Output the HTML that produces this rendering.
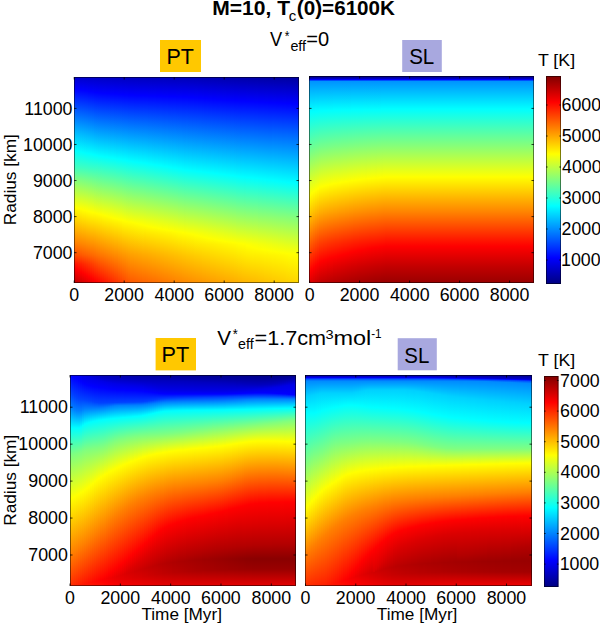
<!DOCTYPE html><html><head><meta charset="utf-8"><style>html,body{margin:0;padding:0;background:#fff;width:600px;height:625px;overflow:hidden}svg{display:block}</style></head><body><svg width="600" height="625" viewBox="0 0 600 625"><defs><linearGradient id="TL0" x2="0" y2="1"><stop offset="0" stop-color="#0000cc"/><stop offset="0.05825" stop-color="#0000fe"/><stop offset="0.06068" stop-color="#0002ff"/><stop offset="0.2718" stop-color="#00bcff"/><stop offset="0.3568" stop-color="#01fffe"/><stop offset="0.4417" stop-color="#42ffbd"/><stop offset="0.5049" stop-color="#89ff76"/><stop offset="0.6335" stop-color="#fffe00"/><stop offset="0.8058" stop-color="#ff8100"/><stop offset="0.8641" stop-color="#ff4e00"/><stop offset="0.9078" stop-color="#ff1200"/><stop offset="0.9272" stop-color="#ff0100"/><stop offset="1" stop-color="#bf0000"/></linearGradient><linearGradient id="TL1" x2="0" y2="1"><stop offset="0" stop-color="#0000cb"/><stop offset="0.06068" stop-color="#0000ff"/><stop offset="0.2718" stop-color="#00baff"/><stop offset="0.3592" stop-color="#01fffe"/><stop offset="0.4417" stop-color="#41ffbe"/><stop offset="0.5049" stop-color="#86ff79"/><stop offset="0.6359" stop-color="#ffff00"/><stop offset="0.8058" stop-color="#ff8300"/><stop offset="0.8641" stop-color="#ff5100"/><stop offset="0.9078" stop-color="#ff1700"/><stop offset="0.9345" stop-color="#ff0000"/><stop offset="1" stop-color="#c50000"/></linearGradient><linearGradient id="TL2" x2="0" y2="1"><stop offset="0" stop-color="#0000cb"/><stop offset="0.06311" stop-color="#0001ff"/><stop offset="0.2718" stop-color="#00b8ff"/><stop offset="0.3617" stop-color="#01fffe"/><stop offset="0.4417" stop-color="#40ffbf"/><stop offset="0.5049" stop-color="#84ff7b"/><stop offset="0.6383" stop-color="#ffff00"/><stop offset="0.8058" stop-color="#ff8500"/><stop offset="0.8641" stop-color="#ff5400"/><stop offset="0.9078" stop-color="#ff1c00"/><stop offset="0.9393" stop-color="#ff0100"/><stop offset="1" stop-color="#ca0000"/></linearGradient><linearGradient id="TL3" x2="0" y2="1"><stop offset="0" stop-color="#0000ca"/><stop offset="0.06311" stop-color="#0000ff"/><stop offset="0.2718" stop-color="#00b5ff"/><stop offset="0.3641" stop-color="#01fffe"/><stop offset="0.4417" stop-color="#3fffc0"/><stop offset="0.5049" stop-color="#82ff7d"/><stop offset="0.6408" stop-color="#feff01"/><stop offset="0.8058" stop-color="#ff8800"/><stop offset="0.8641" stop-color="#ff5700"/><stop offset="0.9078" stop-color="#ff2100"/><stop offset="0.9442" stop-color="#ff0200"/><stop offset="0.9466" stop-color="#ff0000"/><stop offset="1" stop-color="#d00000"/></linearGradient><linearGradient id="TL4" x2="0" y2="1"><stop offset="0" stop-color="#0000ca"/><stop offset="0.06553" stop-color="#0001ff"/><stop offset="0.2718" stop-color="#00b3ff"/><stop offset="0.3665" stop-color="#01fffe"/><stop offset="0.4417" stop-color="#3effc1"/><stop offset="0.5049" stop-color="#80ff7f"/><stop offset="0.6311" stop-color="#f4ff0b"/><stop offset="0.6456" stop-color="#fffe00"/><stop offset="0.8058" stop-color="#ff8a00"/><stop offset="0.8641" stop-color="#ff5b00"/><stop offset="0.9078" stop-color="#ff2600"/><stop offset="0.9515" stop-color="#ff0100"/><stop offset="1" stop-color="#d50000"/></linearGradient><linearGradient id="TL5" x2="0" y2="1"><stop offset="0" stop-color="#0000c9"/><stop offset="0.06553" stop-color="#0000ff"/><stop offset="0.2718" stop-color="#00b1ff"/><stop offset="0.3689" stop-color="#01fffe"/><stop offset="0.4417" stop-color="#3dffc2"/><stop offset="0.5049" stop-color="#7eff81"/><stop offset="0.6311" stop-color="#f2ff0d"/><stop offset="0.6481" stop-color="#fffe00"/><stop offset="0.8058" stop-color="#ff8c00"/><stop offset="0.8641" stop-color="#ff5e00"/><stop offset="0.9078" stop-color="#ff2b00"/><stop offset="0.9563" stop-color="#ff0200"/><stop offset="0.9587" stop-color="#ff0000"/><stop offset="1" stop-color="#db0000"/></linearGradient><linearGradient id="TL6" x2="0" y2="1"><stop offset="0" stop-color="#0000c8"/><stop offset="0.06796" stop-color="#0001ff"/><stop offset="0.2718" stop-color="#00afff"/><stop offset="0.3714" stop-color="#01fffe"/><stop offset="0.4417" stop-color="#3cffc3"/><stop offset="0.5049" stop-color="#7cff83"/><stop offset="0.6311" stop-color="#f0ff0f"/><stop offset="0.6505" stop-color="#ffff00"/><stop offset="0.8058" stop-color="#ff8f00"/><stop offset="0.8641" stop-color="#ff6100"/><stop offset="0.9078" stop-color="#ff3000"/><stop offset="0.9636" stop-color="#ff0100"/><stop offset="1" stop-color="#e00000"/></linearGradient><linearGradient id="TL7" x2="0" y2="1"><stop offset="0" stop-color="#0000c8"/><stop offset="0.07039" stop-color="#0001ff"/><stop offset="0.2718" stop-color="#00adff"/><stop offset="0.3714" stop-color="#00ffff"/><stop offset="0.3738" stop-color="#02fffd"/><stop offset="0.4417" stop-color="#3affc5"/><stop offset="0.5049" stop-color="#7aff85"/><stop offset="0.6311" stop-color="#edff12"/><stop offset="0.6529" stop-color="#ffff00"/><stop offset="0.8058" stop-color="#ff9100"/><stop offset="0.8641" stop-color="#ff6400"/><stop offset="0.9078" stop-color="#ff3500"/><stop offset="0.9709" stop-color="#ff0000"/><stop offset="1" stop-color="#e60000"/></linearGradient><linearGradient id="TL8" x2="0" y2="1"><stop offset="0" stop-color="#0000c7"/><stop offset="0.07039" stop-color="#0000ff"/><stop offset="0.2718" stop-color="#00abff"/><stop offset="0.3738" stop-color="#00ffff"/><stop offset="0.3762" stop-color="#02fffd"/><stop offset="0.4417" stop-color="#39ffc6"/><stop offset="0.5049" stop-color="#78ff87"/><stop offset="0.6311" stop-color="#ebff14"/><stop offset="0.6553" stop-color="#ffff00"/><stop offset="0.8058" stop-color="#ff9300"/><stop offset="0.8641" stop-color="#ff6700"/><stop offset="0.9078" stop-color="#ff3a00"/><stop offset="0.9757" stop-color="#ff0100"/><stop offset="1" stop-color="#eb0000"/></linearGradient><linearGradient id="TL9" x2="0" y2="1"><stop offset="0" stop-color="#0000c7"/><stop offset="0.07282" stop-color="#0001ff"/><stop offset="0.2718" stop-color="#00a9ff"/><stop offset="0.3762" stop-color="#00ffff"/><stop offset="0.4417" stop-color="#38ffc7"/><stop offset="0.5049" stop-color="#75ff8a"/><stop offset="0.6311" stop-color="#e9ff16"/><stop offset="0.6578" stop-color="#ffff00"/><stop offset="0.8641" stop-color="#ff6a00"/><stop offset="0.9078" stop-color="#ff3f00"/><stop offset="0.983" stop-color="#ff0000"/><stop offset="1" stop-color="#f10000"/></linearGradient><linearGradient id="TL10" x2="0" y2="1"><stop offset="0" stop-color="#0000c6"/><stop offset="0.07524" stop-color="#0001ff"/><stop offset="0.3786" stop-color="#00ffff"/><stop offset="0.4417" stop-color="#37ffc8"/><stop offset="0.5049" stop-color="#73ff8c"/><stop offset="0.6602" stop-color="#fffe00"/><stop offset="0.8641" stop-color="#ff6d00"/><stop offset="0.9078" stop-color="#ff4500"/><stop offset="0.9879" stop-color="#ff0200"/><stop offset="1" stop-color="#f60000"/></linearGradient><linearGradient id="TL11" x2="0" y2="1"><stop offset="0" stop-color="#0000c6"/><stop offset="0.07524" stop-color="#0000ff"/><stop offset="0.3811" stop-color="#01fffe"/><stop offset="0.6626" stop-color="#fffe00"/><stop offset="0.8641" stop-color="#ff7100"/><stop offset="0.9078" stop-color="#ff4a00"/><stop offset="0.9951" stop-color="#ff0100"/><stop offset="1" stop-color="#fc0000"/></linearGradient><linearGradient id="TL12" x2="0" y2="1"><stop offset="0" stop-color="#0000c5"/><stop offset="0.07767" stop-color="#0001ff"/><stop offset="0.3835" stop-color="#01fffe"/><stop offset="0.665" stop-color="#fffe00"/><stop offset="0.8641" stop-color="#ff7400"/><stop offset="1" stop-color="#ff0200"/></linearGradient><linearGradient id="TL13" x2="0" y2="1"><stop offset="0" stop-color="#0000c5"/><stop offset="0.07767" stop-color="#0000ff"/><stop offset="0.3835" stop-color="#00feff"/><stop offset="0.3859" stop-color="#02fffd"/><stop offset="0.6675" stop-color="#fffe00"/><stop offset="0.8641" stop-color="#ff7700"/><stop offset="1" stop-color="#ff0800"/></linearGradient><linearGradient id="TL14" x2="0" y2="1"><stop offset="0" stop-color="#0000c4"/><stop offset="0.0801" stop-color="#0001ff"/><stop offset="0.3859" stop-color="#00ffff"/><stop offset="0.6699" stop-color="#ffff00"/><stop offset="0.8641" stop-color="#ff7900"/><stop offset="1" stop-color="#ff0d00"/></linearGradient><linearGradient id="TL15" x2="0" y2="1"><stop offset="0" stop-color="#0000c4"/><stop offset="0.0801" stop-color="#0001ff"/><stop offset="0.3883" stop-color="#01fffe"/><stop offset="0.6723" stop-color="#ffff00"/><stop offset="0.8641" stop-color="#ff7c00"/><stop offset="1" stop-color="#ff1300"/></linearGradient><linearGradient id="TL16" x2="0" y2="1"><stop offset="0" stop-color="#0000c3"/><stop offset="0.0801" stop-color="#0000ff"/><stop offset="0.3883" stop-color="#00ffff"/><stop offset="0.3908" stop-color="#02fffd"/><stop offset="0.665" stop-color="#f7ff08"/><stop offset="0.6748" stop-color="#feff01"/><stop offset="0.8641" stop-color="#ff7f00"/><stop offset="1" stop-color="#ff1800"/></linearGradient><linearGradient id="TL17" x2="0" y2="1"><stop offset="0" stop-color="#0000c3"/><stop offset="0.0801" stop-color="#0000ff"/><stop offset="0.3908" stop-color="#01fffe"/><stop offset="0.665" stop-color="#f5ff0a"/><stop offset="0.6796" stop-color="#fffe00"/><stop offset="0.7039" stop-color="#ffec00"/><stop offset="0.8641" stop-color="#ff8200"/><stop offset="1" stop-color="#ff1e00"/></linearGradient><linearGradient id="TL18" x2="0" y2="1"><stop offset="0" stop-color="#0000c3"/><stop offset="0.08252" stop-color="#0001ff"/><stop offset="0.3932" stop-color="#01fffe"/><stop offset="0.665" stop-color="#f3ff0c"/><stop offset="0.682" stop-color="#fffe00"/><stop offset="0.7039" stop-color="#ffee00"/><stop offset="0.8641" stop-color="#ff8400"/><stop offset="1" stop-color="#ff2300"/></linearGradient><linearGradient id="TL19" x2="0" y2="1"><stop offset="0" stop-color="#0000c2"/><stop offset="0.08252" stop-color="#0001ff"/><stop offset="0.3932" stop-color="#00ffff"/><stop offset="0.665" stop-color="#f1ff0e"/><stop offset="0.6845" stop-color="#ffff00"/><stop offset="0.7039" stop-color="#fff000"/><stop offset="0.8641" stop-color="#ff8700"/><stop offset="1" stop-color="#ff2800"/></linearGradient><linearGradient id="TL20" x2="0" y2="1"><stop offset="0" stop-color="#0000c2"/><stop offset="0.08252" stop-color="#0000ff"/><stop offset="0.3956" stop-color="#01fffe"/><stop offset="0.665" stop-color="#eeff11"/><stop offset="0.6869" stop-color="#ffff00"/><stop offset="0.7039" stop-color="#fff200"/><stop offset="0.8641" stop-color="#ff8a00"/><stop offset="1" stop-color="#ff2e00"/></linearGradient><linearGradient id="TL21" x2="0" y2="1"><stop offset="0" stop-color="#0000c1"/><stop offset="0.08252" stop-color="#0000ff"/><stop offset="0.3981" stop-color="#01fffe"/><stop offset="0.665" stop-color="#ecff13"/><stop offset="0.6893" stop-color="#ffff00"/><stop offset="0.7039" stop-color="#fff300"/><stop offset="1" stop-color="#ff3300"/></linearGradient><linearGradient id="TL22" x2="0" y2="1"><stop offset="0" stop-color="#0000c1"/><stop offset="0.08495" stop-color="#0001ff"/><stop offset="0.3981" stop-color="#00ffff"/><stop offset="0.665" stop-color="#eaff15"/><stop offset="0.6917" stop-color="#ffff00"/><stop offset="0.7039" stop-color="#fff500"/><stop offset="1" stop-color="#ff3900"/></linearGradient><linearGradient id="TL23" x2="0" y2="1"><stop offset="0" stop-color="#0000c1"/><stop offset="0.08495" stop-color="#0001ff"/><stop offset="0.4005" stop-color="#01fffe"/><stop offset="0.665" stop-color="#e8ff17"/><stop offset="0.6942" stop-color="#ffff00"/><stop offset="0.7039" stop-color="#fff700"/><stop offset="0.8641" stop-color="#ff9200"/><stop offset="1" stop-color="#ff3e00"/></linearGradient><linearGradient id="TL24" x2="0" y2="1"><stop offset="0" stop-color="#0000c0"/><stop offset="0.08495" stop-color="#0000ff"/><stop offset="0.4029" stop-color="#01fffe"/><stop offset="0.665" stop-color="#e5ff1a"/><stop offset="0.6966" stop-color="#ffff00"/><stop offset="0.8641" stop-color="#ff9500"/><stop offset="1" stop-color="#ff4400"/></linearGradient><linearGradient id="TL25" x2="0" y2="1"><stop offset="0" stop-color="#0000c0"/><stop offset="0.08738" stop-color="#0001ff"/><stop offset="0.4029" stop-color="#00ffff"/><stop offset="0.4053" stop-color="#02fffd"/><stop offset="0.699" stop-color="#ffff00"/><stop offset="0.8641" stop-color="#ff9700"/><stop offset="1" stop-color="#ff4900"/></linearGradient><linearGradient id="TL26" x2="0" y2="1"><stop offset="0" stop-color="#0000bf"/><stop offset="0.08738" stop-color="#0001ff"/><stop offset="0.4053" stop-color="#00ffff"/><stop offset="0.7015" stop-color="#fffe00"/><stop offset="0.8641" stop-color="#ff9a00"/><stop offset="1" stop-color="#ff4f00"/></linearGradient><linearGradient id="TL27" x2="0" y2="1"><stop offset="0" stop-color="#0000bf"/><stop offset="0.08738" stop-color="#0000ff"/><stop offset="0.4078" stop-color="#01fffe"/><stop offset="0.7039" stop-color="#fffe00"/><stop offset="0.8641" stop-color="#ff9d00"/><stop offset="1" stop-color="#ff5400"/></linearGradient><linearGradient id="TL28" x2="0" y2="1"><stop offset="0" stop-color="#0000bf"/><stop offset="0.08738" stop-color="#0000ff"/><stop offset="0.4078" stop-color="#00feff"/><stop offset="0.4102" stop-color="#02fffd"/><stop offset="0.7039" stop-color="#feff01"/><stop offset="0.8641" stop-color="#ff9f00"/><stop offset="1" stop-color="#ff5800"/></linearGradient><linearGradient id="TL29" x2="0" y2="1"><stop offset="0" stop-color="#0000be"/><stop offset="0.08738" stop-color="#0000ff"/><stop offset="0.4102" stop-color="#00ffff"/><stop offset="0.7063" stop-color="#feff01"/><stop offset="0.8641" stop-color="#ffa000"/><stop offset="1" stop-color="#ff5900"/></linearGradient><linearGradient id="TL30" x2="0" y2="1"><stop offset="0" stop-color="#0000be"/><stop offset="0.08981" stop-color="#0001ff"/><stop offset="0.4126" stop-color="#01fffe"/><stop offset="0.7087" stop-color="#feff01"/><stop offset="0.8641" stop-color="#ffa200"/><stop offset="1" stop-color="#ff5b00"/></linearGradient><linearGradient id="TL31" x2="0" y2="1"><stop offset="0" stop-color="#0000be"/><stop offset="0.08981" stop-color="#0001ff"/><stop offset="0.4126" stop-color="#00ffff"/><stop offset="0.7039" stop-color="#f9ff06"/><stop offset="0.7112" stop-color="#feff01"/><stop offset="0.8641" stop-color="#ffa300"/><stop offset="1" stop-color="#ff5d00"/></linearGradient><linearGradient id="TL32" x2="0" y2="1"><stop offset="0" stop-color="#0000bd"/><stop offset="0.08981" stop-color="#0001ff"/><stop offset="0.415" stop-color="#01fffe"/><stop offset="0.7039" stop-color="#f8ff07"/><stop offset="0.7136" stop-color="#feff01"/><stop offset="0.8641" stop-color="#ffa500"/><stop offset="1" stop-color="#ff5f00"/></linearGradient><linearGradient id="TL33" x2="0" y2="1"><stop offset="0" stop-color="#0000bd"/><stop offset="0.08981" stop-color="#0000ff"/><stop offset="0.415" stop-color="#00ffff"/><stop offset="0.7039" stop-color="#f6ff09"/><stop offset="0.716" stop-color="#feff01"/><stop offset="0.8641" stop-color="#ffa600"/><stop offset="1" stop-color="#ff6100"/></linearGradient><linearGradient id="TL34" x2="0" y2="1"><stop offset="0" stop-color="#0000bd"/><stop offset="0.08981" stop-color="#0000ff"/><stop offset="0.4175" stop-color="#01fffe"/><stop offset="0.7039" stop-color="#f5ff0a"/><stop offset="0.7184" stop-color="#feff01"/><stop offset="0.8641" stop-color="#ffa800"/><stop offset="1" stop-color="#ff6300"/></linearGradient><linearGradient id="TL35" x2="0" y2="1"><stop offset="0" stop-color="#0000bd"/><stop offset="0.08981" stop-color="#0000ff"/><stop offset="0.4175" stop-color="#00ffff"/><stop offset="0.4199" stop-color="#02fffd"/><stop offset="0.7039" stop-color="#f3ff0c"/><stop offset="0.7209" stop-color="#feff01"/><stop offset="0.7573" stop-color="#ffe700"/><stop offset="0.8641" stop-color="#ffa900"/><stop offset="1" stop-color="#ff6400"/></linearGradient><linearGradient id="TL36" x2="0" y2="1"><stop offset="0" stop-color="#0000bc"/><stop offset="0.08981" stop-color="#0000ff"/><stop offset="0.4199" stop-color="#00ffff"/><stop offset="0.7039" stop-color="#f1ff0e"/><stop offset="0.7233" stop-color="#ffff00"/><stop offset="0.7573" stop-color="#ffe900"/><stop offset="0.8641" stop-color="#ffaa00"/><stop offset="1" stop-color="#ff6600"/></linearGradient><linearGradient id="TL37" x2="0" y2="1"><stop offset="0" stop-color="#0000bc"/><stop offset="0.09223" stop-color="#0001ff"/><stop offset="0.4223" stop-color="#01fffe"/><stop offset="0.7039" stop-color="#f0ff0f"/><stop offset="0.7257" stop-color="#ffff00"/><stop offset="0.7573" stop-color="#ffea00"/><stop offset="0.8641" stop-color="#ffac00"/><stop offset="1" stop-color="#ff6800"/></linearGradient><linearGradient id="TL38" x2="0" y2="1"><stop offset="0" stop-color="#0000bc"/><stop offset="0.09223" stop-color="#0001ff"/><stop offset="0.4223" stop-color="#00ffff"/><stop offset="0.7039" stop-color="#eeff11"/><stop offset="0.7282" stop-color="#ffff00"/><stop offset="0.7573" stop-color="#ffeb00"/><stop offset="0.8641" stop-color="#ffad00"/><stop offset="1" stop-color="#ff6a00"/></linearGradient><linearGradient id="TL39" x2="0" y2="1"><stop offset="0" stop-color="#0000bb"/><stop offset="0.09223" stop-color="#0001ff"/><stop offset="0.4248" stop-color="#01fffe"/><stop offset="0.7039" stop-color="#edff12"/><stop offset="0.7306" stop-color="#ffff00"/><stop offset="0.7573" stop-color="#ffec00"/><stop offset="0.8641" stop-color="#ffaf00"/><stop offset="1" stop-color="#ff6c00"/></linearGradient><linearGradient id="TL40" x2="0" y2="1"><stop offset="0" stop-color="#0000bb"/><stop offset="0.09223" stop-color="#0001ff"/><stop offset="0.4272" stop-color="#01fffe"/><stop offset="0.7039" stop-color="#ebff14"/><stop offset="0.7306" stop-color="#feff01"/><stop offset="0.7573" stop-color="#ffed00"/><stop offset="0.8641" stop-color="#ffb000"/><stop offset="1" stop-color="#ff6d00"/></linearGradient><linearGradient id="TL41" x2="0" y2="1"><stop offset="0" stop-color="#0000bb"/><stop offset="0.09223" stop-color="#0000ff"/><stop offset="0.4272" stop-color="#00ffff"/><stop offset="0.7039" stop-color="#eaff15"/><stop offset="0.733" stop-color="#feff01"/><stop offset="0.7573" stop-color="#ffee00"/><stop offset="0.8641" stop-color="#ffb200"/><stop offset="1" stop-color="#ff6f00"/></linearGradient><linearGradient id="TL42" x2="0" y2="1"><stop offset="0" stop-color="#0000bb"/><stop offset="0.09223" stop-color="#0000ff"/><stop offset="0.4296" stop-color="#01fffe"/><stop offset="0.7039" stop-color="#e8ff17"/><stop offset="0.7354" stop-color="#ffff00"/><stop offset="0.7573" stop-color="#ffef00"/><stop offset="0.8641" stop-color="#ffb300"/><stop offset="1" stop-color="#ff7100"/></linearGradient><linearGradient id="TL43" x2="0" y2="1"><stop offset="0" stop-color="#0000ba"/><stop offset="0.09223" stop-color="#0000ff"/><stop offset="0.4296" stop-color="#00ffff"/><stop offset="0.432" stop-color="#02fffd"/><stop offset="0.7039" stop-color="#e6ff19"/><stop offset="0.7379" stop-color="#ffff00"/><stop offset="0.7573" stop-color="#fff100"/><stop offset="0.8641" stop-color="#ffb500"/><stop offset="1" stop-color="#ff7300"/></linearGradient><linearGradient id="TL44" x2="0" y2="1"><stop offset="0" stop-color="#0000ba"/><stop offset="0.09466" stop-color="#0001ff"/><stop offset="0.432" stop-color="#00ffff"/><stop offset="0.7039" stop-color="#e5ff1a"/><stop offset="0.7403" stop-color="#fffe00"/><stop offset="0.7573" stop-color="#fff200"/><stop offset="0.8641" stop-color="#ffb600"/><stop offset="1" stop-color="#ff7500"/></linearGradient><linearGradient id="TL45" x2="0" y2="1"><stop offset="0" stop-color="#0000ba"/><stop offset="0.09466" stop-color="#0001ff"/><stop offset="0.4345" stop-color="#01fffe"/><stop offset="0.7039" stop-color="#e3ff1c"/><stop offset="0.7403" stop-color="#feff01"/><stop offset="0.7573" stop-color="#fff300"/><stop offset="0.8641" stop-color="#ffb800"/><stop offset="1" stop-color="#ff7700"/></linearGradient><linearGradient id="TL46" x2="0" y2="1"><stop offset="0" stop-color="#0000b9"/><stop offset="0.09466" stop-color="#0001ff"/><stop offset="0.4345" stop-color="#00ffff"/><stop offset="0.7039" stop-color="#e2ff1d"/><stop offset="0.7427" stop-color="#ffff00"/><stop offset="0.7573" stop-color="#fff400"/><stop offset="0.8641" stop-color="#ffb900"/><stop offset="1" stop-color="#ff7800"/></linearGradient><linearGradient id="TL47" x2="0" y2="1"><stop offset="0" stop-color="#0000b9"/><stop offset="0.09466" stop-color="#0000ff"/><stop offset="0.4369" stop-color="#00ffff"/><stop offset="0.7039" stop-color="#e0ff1f"/><stop offset="0.7451" stop-color="#fffe00"/><stop offset="0.7573" stop-color="#fff500"/><stop offset="0.8641" stop-color="#ffbb00"/><stop offset="1" stop-color="#ff7a00"/></linearGradient><linearGradient id="TL48" x2="0" y2="1"><stop offset="0" stop-color="#0000b9"/><stop offset="0.09466" stop-color="#0000ff"/><stop offset="0.4393" stop-color="#01fffe"/><stop offset="0.7039" stop-color="#deff21"/><stop offset="0.7451" stop-color="#feff01"/><stop offset="0.7573" stop-color="#fff600"/><stop offset="0.8641" stop-color="#ffbc00"/><stop offset="1" stop-color="#ff7c00"/></linearGradient><linearGradient id="TL49" x2="0" y2="1"><stop offset="0" stop-color="#0000b8"/><stop offset="0.09466" stop-color="#0000ff"/><stop offset="0.4417" stop-color="#01fffe"/><stop offset="0.7039" stop-color="#ddff22"/><stop offset="0.7476" stop-color="#ffff00"/><stop offset="0.7573" stop-color="#fff800"/><stop offset="0.8641" stop-color="#ffbd00"/><stop offset="1" stop-color="#ff7e00"/></linearGradient><linearGradient id="TL50" x2="0" y2="1"><stop offset="0" stop-color="#0000b8"/><stop offset="0.09466" stop-color="#0000ff"/><stop offset="0.4417" stop-color="#00ffff"/><stop offset="0.7039" stop-color="#dbff24"/><stop offset="0.75" stop-color="#fffe00"/><stop offset="0.7573" stop-color="#fff900"/><stop offset="0.8641" stop-color="#ffbf00"/><stop offset="1" stop-color="#ff8000"/></linearGradient><linearGradient id="TL51" x2="0" y2="1"><stop offset="0" stop-color="#0000b8"/><stop offset="0.09709" stop-color="#0001ff"/><stop offset="0.4442" stop-color="#01fffe"/><stop offset="0.7039" stop-color="#daff25"/><stop offset="0.75" stop-color="#feff01"/><stop offset="0.8641" stop-color="#ffc000"/><stop offset="1" stop-color="#ff8200"/></linearGradient><linearGradient id="TL52" x2="0" y2="1"><stop offset="0" stop-color="#0000b8"/><stop offset="0.09709" stop-color="#0001ff"/><stop offset="0.4466" stop-color="#01fffe"/><stop offset="0.7524" stop-color="#ffff00"/><stop offset="0.8641" stop-color="#ffc200"/><stop offset="1" stop-color="#ff8300"/></linearGradient><linearGradient id="TL53" x2="0" y2="1"><stop offset="0" stop-color="#0000b7"/><stop offset="0.09709" stop-color="#0001ff"/><stop offset="0.4466" stop-color="#00ffff"/><stop offset="0.7524" stop-color="#feff01"/><stop offset="0.8641" stop-color="#ffc300"/><stop offset="1" stop-color="#ff8500"/></linearGradient><linearGradient id="TL54" x2="0" y2="1"><stop offset="0" stop-color="#0000b7"/><stop offset="0.09709" stop-color="#0000ff"/><stop offset="0.449" stop-color="#00ffff"/><stop offset="0.7549" stop-color="#ffff00"/><stop offset="0.8641" stop-color="#ffc500"/><stop offset="1" stop-color="#ff8700"/></linearGradient><linearGradient id="TL55" x2="0" y2="1"><stop offset="0" stop-color="#0000b7"/><stop offset="0.09709" stop-color="#0000ff"/><stop offset="0.4515" stop-color="#01fffe"/><stop offset="0.7573" stop-color="#fffe00"/><stop offset="0.8641" stop-color="#ffc600"/><stop offset="1" stop-color="#ff8900"/></linearGradient><linearGradient id="TL56" x2="0" y2="1"><stop offset="0" stop-color="#0000b6"/><stop offset="0.09709" stop-color="#0000ff"/><stop offset="0.4515" stop-color="#00ffff"/><stop offset="0.4539" stop-color="#02fffd"/><stop offset="0.7573" stop-color="#feff01"/><stop offset="0.8641" stop-color="#ffc800"/><stop offset="1" stop-color="#ff8a00"/></linearGradient><linearGradient id="TL57" x2="0" y2="1"><stop offset="0" stop-color="#0000b6"/><stop offset="0.09951" stop-color="#0001ff"/><stop offset="0.4539" stop-color="#01fffe"/><stop offset="0.7597" stop-color="#feff01"/><stop offset="0.8641" stop-color="#ffc900"/><stop offset="1" stop-color="#ff8c00"/></linearGradient><linearGradient id="TL58" x2="0" y2="1"><stop offset="0" stop-color="#0000b5"/><stop offset="0.09951" stop-color="#0000ff"/><stop offset="0.4539" stop-color="#00ffff"/><stop offset="0.7621" stop-color="#feff01"/><stop offset="0.8641" stop-color="#ffca00"/><stop offset="1" stop-color="#ff8d00"/></linearGradient><linearGradient id="TL59" x2="0" y2="1"><stop offset="0" stop-color="#0000b5"/><stop offset="0.09951" stop-color="#0000ff"/><stop offset="0.4563" stop-color="#01fffe"/><stop offset="0.7573" stop-color="#faff05"/><stop offset="0.7646" stop-color="#feff01"/><stop offset="0.8641" stop-color="#ffcb00"/><stop offset="1" stop-color="#ff8f00"/></linearGradient><linearGradient id="TL60" x2="0" y2="1"><stop offset="0" stop-color="#0000b4"/><stop offset="0.1019" stop-color="#0001ff"/><stop offset="0.4563" stop-color="#00ffff"/><stop offset="0.7573" stop-color="#f8ff07"/><stop offset="0.767" stop-color="#feff01"/><stop offset="0.8641" stop-color="#ffcd00"/><stop offset="1" stop-color="#ff9000"/></linearGradient><linearGradient id="TL61" x2="0" y2="1"><stop offset="0" stop-color="#0000b4"/><stop offset="0.1019" stop-color="#0001ff"/><stop offset="0.4587" stop-color="#01fffe"/><stop offset="0.7573" stop-color="#f7ff08"/><stop offset="0.7694" stop-color="#feff01"/><stop offset="0.8641" stop-color="#ffce00"/><stop offset="1" stop-color="#ff9200"/></linearGradient><linearGradient id="TL62" x2="0" y2="1"><stop offset="0" stop-color="#0000b3"/><stop offset="0.1019" stop-color="#0000ff"/><stop offset="0.4587" stop-color="#00ffff"/><stop offset="0.7573" stop-color="#f5ff0a"/><stop offset="0.7718" stop-color="#feff01"/><stop offset="0.8641" stop-color="#ffcf00"/><stop offset="1" stop-color="#ff9300"/></linearGradient><linearGradient id="TL63" x2="0" y2="1"><stop offset="0" stop-color="#0000b3"/><stop offset="0.1019" stop-color="#0000ff"/><stop offset="0.4587" stop-color="#00ffff"/><stop offset="0.4612" stop-color="#02fffd"/><stop offset="0.7573" stop-color="#f4ff0b"/><stop offset="0.7743" stop-color="#feff01"/><stop offset="0.8107" stop-color="#ffea00"/><stop offset="0.8641" stop-color="#ffd000"/><stop offset="1" stop-color="#ff9400"/></linearGradient><linearGradient id="TL64" x2="0" y2="1"><stop offset="0" stop-color="#0000b2"/><stop offset="0.1044" stop-color="#0001ff"/><stop offset="0.4612" stop-color="#01fffe"/><stop offset="0.7573" stop-color="#f3ff0c"/><stop offset="0.7767" stop-color="#feff01"/><stop offset="0.8107" stop-color="#ffeb00"/><stop offset="0.8641" stop-color="#ffd200"/><stop offset="1" stop-color="#ff9600"/></linearGradient><linearGradient id="TL65" x2="0" y2="1"><stop offset="0" stop-color="#0000b2"/><stop offset="0.1044" stop-color="#0000ff"/><stop offset="0.4612" stop-color="#00ffff"/><stop offset="0.7573" stop-color="#f1ff0e"/><stop offset="0.7791" stop-color="#feff01"/><stop offset="0.8107" stop-color="#ffec00"/><stop offset="0.8641" stop-color="#ffd300"/><stop offset="1" stop-color="#ff9700"/></linearGradient><linearGradient id="TL66" x2="0" y2="1"><stop offset="0" stop-color="#0000b1"/><stop offset="0.1044" stop-color="#0000ff"/><stop offset="0.4636" stop-color="#01fffe"/><stop offset="0.7573" stop-color="#f0ff0f"/><stop offset="0.7816" stop-color="#ffff00"/><stop offset="0.8107" stop-color="#ffed00"/><stop offset="0.8641" stop-color="#ffd400"/><stop offset="1" stop-color="#ff9900"/></linearGradient><linearGradient id="TL67" x2="0" y2="1"><stop offset="0" stop-color="#0000b1"/><stop offset="0.1068" stop-color="#0001ff"/><stop offset="0.4636" stop-color="#00ffff"/><stop offset="0.7573" stop-color="#eeff11"/><stop offset="0.784" stop-color="#ffff00"/><stop offset="0.8107" stop-color="#ffee00"/><stop offset="0.8641" stop-color="#ffd500"/><stop offset="1" stop-color="#ff9a00"/></linearGradient><linearGradient id="TL68" x2="0" y2="1"><stop offset="0" stop-color="#0000b0"/><stop offset="0.1068" stop-color="#0001ff"/><stop offset="0.466" stop-color="#01fffe"/><stop offset="0.7573" stop-color="#edff12"/><stop offset="0.7864" stop-color="#ffff00"/><stop offset="0.8107" stop-color="#ffef00"/><stop offset="1" stop-color="#ff9c00"/></linearGradient><linearGradient id="TL69" x2="0" y2="1"><stop offset="0" stop-color="#0000b0"/><stop offset="0.1068" stop-color="#0000ff"/><stop offset="0.466" stop-color="#00ffff"/><stop offset="0.7573" stop-color="#ebff14"/><stop offset="0.7864" stop-color="#feff01"/><stop offset="0.8107" stop-color="#fff000"/><stop offset="1" stop-color="#ff9d00"/></linearGradient><linearGradient id="TL70" x2="0" y2="1"><stop offset="0" stop-color="#0000af"/><stop offset="0.1068" stop-color="#0000ff"/><stop offset="0.4684" stop-color="#01fffe"/><stop offset="0.7573" stop-color="#eaff15"/><stop offset="0.7888" stop-color="#feff01"/><stop offset="0.8107" stop-color="#fff100"/><stop offset="1" stop-color="#ff9e00"/></linearGradient><linearGradient id="TL71" x2="0" y2="1"><stop offset="0" stop-color="#0000af"/><stop offset="0.1092" stop-color="#0001ff"/><stop offset="0.4684" stop-color="#00ffff"/><stop offset="0.7573" stop-color="#e8ff17"/><stop offset="0.7913" stop-color="#ffff00"/><stop offset="0.8107" stop-color="#fff200"/><stop offset="1" stop-color="#ffa000"/></linearGradient><linearGradient id="TL72" x2="0" y2="1"><stop offset="0" stop-color="#0000ae"/><stop offset="0.1092" stop-color="#0001ff"/><stop offset="0.4709" stop-color="#01fffe"/><stop offset="0.7573" stop-color="#e7ff18"/><stop offset="0.7937" stop-color="#ffff00"/><stop offset="0.8107" stop-color="#fff300"/><stop offset="1" stop-color="#ffa100"/></linearGradient><linearGradient id="TL73" x2="0" y2="1"><stop offset="0" stop-color="#0000ae"/><stop offset="0.1092" stop-color="#0000ff"/><stop offset="0.4709" stop-color="#00ffff"/><stop offset="0.7573" stop-color="#e5ff1a"/><stop offset="0.7937" stop-color="#feff01"/><stop offset="0.8107" stop-color="#fff400"/><stop offset="1" stop-color="#ffa300"/></linearGradient><linearGradient id="TL74" x2="0" y2="1"><stop offset="0" stop-color="#0000ad"/><stop offset="0.1117" stop-color="#0001ff"/><stop offset="0.4733" stop-color="#01fffe"/><stop offset="0.7573" stop-color="#e4ff1b"/><stop offset="0.7961" stop-color="#ffff00"/><stop offset="0.8107" stop-color="#fff500"/><stop offset="1" stop-color="#ffa400"/></linearGradient><linearGradient id="TL75" x2="0" y2="1"><stop offset="0" stop-color="#0000ad"/><stop offset="0.1117" stop-color="#0001ff"/><stop offset="0.4733" stop-color="#00ffff"/><stop offset="0.7573" stop-color="#e2ff1d"/><stop offset="0.7985" stop-color="#ffff00"/><stop offset="0.8107" stop-color="#fff600"/><stop offset="1" stop-color="#ffa600"/></linearGradient><linearGradient id="TL76" x2="0" y2="1"><stop offset="0" stop-color="#0000ac"/><stop offset="0.1117" stop-color="#0000ff"/><stop offset="0.4757" stop-color="#01fffe"/><stop offset="0.7573" stop-color="#e1ff1e"/><stop offset="0.7985" stop-color="#feff01"/><stop offset="0.8107" stop-color="#fff700"/><stop offset="1" stop-color="#ffa700"/></linearGradient><linearGradient id="TL77" x2="0" y2="1"><stop offset="0" stop-color="#0000ac"/><stop offset="0.1117" stop-color="#0000ff"/><stop offset="0.4757" stop-color="#00ffff"/><stop offset="0.7573" stop-color="#dfff20"/><stop offset="0.801" stop-color="#ffff00"/><stop offset="0.8107" stop-color="#fff800"/><stop offset="1" stop-color="#ffa800"/></linearGradient><linearGradient id="TL78" x2="0" y2="1"><stop offset="0" stop-color="#0000ab"/><stop offset="0.1141" stop-color="#0001ff"/><stop offset="0.4782" stop-color="#01fffe"/><stop offset="0.7573" stop-color="#deff21"/><stop offset="0.801" stop-color="#feff01"/><stop offset="0.8107" stop-color="#fff900"/><stop offset="1" stop-color="#ffaa00"/></linearGradient><linearGradient id="TL79" x2="0" y2="1"><stop offset="0" stop-color="#0000ab"/><stop offset="0.1141" stop-color="#0001ff"/><stop offset="0.4782" stop-color="#00ffff"/><stop offset="0.7573" stop-color="#dcff23"/><stop offset="0.8034" stop-color="#ffff00"/><stop offset="0.8107" stop-color="#fffa00"/><stop offset="1" stop-color="#ffab00"/></linearGradient><linearGradient id="TL80" x2="0" y2="1"><stop offset="0" stop-color="#0000aa"/><stop offset="0.1141" stop-color="#0000ff"/><stop offset="0.4806" stop-color="#01fffe"/><stop offset="0.7573" stop-color="#dbff24"/><stop offset="0.8058" stop-color="#ffff00"/><stop offset="0.8107" stop-color="#fffb00"/><stop offset="1" stop-color="#ffad00"/></linearGradient><linearGradient id="TL81" x2="0" y2="1"><stop offset="0" stop-color="#0000aa"/><stop offset="0.1141" stop-color="#0000ff"/><stop offset="0.483" stop-color="#01fffe"/><stop offset="0.8058" stop-color="#feff01"/><stop offset="1" stop-color="#ffae00"/></linearGradient><linearGradient id="TL82" x2="0" y2="1"><stop offset="0" stop-color="#0000a9"/><stop offset="0.1165" stop-color="#0001ff"/><stop offset="0.483" stop-color="#00ffff"/><stop offset="0.8083" stop-color="#ffff00"/><stop offset="1" stop-color="#ffb000"/></linearGradient><linearGradient id="TL83" x2="0" y2="1"><stop offset="0" stop-color="#0000a9"/><stop offset="0.1165" stop-color="#0000ff"/><stop offset="0.4854" stop-color="#01fffe"/><stop offset="0.8083" stop-color="#feff01"/><stop offset="1" stop-color="#ffb100"/></linearGradient><linearGradient id="TL84" x2="0" y2="1"><stop offset="0" stop-color="#0000a8"/><stop offset="0.1165" stop-color="#0000ff"/><stop offset="0.4854" stop-color="#00ffff"/><stop offset="0.8107" stop-color="#ffff00"/><stop offset="1" stop-color="#ffb300"/></linearGradient><linearGradient id="TL85" x2="0" y2="1"><stop offset="0" stop-color="#0000a8"/><stop offset="0.1165" stop-color="#0000ff"/><stop offset="0.4854" stop-color="#00feff"/><stop offset="0.8107" stop-color="#feff01"/><stop offset="0.8641" stop-color="#ffeb00"/><stop offset="1" stop-color="#ffb400"/></linearGradient><linearGradient id="TL86" x2="0" y2="1"><stop offset="0" stop-color="#0000a8"/><stop offset="0.1189" stop-color="#0001ff"/><stop offset="0.4879" stop-color="#00ffff"/><stop offset="0.8107" stop-color="#fcff03"/><stop offset="0.818" stop-color="#ffff00"/><stop offset="1" stop-color="#ffb500"/></linearGradient><linearGradient id="TL87" x2="0" y2="1"><stop offset="0" stop-color="#0000a7"/><stop offset="0.1189" stop-color="#0001ff"/><stop offset="0.4879" stop-color="#00ffff"/><stop offset="0.8107" stop-color="#fbff04"/><stop offset="0.8204" stop-color="#ffff00"/><stop offset="1" stop-color="#ffb600"/></linearGradient><linearGradient id="TL88" x2="0" y2="1"><stop offset="0" stop-color="#0000a7"/><stop offset="0.1189" stop-color="#0000ff"/><stop offset="0.4879" stop-color="#00feff"/><stop offset="0.5194" stop-color="#17ffe8"/><stop offset="0.8107" stop-color="#faff05"/><stop offset="0.8252" stop-color="#fffe00"/><stop offset="1" stop-color="#ffb800"/></linearGradient><linearGradient id="TL89" x2="0" y2="1"><stop offset="0" stop-color="#0000a6"/><stop offset="0.1189" stop-color="#0000ff"/><stop offset="0.4903" stop-color="#00ffff"/><stop offset="0.8107" stop-color="#f8ff07"/><stop offset="0.8277" stop-color="#fffe00"/><stop offset="1" stop-color="#ffb900"/></linearGradient><linearGradient id="TL90" x2="0" y2="1"><stop offset="0" stop-color="#0000a6"/><stop offset="0.1214" stop-color="#0001ff"/><stop offset="0.4903" stop-color="#00feff"/><stop offset="0.5194" stop-color="#15ffea"/><stop offset="0.6796" stop-color="#93ff6c"/><stop offset="0.8107" stop-color="#f7ff08"/><stop offset="0.8301" stop-color="#fffe00"/><stop offset="0.8641" stop-color="#ffef00"/><stop offset="1" stop-color="#ffba00"/></linearGradient><linearGradient id="TL91" x2="0" y2="1"><stop offset="0" stop-color="#0000a6"/><stop offset="0.1214" stop-color="#0001ff"/><stop offset="0.4927" stop-color="#00ffff"/><stop offset="0.6796" stop-color="#92ff6d"/><stop offset="0.8107" stop-color="#f6ff09"/><stop offset="0.8325" stop-color="#fffe00"/><stop offset="0.8641" stop-color="#fff000"/><stop offset="1" stop-color="#ffbb00"/></linearGradient><linearGradient id="TL92" x2="0" y2="1"><stop offset="0" stop-color="#0000a5"/><stop offset="0.1214" stop-color="#0000ff"/><stop offset="0.4927" stop-color="#00feff"/><stop offset="0.8107" stop-color="#f4ff0b"/><stop offset="0.835" stop-color="#fffe00"/><stop offset="0.8641" stop-color="#fff000"/><stop offset="1" stop-color="#ffbd00"/></linearGradient><linearGradient id="TL93" x2="0" y2="1"><stop offset="0" stop-color="#0000a5"/><stop offset="0.1214" stop-color="#0000ff"/><stop offset="0.4951" stop-color="#00ffff"/><stop offset="0.6796" stop-color="#90ff6f"/><stop offset="0.8107" stop-color="#f3ff0c"/><stop offset="0.8374" stop-color="#fffe00"/><stop offset="0.8641" stop-color="#fff100"/><stop offset="1" stop-color="#ffbe00"/></linearGradient><linearGradient id="TL94" x2="0" y2="1"><stop offset="0" stop-color="#0000a5"/><stop offset="0.1214" stop-color="#0000ff"/><stop offset="0.4951" stop-color="#00feff"/><stop offset="0.5194" stop-color="#11ffee"/><stop offset="0.6796" stop-color="#8fff70"/><stop offset="0.8107" stop-color="#f2ff0d"/><stop offset="0.8374" stop-color="#ffff00"/><stop offset="0.8641" stop-color="#fff200"/><stop offset="1" stop-color="#ffbf00"/></linearGradient><linearGradient id="TL95" x2="0" y2="1"><stop offset="0" stop-color="#0000a4"/><stop offset="0.1238" stop-color="#0001ff"/><stop offset="0.4976" stop-color="#00ffff"/><stop offset="0.6796" stop-color="#8fff70"/><stop offset="0.8107" stop-color="#f1ff0e"/><stop offset="0.8398" stop-color="#ffff00"/><stop offset="0.8641" stop-color="#fff300"/><stop offset="1" stop-color="#ffc100"/></linearGradient><linearGradient id="TL96" x2="0" y2="1"><stop offset="0" stop-color="#0000a4"/><stop offset="0.1238" stop-color="#0001ff"/><stop offset="0.4976" stop-color="#00feff"/><stop offset="0.5194" stop-color="#0ffff0"/><stop offset="0.6796" stop-color="#8eff71"/><stop offset="0.8107" stop-color="#efff10"/><stop offset="0.8398" stop-color="#feff01"/><stop offset="0.8641" stop-color="#fff300"/><stop offset="1" stop-color="#ffc200"/></linearGradient><linearGradient id="TL97" x2="0" y2="1"><stop offset="0" stop-color="#0000a4"/><stop offset="0.1238" stop-color="#0000ff"/><stop offset="0.5" stop-color="#00ffff"/><stop offset="0.6796" stop-color="#8dff72"/><stop offset="0.8107" stop-color="#eeff11"/><stop offset="0.8422" stop-color="#feff01"/><stop offset="0.8641" stop-color="#fff400"/><stop offset="1" stop-color="#ffc300"/></linearGradient><linearGradient id="TL98" x2="0" y2="1"><stop offset="0" stop-color="#0000a3"/><stop offset="0.1238" stop-color="#0000ff"/><stop offset="0.5" stop-color="#00feff"/><stop offset="0.5194" stop-color="#0dfff2"/><stop offset="0.6796" stop-color="#8cff73"/><stop offset="0.8107" stop-color="#edff12"/><stop offset="0.8447" stop-color="#ffff00"/><stop offset="0.8641" stop-color="#fff500"/><stop offset="1" stop-color="#ffc400"/></linearGradient><linearGradient id="TL99" x2="0" y2="1"><stop offset="0" stop-color="#0000a3"/><stop offset="0.1262" stop-color="#0001ff"/><stop offset="0.2816" stop-color="#006cff"/><stop offset="0.5024" stop-color="#00ffff"/><stop offset="0.6796" stop-color="#8bff74"/><stop offset="0.8107" stop-color="#ebff14"/><stop offset="0.8447" stop-color="#feff01"/><stop offset="0.8641" stop-color="#fff600"/><stop offset="1" stop-color="#ffc600"/></linearGradient><linearGradient id="TL100" x2="0" y2="1"><stop offset="0" stop-color="#0000a2"/><stop offset="0.1262" stop-color="#0001ff"/><stop offset="0.2816" stop-color="#006bff"/><stop offset="0.5024" stop-color="#00feff"/><stop offset="0.5194" stop-color="#0bfff4"/><stop offset="0.6796" stop-color="#8aff75"/><stop offset="0.8107" stop-color="#eaff15"/><stop offset="0.8471" stop-color="#feff01"/><stop offset="0.8641" stop-color="#fff600"/><stop offset="1" stop-color="#ffc700"/></linearGradient><linearGradient id="TL101" x2="0" y2="1"><stop offset="0" stop-color="#0000a2"/><stop offset="0.1262" stop-color="#0000ff"/><stop offset="0.2816" stop-color="#006bff"/><stop offset="0.5049" stop-color="#00ffff"/><stop offset="0.6796" stop-color="#89ff76"/><stop offset="0.8107" stop-color="#e9ff16"/><stop offset="0.8495" stop-color="#ffff00"/><stop offset="0.8641" stop-color="#fff700"/><stop offset="1" stop-color="#ffc800"/></linearGradient><linearGradient id="TL102" x2="0" y2="1"><stop offset="0" stop-color="#0000a2"/><stop offset="0.1262" stop-color="#0000ff"/><stop offset="0.2816" stop-color="#006aff"/><stop offset="0.5049" stop-color="#00feff"/><stop offset="0.5194" stop-color="#0afff5"/><stop offset="0.6796" stop-color="#88ff77"/><stop offset="0.8107" stop-color="#e7ff18"/><stop offset="0.8495" stop-color="#feff01"/><stop offset="0.8641" stop-color="#fff800"/><stop offset="1" stop-color="#ffc900"/></linearGradient><linearGradient id="TL103" x2="0" y2="1"><stop offset="0" stop-color="#0000a1"/><stop offset="0.1262" stop-color="#0000ff"/><stop offset="0.2816" stop-color="#006aff"/><stop offset="0.5073" stop-color="#00ffff"/><stop offset="0.6796" stop-color="#87ff78"/><stop offset="0.8107" stop-color="#e6ff19"/><stop offset="0.8519" stop-color="#feff01"/><stop offset="0.8641" stop-color="#fff800"/><stop offset="1" stop-color="#ffcb00"/></linearGradient><linearGradient id="TL104" x2="0" y2="1"><stop offset="0" stop-color="#0000a1"/><stop offset="0.1286" stop-color="#0001ff"/><stop offset="0.2816" stop-color="#0069ff"/><stop offset="0.5073" stop-color="#00feff"/><stop offset="0.5194" stop-color="#08fff7"/><stop offset="0.6796" stop-color="#87ff78"/><stop offset="0.8107" stop-color="#e5ff1a"/><stop offset="0.8544" stop-color="#ffff00"/><stop offset="0.8641" stop-color="#fff900"/><stop offset="1" stop-color="#ffcc00"/></linearGradient><linearGradient id="TL105" x2="0" y2="1"><stop offset="0" stop-color="#0000a1"/><stop offset="0.1286" stop-color="#0001ff"/><stop offset="0.2816" stop-color="#0069ff"/><stop offset="0.5097" stop-color="#00ffff"/><stop offset="0.6796" stop-color="#86ff79"/><stop offset="0.8107" stop-color="#e3ff1c"/><stop offset="0.8544" stop-color="#feff01"/><stop offset="0.8641" stop-color="#fffa00"/><stop offset="1" stop-color="#ffcd00"/></linearGradient><linearGradient id="TL106" x2="0" y2="1"><stop offset="0" stop-color="#0000a0"/><stop offset="0.1286" stop-color="#0000ff"/><stop offset="0.2816" stop-color="#0069ff"/><stop offset="0.5097" stop-color="#00feff"/><stop offset="0.5194" stop-color="#06fff9"/><stop offset="0.6796" stop-color="#85ff7a"/><stop offset="0.8107" stop-color="#e2ff1d"/><stop offset="0.8568" stop-color="#ffff00"/><stop offset="0.8641" stop-color="#fffb00"/><stop offset="1" stop-color="#ffcf00"/></linearGradient><linearGradient id="TL107" x2="0" y2="1"><stop offset="0" stop-color="#0000a0"/><stop offset="0.1286" stop-color="#0000ff"/><stop offset="0.2816" stop-color="#0068ff"/><stop offset="0.5121" stop-color="#00ffff"/><stop offset="0.6796" stop-color="#84ff7b"/><stop offset="0.8107" stop-color="#e1ff1e"/><stop offset="0.8568" stop-color="#feff01"/><stop offset="1" stop-color="#ffd000"/></linearGradient><linearGradient id="TL108" x2="0" y2="1"><stop offset="0" stop-color="#0000a0"/><stop offset="0.1286" stop-color="#0000ff"/><stop offset="0.2816" stop-color="#0068ff"/><stop offset="0.5121" stop-color="#00feff"/><stop offset="0.5194" stop-color="#04fffb"/><stop offset="0.6796" stop-color="#83ff7c"/><stop offset="0.8107" stop-color="#dfff20"/><stop offset="0.8592" stop-color="#ffff00"/><stop offset="1" stop-color="#ffd100"/></linearGradient><linearGradient id="TL109" x2="0" y2="1"><stop offset="0" stop-color="#00009f"/><stop offset="0.1311" stop-color="#0001ff"/><stop offset="0.2816" stop-color="#0067ff"/><stop offset="0.5146" stop-color="#00ffff"/><stop offset="0.6796" stop-color="#82ff7d"/><stop offset="0.8107" stop-color="#deff21"/><stop offset="0.8592" stop-color="#feff01"/><stop offset="1" stop-color="#ffd200"/></linearGradient><linearGradient id="TL110" x2="0" y2="1"><stop offset="0" stop-color="#00009f"/><stop offset="0.1311" stop-color="#0001ff"/><stop offset="0.2816" stop-color="#0067ff"/><stop offset="0.517" stop-color="#00ffff"/><stop offset="0.6796" stop-color="#81ff7e"/><stop offset="0.8617" stop-color="#ffff00"/><stop offset="1" stop-color="#ffd400"/></linearGradient><linearGradient id="TL111" x2="0" y2="1"><stop offset="0" stop-color="#00009e"/><stop offset="0.1311" stop-color="#0000ff"/><stop offset="0.2816" stop-color="#0066ff"/><stop offset="0.517" stop-color="#00feff"/><stop offset="0.6796" stop-color="#80ff7f"/><stop offset="0.8617" stop-color="#feff01"/><stop offset="1" stop-color="#ffd500"/></linearGradient><linearGradient id="TL112" x2="0" y2="1"><stop offset="0" stop-color="#00009e"/><stop offset="0.1311" stop-color="#0000ff"/><stop offset="0.2816" stop-color="#0066ff"/><stop offset="0.5194" stop-color="#00ffff"/><stop offset="0.6796" stop-color="#80ff7f"/><stop offset="0.8641" stop-color="#ffff00"/><stop offset="1" stop-color="#ffd600"/></linearGradient><linearGradient id="TR0" x2="0" y2="1"><stop offset="0" stop-color="#000080"/><stop offset="0.007246" stop-color="#00009e"/><stop offset="0.01449" stop-color="#0000d1"/><stop offset="0.01691" stop-color="#0000fa"/><stop offset="0.01932" stop-color="#0024ff"/><stop offset="0.02174" stop-color="#004dff"/><stop offset="0.02657" stop-color="#0094ff"/><stop offset="0.1643" stop-color="#00f9ff"/><stop offset="0.1763" stop-color="#01fffe"/><stop offset="0.3382" stop-color="#63ff9c"/><stop offset="0.4831" stop-color="#c5ff3a"/><stop offset="0.5773" stop-color="#ffff00"/><stop offset="0.657" stop-color="#ffcc00"/><stop offset="0.8019" stop-color="#ff6400"/><stop offset="0.9469" stop-color="#ff0000"/><stop offset="1" stop-color="#dd0000"/></linearGradient><linearGradient id="TR1" x2="0" y2="1"><stop offset="0" stop-color="#000080"/><stop offset="0.007246" stop-color="#00009e"/><stop offset="0.01449" stop-color="#0000d1"/><stop offset="0.01691" stop-color="#0000fa"/><stop offset="0.01932" stop-color="#0024ff"/><stop offset="0.02174" stop-color="#004dff"/><stop offset="0.02657" stop-color="#0094ff"/><stop offset="0.1643" stop-color="#00faff"/><stop offset="0.1739" stop-color="#01fffe"/><stop offset="0.3382" stop-color="#67ff98"/><stop offset="0.4831" stop-color="#cbff34"/><stop offset="0.5652" stop-color="#ffff00"/><stop offset="0.657" stop-color="#ffc400"/><stop offset="0.8019" stop-color="#ff5b00"/><stop offset="0.9348" stop-color="#ff0000"/><stop offset="1" stop-color="#d60000"/></linearGradient><linearGradient id="TR2" x2="0" y2="1"><stop offset="0" stop-color="#000080"/><stop offset="0.007246" stop-color="#00009e"/><stop offset="0.01449" stop-color="#0000d1"/><stop offset="0.01691" stop-color="#0000fa"/><stop offset="0.01932" stop-color="#0024ff"/><stop offset="0.02174" stop-color="#004dff"/><stop offset="0.02657" stop-color="#0094ff"/><stop offset="0.1715" stop-color="#00ffff"/><stop offset="0.3382" stop-color="#6aff95"/><stop offset="0.4831" stop-color="#cfff30"/><stop offset="0.558" stop-color="#ffff00"/><stop offset="0.657" stop-color="#ffbe00"/><stop offset="0.8019" stop-color="#ff5400"/><stop offset="0.9251" stop-color="#ff0000"/><stop offset="1" stop-color="#d00000"/></linearGradient><linearGradient id="TR3" x2="0" y2="1"><stop offset="0" stop-color="#000080"/><stop offset="0.007246" stop-color="#00009e"/><stop offset="0.01449" stop-color="#0000d1"/><stop offset="0.01691" stop-color="#0000fa"/><stop offset="0.01932" stop-color="#0024ff"/><stop offset="0.02174" stop-color="#004dff"/><stop offset="0.02657" stop-color="#0094ff"/><stop offset="0.1643" stop-color="#00fcff"/><stop offset="0.1715" stop-color="#01fffe"/><stop offset="0.3382" stop-color="#6dff92"/><stop offset="0.4831" stop-color="#d3ff2c"/><stop offset="0.5507" stop-color="#ffff00"/><stop offset="0.657" stop-color="#ffb800"/><stop offset="0.8019" stop-color="#ff4d00"/><stop offset="0.9155" stop-color="#ff0000"/><stop offset="1" stop-color="#cb0000"/></linearGradient><linearGradient id="TR4" x2="0" y2="1"><stop offset="0" stop-color="#000080"/><stop offset="0.007246" stop-color="#00009e"/><stop offset="0.01449" stop-color="#0000d1"/><stop offset="0.01691" stop-color="#0000fa"/><stop offset="0.01932" stop-color="#0024ff"/><stop offset="0.02174" stop-color="#004dff"/><stop offset="0.02657" stop-color="#0094ff"/><stop offset="0.1691" stop-color="#00ffff"/><stop offset="0.3382" stop-color="#6fff90"/><stop offset="0.4831" stop-color="#d7ff28"/><stop offset="0.5435" stop-color="#ffff00"/><stop offset="0.657" stop-color="#ffb300"/><stop offset="0.8019" stop-color="#ff4700"/><stop offset="0.9058" stop-color="#ff0100"/><stop offset="1" stop-color="#c60000"/></linearGradient><linearGradient id="TR5" x2="0" y2="1"><stop offset="0" stop-color="#000080"/><stop offset="0.007246" stop-color="#00009e"/><stop offset="0.01449" stop-color="#0000d1"/><stop offset="0.01691" stop-color="#0000fa"/><stop offset="0.01932" stop-color="#0024ff"/><stop offset="0.02174" stop-color="#004dff"/><stop offset="0.02657" stop-color="#0094ff"/><stop offset="0.1643" stop-color="#00fdff"/><stop offset="0.1691" stop-color="#01fffe"/><stop offset="0.3382" stop-color="#72ff8d"/><stop offset="0.4831" stop-color="#dbff24"/><stop offset="0.5362" stop-color="#ffff00"/><stop offset="0.657" stop-color="#ffae00"/><stop offset="0.8019" stop-color="#ff4100"/><stop offset="0.8986" stop-color="#ff0000"/><stop offset="1" stop-color="#c10000"/></linearGradient><linearGradient id="TR6" x2="0" y2="1"><stop offset="0" stop-color="#000080"/><stop offset="0.007246" stop-color="#00009e"/><stop offset="0.01449" stop-color="#0000d1"/><stop offset="0.01691" stop-color="#0000fa"/><stop offset="0.01932" stop-color="#0024ff"/><stop offset="0.02174" stop-color="#004dff"/><stop offset="0.02657" stop-color="#0094ff"/><stop offset="0.1643" stop-color="#00fdff"/><stop offset="0.1691" stop-color="#01fffe"/><stop offset="0.3382" stop-color="#73ff8c"/><stop offset="0.4831" stop-color="#ddff22"/><stop offset="0.5338" stop-color="#ffff00"/><stop offset="0.657" stop-color="#ffac00"/><stop offset="0.8019" stop-color="#ff3f00"/><stop offset="0.8937" stop-color="#ff0100"/><stop offset="1" stop-color="#bf0000"/></linearGradient><linearGradient id="TR7" x2="0" y2="1"><stop offset="0" stop-color="#000080"/><stop offset="0.007246" stop-color="#00009e"/><stop offset="0.01449" stop-color="#0000d1"/><stop offset="0.01691" stop-color="#0000fa"/><stop offset="0.01932" stop-color="#0024ff"/><stop offset="0.02174" stop-color="#004dff"/><stop offset="0.02657" stop-color="#0094ff"/><stop offset="0.1667" stop-color="#00ffff"/><stop offset="0.3382" stop-color="#74ff8b"/><stop offset="0.4831" stop-color="#dfff20"/><stop offset="0.5314" stop-color="#ffff00"/><stop offset="0.657" stop-color="#ffa900"/><stop offset="0.8019" stop-color="#ff3c00"/><stop offset="0.8913" stop-color="#ff0000"/><stop offset="1" stop-color="#bd0000"/></linearGradient><linearGradient id="TR8" x2="0" y2="1"><stop offset="0" stop-color="#000080"/><stop offset="0.007246" stop-color="#00009e"/><stop offset="0.01449" stop-color="#0000d1"/><stop offset="0.01691" stop-color="#0000fa"/><stop offset="0.01932" stop-color="#0024ff"/><stop offset="0.02174" stop-color="#004dff"/><stop offset="0.02657" stop-color="#0094ff"/><stop offset="0.1667" stop-color="#00ffff"/><stop offset="0.3382" stop-color="#75ff8a"/><stop offset="0.4831" stop-color="#e0ff1f"/><stop offset="0.529" stop-color="#ffff00"/><stop offset="0.657" stop-color="#ffa700"/><stop offset="0.8019" stop-color="#ff3a00"/><stop offset="0.8865" stop-color="#ff0100"/><stop offset="1" stop-color="#bb0000"/></linearGradient><linearGradient id="TR9" x2="0" y2="1"><stop offset="0" stop-color="#000080"/><stop offset="0.007246" stop-color="#00009e"/><stop offset="0.01449" stop-color="#0000d1"/><stop offset="0.01691" stop-color="#0000fa"/><stop offset="0.01932" stop-color="#0024ff"/><stop offset="0.02174" stop-color="#004dff"/><stop offset="0.02657" stop-color="#0094ff"/><stop offset="0.1667" stop-color="#01fffe"/><stop offset="0.3382" stop-color="#76ff89"/><stop offset="0.4831" stop-color="#e2ff1d"/><stop offset="0.5266" stop-color="#ffff00"/><stop offset="0.657" stop-color="#ffa500"/><stop offset="0.8019" stop-color="#ff3700"/><stop offset="0.8841" stop-color="#ff0000"/><stop offset="0.9179" stop-color="#e90000"/><stop offset="1" stop-color="#b90000"/></linearGradient><linearGradient id="TR10" x2="0" y2="1"><stop offset="0" stop-color="#000080"/><stop offset="0.007246" stop-color="#00009e"/><stop offset="0.01449" stop-color="#0000d1"/><stop offset="0.01691" stop-color="#0000fa"/><stop offset="0.01932" stop-color="#0024ff"/><stop offset="0.02174" stop-color="#004dff"/><stop offset="0.02657" stop-color="#0094ff"/><stop offset="0.1667" stop-color="#01fffe"/><stop offset="0.3382" stop-color="#77ff88"/><stop offset="0.4831" stop-color="#e3ff1c"/><stop offset="0.5242" stop-color="#fffe00"/><stop offset="0.657" stop-color="#ffa300"/><stop offset="0.8019" stop-color="#ff3500"/><stop offset="0.8792" stop-color="#ff0100"/><stop offset="1" stop-color="#b70000"/></linearGradient><linearGradient id="TR11" x2="0" y2="1"><stop offset="0" stop-color="#000080"/><stop offset="0.007246" stop-color="#00009e"/><stop offset="0.01449" stop-color="#0000d1"/><stop offset="0.01691" stop-color="#0000fa"/><stop offset="0.01932" stop-color="#0024ff"/><stop offset="0.02174" stop-color="#004dff"/><stop offset="0.02657" stop-color="#0094ff"/><stop offset="0.1667" stop-color="#01fffe"/><stop offset="0.3382" stop-color="#78ff87"/><stop offset="0.4831" stop-color="#e4ff1b"/><stop offset="0.5217" stop-color="#ffff00"/><stop offset="0.657" stop-color="#ffa200"/><stop offset="0.8019" stop-color="#ff3300"/><stop offset="0.8768" stop-color="#ff0100"/><stop offset="1" stop-color="#b60000"/></linearGradient><linearGradient id="TR12" x2="0" y2="1"><stop offset="0" stop-color="#000080"/><stop offset="0.007246" stop-color="#00009e"/><stop offset="0.01449" stop-color="#0000d1"/><stop offset="0.01691" stop-color="#0000fa"/><stop offset="0.01932" stop-color="#0024ff"/><stop offset="0.02174" stop-color="#004dff"/><stop offset="0.02657" stop-color="#0094ff"/><stop offset="0.1643" stop-color="#00ffff"/><stop offset="0.1667" stop-color="#01fffe"/><stop offset="0.3382" stop-color="#79ff86"/><stop offset="0.4831" stop-color="#e6ff19"/><stop offset="0.5193" stop-color="#ffff00"/><stop offset="0.657" stop-color="#ffa000"/><stop offset="0.8019" stop-color="#ff3100"/><stop offset="0.8744" stop-color="#ff0100"/><stop offset="0.9179" stop-color="#e30000"/><stop offset="1" stop-color="#b40000"/></linearGradient><linearGradient id="TR13" x2="0" y2="1"><stop offset="0" stop-color="#000080"/><stop offset="0.007246" stop-color="#00009e"/><stop offset="0.01449" stop-color="#0000d1"/><stop offset="0.01691" stop-color="#0000fa"/><stop offset="0.01932" stop-color="#0024ff"/><stop offset="0.02174" stop-color="#004dff"/><stop offset="0.02657" stop-color="#0094ff"/><stop offset="0.1643" stop-color="#00ffff"/><stop offset="0.1667" stop-color="#02fffd"/><stop offset="0.3382" stop-color="#7aff85"/><stop offset="0.4831" stop-color="#e7ff18"/><stop offset="0.5193" stop-color="#fffe00"/><stop offset="0.657" stop-color="#ff9f00"/><stop offset="0.8019" stop-color="#ff2f00"/><stop offset="0.872" stop-color="#ff0100"/><stop offset="0.9179" stop-color="#e20000"/><stop offset="1" stop-color="#b30000"/></linearGradient><linearGradient id="TR14" x2="0" y2="1"><stop offset="0" stop-color="#000080"/><stop offset="0.007246" stop-color="#00009e"/><stop offset="0.01449" stop-color="#0000d1"/><stop offset="0.01691" stop-color="#0000fa"/><stop offset="0.01932" stop-color="#0024ff"/><stop offset="0.02174" stop-color="#004dff"/><stop offset="0.02657" stop-color="#0094ff"/><stop offset="0.1643" stop-color="#00ffff"/><stop offset="0.3382" stop-color="#7aff85"/><stop offset="0.4831" stop-color="#e8ff17"/><stop offset="0.5169" stop-color="#fffe00"/><stop offset="0.657" stop-color="#ff9d00"/><stop offset="0.8019" stop-color="#ff2e00"/><stop offset="0.8696" stop-color="#ff0000"/><stop offset="0.9179" stop-color="#e00000"/><stop offset="1" stop-color="#b10000"/></linearGradient><linearGradient id="TR15" x2="0" y2="1"><stop offset="0" stop-color="#000080"/><stop offset="0.007246" stop-color="#00009e"/><stop offset="0.01449" stop-color="#0000d1"/><stop offset="0.01691" stop-color="#0000fa"/><stop offset="0.01932" stop-color="#0024ff"/><stop offset="0.02174" stop-color="#004dff"/><stop offset="0.02657" stop-color="#0094ff"/><stop offset="0.1643" stop-color="#00ffff"/><stop offset="0.3382" stop-color="#7bff84"/><stop offset="0.5145" stop-color="#ffff00"/><stop offset="0.657" stop-color="#ff9b00"/><stop offset="0.8019" stop-color="#ff2c00"/><stop offset="0.8671" stop-color="#ff0000"/><stop offset="0.9179" stop-color="#df0000"/><stop offset="1" stop-color="#b00000"/></linearGradient><linearGradient id="TR16" x2="0" y2="1"><stop offset="0" stop-color="#000080"/><stop offset="0.007246" stop-color="#00009e"/><stop offset="0.01449" stop-color="#0000d1"/><stop offset="0.01691" stop-color="#0000fa"/><stop offset="0.01932" stop-color="#0024ff"/><stop offset="0.02174" stop-color="#004dff"/><stop offset="0.02657" stop-color="#0094ff"/><stop offset="0.1643" stop-color="#01fffe"/><stop offset="0.3382" stop-color="#7cff83"/><stop offset="0.5121" stop-color="#ffff00"/><stop offset="0.657" stop-color="#ff9a00"/><stop offset="0.8019" stop-color="#ff2a00"/><stop offset="0.8647" stop-color="#ff0000"/><stop offset="0.9179" stop-color="#dd0000"/><stop offset="1" stop-color="#af0000"/></linearGradient><linearGradient id="TR17" x2="0" y2="1"><stop offset="0" stop-color="#000080"/><stop offset="0.007246" stop-color="#00009e"/><stop offset="0.01449" stop-color="#0000d1"/><stop offset="0.01691" stop-color="#0000fa"/><stop offset="0.01932" stop-color="#0024ff"/><stop offset="0.02174" stop-color="#004dff"/><stop offset="0.02657" stop-color="#0094ff"/><stop offset="0.1643" stop-color="#01fffe"/><stop offset="0.3382" stop-color="#7dff82"/><stop offset="0.4831" stop-color="#ebff14"/><stop offset="0.5121" stop-color="#fffe00"/><stop offset="0.657" stop-color="#ff9900"/><stop offset="0.8019" stop-color="#ff2800"/><stop offset="0.8623" stop-color="#ff0000"/><stop offset="0.9179" stop-color="#dc0000"/><stop offset="1" stop-color="#ad0000"/></linearGradient><linearGradient id="TR18" x2="0" y2="1"><stop offset="0" stop-color="#000080"/><stop offset="0.007246" stop-color="#00009e"/><stop offset="0.01449" stop-color="#0000d1"/><stop offset="0.01691" stop-color="#0000fa"/><stop offset="0.01932" stop-color="#0024ff"/><stop offset="0.02174" stop-color="#004dff"/><stop offset="0.02657" stop-color="#0094ff"/><stop offset="0.1643" stop-color="#01fffe"/><stop offset="0.3382" stop-color="#7dff82"/><stop offset="0.5097" stop-color="#ffff00"/><stop offset="0.657" stop-color="#ff9700"/><stop offset="0.8019" stop-color="#ff2700"/><stop offset="0.8599" stop-color="#ff0000"/><stop offset="0.9179" stop-color="#da0000"/><stop offset="1" stop-color="#ac0000"/></linearGradient><linearGradient id="TR19" x2="0" y2="1"><stop offset="0" stop-color="#000080"/><stop offset="0.007246" stop-color="#00009e"/><stop offset="0.01449" stop-color="#0000d1"/><stop offset="0.01691" stop-color="#0000fa"/><stop offset="0.01932" stop-color="#0024ff"/><stop offset="0.02174" stop-color="#004dff"/><stop offset="0.02657" stop-color="#0094ff"/><stop offset="0.1643" stop-color="#01fffe"/><stop offset="0.3382" stop-color="#7eff81"/><stop offset="0.4831" stop-color="#edff12"/><stop offset="0.5097" stop-color="#fffe00"/><stop offset="0.657" stop-color="#ff9600"/><stop offset="0.8019" stop-color="#ff2500"/><stop offset="0.8575" stop-color="#ff0000"/><stop offset="0.9179" stop-color="#d80000"/><stop offset="1" stop-color="#ab0000"/></linearGradient><linearGradient id="TR20" x2="0" y2="1"><stop offset="0" stop-color="#000080"/><stop offset="0.007246" stop-color="#00009e"/><stop offset="0.01449" stop-color="#0000d1"/><stop offset="0.01691" stop-color="#0000fa"/><stop offset="0.01932" stop-color="#0024ff"/><stop offset="0.02174" stop-color="#004dff"/><stop offset="0.02657" stop-color="#0094ff"/><stop offset="0.1643" stop-color="#01fffe"/><stop offset="0.3382" stop-color="#7fff80"/><stop offset="0.4831" stop-color="#eeff11"/><stop offset="0.5072" stop-color="#fffe00"/><stop offset="0.657" stop-color="#ff9400"/><stop offset="0.8019" stop-color="#ff2400"/><stop offset="0.8527" stop-color="#ff0100"/><stop offset="0.9179" stop-color="#d70000"/><stop offset="1" stop-color="#a90000"/></linearGradient><linearGradient id="TR21" x2="0" y2="1"><stop offset="0" stop-color="#000080"/><stop offset="0.007246" stop-color="#00009e"/><stop offset="0.01449" stop-color="#0000d1"/><stop offset="0.01691" stop-color="#0000fa"/><stop offset="0.01932" stop-color="#0024ff"/><stop offset="0.02174" stop-color="#004dff"/><stop offset="0.02657" stop-color="#0094ff"/><stop offset="0.1618" stop-color="#00ffff"/><stop offset="0.1643" stop-color="#02fffd"/><stop offset="0.3382" stop-color="#7fff80"/><stop offset="0.5048" stop-color="#ffff00"/><stop offset="0.657" stop-color="#ff9300"/><stop offset="0.8019" stop-color="#ff2200"/><stop offset="0.8502" stop-color="#ff0100"/><stop offset="0.9179" stop-color="#d50000"/><stop offset="1" stop-color="#a80000"/></linearGradient><linearGradient id="TR22" x2="0" y2="1"><stop offset="0" stop-color="#000080"/><stop offset="0.007246" stop-color="#00009e"/><stop offset="0.01449" stop-color="#0000d1"/><stop offset="0.01691" stop-color="#0000fa"/><stop offset="0.01932" stop-color="#0024ff"/><stop offset="0.02174" stop-color="#004dff"/><stop offset="0.02657" stop-color="#0094ff"/><stop offset="0.1618" stop-color="#00ffff"/><stop offset="0.1643" stop-color="#02fffd"/><stop offset="0.3382" stop-color="#80ff7f"/><stop offset="0.4831" stop-color="#f0ff0f"/><stop offset="0.5048" stop-color="#fffe00"/><stop offset="0.657" stop-color="#ff9100"/><stop offset="0.8019" stop-color="#ff2000"/><stop offset="0.8478" stop-color="#ff0100"/><stop offset="0.9179" stop-color="#d40000"/><stop offset="1" stop-color="#a70000"/></linearGradient><linearGradient id="TR23" x2="0" y2="1"><stop offset="0" stop-color="#000080"/><stop offset="0.007246" stop-color="#00009e"/><stop offset="0.01449" stop-color="#0000d1"/><stop offset="0.01691" stop-color="#0000fa"/><stop offset="0.01932" stop-color="#0024ff"/><stop offset="0.02174" stop-color="#004dff"/><stop offset="0.02657" stop-color="#0094ff"/><stop offset="0.1618" stop-color="#00ffff"/><stop offset="0.1643" stop-color="#02fffd"/><stop offset="0.3382" stop-color="#81ff7e"/><stop offset="0.5024" stop-color="#ffff00"/><stop offset="0.657" stop-color="#ff9000"/><stop offset="0.8019" stop-color="#ff1f00"/><stop offset="0.8454" stop-color="#ff0100"/><stop offset="0.9179" stop-color="#d30000"/><stop offset="1" stop-color="#a50000"/></linearGradient><linearGradient id="TR24" x2="0" y2="1"><stop offset="0" stop-color="#000080"/><stop offset="0.007246" stop-color="#00009e"/><stop offset="0.01449" stop-color="#0000d1"/><stop offset="0.01691" stop-color="#0000fa"/><stop offset="0.01932" stop-color="#0024ff"/><stop offset="0.02174" stop-color="#004dff"/><stop offset="0.02657" stop-color="#0094ff"/><stop offset="0.1618" stop-color="#00ffff"/><stop offset="0.3382" stop-color="#81ff7e"/><stop offset="0.4831" stop-color="#f2ff0d"/><stop offset="0.5024" stop-color="#fffe00"/><stop offset="0.657" stop-color="#ff8f00"/><stop offset="0.8019" stop-color="#ff1e00"/><stop offset="0.843" stop-color="#ff0100"/><stop offset="0.9179" stop-color="#d10000"/><stop offset="1" stop-color="#a40000"/></linearGradient><linearGradient id="TR25" x2="0" y2="1"><stop offset="0" stop-color="#000080"/><stop offset="0.007246" stop-color="#00009e"/><stop offset="0.01449" stop-color="#0000d1"/><stop offset="0.01691" stop-color="#0000fa"/><stop offset="0.01932" stop-color="#0024ff"/><stop offset="0.02174" stop-color="#004dff"/><stop offset="0.02657" stop-color="#0094ff"/><stop offset="0.1618" stop-color="#00ffff"/><stop offset="0.3382" stop-color="#82ff7d"/><stop offset="0.5" stop-color="#ffff00"/><stop offset="0.657" stop-color="#ff8e00"/><stop offset="0.8019" stop-color="#ff1c00"/><stop offset="0.843" stop-color="#ff0000"/><stop offset="0.9179" stop-color="#d00000"/><stop offset="1" stop-color="#a30000"/></linearGradient><linearGradient id="TR26" x2="0" y2="1"><stop offset="0" stop-color="#000080"/><stop offset="0.007246" stop-color="#00009e"/><stop offset="0.01449" stop-color="#0000d1"/><stop offset="0.01691" stop-color="#0000fa"/><stop offset="0.01932" stop-color="#0024ff"/><stop offset="0.02174" stop-color="#004dff"/><stop offset="0.02657" stop-color="#0094ff"/><stop offset="0.1618" stop-color="#00ffff"/><stop offset="0.3382" stop-color="#82ff7d"/><stop offset="0.4831" stop-color="#f4ff0b"/><stop offset="0.5" stop-color="#fffe00"/><stop offset="0.657" stop-color="#ff8d00"/><stop offset="0.8019" stop-color="#ff1b00"/><stop offset="0.8406" stop-color="#ff0000"/><stop offset="0.9179" stop-color="#cf0000"/><stop offset="1" stop-color="#a30000"/></linearGradient><linearGradient id="TR27" x2="0" y2="1"><stop offset="0" stop-color="#000080"/><stop offset="0.007246" stop-color="#00009e"/><stop offset="0.01449" stop-color="#0000d1"/><stop offset="0.01691" stop-color="#0000fa"/><stop offset="0.01932" stop-color="#0024ff"/><stop offset="0.02174" stop-color="#004dff"/><stop offset="0.02657" stop-color="#0094ff"/><stop offset="0.1618" stop-color="#01fffe"/><stop offset="0.3382" stop-color="#83ff7c"/><stop offset="0.4976" stop-color="#ffff00"/><stop offset="0.657" stop-color="#ff8c00"/><stop offset="0.8019" stop-color="#ff1a00"/><stop offset="0.8382" stop-color="#ff0100"/><stop offset="0.9179" stop-color="#ce0000"/><stop offset="1" stop-color="#a20000"/></linearGradient><linearGradient id="TR28" x2="0" y2="1"><stop offset="0" stop-color="#000080"/><stop offset="0.007246" stop-color="#00009e"/><stop offset="0.01449" stop-color="#0000d1"/><stop offset="0.01691" stop-color="#0000fa"/><stop offset="0.01932" stop-color="#0024ff"/><stop offset="0.02174" stop-color="#004dff"/><stop offset="0.02657" stop-color="#0094ff"/><stop offset="0.1618" stop-color="#01fffe"/><stop offset="0.3382" stop-color="#83ff7c"/><stop offset="0.4976" stop-color="#fffe00"/><stop offset="0.657" stop-color="#ff8b00"/><stop offset="0.8019" stop-color="#ff1900"/><stop offset="0.8357" stop-color="#ff0100"/><stop offset="0.9179" stop-color="#cd0000"/><stop offset="1" stop-color="#a10000"/></linearGradient><linearGradient id="TR29" x2="0" y2="1"><stop offset="0" stop-color="#000080"/><stop offset="0.007246" stop-color="#00009e"/><stop offset="0.01449" stop-color="#0000d1"/><stop offset="0.01691" stop-color="#0000fa"/><stop offset="0.01932" stop-color="#0024ff"/><stop offset="0.02174" stop-color="#004dff"/><stop offset="0.02657" stop-color="#0094ff"/><stop offset="0.1618" stop-color="#01fffe"/><stop offset="0.3382" stop-color="#84ff7b"/><stop offset="0.4952" stop-color="#ffff00"/><stop offset="0.657" stop-color="#ff8a00"/><stop offset="0.8019" stop-color="#ff1800"/><stop offset="0.8333" stop-color="#ff0100"/><stop offset="0.9179" stop-color="#cc0000"/><stop offset="1" stop-color="#a00000"/></linearGradient><linearGradient id="TR30" x2="0" y2="1"><stop offset="0" stop-color="#000080"/><stop offset="0.007246" stop-color="#00009e"/><stop offset="0.01449" stop-color="#0000d1"/><stop offset="0.01691" stop-color="#0000fa"/><stop offset="0.01932" stop-color="#0024ff"/><stop offset="0.02174" stop-color="#004dff"/><stop offset="0.02657" stop-color="#0094ff"/><stop offset="0.1618" stop-color="#01fffe"/><stop offset="0.3382" stop-color="#84ff7b"/><stop offset="0.4952" stop-color="#ffff00"/><stop offset="0.657" stop-color="#ff8900"/><stop offset="0.8019" stop-color="#ff1700"/><stop offset="0.8333" stop-color="#ff0000"/><stop offset="0.9179" stop-color="#cb0000"/><stop offset="1" stop-color="#9f0000"/></linearGradient><linearGradient id="TR31" x2="0" y2="1"><stop offset="0" stop-color="#000080"/><stop offset="0.007246" stop-color="#00009e"/><stop offset="0.01449" stop-color="#0000d1"/><stop offset="0.01691" stop-color="#0000fa"/><stop offset="0.01932" stop-color="#0024ff"/><stop offset="0.02174" stop-color="#004dff"/><stop offset="0.02657" stop-color="#0094ff"/><stop offset="0.1618" stop-color="#01fffe"/><stop offset="0.3382" stop-color="#85ff7a"/><stop offset="0.4831" stop-color="#f7ff08"/><stop offset="0.4952" stop-color="#fffe00"/><stop offset="0.657" stop-color="#ff8800"/><stop offset="0.8309" stop-color="#ff0000"/><stop offset="0.9179" stop-color="#ca0000"/><stop offset="1" stop-color="#9e0000"/></linearGradient><linearGradient id="TR32" x2="0" y2="1"><stop offset="0" stop-color="#000080"/><stop offset="0.007246" stop-color="#00009e"/><stop offset="0.01449" stop-color="#0000d1"/><stop offset="0.01691" stop-color="#0000fa"/><stop offset="0.01932" stop-color="#0024ff"/><stop offset="0.02174" stop-color="#004dff"/><stop offset="0.02657" stop-color="#0094ff"/><stop offset="0.1618" stop-color="#01fffe"/><stop offset="0.3382" stop-color="#85ff7a"/><stop offset="0.4928" stop-color="#ffff00"/><stop offset="0.657" stop-color="#ff8800"/><stop offset="0.8285" stop-color="#ff0100"/><stop offset="0.9179" stop-color="#c90000"/><stop offset="1" stop-color="#9d0000"/></linearGradient><linearGradient id="TR33" x2="0" y2="1"><stop offset="0" stop-color="#000080"/><stop offset="0.007246" stop-color="#00009e"/><stop offset="0.01449" stop-color="#0000d1"/><stop offset="0.01691" stop-color="#0000fa"/><stop offset="0.01932" stop-color="#0024ff"/><stop offset="0.02174" stop-color="#004dff"/><stop offset="0.02657" stop-color="#0094ff"/><stop offset="0.1618" stop-color="#01fffe"/><stop offset="0.3382" stop-color="#85ff7a"/><stop offset="0.4928" stop-color="#fffe00"/><stop offset="0.657" stop-color="#ff8700"/><stop offset="0.8285" stop-color="#ff0000"/><stop offset="0.9179" stop-color="#c80000"/><stop offset="1" stop-color="#9c0000"/></linearGradient><linearGradient id="TR34" x2="0" y2="1"><stop offset="0" stop-color="#000080"/><stop offset="0.007246" stop-color="#00009e"/><stop offset="0.01449" stop-color="#0000d1"/><stop offset="0.01691" stop-color="#0000fa"/><stop offset="0.01932" stop-color="#0024ff"/><stop offset="0.02174" stop-color="#004dff"/><stop offset="0.02657" stop-color="#0094ff"/><stop offset="0.1618" stop-color="#01fffe"/><stop offset="0.3382" stop-color="#86ff79"/><stop offset="0.4831" stop-color="#f9ff06"/><stop offset="0.4928" stop-color="#fffe00"/><stop offset="0.657" stop-color="#ff8600"/><stop offset="0.8261" stop-color="#ff0100"/><stop offset="0.9179" stop-color="#c70000"/><stop offset="1" stop-color="#9c0000"/></linearGradient><linearGradient id="TR35" x2="0" y2="1"><stop offset="0" stop-color="#000080"/><stop offset="0.007246" stop-color="#00009e"/><stop offset="0.01449" stop-color="#0000d1"/><stop offset="0.01691" stop-color="#0000fa"/><stop offset="0.01932" stop-color="#0024ff"/><stop offset="0.02174" stop-color="#004dff"/><stop offset="0.02657" stop-color="#0094ff"/><stop offset="0.1618" stop-color="#01fffe"/><stop offset="0.3382" stop-color="#86ff79"/><stop offset="0.4903" stop-color="#ffff00"/><stop offset="0.657" stop-color="#ff8500"/><stop offset="0.8261" stop-color="#ff0000"/><stop offset="0.9179" stop-color="#c70000"/><stop offset="1" stop-color="#9b0000"/></linearGradient><linearGradient id="TR36" x2="0" y2="1"><stop offset="0" stop-color="#000080"/><stop offset="0.007246" stop-color="#00009e"/><stop offset="0.01449" stop-color="#0000d1"/><stop offset="0.01691" stop-color="#0000fa"/><stop offset="0.01932" stop-color="#0024ff"/><stop offset="0.02174" stop-color="#004dff"/><stop offset="0.02657" stop-color="#0094ff"/><stop offset="0.1594" stop-color="#00ffff"/><stop offset="0.1618" stop-color="#02fffd"/><stop offset="0.3382" stop-color="#87ff78"/><stop offset="0.4903" stop-color="#fffe00"/><stop offset="0.657" stop-color="#ff8400"/><stop offset="0.8237" stop-color="#ff0100"/><stop offset="0.9179" stop-color="#c60000"/><stop offset="1" stop-color="#9a0000"/></linearGradient><linearGradient id="TR37" x2="0" y2="1"><stop offset="0" stop-color="#000080"/><stop offset="0.007246" stop-color="#00009e"/><stop offset="0.01449" stop-color="#0000d1"/><stop offset="0.01691" stop-color="#0000fa"/><stop offset="0.01932" stop-color="#0024ff"/><stop offset="0.02174" stop-color="#004dff"/><stop offset="0.02657" stop-color="#0094ff"/><stop offset="0.1594" stop-color="#00ffff"/><stop offset="0.1618" stop-color="#02fffd"/><stop offset="0.3382" stop-color="#87ff78"/><stop offset="0.4831" stop-color="#fbff04"/><stop offset="0.4903" stop-color="#fffe00"/><stop offset="0.657" stop-color="#ff8300"/><stop offset="0.8237" stop-color="#ff0000"/><stop offset="0.9179" stop-color="#c50000"/><stop offset="1" stop-color="#990000"/></linearGradient><linearGradient id="TR38" x2="0" y2="1"><stop offset="0" stop-color="#000080"/><stop offset="0.007246" stop-color="#00009e"/><stop offset="0.01449" stop-color="#0000d1"/><stop offset="0.01691" stop-color="#0000fa"/><stop offset="0.01932" stop-color="#0024ff"/><stop offset="0.02174" stop-color="#004dff"/><stop offset="0.02657" stop-color="#0094ff"/><stop offset="0.1594" stop-color="#00ffff"/><stop offset="0.1618" stop-color="#02fffd"/><stop offset="0.3382" stop-color="#87ff78"/><stop offset="0.4879" stop-color="#ffff00"/><stop offset="0.657" stop-color="#ff8300"/><stop offset="0.8019" stop-color="#ff0f00"/><stop offset="0.8237" stop-color="#fe0000"/><stop offset="0.9179" stop-color="#c40000"/><stop offset="1" stop-color="#990000"/></linearGradient><linearGradient id="TR39" x2="0" y2="1"><stop offset="0" stop-color="#000080"/><stop offset="0.007246" stop-color="#00009e"/><stop offset="0.01449" stop-color="#0000d1"/><stop offset="0.01691" stop-color="#0000fa"/><stop offset="0.01932" stop-color="#0024ff"/><stop offset="0.02174" stop-color="#004dff"/><stop offset="0.02657" stop-color="#0094ff"/><stop offset="0.1594" stop-color="#00ffff"/><stop offset="0.1618" stop-color="#02fffd"/><stop offset="0.3382" stop-color="#87ff78"/><stop offset="0.4879" stop-color="#ffff00"/><stop offset="0.657" stop-color="#ff8300"/><stop offset="0.8019" stop-color="#ff0f00"/><stop offset="0.8237" stop-color="#fe0000"/><stop offset="0.9179" stop-color="#c40000"/><stop offset="1" stop-color="#990000"/></linearGradient><linearGradient id="TR40" x2="0" y2="1"><stop offset="0" stop-color="#000080"/><stop offset="0.007246" stop-color="#00009e"/><stop offset="0.01449" stop-color="#0000d1"/><stop offset="0.01691" stop-color="#0000fa"/><stop offset="0.01932" stop-color="#0024ff"/><stop offset="0.02174" stop-color="#004dff"/><stop offset="0.02657" stop-color="#0094ff"/><stop offset="0.1594" stop-color="#00ffff"/><stop offset="0.1618" stop-color="#02fffd"/><stop offset="0.3382" stop-color="#87ff78"/><stop offset="0.4879" stop-color="#ffff00"/><stop offset="0.657" stop-color="#ff8300"/><stop offset="0.8019" stop-color="#ff0f00"/><stop offset="0.8237" stop-color="#fe0000"/><stop offset="0.9179" stop-color="#c40000"/><stop offset="1" stop-color="#990000"/></linearGradient><linearGradient id="TR41" x2="0" y2="1"><stop offset="0" stop-color="#000080"/><stop offset="0.007246" stop-color="#00009e"/><stop offset="0.01449" stop-color="#0000d1"/><stop offset="0.01691" stop-color="#0000fa"/><stop offset="0.01932" stop-color="#0024ff"/><stop offset="0.02174" stop-color="#004dff"/><stop offset="0.02657" stop-color="#0094ff"/><stop offset="0.1594" stop-color="#00ffff"/><stop offset="0.1618" stop-color="#02fffd"/><stop offset="0.3382" stop-color="#87ff78"/><stop offset="0.4879" stop-color="#ffff00"/><stop offset="0.657" stop-color="#ff8300"/><stop offset="0.8019" stop-color="#ff0f00"/><stop offset="0.8237" stop-color="#fe0000"/><stop offset="0.9179" stop-color="#c40000"/><stop offset="1" stop-color="#990000"/></linearGradient><linearGradient id="TR42" x2="0" y2="1"><stop offset="0" stop-color="#000080"/><stop offset="0.007246" stop-color="#00009e"/><stop offset="0.01449" stop-color="#0000d1"/><stop offset="0.01691" stop-color="#0000fa"/><stop offset="0.01932" stop-color="#0024ff"/><stop offset="0.02174" stop-color="#004dff"/><stop offset="0.02657" stop-color="#0094ff"/><stop offset="0.1594" stop-color="#00ffff"/><stop offset="0.1618" stop-color="#02fffd"/><stop offset="0.3382" stop-color="#87ff78"/><stop offset="0.4879" stop-color="#ffff00"/><stop offset="0.657" stop-color="#ff8300"/><stop offset="0.8019" stop-color="#ff0f00"/><stop offset="0.8237" stop-color="#fe0000"/><stop offset="0.9179" stop-color="#c40000"/><stop offset="1" stop-color="#990000"/></linearGradient><linearGradient id="TR43" x2="0" y2="1"><stop offset="0" stop-color="#000080"/><stop offset="0.007246" stop-color="#00009e"/><stop offset="0.01449" stop-color="#0000d1"/><stop offset="0.01691" stop-color="#0000fa"/><stop offset="0.01932" stop-color="#0024ff"/><stop offset="0.02174" stop-color="#004dff"/><stop offset="0.02657" stop-color="#0094ff"/><stop offset="0.1594" stop-color="#00ffff"/><stop offset="0.1618" stop-color="#02fffd"/><stop offset="0.3382" stop-color="#87ff78"/><stop offset="0.4879" stop-color="#ffff00"/><stop offset="0.657" stop-color="#ff8300"/><stop offset="0.8019" stop-color="#ff0f00"/><stop offset="0.8237" stop-color="#fe0000"/><stop offset="0.9179" stop-color="#c40000"/><stop offset="1" stop-color="#990000"/></linearGradient><linearGradient id="TR44" x2="0" y2="1"><stop offset="0" stop-color="#000080"/><stop offset="0.007246" stop-color="#00009e"/><stop offset="0.01449" stop-color="#0000d1"/><stop offset="0.01691" stop-color="#0000fa"/><stop offset="0.01932" stop-color="#0024ff"/><stop offset="0.02174" stop-color="#004dff"/><stop offset="0.02657" stop-color="#0094ff"/><stop offset="0.1594" stop-color="#00ffff"/><stop offset="0.1618" stop-color="#02fffd"/><stop offset="0.3382" stop-color="#87ff78"/><stop offset="0.4879" stop-color="#ffff00"/><stop offset="0.657" stop-color="#ff8300"/><stop offset="0.8019" stop-color="#ff0f00"/><stop offset="0.8237" stop-color="#fe0000"/><stop offset="0.9179" stop-color="#c40000"/><stop offset="1" stop-color="#990000"/></linearGradient><linearGradient id="TR45" x2="0" y2="1"><stop offset="0" stop-color="#000080"/><stop offset="0.007246" stop-color="#00009e"/><stop offset="0.01449" stop-color="#0000d1"/><stop offset="0.01691" stop-color="#0000fa"/><stop offset="0.01932" stop-color="#0024ff"/><stop offset="0.02174" stop-color="#004dff"/><stop offset="0.02657" stop-color="#0094ff"/><stop offset="0.1594" stop-color="#00ffff"/><stop offset="0.1618" stop-color="#02fffd"/><stop offset="0.3382" stop-color="#87ff78"/><stop offset="0.4879" stop-color="#ffff00"/><stop offset="0.657" stop-color="#ff8300"/><stop offset="0.8019" stop-color="#ff0f00"/><stop offset="0.8237" stop-color="#fe0000"/><stop offset="0.9179" stop-color="#c40000"/><stop offset="1" stop-color="#990000"/></linearGradient><linearGradient id="TR46" x2="0" y2="1"><stop offset="0" stop-color="#000080"/><stop offset="0.007246" stop-color="#00009e"/><stop offset="0.01449" stop-color="#0000d1"/><stop offset="0.01691" stop-color="#0000fa"/><stop offset="0.01932" stop-color="#0024ff"/><stop offset="0.02174" stop-color="#004dff"/><stop offset="0.02657" stop-color="#0094ff"/><stop offset="0.1594" stop-color="#00ffff"/><stop offset="0.1618" stop-color="#02fffd"/><stop offset="0.3382" stop-color="#87ff78"/><stop offset="0.4879" stop-color="#ffff00"/><stop offset="0.657" stop-color="#ff8300"/><stop offset="0.8019" stop-color="#ff0f00"/><stop offset="0.8237" stop-color="#fe0000"/><stop offset="0.9179" stop-color="#c40000"/><stop offset="1" stop-color="#990000"/></linearGradient><linearGradient id="TR47" x2="0" y2="1"><stop offset="0" stop-color="#000080"/><stop offset="0.007246" stop-color="#00009e"/><stop offset="0.01449" stop-color="#0000d1"/><stop offset="0.01691" stop-color="#0000fa"/><stop offset="0.01932" stop-color="#0024ff"/><stop offset="0.02174" stop-color="#004dff"/><stop offset="0.02657" stop-color="#0094ff"/><stop offset="0.1594" stop-color="#00ffff"/><stop offset="0.1618" stop-color="#02fffd"/><stop offset="0.3382" stop-color="#87ff78"/><stop offset="0.4879" stop-color="#ffff00"/><stop offset="0.657" stop-color="#ff8300"/><stop offset="0.8019" stop-color="#ff0f00"/><stop offset="0.8237" stop-color="#fe0000"/><stop offset="0.9179" stop-color="#c40000"/><stop offset="1" stop-color="#990000"/></linearGradient><linearGradient id="TR48" x2="0" y2="1"><stop offset="0" stop-color="#000080"/><stop offset="0.007246" stop-color="#00009e"/><stop offset="0.01449" stop-color="#0000d1"/><stop offset="0.01691" stop-color="#0000fa"/><stop offset="0.01932" stop-color="#0024ff"/><stop offset="0.02174" stop-color="#004dff"/><stop offset="0.02657" stop-color="#0094ff"/><stop offset="0.1594" stop-color="#00ffff"/><stop offset="0.1618" stop-color="#02fffd"/><stop offset="0.3382" stop-color="#87ff78"/><stop offset="0.4879" stop-color="#ffff00"/><stop offset="0.657" stop-color="#ff8300"/><stop offset="0.8019" stop-color="#ff0f00"/><stop offset="0.8237" stop-color="#fe0000"/><stop offset="0.9179" stop-color="#c40000"/><stop offset="1" stop-color="#990000"/></linearGradient><linearGradient id="TR49" x2="0" y2="1"><stop offset="0" stop-color="#000080"/><stop offset="0.007246" stop-color="#00009e"/><stop offset="0.01449" stop-color="#0000d1"/><stop offset="0.01691" stop-color="#0000fa"/><stop offset="0.01932" stop-color="#0024ff"/><stop offset="0.02174" stop-color="#004dff"/><stop offset="0.02657" stop-color="#0094ff"/><stop offset="0.1594" stop-color="#00ffff"/><stop offset="0.1618" stop-color="#02fffd"/><stop offset="0.3382" stop-color="#87ff78"/><stop offset="0.4879" stop-color="#ffff00"/><stop offset="0.657" stop-color="#ff8300"/><stop offset="0.8019" stop-color="#ff0f00"/><stop offset="0.8237" stop-color="#fe0000"/><stop offset="0.9179" stop-color="#c40000"/><stop offset="1" stop-color="#990000"/></linearGradient><linearGradient id="TR50" x2="0" y2="1"><stop offset="0" stop-color="#000080"/><stop offset="0.007246" stop-color="#00009e"/><stop offset="0.01449" stop-color="#0000d1"/><stop offset="0.01691" stop-color="#0000fa"/><stop offset="0.01932" stop-color="#0024ff"/><stop offset="0.02174" stop-color="#004dff"/><stop offset="0.02657" stop-color="#0094ff"/><stop offset="0.1594" stop-color="#00ffff"/><stop offset="0.1618" stop-color="#02fffd"/><stop offset="0.3382" stop-color="#87ff78"/><stop offset="0.4879" stop-color="#ffff00"/><stop offset="0.657" stop-color="#ff8300"/><stop offset="0.8019" stop-color="#ff0f00"/><stop offset="0.8237" stop-color="#fe0000"/><stop offset="0.9179" stop-color="#c40000"/><stop offset="1" stop-color="#990000"/></linearGradient><linearGradient id="TR51" x2="0" y2="1"><stop offset="0" stop-color="#000080"/><stop offset="0.007246" stop-color="#00009e"/><stop offset="0.01449" stop-color="#0000d1"/><stop offset="0.01691" stop-color="#0000fa"/><stop offset="0.01932" stop-color="#0024ff"/><stop offset="0.02174" stop-color="#004dff"/><stop offset="0.02657" stop-color="#0094ff"/><stop offset="0.1594" stop-color="#00ffff"/><stop offset="0.1618" stop-color="#02fffd"/><stop offset="0.3382" stop-color="#87ff78"/><stop offset="0.4879" stop-color="#ffff00"/><stop offset="0.657" stop-color="#ff8300"/><stop offset="0.8019" stop-color="#ff0f00"/><stop offset="0.8237" stop-color="#fe0000"/><stop offset="0.9179" stop-color="#c40000"/><stop offset="1" stop-color="#990000"/></linearGradient><linearGradient id="TR52" x2="0" y2="1"><stop offset="0" stop-color="#000080"/><stop offset="0.007246" stop-color="#00009e"/><stop offset="0.01449" stop-color="#0000d1"/><stop offset="0.01691" stop-color="#0000fa"/><stop offset="0.01932" stop-color="#0024ff"/><stop offset="0.02174" stop-color="#004dff"/><stop offset="0.02657" stop-color="#0094ff"/><stop offset="0.1594" stop-color="#00ffff"/><stop offset="0.1618" stop-color="#02fffd"/><stop offset="0.3382" stop-color="#87ff78"/><stop offset="0.4879" stop-color="#ffff00"/><stop offset="0.657" stop-color="#ff8300"/><stop offset="0.8019" stop-color="#ff0f00"/><stop offset="0.8237" stop-color="#fe0000"/><stop offset="0.9179" stop-color="#c40000"/><stop offset="1" stop-color="#990000"/></linearGradient><linearGradient id="TR53" x2="0" y2="1"><stop offset="0" stop-color="#000080"/><stop offset="0.007246" stop-color="#00009e"/><stop offset="0.01449" stop-color="#0000d1"/><stop offset="0.01691" stop-color="#0000fa"/><stop offset="0.01932" stop-color="#0024ff"/><stop offset="0.02174" stop-color="#004dff"/><stop offset="0.02657" stop-color="#0094ff"/><stop offset="0.1594" stop-color="#00ffff"/><stop offset="0.1618" stop-color="#02fffd"/><stop offset="0.3382" stop-color="#87ff78"/><stop offset="0.4879" stop-color="#ffff00"/><stop offset="0.657" stop-color="#ff8300"/><stop offset="0.8019" stop-color="#ff0f00"/><stop offset="0.8237" stop-color="#fe0000"/><stop offset="0.9179" stop-color="#c40000"/><stop offset="1" stop-color="#990000"/></linearGradient><linearGradient id="TR54" x2="0" y2="1"><stop offset="0" stop-color="#000080"/><stop offset="0.007246" stop-color="#00009e"/><stop offset="0.01449" stop-color="#0000d1"/><stop offset="0.01691" stop-color="#0000fa"/><stop offset="0.01932" stop-color="#0024ff"/><stop offset="0.02174" stop-color="#004dff"/><stop offset="0.02657" stop-color="#0094ff"/><stop offset="0.1594" stop-color="#00ffff"/><stop offset="0.1618" stop-color="#02fffd"/><stop offset="0.3382" stop-color="#87ff78"/><stop offset="0.4879" stop-color="#ffff00"/><stop offset="0.657" stop-color="#ff8300"/><stop offset="0.8019" stop-color="#ff0f00"/><stop offset="0.8237" stop-color="#fe0000"/><stop offset="0.9179" stop-color="#c40000"/><stop offset="1" stop-color="#990000"/></linearGradient><linearGradient id="TR55" x2="0" y2="1"><stop offset="0" stop-color="#000080"/><stop offset="0.007246" stop-color="#00009e"/><stop offset="0.01449" stop-color="#0000d1"/><stop offset="0.01691" stop-color="#0000fa"/><stop offset="0.01932" stop-color="#0024ff"/><stop offset="0.02174" stop-color="#004dff"/><stop offset="0.02657" stop-color="#0094ff"/><stop offset="0.1594" stop-color="#00ffff"/><stop offset="0.1618" stop-color="#02fffd"/><stop offset="0.3382" stop-color="#87ff78"/><stop offset="0.4879" stop-color="#ffff00"/><stop offset="0.657" stop-color="#ff8300"/><stop offset="0.8019" stop-color="#ff0f00"/><stop offset="0.8237" stop-color="#fe0000"/><stop offset="0.9179" stop-color="#c40000"/><stop offset="1" stop-color="#990000"/></linearGradient><linearGradient id="TR56" x2="0" y2="1"><stop offset="0" stop-color="#000080"/><stop offset="0.007246" stop-color="#00009e"/><stop offset="0.01449" stop-color="#0000d1"/><stop offset="0.01691" stop-color="#0000fa"/><stop offset="0.01932" stop-color="#0024ff"/><stop offset="0.02174" stop-color="#004dff"/><stop offset="0.02657" stop-color="#0094ff"/><stop offset="0.1594" stop-color="#00ffff"/><stop offset="0.1618" stop-color="#02fffd"/><stop offset="0.3382" stop-color="#87ff78"/><stop offset="0.4879" stop-color="#ffff00"/><stop offset="0.657" stop-color="#ff8300"/><stop offset="0.8019" stop-color="#ff0f00"/><stop offset="0.8237" stop-color="#fe0000"/><stop offset="0.9179" stop-color="#c40000"/><stop offset="1" stop-color="#990000"/></linearGradient><linearGradient id="TR57" x2="0" y2="1"><stop offset="0" stop-color="#000080"/><stop offset="0.007246" stop-color="#00009e"/><stop offset="0.01449" stop-color="#0000d1"/><stop offset="0.01691" stop-color="#0000fa"/><stop offset="0.01932" stop-color="#0024ff"/><stop offset="0.02174" stop-color="#004dff"/><stop offset="0.02657" stop-color="#0094ff"/><stop offset="0.1594" stop-color="#00ffff"/><stop offset="0.1618" stop-color="#02fffd"/><stop offset="0.3382" stop-color="#87ff78"/><stop offset="0.4879" stop-color="#ffff00"/><stop offset="0.657" stop-color="#ff8300"/><stop offset="0.8019" stop-color="#ff0f00"/><stop offset="0.8237" stop-color="#fe0000"/><stop offset="0.9179" stop-color="#c40000"/><stop offset="1" stop-color="#990000"/></linearGradient><linearGradient id="TR58" x2="0" y2="1"><stop offset="0" stop-color="#000080"/><stop offset="0.007246" stop-color="#00009e"/><stop offset="0.01449" stop-color="#0000d1"/><stop offset="0.01691" stop-color="#0000fa"/><stop offset="0.01932" stop-color="#0024ff"/><stop offset="0.02174" stop-color="#004dff"/><stop offset="0.02657" stop-color="#0094ff"/><stop offset="0.1594" stop-color="#00ffff"/><stop offset="0.1618" stop-color="#02fffd"/><stop offset="0.3382" stop-color="#87ff78"/><stop offset="0.4879" stop-color="#ffff00"/><stop offset="0.657" stop-color="#ff8300"/><stop offset="0.8019" stop-color="#ff0f00"/><stop offset="0.8237" stop-color="#fe0000"/><stop offset="0.9179" stop-color="#c40000"/><stop offset="1" stop-color="#990000"/></linearGradient><linearGradient id="TR59" x2="0" y2="1"><stop offset="0" stop-color="#000080"/><stop offset="0.007246" stop-color="#00009e"/><stop offset="0.01449" stop-color="#0000d1"/><stop offset="0.01691" stop-color="#0000fa"/><stop offset="0.01932" stop-color="#0024ff"/><stop offset="0.02174" stop-color="#004dff"/><stop offset="0.02657" stop-color="#0094ff"/><stop offset="0.1594" stop-color="#00ffff"/><stop offset="0.1618" stop-color="#02fffd"/><stop offset="0.3382" stop-color="#87ff78"/><stop offset="0.4879" stop-color="#ffff00"/><stop offset="0.657" stop-color="#ff8300"/><stop offset="0.8019" stop-color="#ff0f00"/><stop offset="0.8237" stop-color="#fe0000"/><stop offset="0.9179" stop-color="#c40000"/><stop offset="1" stop-color="#990000"/></linearGradient><linearGradient id="TR60" x2="0" y2="1"><stop offset="0" stop-color="#000080"/><stop offset="0.007246" stop-color="#00009e"/><stop offset="0.01449" stop-color="#0000d1"/><stop offset="0.01691" stop-color="#0000fa"/><stop offset="0.01932" stop-color="#0024ff"/><stop offset="0.02174" stop-color="#004dff"/><stop offset="0.02657" stop-color="#0094ff"/><stop offset="0.1594" stop-color="#00ffff"/><stop offset="0.1618" stop-color="#02fffd"/><stop offset="0.3382" stop-color="#87ff78"/><stop offset="0.4879" stop-color="#ffff00"/><stop offset="0.657" stop-color="#ff8300"/><stop offset="0.8019" stop-color="#ff0f00"/><stop offset="0.8237" stop-color="#fe0000"/><stop offset="0.9179" stop-color="#c40000"/><stop offset="1" stop-color="#990000"/></linearGradient><linearGradient id="TR61" x2="0" y2="1"><stop offset="0" stop-color="#000080"/><stop offset="0.007246" stop-color="#00009e"/><stop offset="0.01449" stop-color="#0000d1"/><stop offset="0.01691" stop-color="#0000fa"/><stop offset="0.01932" stop-color="#0024ff"/><stop offset="0.02174" stop-color="#004dff"/><stop offset="0.02657" stop-color="#0094ff"/><stop offset="0.1594" stop-color="#00ffff"/><stop offset="0.1618" stop-color="#02fffd"/><stop offset="0.3382" stop-color="#87ff78"/><stop offset="0.4879" stop-color="#ffff00"/><stop offset="0.657" stop-color="#ff8300"/><stop offset="0.8019" stop-color="#ff0f00"/><stop offset="0.8237" stop-color="#fe0000"/><stop offset="0.9179" stop-color="#c40000"/><stop offset="1" stop-color="#990000"/></linearGradient><linearGradient id="TR62" x2="0" y2="1"><stop offset="0" stop-color="#000080"/><stop offset="0.007246" stop-color="#00009e"/><stop offset="0.01449" stop-color="#0000d1"/><stop offset="0.01691" stop-color="#0000fa"/><stop offset="0.01932" stop-color="#0024ff"/><stop offset="0.02174" stop-color="#004dff"/><stop offset="0.02657" stop-color="#0094ff"/><stop offset="0.1594" stop-color="#00ffff"/><stop offset="0.1618" stop-color="#02fffd"/><stop offset="0.3382" stop-color="#87ff78"/><stop offset="0.4879" stop-color="#ffff00"/><stop offset="0.657" stop-color="#ff8300"/><stop offset="0.8019" stop-color="#ff0f00"/><stop offset="0.8237" stop-color="#fe0000"/><stop offset="0.9179" stop-color="#c40000"/><stop offset="1" stop-color="#990000"/></linearGradient><linearGradient id="TR63" x2="0" y2="1"><stop offset="0" stop-color="#000080"/><stop offset="0.007246" stop-color="#00009e"/><stop offset="0.01449" stop-color="#0000d1"/><stop offset="0.01691" stop-color="#0000fa"/><stop offset="0.01932" stop-color="#0024ff"/><stop offset="0.02174" stop-color="#004dff"/><stop offset="0.02657" stop-color="#0094ff"/><stop offset="0.1594" stop-color="#00ffff"/><stop offset="0.1618" stop-color="#02fffd"/><stop offset="0.3382" stop-color="#87ff78"/><stop offset="0.4879" stop-color="#ffff00"/><stop offset="0.657" stop-color="#ff8300"/><stop offset="0.8019" stop-color="#ff0f00"/><stop offset="0.8237" stop-color="#fe0000"/><stop offset="0.9179" stop-color="#c40000"/><stop offset="1" stop-color="#990000"/></linearGradient><linearGradient id="TR64" x2="0" y2="1"><stop offset="0" stop-color="#000080"/><stop offset="0.007246" stop-color="#00009e"/><stop offset="0.01449" stop-color="#0000d1"/><stop offset="0.01691" stop-color="#0000fa"/><stop offset="0.01932" stop-color="#0024ff"/><stop offset="0.02174" stop-color="#004dff"/><stop offset="0.02657" stop-color="#0094ff"/><stop offset="0.1594" stop-color="#00ffff"/><stop offset="0.1618" stop-color="#02fffd"/><stop offset="0.3382" stop-color="#87ff78"/><stop offset="0.4879" stop-color="#ffff00"/><stop offset="0.657" stop-color="#ff8300"/><stop offset="0.8019" stop-color="#ff0f00"/><stop offset="0.8237" stop-color="#fe0000"/><stop offset="0.9179" stop-color="#c40000"/><stop offset="1" stop-color="#990000"/></linearGradient><linearGradient id="TR65" x2="0" y2="1"><stop offset="0" stop-color="#000080"/><stop offset="0.007246" stop-color="#00009e"/><stop offset="0.01449" stop-color="#0000d1"/><stop offset="0.01691" stop-color="#0000fa"/><stop offset="0.01932" stop-color="#0024ff"/><stop offset="0.02174" stop-color="#004dff"/><stop offset="0.02657" stop-color="#0094ff"/><stop offset="0.1594" stop-color="#00ffff"/><stop offset="0.1618" stop-color="#02fffd"/><stop offset="0.3382" stop-color="#87ff78"/><stop offset="0.4879" stop-color="#ffff00"/><stop offset="0.657" stop-color="#ff8300"/><stop offset="0.8019" stop-color="#ff0f00"/><stop offset="0.8237" stop-color="#fe0000"/><stop offset="0.9179" stop-color="#c40000"/><stop offset="1" stop-color="#990000"/></linearGradient><linearGradient id="TR66" x2="0" y2="1"><stop offset="0" stop-color="#000080"/><stop offset="0.007246" stop-color="#00009e"/><stop offset="0.01449" stop-color="#0000d1"/><stop offset="0.01691" stop-color="#0000fa"/><stop offset="0.01932" stop-color="#0024ff"/><stop offset="0.02174" stop-color="#004dff"/><stop offset="0.02657" stop-color="#0094ff"/><stop offset="0.1594" stop-color="#00ffff"/><stop offset="0.1618" stop-color="#02fffd"/><stop offset="0.3382" stop-color="#87ff78"/><stop offset="0.4879" stop-color="#ffff00"/><stop offset="0.657" stop-color="#ff8300"/><stop offset="0.8019" stop-color="#ff0f00"/><stop offset="0.8237" stop-color="#fe0000"/><stop offset="0.9179" stop-color="#c40000"/><stop offset="1" stop-color="#990000"/></linearGradient><linearGradient id="TR67" x2="0" y2="1"><stop offset="0" stop-color="#000080"/><stop offset="0.007246" stop-color="#00009e"/><stop offset="0.01449" stop-color="#0000d1"/><stop offset="0.01691" stop-color="#0000fa"/><stop offset="0.01932" stop-color="#0024ff"/><stop offset="0.02174" stop-color="#004dff"/><stop offset="0.02657" stop-color="#0094ff"/><stop offset="0.1594" stop-color="#00ffff"/><stop offset="0.1618" stop-color="#02fffd"/><stop offset="0.3382" stop-color="#87ff78"/><stop offset="0.4879" stop-color="#ffff00"/><stop offset="0.657" stop-color="#ff8300"/><stop offset="0.8019" stop-color="#ff0f00"/><stop offset="0.8237" stop-color="#fe0000"/><stop offset="0.9179" stop-color="#c40000"/><stop offset="1" stop-color="#990000"/></linearGradient><linearGradient id="TR68" x2="0" y2="1"><stop offset="0" stop-color="#000080"/><stop offset="0.007246" stop-color="#00009e"/><stop offset="0.01449" stop-color="#0000d1"/><stop offset="0.01691" stop-color="#0000fa"/><stop offset="0.01932" stop-color="#0024ff"/><stop offset="0.02174" stop-color="#004dff"/><stop offset="0.02657" stop-color="#0094ff"/><stop offset="0.1594" stop-color="#00ffff"/><stop offset="0.1618" stop-color="#02fffd"/><stop offset="0.3382" stop-color="#87ff78"/><stop offset="0.4879" stop-color="#ffff00"/><stop offset="0.657" stop-color="#ff8300"/><stop offset="0.8019" stop-color="#ff0f00"/><stop offset="0.8237" stop-color="#fe0000"/><stop offset="0.9179" stop-color="#c40000"/><stop offset="1" stop-color="#990000"/></linearGradient><linearGradient id="TR69" x2="0" y2="1"><stop offset="0" stop-color="#000080"/><stop offset="0.007246" stop-color="#00009e"/><stop offset="0.01449" stop-color="#0000d1"/><stop offset="0.01691" stop-color="#0000fa"/><stop offset="0.01932" stop-color="#0024ff"/><stop offset="0.02174" stop-color="#004dff"/><stop offset="0.02657" stop-color="#0094ff"/><stop offset="0.1594" stop-color="#00ffff"/><stop offset="0.1618" stop-color="#02fffd"/><stop offset="0.3382" stop-color="#87ff78"/><stop offset="0.4879" stop-color="#ffff00"/><stop offset="0.657" stop-color="#ff8300"/><stop offset="0.8019" stop-color="#ff0f00"/><stop offset="0.8237" stop-color="#fe0000"/><stop offset="0.9179" stop-color="#c40000"/><stop offset="1" stop-color="#990000"/></linearGradient><linearGradient id="TR70" x2="0" y2="1"><stop offset="0" stop-color="#000080"/><stop offset="0.007246" stop-color="#00009e"/><stop offset="0.01449" stop-color="#0000d1"/><stop offset="0.01691" stop-color="#0000fa"/><stop offset="0.01932" stop-color="#0024ff"/><stop offset="0.02174" stop-color="#004dff"/><stop offset="0.02657" stop-color="#0094ff"/><stop offset="0.1594" stop-color="#00ffff"/><stop offset="0.1618" stop-color="#02fffd"/><stop offset="0.3382" stop-color="#87ff78"/><stop offset="0.4879" stop-color="#ffff00"/><stop offset="0.657" stop-color="#ff8300"/><stop offset="0.8019" stop-color="#ff0f00"/><stop offset="0.8237" stop-color="#fe0000"/><stop offset="0.9179" stop-color="#c40000"/><stop offset="1" stop-color="#990000"/></linearGradient><linearGradient id="TR71" x2="0" y2="1"><stop offset="0" stop-color="#000080"/><stop offset="0.007246" stop-color="#00009e"/><stop offset="0.01449" stop-color="#0000d1"/><stop offset="0.01691" stop-color="#0000fa"/><stop offset="0.01932" stop-color="#0024ff"/><stop offset="0.02174" stop-color="#004dff"/><stop offset="0.02657" stop-color="#0094ff"/><stop offset="0.1594" stop-color="#00ffff"/><stop offset="0.1618" stop-color="#02fffd"/><stop offset="0.3382" stop-color="#87ff78"/><stop offset="0.4879" stop-color="#ffff00"/><stop offset="0.657" stop-color="#ff8300"/><stop offset="0.8019" stop-color="#ff0f00"/><stop offset="0.8237" stop-color="#fe0000"/><stop offset="0.9179" stop-color="#c40000"/><stop offset="1" stop-color="#990000"/></linearGradient><linearGradient id="TR72" x2="0" y2="1"><stop offset="0" stop-color="#000080"/><stop offset="0.007246" stop-color="#00009e"/><stop offset="0.01449" stop-color="#0000d1"/><stop offset="0.01691" stop-color="#0000fa"/><stop offset="0.01932" stop-color="#0024ff"/><stop offset="0.02174" stop-color="#004dff"/><stop offset="0.02657" stop-color="#0094ff"/><stop offset="0.1594" stop-color="#00ffff"/><stop offset="0.1618" stop-color="#02fffd"/><stop offset="0.3382" stop-color="#87ff78"/><stop offset="0.4879" stop-color="#ffff00"/><stop offset="0.657" stop-color="#ff8300"/><stop offset="0.8019" stop-color="#ff0f00"/><stop offset="0.8237" stop-color="#fe0000"/><stop offset="0.9179" stop-color="#c40000"/><stop offset="1" stop-color="#990000"/></linearGradient><linearGradient id="TR73" x2="0" y2="1"><stop offset="0" stop-color="#000080"/><stop offset="0.007246" stop-color="#00009e"/><stop offset="0.01449" stop-color="#0000d1"/><stop offset="0.01691" stop-color="#0000fa"/><stop offset="0.01932" stop-color="#0024ff"/><stop offset="0.02174" stop-color="#004dff"/><stop offset="0.02657" stop-color="#0094ff"/><stop offset="0.1594" stop-color="#00ffff"/><stop offset="0.1618" stop-color="#02fffd"/><stop offset="0.3382" stop-color="#87ff78"/><stop offset="0.4879" stop-color="#ffff00"/><stop offset="0.657" stop-color="#ff8300"/><stop offset="0.8019" stop-color="#ff0f00"/><stop offset="0.8237" stop-color="#fe0000"/><stop offset="0.9179" stop-color="#c40000"/><stop offset="1" stop-color="#990000"/></linearGradient><linearGradient id="TR74" x2="0" y2="1"><stop offset="0" stop-color="#000080"/><stop offset="0.007246" stop-color="#00009e"/><stop offset="0.01449" stop-color="#0000d1"/><stop offset="0.01691" stop-color="#0000fa"/><stop offset="0.01932" stop-color="#0024ff"/><stop offset="0.02174" stop-color="#004dff"/><stop offset="0.02657" stop-color="#0094ff"/><stop offset="0.1594" stop-color="#00ffff"/><stop offset="0.1618" stop-color="#02fffd"/><stop offset="0.3382" stop-color="#87ff78"/><stop offset="0.4879" stop-color="#ffff00"/><stop offset="0.657" stop-color="#ff8300"/><stop offset="0.8019" stop-color="#ff0f00"/><stop offset="0.8237" stop-color="#fe0000"/><stop offset="0.9179" stop-color="#c40000"/><stop offset="1" stop-color="#990000"/></linearGradient><linearGradient id="TR75" x2="0" y2="1"><stop offset="0" stop-color="#000080"/><stop offset="0.007246" stop-color="#00009e"/><stop offset="0.01449" stop-color="#0000d1"/><stop offset="0.01691" stop-color="#0000fa"/><stop offset="0.01932" stop-color="#0024ff"/><stop offset="0.02174" stop-color="#004dff"/><stop offset="0.02657" stop-color="#0094ff"/><stop offset="0.1594" stop-color="#00ffff"/><stop offset="0.1618" stop-color="#02fffd"/><stop offset="0.3382" stop-color="#87ff78"/><stop offset="0.4879" stop-color="#ffff00"/><stop offset="0.657" stop-color="#ff8300"/><stop offset="0.8019" stop-color="#ff0f00"/><stop offset="0.8237" stop-color="#fe0000"/><stop offset="0.9179" stop-color="#c40000"/><stop offset="1" stop-color="#990000"/></linearGradient><linearGradient id="TR76" x2="0" y2="1"><stop offset="0" stop-color="#000080"/><stop offset="0.007246" stop-color="#00009e"/><stop offset="0.01449" stop-color="#0000d1"/><stop offset="0.01691" stop-color="#0000fa"/><stop offset="0.01932" stop-color="#0024ff"/><stop offset="0.02174" stop-color="#004dff"/><stop offset="0.02657" stop-color="#0094ff"/><stop offset="0.1594" stop-color="#00ffff"/><stop offset="0.1618" stop-color="#02fffd"/><stop offset="0.3382" stop-color="#87ff78"/><stop offset="0.4879" stop-color="#ffff00"/><stop offset="0.657" stop-color="#ff8300"/><stop offset="0.8019" stop-color="#ff0f00"/><stop offset="0.8237" stop-color="#fe0000"/><stop offset="0.9179" stop-color="#c40000"/><stop offset="1" stop-color="#990000"/></linearGradient><linearGradient id="TR77" x2="0" y2="1"><stop offset="0" stop-color="#000080"/><stop offset="0.007246" stop-color="#00009e"/><stop offset="0.01449" stop-color="#0000d1"/><stop offset="0.01691" stop-color="#0000fa"/><stop offset="0.01932" stop-color="#0024ff"/><stop offset="0.02174" stop-color="#004dff"/><stop offset="0.02657" stop-color="#0094ff"/><stop offset="0.1594" stop-color="#00ffff"/><stop offset="0.1618" stop-color="#02fffd"/><stop offset="0.3382" stop-color="#87ff78"/><stop offset="0.4879" stop-color="#ffff00"/><stop offset="0.657" stop-color="#ff8300"/><stop offset="0.8019" stop-color="#ff0f00"/><stop offset="0.8237" stop-color="#fe0000"/><stop offset="0.9179" stop-color="#c40000"/><stop offset="1" stop-color="#990000"/></linearGradient><linearGradient id="TR78" x2="0" y2="1"><stop offset="0" stop-color="#000080"/><stop offset="0.007246" stop-color="#00009e"/><stop offset="0.01449" stop-color="#0000d1"/><stop offset="0.01691" stop-color="#0000fa"/><stop offset="0.01932" stop-color="#0024ff"/><stop offset="0.02174" stop-color="#004dff"/><stop offset="0.02657" stop-color="#0094ff"/><stop offset="0.1594" stop-color="#00ffff"/><stop offset="0.1618" stop-color="#02fffd"/><stop offset="0.3382" stop-color="#87ff78"/><stop offset="0.4879" stop-color="#ffff00"/><stop offset="0.657" stop-color="#ff8300"/><stop offset="0.8019" stop-color="#ff0f00"/><stop offset="0.8237" stop-color="#fe0000"/><stop offset="0.9179" stop-color="#c40000"/><stop offset="1" stop-color="#990000"/></linearGradient><linearGradient id="TR79" x2="0" y2="1"><stop offset="0" stop-color="#000080"/><stop offset="0.007246" stop-color="#00009e"/><stop offset="0.01449" stop-color="#0000d1"/><stop offset="0.01691" stop-color="#0000fa"/><stop offset="0.01932" stop-color="#0024ff"/><stop offset="0.02174" stop-color="#004dff"/><stop offset="0.02657" stop-color="#0094ff"/><stop offset="0.1594" stop-color="#00ffff"/><stop offset="0.1618" stop-color="#02fffd"/><stop offset="0.3382" stop-color="#87ff78"/><stop offset="0.4879" stop-color="#ffff00"/><stop offset="0.657" stop-color="#ff8300"/><stop offset="0.8019" stop-color="#ff0f00"/><stop offset="0.8237" stop-color="#fe0000"/><stop offset="0.9179" stop-color="#c40000"/><stop offset="1" stop-color="#990000"/></linearGradient><linearGradient id="TR80" x2="0" y2="1"><stop offset="0" stop-color="#000080"/><stop offset="0.007246" stop-color="#00009e"/><stop offset="0.01449" stop-color="#0000d1"/><stop offset="0.01691" stop-color="#0000fa"/><stop offset="0.01932" stop-color="#0024ff"/><stop offset="0.02174" stop-color="#004dff"/><stop offset="0.02657" stop-color="#0094ff"/><stop offset="0.1594" stop-color="#00ffff"/><stop offset="0.1618" stop-color="#02fffd"/><stop offset="0.3382" stop-color="#87ff78"/><stop offset="0.4879" stop-color="#ffff00"/><stop offset="0.657" stop-color="#ff8300"/><stop offset="0.8019" stop-color="#ff0f00"/><stop offset="0.8237" stop-color="#fe0000"/><stop offset="0.9179" stop-color="#c40000"/><stop offset="1" stop-color="#990000"/></linearGradient><linearGradient id="TR81" x2="0" y2="1"><stop offset="0" stop-color="#000080"/><stop offset="0.007246" stop-color="#00009e"/><stop offset="0.01449" stop-color="#0000d1"/><stop offset="0.01691" stop-color="#0000fa"/><stop offset="0.01932" stop-color="#0024ff"/><stop offset="0.02174" stop-color="#004dff"/><stop offset="0.02657" stop-color="#0094ff"/><stop offset="0.1594" stop-color="#00ffff"/><stop offset="0.1618" stop-color="#02fffd"/><stop offset="0.3382" stop-color="#87ff78"/><stop offset="0.4879" stop-color="#ffff00"/><stop offset="0.657" stop-color="#ff8300"/><stop offset="0.8019" stop-color="#ff0f00"/><stop offset="0.8237" stop-color="#fe0000"/><stop offset="0.9179" stop-color="#c40000"/><stop offset="1" stop-color="#990000"/></linearGradient><linearGradient id="TR82" x2="0" y2="1"><stop offset="0" stop-color="#000080"/><stop offset="0.007246" stop-color="#00009e"/><stop offset="0.01449" stop-color="#0000d1"/><stop offset="0.01691" stop-color="#0000fa"/><stop offset="0.01932" stop-color="#0024ff"/><stop offset="0.02174" stop-color="#004dff"/><stop offset="0.02657" stop-color="#0094ff"/><stop offset="0.1594" stop-color="#00ffff"/><stop offset="0.1618" stop-color="#02fffd"/><stop offset="0.3382" stop-color="#87ff78"/><stop offset="0.4879" stop-color="#ffff00"/><stop offset="0.657" stop-color="#ff8300"/><stop offset="0.8019" stop-color="#ff0f00"/><stop offset="0.8237" stop-color="#fe0000"/><stop offset="0.9179" stop-color="#c40000"/><stop offset="1" stop-color="#990000"/></linearGradient><linearGradient id="TR83" x2="0" y2="1"><stop offset="0" stop-color="#000080"/><stop offset="0.007246" stop-color="#00009e"/><stop offset="0.01449" stop-color="#0000d1"/><stop offset="0.01691" stop-color="#0000fa"/><stop offset="0.01932" stop-color="#0024ff"/><stop offset="0.02174" stop-color="#004dff"/><stop offset="0.02657" stop-color="#0094ff"/><stop offset="0.1594" stop-color="#00ffff"/><stop offset="0.1618" stop-color="#02fffd"/><stop offset="0.3382" stop-color="#87ff78"/><stop offset="0.4879" stop-color="#ffff00"/><stop offset="0.657" stop-color="#ff8300"/><stop offset="0.8019" stop-color="#ff0f00"/><stop offset="0.8237" stop-color="#fe0000"/><stop offset="0.9179" stop-color="#c40000"/><stop offset="1" stop-color="#990000"/></linearGradient><linearGradient id="TR84" x2="0" y2="1"><stop offset="0" stop-color="#000080"/><stop offset="0.007246" stop-color="#00009e"/><stop offset="0.01449" stop-color="#0000d1"/><stop offset="0.01691" stop-color="#0000fa"/><stop offset="0.01932" stop-color="#0024ff"/><stop offset="0.02174" stop-color="#004dff"/><stop offset="0.02657" stop-color="#0094ff"/><stop offset="0.1594" stop-color="#00ffff"/><stop offset="0.1618" stop-color="#02fffd"/><stop offset="0.3382" stop-color="#87ff78"/><stop offset="0.4879" stop-color="#ffff00"/><stop offset="0.657" stop-color="#ff8300"/><stop offset="0.8019" stop-color="#ff0f00"/><stop offset="0.8237" stop-color="#fe0000"/><stop offset="0.9179" stop-color="#c40000"/><stop offset="1" stop-color="#990000"/></linearGradient><linearGradient id="TR85" x2="0" y2="1"><stop offset="0" stop-color="#000080"/><stop offset="0.007246" stop-color="#00009e"/><stop offset="0.01449" stop-color="#0000d1"/><stop offset="0.01691" stop-color="#0000fa"/><stop offset="0.01932" stop-color="#0024ff"/><stop offset="0.02174" stop-color="#004dff"/><stop offset="0.02657" stop-color="#0094ff"/><stop offset="0.1594" stop-color="#00ffff"/><stop offset="0.1618" stop-color="#02fffd"/><stop offset="0.3382" stop-color="#87ff78"/><stop offset="0.4879" stop-color="#ffff00"/><stop offset="0.657" stop-color="#ff8300"/><stop offset="0.8019" stop-color="#ff0f00"/><stop offset="0.8237" stop-color="#fe0000"/><stop offset="0.9179" stop-color="#c40000"/><stop offset="1" stop-color="#990000"/></linearGradient><linearGradient id="TR86" x2="0" y2="1"><stop offset="0" stop-color="#000080"/><stop offset="0.007246" stop-color="#00009e"/><stop offset="0.01449" stop-color="#0000d1"/><stop offset="0.01691" stop-color="#0000fa"/><stop offset="0.01932" stop-color="#0024ff"/><stop offset="0.02174" stop-color="#004dff"/><stop offset="0.02657" stop-color="#0094ff"/><stop offset="0.1594" stop-color="#00ffff"/><stop offset="0.1618" stop-color="#02fffd"/><stop offset="0.3382" stop-color="#87ff78"/><stop offset="0.4879" stop-color="#ffff00"/><stop offset="0.657" stop-color="#ff8300"/><stop offset="0.8019" stop-color="#ff0f00"/><stop offset="0.8237" stop-color="#fe0000"/><stop offset="0.9179" stop-color="#c40000"/><stop offset="1" stop-color="#990000"/></linearGradient><linearGradient id="TR87" x2="0" y2="1"><stop offset="0" stop-color="#000080"/><stop offset="0.007246" stop-color="#00009e"/><stop offset="0.01449" stop-color="#0000d1"/><stop offset="0.01691" stop-color="#0000fa"/><stop offset="0.01932" stop-color="#0024ff"/><stop offset="0.02174" stop-color="#004dff"/><stop offset="0.02657" stop-color="#0094ff"/><stop offset="0.1594" stop-color="#00ffff"/><stop offset="0.1618" stop-color="#02fffd"/><stop offset="0.3382" stop-color="#87ff78"/><stop offset="0.4879" stop-color="#ffff00"/><stop offset="0.657" stop-color="#ff8300"/><stop offset="0.8019" stop-color="#ff0f00"/><stop offset="0.8237" stop-color="#fe0000"/><stop offset="0.9179" stop-color="#c40000"/><stop offset="1" stop-color="#990000"/></linearGradient><linearGradient id="TR88" x2="0" y2="1"><stop offset="0" stop-color="#000080"/><stop offset="0.007246" stop-color="#00009e"/><stop offset="0.01449" stop-color="#0000d1"/><stop offset="0.01691" stop-color="#0000fa"/><stop offset="0.01932" stop-color="#0024ff"/><stop offset="0.02174" stop-color="#004dff"/><stop offset="0.02657" stop-color="#0094ff"/><stop offset="0.1594" stop-color="#00ffff"/><stop offset="0.1618" stop-color="#02fffd"/><stop offset="0.3382" stop-color="#87ff78"/><stop offset="0.4879" stop-color="#ffff00"/><stop offset="0.657" stop-color="#ff8300"/><stop offset="0.8019" stop-color="#ff0f00"/><stop offset="0.8237" stop-color="#fe0000"/><stop offset="0.9179" stop-color="#c40000"/><stop offset="1" stop-color="#990000"/></linearGradient><linearGradient id="TR89" x2="0" y2="1"><stop offset="0" stop-color="#000080"/><stop offset="0.007246" stop-color="#00009e"/><stop offset="0.01449" stop-color="#0000d1"/><stop offset="0.01691" stop-color="#0000fa"/><stop offset="0.01932" stop-color="#0024ff"/><stop offset="0.02174" stop-color="#004dff"/><stop offset="0.02657" stop-color="#0094ff"/><stop offset="0.1594" stop-color="#00ffff"/><stop offset="0.1618" stop-color="#02fffd"/><stop offset="0.3382" stop-color="#87ff78"/><stop offset="0.4879" stop-color="#ffff00"/><stop offset="0.657" stop-color="#ff8300"/><stop offset="0.8019" stop-color="#ff0f00"/><stop offset="0.8237" stop-color="#fe0000"/><stop offset="0.9179" stop-color="#c40000"/><stop offset="1" stop-color="#990000"/></linearGradient><linearGradient id="TR90" x2="0" y2="1"><stop offset="0" stop-color="#000080"/><stop offset="0.007246" stop-color="#00009e"/><stop offset="0.01449" stop-color="#0000d1"/><stop offset="0.01691" stop-color="#0000fa"/><stop offset="0.01932" stop-color="#0024ff"/><stop offset="0.02174" stop-color="#004dff"/><stop offset="0.02657" stop-color="#0094ff"/><stop offset="0.1594" stop-color="#00ffff"/><stop offset="0.1618" stop-color="#02fffd"/><stop offset="0.3382" stop-color="#87ff78"/><stop offset="0.4879" stop-color="#ffff00"/><stop offset="0.657" stop-color="#ff8300"/><stop offset="0.8019" stop-color="#ff0f00"/><stop offset="0.8237" stop-color="#fe0000"/><stop offset="0.9179" stop-color="#c40000"/><stop offset="1" stop-color="#990000"/></linearGradient><linearGradient id="TR91" x2="0" y2="1"><stop offset="0" stop-color="#000080"/><stop offset="0.007246" stop-color="#00009e"/><stop offset="0.01449" stop-color="#0000d1"/><stop offset="0.01691" stop-color="#0000fa"/><stop offset="0.01932" stop-color="#0024ff"/><stop offset="0.02174" stop-color="#004dff"/><stop offset="0.02657" stop-color="#0094ff"/><stop offset="0.1594" stop-color="#00ffff"/><stop offset="0.1618" stop-color="#02fffd"/><stop offset="0.3382" stop-color="#87ff78"/><stop offset="0.4879" stop-color="#ffff00"/><stop offset="0.657" stop-color="#ff8300"/><stop offset="0.8019" stop-color="#ff0f00"/><stop offset="0.8237" stop-color="#fe0000"/><stop offset="0.9179" stop-color="#c40000"/><stop offset="1" stop-color="#990000"/></linearGradient><linearGradient id="TR92" x2="0" y2="1"><stop offset="0" stop-color="#000080"/><stop offset="0.007246" stop-color="#00009e"/><stop offset="0.01449" stop-color="#0000d1"/><stop offset="0.01691" stop-color="#0000fa"/><stop offset="0.01932" stop-color="#0024ff"/><stop offset="0.02174" stop-color="#004dff"/><stop offset="0.02657" stop-color="#0094ff"/><stop offset="0.1594" stop-color="#00ffff"/><stop offset="0.1618" stop-color="#02fffd"/><stop offset="0.3382" stop-color="#87ff78"/><stop offset="0.4879" stop-color="#ffff00"/><stop offset="0.657" stop-color="#ff8300"/><stop offset="0.8019" stop-color="#ff0f00"/><stop offset="0.8237" stop-color="#fe0000"/><stop offset="0.9179" stop-color="#c40000"/><stop offset="1" stop-color="#990000"/></linearGradient><linearGradient id="TR93" x2="0" y2="1"><stop offset="0" stop-color="#000080"/><stop offset="0.007246" stop-color="#00009e"/><stop offset="0.01449" stop-color="#0000d1"/><stop offset="0.01691" stop-color="#0000fa"/><stop offset="0.01932" stop-color="#0024ff"/><stop offset="0.02174" stop-color="#004dff"/><stop offset="0.02657" stop-color="#0094ff"/><stop offset="0.1594" stop-color="#00ffff"/><stop offset="0.1618" stop-color="#02fffd"/><stop offset="0.3382" stop-color="#87ff78"/><stop offset="0.4879" stop-color="#ffff00"/><stop offset="0.657" stop-color="#ff8300"/><stop offset="0.8019" stop-color="#ff0f00"/><stop offset="0.8237" stop-color="#fe0000"/><stop offset="0.9179" stop-color="#c40000"/><stop offset="1" stop-color="#990000"/></linearGradient><linearGradient id="TR94" x2="0" y2="1"><stop offset="0" stop-color="#000080"/><stop offset="0.007246" stop-color="#00009e"/><stop offset="0.01449" stop-color="#0000d1"/><stop offset="0.01691" stop-color="#0000fa"/><stop offset="0.01932" stop-color="#0024ff"/><stop offset="0.02174" stop-color="#004dff"/><stop offset="0.02657" stop-color="#0094ff"/><stop offset="0.1594" stop-color="#00ffff"/><stop offset="0.1618" stop-color="#02fffd"/><stop offset="0.3382" stop-color="#87ff78"/><stop offset="0.4879" stop-color="#ffff00"/><stop offset="0.657" stop-color="#ff8300"/><stop offset="0.8019" stop-color="#ff0f00"/><stop offset="0.8237" stop-color="#fe0000"/><stop offset="0.9179" stop-color="#c40000"/><stop offset="1" stop-color="#990000"/></linearGradient><linearGradient id="TR95" x2="0" y2="1"><stop offset="0" stop-color="#000080"/><stop offset="0.007246" stop-color="#00009e"/><stop offset="0.01449" stop-color="#0000d1"/><stop offset="0.01691" stop-color="#0000fa"/><stop offset="0.01932" stop-color="#0024ff"/><stop offset="0.02174" stop-color="#004dff"/><stop offset="0.02657" stop-color="#0094ff"/><stop offset="0.1594" stop-color="#00ffff"/><stop offset="0.1618" stop-color="#02fffd"/><stop offset="0.3382" stop-color="#87ff78"/><stop offset="0.4879" stop-color="#ffff00"/><stop offset="0.657" stop-color="#ff8300"/><stop offset="0.8019" stop-color="#ff0f00"/><stop offset="0.8237" stop-color="#fe0000"/><stop offset="0.9179" stop-color="#c40000"/><stop offset="1" stop-color="#990000"/></linearGradient><linearGradient id="TR96" x2="0" y2="1"><stop offset="0" stop-color="#000080"/><stop offset="0.007246" stop-color="#00009e"/><stop offset="0.01449" stop-color="#0000d1"/><stop offset="0.01691" stop-color="#0000fa"/><stop offset="0.01932" stop-color="#0024ff"/><stop offset="0.02174" stop-color="#004dff"/><stop offset="0.02657" stop-color="#0094ff"/><stop offset="0.1594" stop-color="#00ffff"/><stop offset="0.1618" stop-color="#02fffd"/><stop offset="0.3382" stop-color="#87ff78"/><stop offset="0.4879" stop-color="#ffff00"/><stop offset="0.657" stop-color="#ff8300"/><stop offset="0.8019" stop-color="#ff0f00"/><stop offset="0.8237" stop-color="#fe0000"/><stop offset="0.9179" stop-color="#c40000"/><stop offset="1" stop-color="#990000"/></linearGradient><linearGradient id="TR97" x2="0" y2="1"><stop offset="0" stop-color="#000080"/><stop offset="0.007246" stop-color="#00009e"/><stop offset="0.01449" stop-color="#0000d1"/><stop offset="0.01691" stop-color="#0000fa"/><stop offset="0.01932" stop-color="#0024ff"/><stop offset="0.02174" stop-color="#004dff"/><stop offset="0.02657" stop-color="#0094ff"/><stop offset="0.1594" stop-color="#00ffff"/><stop offset="0.1618" stop-color="#02fffd"/><stop offset="0.3382" stop-color="#87ff78"/><stop offset="0.4879" stop-color="#ffff00"/><stop offset="0.657" stop-color="#ff8300"/><stop offset="0.8019" stop-color="#ff0f00"/><stop offset="0.8237" stop-color="#fe0000"/><stop offset="0.9179" stop-color="#c40000"/><stop offset="1" stop-color="#990000"/></linearGradient><linearGradient id="TR98" x2="0" y2="1"><stop offset="0" stop-color="#000080"/><stop offset="0.007246" stop-color="#00009e"/><stop offset="0.01449" stop-color="#0000d1"/><stop offset="0.01691" stop-color="#0000fa"/><stop offset="0.01932" stop-color="#0024ff"/><stop offset="0.02174" stop-color="#004dff"/><stop offset="0.02657" stop-color="#0094ff"/><stop offset="0.1594" stop-color="#00ffff"/><stop offset="0.1618" stop-color="#02fffd"/><stop offset="0.3382" stop-color="#87ff78"/><stop offset="0.4879" stop-color="#ffff00"/><stop offset="0.657" stop-color="#ff8300"/><stop offset="0.8019" stop-color="#ff0f00"/><stop offset="0.8237" stop-color="#fe0000"/><stop offset="0.9179" stop-color="#c40000"/><stop offset="1" stop-color="#990000"/></linearGradient><linearGradient id="TR99" x2="0" y2="1"><stop offset="0" stop-color="#000080"/><stop offset="0.007246" stop-color="#00009e"/><stop offset="0.01449" stop-color="#0000d1"/><stop offset="0.01691" stop-color="#0000fa"/><stop offset="0.01932" stop-color="#0024ff"/><stop offset="0.02174" stop-color="#004dff"/><stop offset="0.02657" stop-color="#0094ff"/><stop offset="0.1594" stop-color="#00ffff"/><stop offset="0.1618" stop-color="#02fffd"/><stop offset="0.3382" stop-color="#87ff78"/><stop offset="0.4879" stop-color="#ffff00"/><stop offset="0.657" stop-color="#ff8300"/><stop offset="0.8019" stop-color="#ff0f00"/><stop offset="0.8237" stop-color="#fe0000"/><stop offset="0.9179" stop-color="#c40000"/><stop offset="1" stop-color="#990000"/></linearGradient><linearGradient id="TR100" x2="0" y2="1"><stop offset="0" stop-color="#000080"/><stop offset="0.007246" stop-color="#00009e"/><stop offset="0.01449" stop-color="#0000d1"/><stop offset="0.01691" stop-color="#0000fa"/><stop offset="0.01932" stop-color="#0024ff"/><stop offset="0.02174" stop-color="#004dff"/><stop offset="0.02657" stop-color="#0094ff"/><stop offset="0.1594" stop-color="#00ffff"/><stop offset="0.1618" stop-color="#02fffd"/><stop offset="0.3382" stop-color="#87ff78"/><stop offset="0.4879" stop-color="#ffff00"/><stop offset="0.657" stop-color="#ff8300"/><stop offset="0.8019" stop-color="#ff0f00"/><stop offset="0.8237" stop-color="#fe0000"/><stop offset="0.9179" stop-color="#c40000"/><stop offset="1" stop-color="#990000"/></linearGradient><linearGradient id="TR101" x2="0" y2="1"><stop offset="0" stop-color="#000080"/><stop offset="0.007246" stop-color="#00009e"/><stop offset="0.01449" stop-color="#0000d1"/><stop offset="0.01691" stop-color="#0000fa"/><stop offset="0.01932" stop-color="#0024ff"/><stop offset="0.02174" stop-color="#004dff"/><stop offset="0.02657" stop-color="#0094ff"/><stop offset="0.1594" stop-color="#00ffff"/><stop offset="0.1618" stop-color="#02fffd"/><stop offset="0.3382" stop-color="#87ff78"/><stop offset="0.4879" stop-color="#ffff00"/><stop offset="0.657" stop-color="#ff8300"/><stop offset="0.8019" stop-color="#ff0f00"/><stop offset="0.8237" stop-color="#fe0000"/><stop offset="0.9179" stop-color="#c40000"/><stop offset="1" stop-color="#990000"/></linearGradient><linearGradient id="TR102" x2="0" y2="1"><stop offset="0" stop-color="#000080"/><stop offset="0.007246" stop-color="#00009e"/><stop offset="0.01449" stop-color="#0000d1"/><stop offset="0.01691" stop-color="#0000fa"/><stop offset="0.01932" stop-color="#0024ff"/><stop offset="0.02174" stop-color="#004dff"/><stop offset="0.02657" stop-color="#0094ff"/><stop offset="0.1594" stop-color="#00ffff"/><stop offset="0.1618" stop-color="#02fffd"/><stop offset="0.3382" stop-color="#87ff78"/><stop offset="0.4879" stop-color="#ffff00"/><stop offset="0.657" stop-color="#ff8300"/><stop offset="0.8019" stop-color="#ff0f00"/><stop offset="0.8237" stop-color="#fe0000"/><stop offset="0.9179" stop-color="#c40000"/><stop offset="1" stop-color="#990000"/></linearGradient><linearGradient id="TR103" x2="0" y2="1"><stop offset="0" stop-color="#000080"/><stop offset="0.007246" stop-color="#00009e"/><stop offset="0.01449" stop-color="#0000d1"/><stop offset="0.01691" stop-color="#0000fa"/><stop offset="0.01932" stop-color="#0024ff"/><stop offset="0.02174" stop-color="#004dff"/><stop offset="0.02657" stop-color="#0094ff"/><stop offset="0.1594" stop-color="#00ffff"/><stop offset="0.1618" stop-color="#02fffd"/><stop offset="0.3382" stop-color="#87ff78"/><stop offset="0.4879" stop-color="#ffff00"/><stop offset="0.657" stop-color="#ff8300"/><stop offset="0.8019" stop-color="#ff0f00"/><stop offset="0.8237" stop-color="#fe0000"/><stop offset="0.9179" stop-color="#c40000"/><stop offset="1" stop-color="#990000"/></linearGradient><linearGradient id="TR104" x2="0" y2="1"><stop offset="0" stop-color="#000080"/><stop offset="0.007246" stop-color="#00009e"/><stop offset="0.01449" stop-color="#0000d1"/><stop offset="0.01691" stop-color="#0000fa"/><stop offset="0.01932" stop-color="#0024ff"/><stop offset="0.02174" stop-color="#004dff"/><stop offset="0.02657" stop-color="#0094ff"/><stop offset="0.1594" stop-color="#00ffff"/><stop offset="0.1618" stop-color="#02fffd"/><stop offset="0.3382" stop-color="#87ff78"/><stop offset="0.4879" stop-color="#ffff00"/><stop offset="0.657" stop-color="#ff8300"/><stop offset="0.8019" stop-color="#ff0f00"/><stop offset="0.8237" stop-color="#fe0000"/><stop offset="0.9179" stop-color="#c40000"/><stop offset="1" stop-color="#990000"/></linearGradient><linearGradient id="TR105" x2="0" y2="1"><stop offset="0" stop-color="#000080"/><stop offset="0.007246" stop-color="#00009e"/><stop offset="0.01449" stop-color="#0000d1"/><stop offset="0.01691" stop-color="#0000fa"/><stop offset="0.01932" stop-color="#0024ff"/><stop offset="0.02174" stop-color="#004dff"/><stop offset="0.02657" stop-color="#0094ff"/><stop offset="0.1594" stop-color="#00ffff"/><stop offset="0.1618" stop-color="#02fffd"/><stop offset="0.3382" stop-color="#87ff78"/><stop offset="0.4879" stop-color="#ffff00"/><stop offset="0.657" stop-color="#ff8300"/><stop offset="0.8019" stop-color="#ff0f00"/><stop offset="0.8237" stop-color="#fe0000"/><stop offset="0.9179" stop-color="#c40000"/><stop offset="1" stop-color="#990000"/></linearGradient><linearGradient id="TR106" x2="0" y2="1"><stop offset="0" stop-color="#000080"/><stop offset="0.007246" stop-color="#00009e"/><stop offset="0.01449" stop-color="#0000d1"/><stop offset="0.01691" stop-color="#0000fa"/><stop offset="0.01932" stop-color="#0024ff"/><stop offset="0.02174" stop-color="#004dff"/><stop offset="0.02657" stop-color="#0094ff"/><stop offset="0.1594" stop-color="#00ffff"/><stop offset="0.1618" stop-color="#02fffd"/><stop offset="0.3382" stop-color="#87ff78"/><stop offset="0.4879" stop-color="#ffff00"/><stop offset="0.657" stop-color="#ff8300"/><stop offset="0.8019" stop-color="#ff0f00"/><stop offset="0.8237" stop-color="#fe0000"/><stop offset="0.9179" stop-color="#c40000"/><stop offset="1" stop-color="#990000"/></linearGradient><linearGradient id="TR107" x2="0" y2="1"><stop offset="0" stop-color="#000080"/><stop offset="0.007246" stop-color="#00009e"/><stop offset="0.01449" stop-color="#0000d1"/><stop offset="0.01691" stop-color="#0000fa"/><stop offset="0.01932" stop-color="#0024ff"/><stop offset="0.02174" stop-color="#004dff"/><stop offset="0.02657" stop-color="#0094ff"/><stop offset="0.1594" stop-color="#00ffff"/><stop offset="0.1618" stop-color="#02fffd"/><stop offset="0.3382" stop-color="#87ff78"/><stop offset="0.4879" stop-color="#ffff00"/><stop offset="0.657" stop-color="#ff8300"/><stop offset="0.8019" stop-color="#ff0f00"/><stop offset="0.8237" stop-color="#fe0000"/><stop offset="0.9179" stop-color="#c40000"/><stop offset="1" stop-color="#990000"/></linearGradient><linearGradient id="TR108" x2="0" y2="1"><stop offset="0" stop-color="#000080"/><stop offset="0.007246" stop-color="#00009e"/><stop offset="0.01449" stop-color="#0000d1"/><stop offset="0.01691" stop-color="#0000fa"/><stop offset="0.01932" stop-color="#0024ff"/><stop offset="0.02174" stop-color="#004dff"/><stop offset="0.02657" stop-color="#0094ff"/><stop offset="0.1594" stop-color="#00ffff"/><stop offset="0.1618" stop-color="#02fffd"/><stop offset="0.3382" stop-color="#87ff78"/><stop offset="0.4879" stop-color="#ffff00"/><stop offset="0.657" stop-color="#ff8300"/><stop offset="0.8019" stop-color="#ff0f00"/><stop offset="0.8237" stop-color="#fe0000"/><stop offset="0.9179" stop-color="#c40000"/><stop offset="1" stop-color="#990000"/></linearGradient><linearGradient id="TR109" x2="0" y2="1"><stop offset="0" stop-color="#000080"/><stop offset="0.007246" stop-color="#00009e"/><stop offset="0.01449" stop-color="#0000d1"/><stop offset="0.01691" stop-color="#0000fa"/><stop offset="0.01932" stop-color="#0024ff"/><stop offset="0.02174" stop-color="#004dff"/><stop offset="0.02657" stop-color="#0094ff"/><stop offset="0.1594" stop-color="#00ffff"/><stop offset="0.1618" stop-color="#02fffd"/><stop offset="0.3382" stop-color="#87ff78"/><stop offset="0.4879" stop-color="#ffff00"/><stop offset="0.657" stop-color="#ff8300"/><stop offset="0.8019" stop-color="#ff0f00"/><stop offset="0.8237" stop-color="#fe0000"/><stop offset="0.9179" stop-color="#c40000"/><stop offset="1" stop-color="#990000"/></linearGradient><linearGradient id="TR110" x2="0" y2="1"><stop offset="0" stop-color="#000080"/><stop offset="0.007246" stop-color="#00009e"/><stop offset="0.01449" stop-color="#0000d1"/><stop offset="0.01691" stop-color="#0000fa"/><stop offset="0.01932" stop-color="#0024ff"/><stop offset="0.02174" stop-color="#004dff"/><stop offset="0.02657" stop-color="#0094ff"/><stop offset="0.1594" stop-color="#00ffff"/><stop offset="0.1618" stop-color="#02fffd"/><stop offset="0.3382" stop-color="#87ff78"/><stop offset="0.4879" stop-color="#ffff00"/><stop offset="0.657" stop-color="#ff8300"/><stop offset="0.8019" stop-color="#ff0f00"/><stop offset="0.8237" stop-color="#fe0000"/><stop offset="0.9179" stop-color="#c40000"/><stop offset="1" stop-color="#990000"/></linearGradient><linearGradient id="TR111" x2="0" y2="1"><stop offset="0" stop-color="#000080"/><stop offset="0.007246" stop-color="#00009e"/><stop offset="0.01449" stop-color="#0000d1"/><stop offset="0.01691" stop-color="#0000fa"/><stop offset="0.01932" stop-color="#0024ff"/><stop offset="0.02174" stop-color="#004dff"/><stop offset="0.02657" stop-color="#0094ff"/><stop offset="0.1594" stop-color="#00ffff"/><stop offset="0.1618" stop-color="#02fffd"/><stop offset="0.3382" stop-color="#87ff78"/><stop offset="0.4879" stop-color="#ffff00"/><stop offset="0.657" stop-color="#ff8300"/><stop offset="0.8019" stop-color="#ff0f00"/><stop offset="0.8237" stop-color="#fe0000"/><stop offset="0.9179" stop-color="#c40000"/><stop offset="1" stop-color="#990000"/></linearGradient><linearGradient id="TR112" x2="0" y2="1"><stop offset="0" stop-color="#000080"/><stop offset="0.007246" stop-color="#00009e"/><stop offset="0.01449" stop-color="#0000d1"/><stop offset="0.01691" stop-color="#0000fa"/><stop offset="0.01932" stop-color="#0024ff"/><stop offset="0.02174" stop-color="#004dff"/><stop offset="0.02657" stop-color="#0094ff"/><stop offset="0.1594" stop-color="#00ffff"/><stop offset="0.1618" stop-color="#02fffd"/><stop offset="0.3382" stop-color="#87ff78"/><stop offset="0.4879" stop-color="#ffff00"/><stop offset="0.657" stop-color="#ff8300"/><stop offset="0.8019" stop-color="#ff0f00"/><stop offset="0.8237" stop-color="#fe0000"/><stop offset="0.9179" stop-color="#c40000"/><stop offset="1" stop-color="#990000"/></linearGradient><linearGradient id="BL0" x2="0" y2="1"><stop offset="0" stop-color="#0003ff"/><stop offset="0.08531" stop-color="#0042ff"/><stop offset="0.1517" stop-color="#007fff"/><stop offset="0.2512" stop-color="#00ffff"/><stop offset="0.3791" stop-color="#80ff7f"/><stop offset="0.5853" stop-color="#ffff00"/><stop offset="0.8483" stop-color="#ff8000"/><stop offset="1" stop-color="#ff2d00"/></linearGradient><linearGradient id="BL1" x2="0" y2="1"><stop offset="0" stop-color="#0000ff"/><stop offset="0.009479" stop-color="#0001ff"/><stop offset="0.09479" stop-color="#0042ff"/><stop offset="0.1588" stop-color="#007eff"/><stop offset="0.2512" stop-color="#00ffff"/><stop offset="0.3768" stop-color="#7fff80"/><stop offset="0.5806" stop-color="#ffff00"/><stop offset="0.8412" stop-color="#ff8000"/><stop offset="0.9976" stop-color="#ff2900"/><stop offset="1" stop-color="#ff2b00"/></linearGradient><linearGradient id="BL2" x2="0" y2="1"><stop offset="0" stop-color="#0000fa"/><stop offset="0.01422" stop-color="#0001ff"/><stop offset="0.1019" stop-color="#0041ff"/><stop offset="0.1659" stop-color="#0080ff"/><stop offset="0.2512" stop-color="#00ffff"/><stop offset="0.3744" stop-color="#7fff80"/><stop offset="0.5758" stop-color="#ffff00"/><stop offset="0.8341" stop-color="#ff8000"/><stop offset="0.9976" stop-color="#ff2500"/><stop offset="1" stop-color="#ff2900"/></linearGradient><linearGradient id="BL3" x2="0" y2="1"><stop offset="0" stop-color="#0000f5"/><stop offset="0.01896" stop-color="#0001ff"/><stop offset="0.1114" stop-color="#0044ff"/><stop offset="0.1706" stop-color="#0081ff"/><stop offset="0.2512" stop-color="#00ffff"/><stop offset="0.372" stop-color="#7fff80"/><stop offset="0.5687" stop-color="#feff01"/><stop offset="0.827" stop-color="#ff8000"/><stop offset="0.9953" stop-color="#ff2200"/><stop offset="1" stop-color="#ff2700"/></linearGradient><linearGradient id="BL4" x2="0" y2="1"><stop offset="0" stop-color="#0000f0"/><stop offset="0.0237" stop-color="#0000ff"/><stop offset="0.1137" stop-color="#0042ff"/><stop offset="0.1706" stop-color="#0080ff"/><stop offset="0.2512" stop-color="#00ffff"/><stop offset="0.3697" stop-color="#80ff80"/><stop offset="0.564" stop-color="#ffff00"/><stop offset="0.8199" stop-color="#ff7f00"/><stop offset="0.9929" stop-color="#ff1f00"/><stop offset="0.9953" stop-color="#ff1e00"/><stop offset="1" stop-color="#ff2500"/></linearGradient><linearGradient id="BL5" x2="0" y2="1"><stop offset="0" stop-color="#0000e9"/><stop offset="0.03081" stop-color="#0000ff"/><stop offset="0.1161" stop-color="#0043ff"/><stop offset="0.1682" stop-color="#007fff"/><stop offset="0.2464" stop-color="#00feff"/><stop offset="0.2488" stop-color="#02fffd"/><stop offset="0.3649" stop-color="#7fff80"/><stop offset="0.5569" stop-color="#feff01"/><stop offset="0.8104" stop-color="#ff8000"/><stop offset="0.9929" stop-color="#ff1b00"/><stop offset="1" stop-color="#ff2300"/></linearGradient><linearGradient id="BL6" x2="0" y2="1"><stop offset="0" stop-color="#0000e2"/><stop offset="0.03791" stop-color="#0000ff"/><stop offset="0.1161" stop-color="#0042ff"/><stop offset="0.1635" stop-color="#007fff"/><stop offset="0.2393" stop-color="#01fffe"/><stop offset="0.3602" stop-color="#80ff7f"/><stop offset="0.5521" stop-color="#ffff00"/><stop offset="0.8033" stop-color="#ff8000"/><stop offset="0.9905" stop-color="#ff1800"/><stop offset="0.9929" stop-color="#ff1800"/><stop offset="1" stop-color="#ff2100"/></linearGradient><linearGradient id="BL7" x2="0" y2="1"><stop offset="0" stop-color="#0000db"/><stop offset="0.004739" stop-color="#0000e6"/><stop offset="0.04265" stop-color="#0000ff"/><stop offset="0.1185" stop-color="#0042ff"/><stop offset="0.1611" stop-color="#0080ff"/><stop offset="0.2322" stop-color="#00ffff"/><stop offset="0.3555" stop-color="#80ff80"/><stop offset="0.545" stop-color="#ffff00"/><stop offset="0.7962" stop-color="#ff8000"/><stop offset="0.9905" stop-color="#ff1400"/><stop offset="1" stop-color="#ff1f00"/></linearGradient><linearGradient id="BL8" x2="0" y2="1"><stop offset="0" stop-color="#0000d6"/><stop offset="0.009479" stop-color="#0000e6"/><stop offset="0.04739" stop-color="#0001ff"/><stop offset="0.1209" stop-color="#0043ff"/><stop offset="0.1611" stop-color="#0081ff"/><stop offset="0.2275" stop-color="#00fdff"/><stop offset="0.2299" stop-color="#01fffe"/><stop offset="0.3531" stop-color="#80ff7f"/><stop offset="0.5379" stop-color="#ffff00"/><stop offset="0.7891" stop-color="#ff7f00"/><stop offset="0.9882" stop-color="#ff1200"/><stop offset="1" stop-color="#ff1d00"/></linearGradient><linearGradient id="BL9" x2="0" y2="1"><stop offset="0" stop-color="#0000d2"/><stop offset="0.01185" stop-color="#0000e6"/><stop offset="0.04976" stop-color="#0001ff"/><stop offset="0.1232" stop-color="#0043ff"/><stop offset="0.1588" stop-color="#007eff"/><stop offset="0.2251" stop-color="#00feff"/><stop offset="0.2275" stop-color="#02fffd"/><stop offset="0.3507" stop-color="#7fff80"/><stop offset="0.5308" stop-color="#ffff00"/><stop offset="0.7796" stop-color="#ff8000"/><stop offset="0.9858" stop-color="#ff0f00"/><stop offset="1" stop-color="#ff1b00"/></linearGradient><linearGradient id="BL10" x2="0" y2="1"><stop offset="0" stop-color="#0000cd"/><stop offset="0.01659" stop-color="#0000e7"/><stop offset="0.05213" stop-color="#0000ff"/><stop offset="0.1232" stop-color="#0041ff"/><stop offset="0.1588" stop-color="#007fff"/><stop offset="0.2227" stop-color="#00ffff"/><stop offset="0.2251" stop-color="#02fffd"/><stop offset="0.3507" stop-color="#80ff7f"/><stop offset="0.5213" stop-color="#ffff00"/><stop offset="0.7725" stop-color="#ff7f00"/><stop offset="0.9834" stop-color="#ff0d00"/><stop offset="1" stop-color="#ff1900"/></linearGradient><linearGradient id="BL11" x2="0" y2="1"><stop offset="0" stop-color="#0000c9"/><stop offset="0.01896" stop-color="#0000e6"/><stop offset="0.0545" stop-color="#0000ff"/><stop offset="0.1256" stop-color="#0041ff"/><stop offset="0.128" stop-color="#0044ff"/><stop offset="0.1588" stop-color="#0080ff"/><stop offset="0.2204" stop-color="#00ffff"/><stop offset="0.2227" stop-color="#02fffd"/><stop offset="0.3483" stop-color="#80ff7f"/><stop offset="0.5142" stop-color="#ffff00"/><stop offset="0.763" stop-color="#ff8000"/><stop offset="0.981" stop-color="#ff0a00"/><stop offset="0.9905" stop-color="#ff0f00"/><stop offset="1" stop-color="#ff1700"/></linearGradient><linearGradient id="BL12" x2="0" y2="1"><stop offset="0" stop-color="#0000c6"/><stop offset="0.02133" stop-color="#0000e6"/><stop offset="0.05687" stop-color="#0000ff"/><stop offset="0.128" stop-color="#0041ff"/><stop offset="0.1303" stop-color="#0044ff"/><stop offset="0.218" stop-color="#00feff"/><stop offset="0.2204" stop-color="#02fffd"/><stop offset="0.346" stop-color="#7fff80"/><stop offset="0.5047" stop-color="#feff01"/><stop offset="0.7559" stop-color="#ff7f00"/><stop offset="0.9787" stop-color="#ff0800"/><stop offset="0.9905" stop-color="#ff0d00"/><stop offset="1" stop-color="#ff1500"/></linearGradient><linearGradient id="BL13" x2="0" y2="1"><stop offset="0" stop-color="#0000c2"/><stop offset="0.0237" stop-color="#0000e6"/><stop offset="0.05687" stop-color="#0000fe"/><stop offset="0.1303" stop-color="#0042ff"/><stop offset="0.1588" stop-color="#0082ff"/><stop offset="0.2156" stop-color="#00fdff"/><stop offset="0.218" stop-color="#01fffe"/><stop offset="0.346" stop-color="#80ff7f"/><stop offset="0.4976" stop-color="#ffff00"/><stop offset="0.7464" stop-color="#ff8000"/><stop offset="0.9763" stop-color="#ff0500"/><stop offset="0.9882" stop-color="#ff0a00"/><stop offset="1" stop-color="#ff1300"/></linearGradient><linearGradient id="BL14" x2="0" y2="1"><stop offset="0" stop-color="#0000bf"/><stop offset="0.02607" stop-color="#0000e5"/><stop offset="0.05924" stop-color="#0000fe"/><stop offset="0.1303" stop-color="#0041ff"/><stop offset="0.1327" stop-color="#0043ff"/><stop offset="0.1588" stop-color="#0083ff"/><stop offset="0.2133" stop-color="#00fcff"/><stop offset="0.2156" stop-color="#01fffe"/><stop offset="0.3436" stop-color="#80ff7f"/><stop offset="0.4905" stop-color="#ffff00"/><stop offset="0.7393" stop-color="#ff7f00"/><stop offset="0.9739" stop-color="#ff0300"/><stop offset="0.9882" stop-color="#ff0900"/><stop offset="1" stop-color="#ff1100"/></linearGradient><linearGradient id="BL15" x2="0" y2="1"><stop offset="0" stop-color="#0000bd"/><stop offset="0.009479" stop-color="#0000bf"/><stop offset="0.02844" stop-color="#0000e6"/><stop offset="0.06161" stop-color="#0000ff"/><stop offset="0.1327" stop-color="#0042ff"/><stop offset="0.1564" stop-color="#0080ff"/><stop offset="0.2133" stop-color="#00ffff"/><stop offset="0.3412" stop-color="#80ff80"/><stop offset="0.4834" stop-color="#ffff00"/><stop offset="0.9716" stop-color="#ff0000"/><stop offset="0.9858" stop-color="#ff0500"/><stop offset="1" stop-color="#ff0f00"/></linearGradient><linearGradient id="BL16" x2="0" y2="1"><stop offset="0" stop-color="#0000ba"/><stop offset="0.009479" stop-color="#0000bf"/><stop offset="0.01185" stop-color="#0000c2"/><stop offset="0.03081" stop-color="#0000e6"/><stop offset="0.06161" stop-color="#0000fe"/><stop offset="0.1327" stop-color="#0042ff"/><stop offset="0.1564" stop-color="#0082ff"/><stop offset="0.2109" stop-color="#00fdff"/><stop offset="0.2133" stop-color="#01fffe"/><stop offset="0.3389" stop-color="#80ff7f"/><stop offset="0.4787" stop-color="#fffe00"/><stop offset="0.9645" stop-color="#ff0100"/><stop offset="0.9692" stop-color="#fc0000"/><stop offset="0.9834" stop-color="#ff0200"/><stop offset="1" stop-color="#ff0d00"/></linearGradient><linearGradient id="BL17" x2="0" y2="1"><stop offset="0" stop-color="#0000b8"/><stop offset="0.01185" stop-color="#0000c0"/><stop offset="0.03318" stop-color="#0000e6"/><stop offset="0.06398" stop-color="#0000ff"/><stop offset="0.1327" stop-color="#0043ff"/><stop offset="0.154" stop-color="#0080ff"/><stop offset="0.2109" stop-color="#00ffff"/><stop offset="0.3341" stop-color="#7fff80"/><stop offset="0.4716" stop-color="#ffff00"/><stop offset="0.9573" stop-color="#ff0100"/><stop offset="0.9668" stop-color="#f90000"/><stop offset="0.9834" stop-color="#ff0000"/><stop offset="1" stop-color="#ff0a00"/></linearGradient><linearGradient id="BL18" x2="0" y2="1"><stop offset="0" stop-color="#0000b6"/><stop offset="0.01185" stop-color="#0000bf"/><stop offset="0.03555" stop-color="#0000e6"/><stop offset="0.06635" stop-color="#0001ff"/><stop offset="0.1303" stop-color="#0040ff"/><stop offset="0.1327" stop-color="#0044ff"/><stop offset="0.154" stop-color="#0084ff"/><stop offset="0.2085" stop-color="#00fdff"/><stop offset="0.2109" stop-color="#02fffd"/><stop offset="0.3294" stop-color="#7eff81"/><stop offset="0.4668" stop-color="#fffe00"/><stop offset="0.7038" stop-color="#ff8000"/><stop offset="0.9502" stop-color="#ff0100"/><stop offset="0.9645" stop-color="#f60000"/><stop offset="0.9882" stop-color="#ff0000"/><stop offset="1" stop-color="#ff0800"/></linearGradient><linearGradient id="BL19" x2="0" y2="1"><stop offset="0" stop-color="#0000b5"/><stop offset="0.01422" stop-color="#0000c1"/><stop offset="0.03555" stop-color="#0000e4"/><stop offset="0.06635" stop-color="#0000fe"/><stop offset="0.1303" stop-color="#0041ff"/><stop offset="0.1327" stop-color="#0045ff"/><stop offset="0.1517" stop-color="#0082ff"/><stop offset="0.2085" stop-color="#00ffff"/><stop offset="0.327" stop-color="#81ff7e"/><stop offset="0.4597" stop-color="#feff01"/><stop offset="0.6967" stop-color="#ff7f00"/><stop offset="0.9431" stop-color="#ff0000"/><stop offset="0.9621" stop-color="#f30000"/><stop offset="0.9787" stop-color="#f80000"/><stop offset="0.9905" stop-color="#fe0000"/><stop offset="1" stop-color="#ff0500"/></linearGradient><linearGradient id="BL20" x2="0" y2="1"><stop offset="0" stop-color="#0000b3"/><stop offset="0.01422" stop-color="#0000c0"/><stop offset="0.03791" stop-color="#0000e6"/><stop offset="0.06872" stop-color="#0001ff"/><stop offset="0.1303" stop-color="#0041ff"/><stop offset="0.1327" stop-color="#0047ff"/><stop offset="0.1493" stop-color="#0081ff"/><stop offset="0.2062" stop-color="#00fdff"/><stop offset="0.2085" stop-color="#02fffd"/><stop offset="0.3223" stop-color="#81ff7e"/><stop offset="0.455" stop-color="#ffff00"/><stop offset="0.6872" stop-color="#ff7f00"/><stop offset="0.936" stop-color="#ff0000"/><stop offset="0.9621" stop-color="#f00000"/><stop offset="0.9787" stop-color="#f50000"/><stop offset="0.9953" stop-color="#ff0000"/><stop offset="1" stop-color="#ff0200"/></linearGradient><linearGradient id="BL21" x2="0" y2="1"><stop offset="0" stop-color="#0000b1"/><stop offset="0.01422" stop-color="#0000bf"/><stop offset="0.04028" stop-color="#0000e6"/><stop offset="0.06872" stop-color="#0000ff"/><stop offset="0.1303" stop-color="#0041ff"/><stop offset="0.1327" stop-color="#0048ff"/><stop offset="0.1469" stop-color="#007fff"/><stop offset="0.2062" stop-color="#00ffff"/><stop offset="0.2085" stop-color="#03fffc"/><stop offset="0.3175" stop-color="#80ff7f"/><stop offset="0.4502" stop-color="#ffff00"/><stop offset="0.6777" stop-color="#ff8000"/><stop offset="0.9289" stop-color="#ff0000"/><stop offset="0.9597" stop-color="#ed0000"/><stop offset="0.9763" stop-color="#f20000"/><stop offset="1" stop-color="#ff0000"/></linearGradient><linearGradient id="BL22" x2="0" y2="1"><stop offset="0" stop-color="#0000b0"/><stop offset="0.01659" stop-color="#0000c1"/><stop offset="0.04028" stop-color="#0000e5"/><stop offset="0.06872" stop-color="#0000fe"/><stop offset="0.1303" stop-color="#0042ff"/><stop offset="0.1445" stop-color="#007bff"/><stop offset="0.1469" stop-color="#0082ff"/><stop offset="0.2038" stop-color="#00fcff"/><stop offset="0.2062" stop-color="#01fffe"/><stop offset="0.3128" stop-color="#80ff7f"/><stop offset="0.4455" stop-color="#ffff00"/><stop offset="0.6706" stop-color="#ff7f00"/><stop offset="0.9194" stop-color="#ff0100"/><stop offset="0.9573" stop-color="#ea0000"/><stop offset="0.9739" stop-color="#ee0000"/><stop offset="1" stop-color="#fd0000"/></linearGradient><linearGradient id="BL23" x2="0" y2="1"><stop offset="0" stop-color="#0000ae"/><stop offset="0.01659" stop-color="#0000c0"/><stop offset="0.04265" stop-color="#0000e6"/><stop offset="0.07109" stop-color="#0000ff"/><stop offset="0.1303" stop-color="#0042ff"/><stop offset="0.1445" stop-color="#007eff"/><stop offset="0.2038" stop-color="#00feff"/><stop offset="0.2062" stop-color="#02fffd"/><stop offset="0.3104" stop-color="#80ff7f"/><stop offset="0.4408" stop-color="#ffff00"/><stop offset="0.6635" stop-color="#ff7f00"/><stop offset="0.9123" stop-color="#ff0100"/><stop offset="0.955" stop-color="#e70000"/><stop offset="0.9716" stop-color="#ec0000"/><stop offset="1" stop-color="#fb0000"/></linearGradient><linearGradient id="BL24" x2="0" y2="1"><stop offset="0" stop-color="#0000ad"/><stop offset="0.01659" stop-color="#0000bf"/><stop offset="0.04265" stop-color="#0000e5"/><stop offset="0.07109" stop-color="#0000ff"/><stop offset="0.128" stop-color="#0040ff"/><stop offset="0.1303" stop-color="#0043ff"/><stop offset="0.1445" stop-color="#0080ff"/><stop offset="0.2038" stop-color="#01fffe"/><stop offset="0.3081" stop-color="#81ff7e"/><stop offset="0.436" stop-color="#ffff00"/><stop offset="0.654" stop-color="#ff8000"/><stop offset="0.9052" stop-color="#ff0000"/><stop offset="0.9526" stop-color="#e50000"/><stop offset="0.9716" stop-color="#ea0000"/><stop offset="1" stop-color="#f90000"/></linearGradient><linearGradient id="BL25" x2="0" y2="1"><stop offset="0" stop-color="#0000ab"/><stop offset="0.01896" stop-color="#0000c1"/><stop offset="0.04502" stop-color="#0000e6"/><stop offset="0.07109" stop-color="#0000fe"/><stop offset="0.128" stop-color="#0040ff"/><stop offset="0.1303" stop-color="#0044ff"/><stop offset="0.1445" stop-color="#0081ff"/><stop offset="0.2014" stop-color="#00fdff"/><stop offset="0.2038" stop-color="#02fffd"/><stop offset="0.3057" stop-color="#81ff7e"/><stop offset="0.4313" stop-color="#ffff00"/><stop offset="0.6469" stop-color="#ff8000"/><stop offset="0.8981" stop-color="#ff0000"/><stop offset="0.9502" stop-color="#e20000"/><stop offset="0.9692" stop-color="#e70000"/><stop offset="1" stop-color="#f80000"/></linearGradient><linearGradient id="BL26" x2="0" y2="1"><stop offset="0" stop-color="#0000a9"/><stop offset="0.01896" stop-color="#0000c0"/><stop offset="0.04502" stop-color="#0000e5"/><stop offset="0.07109" stop-color="#0000fe"/><stop offset="0.128" stop-color="#0040ff"/><stop offset="0.1303" stop-color="#0045ff"/><stop offset="0.1445" stop-color="#0081ff"/><stop offset="0.2014" stop-color="#00ffff"/><stop offset="0.2038" stop-color="#03fffc"/><stop offset="0.3033" stop-color="#80ff7f"/><stop offset="0.4265" stop-color="#ffff00"/><stop offset="0.6398" stop-color="#ff8000"/><stop offset="0.8886" stop-color="#ff0100"/><stop offset="0.9455" stop-color="#e00000"/><stop offset="0.9692" stop-color="#e60000"/><stop offset="1" stop-color="#f70000"/></linearGradient><linearGradient id="BL27" x2="0" y2="1"><stop offset="0" stop-color="#0000a8"/><stop offset="0.01896" stop-color="#0000bf"/><stop offset="0.04502" stop-color="#0000e4"/><stop offset="0.07346" stop-color="#0001ff"/><stop offset="0.128" stop-color="#0040ff"/><stop offset="0.1303" stop-color="#0045ff"/><stop offset="0.1422" stop-color="#0079ff"/><stop offset="0.1445" stop-color="#0082ff"/><stop offset="0.2014" stop-color="#01fffe"/><stop offset="0.3009" stop-color="#80ff7f"/><stop offset="0.4218" stop-color="#feff01"/><stop offset="0.4242" stop-color="#fffe00"/><stop offset="0.6327" stop-color="#ff8000"/><stop offset="0.8815" stop-color="#ff0000"/><stop offset="0.9431" stop-color="#dd0000"/><stop offset="0.9668" stop-color="#e30000"/><stop offset="1" stop-color="#f60000"/></linearGradient><linearGradient id="BL28" x2="0" y2="1"><stop offset="0" stop-color="#0000a6"/><stop offset="0.01896" stop-color="#0000be"/><stop offset="0.04739" stop-color="#0000e6"/><stop offset="0.07346" stop-color="#0000ff"/><stop offset="0.128" stop-color="#0041ff"/><stop offset="0.1303" stop-color="#0046ff"/><stop offset="0.1422" stop-color="#007aff"/><stop offset="0.1445" stop-color="#0082ff"/><stop offset="0.1991" stop-color="#00fdff"/><stop offset="0.2014" stop-color="#02fffd"/><stop offset="0.2986" stop-color="#80ff7f"/><stop offset="0.4194" stop-color="#fffe00"/><stop offset="0.6256" stop-color="#ff8000"/><stop offset="0.872" stop-color="#ff0100"/><stop offset="0.9336" stop-color="#dc0000"/><stop offset="0.9408" stop-color="#da0000"/><stop offset="0.9668" stop-color="#e20000"/><stop offset="1" stop-color="#f50000"/></linearGradient><linearGradient id="BL29" x2="0" y2="1"><stop offset="0" stop-color="#0000a5"/><stop offset="0.02133" stop-color="#0000c0"/><stop offset="0.04739" stop-color="#0000e5"/><stop offset="0.07346" stop-color="#0000ff"/><stop offset="0.128" stop-color="#0041ff"/><stop offset="0.1303" stop-color="#0047ff"/><stop offset="0.1422" stop-color="#007bff"/><stop offset="0.1445" stop-color="#0082ff"/><stop offset="0.1991" stop-color="#00ffff"/><stop offset="0.2014" stop-color="#03fffc"/><stop offset="0.2962" stop-color="#7fff80"/><stop offset="0.4147" stop-color="#ffff00"/><stop offset="0.6185" stop-color="#ff8000"/><stop offset="0.8649" stop-color="#ff0000"/><stop offset="0.9265" stop-color="#dc0000"/><stop offset="0.9384" stop-color="#d80000"/><stop offset="0.9645" stop-color="#e00000"/><stop offset="1" stop-color="#f40000"/></linearGradient><linearGradient id="BL30" x2="0" y2="1"><stop offset="0" stop-color="#0000a3"/><stop offset="0.04739" stop-color="#0000e4"/><stop offset="0.07346" stop-color="#0000ff"/><stop offset="0.128" stop-color="#0041ff"/><stop offset="0.1303" stop-color="#0048ff"/><stop offset="0.1422" stop-color="#007bff"/><stop offset="0.1445" stop-color="#0083ff"/><stop offset="0.1991" stop-color="#01fffe"/><stop offset="0.2962" stop-color="#81ff7e"/><stop offset="0.41" stop-color="#ffff00"/><stop offset="0.6137" stop-color="#ff7f00"/><stop offset="0.8555" stop-color="#ff0100"/><stop offset="0.9194" stop-color="#db0000"/><stop offset="0.936" stop-color="#d60000"/><stop offset="0.9621" stop-color="#de0000"/><stop offset="1" stop-color="#f30000"/></linearGradient><linearGradient id="BL31" x2="0" y2="1"><stop offset="0" stop-color="#0000a2"/><stop offset="0.04976" stop-color="#0000e6"/><stop offset="0.07346" stop-color="#0000fe"/><stop offset="0.128" stop-color="#0041ff"/><stop offset="0.1303" stop-color="#0048ff"/><stop offset="0.1422" stop-color="#007cff"/><stop offset="0.1445" stop-color="#0083ff"/><stop offset="0.1967" stop-color="#00fdff"/><stop offset="0.1991" stop-color="#02fffd"/><stop offset="0.2938" stop-color="#80ff7f"/><stop offset="0.4076" stop-color="#fffe00"/><stop offset="0.6066" stop-color="#ff8000"/><stop offset="0.8483" stop-color="#ff0000"/><stop offset="0.9123" stop-color="#db0000"/><stop offset="0.9336" stop-color="#d40000"/><stop offset="0.9621" stop-color="#dc0000"/><stop offset="1" stop-color="#f20000"/></linearGradient><linearGradient id="BL32" x2="0" y2="1"><stop offset="0" stop-color="#0000a1"/><stop offset="0.04976" stop-color="#0000e5"/><stop offset="0.07346" stop-color="#0000fe"/><stop offset="0.128" stop-color="#0041ff"/><stop offset="0.1303" stop-color="#0049ff"/><stop offset="0.1422" stop-color="#007dff"/><stop offset="0.1445" stop-color="#0084ff"/><stop offset="0.1967" stop-color="#00ffff"/><stop offset="0.1991" stop-color="#03fffc"/><stop offset="0.2915" stop-color="#7fff80"/><stop offset="0.4028" stop-color="#ffff00"/><stop offset="0.6019" stop-color="#ff8000"/><stop offset="0.8389" stop-color="#ff0100"/><stop offset="0.9052" stop-color="#db0000"/><stop offset="0.9313" stop-color="#d10000"/><stop offset="0.9597" stop-color="#da0000"/><stop offset="1" stop-color="#f20000"/></linearGradient><linearGradient id="BL33" x2="0" y2="1"><stop offset="0" stop-color="#0000a0"/><stop offset="0.04976" stop-color="#0000e4"/><stop offset="0.07346" stop-color="#0000fd"/><stop offset="0.07583" stop-color="#0001ff"/><stop offset="0.128" stop-color="#0042ff"/><stop offset="0.1422" stop-color="#007eff"/><stop offset="0.1943" stop-color="#00fbff"/><stop offset="0.1967" stop-color="#01fffe"/><stop offset="0.2915" stop-color="#80ff7f"/><stop offset="0.4005" stop-color="#fffe00"/><stop offset="0.5972" stop-color="#ff7f00"/><stop offset="0.8318" stop-color="#ff0000"/><stop offset="0.8957" stop-color="#dc0000"/><stop offset="0.9289" stop-color="#cf0000"/><stop offset="0.9597" stop-color="#d90000"/><stop offset="1" stop-color="#f10000"/></linearGradient><linearGradient id="BL34" x2="0" y2="1"><stop offset="0" stop-color="#00009f"/><stop offset="0.05213" stop-color="#0000e6"/><stop offset="0.07583" stop-color="#0000ff"/><stop offset="0.128" stop-color="#0042ff"/><stop offset="0.1422" stop-color="#007fff"/><stop offset="0.1943" stop-color="#00feff"/><stop offset="0.1967" stop-color="#02fffd"/><stop offset="0.2891" stop-color="#7fff80"/><stop offset="0.3957" stop-color="#ffff00"/><stop offset="0.5924" stop-color="#ff7f00"/><stop offset="0.8223" stop-color="#ff0100"/><stop offset="0.8886" stop-color="#dc0000"/><stop offset="0.9242" stop-color="#ce0000"/><stop offset="0.9573" stop-color="#d70000"/><stop offset="1" stop-color="#f00000"/></linearGradient><linearGradient id="BL35" x2="0" y2="1"><stop offset="0" stop-color="#00009e"/><stop offset="0.05213" stop-color="#0000e5"/><stop offset="0.07583" stop-color="#0000ff"/><stop offset="0.1256" stop-color="#0040ff"/><stop offset="0.128" stop-color="#0043ff"/><stop offset="0.1422" stop-color="#0080ff"/><stop offset="0.1943" stop-color="#01fffe"/><stop offset="0.2891" stop-color="#80ff7f"/><stop offset="0.3934" stop-color="#fffe00"/><stop offset="0.5877" stop-color="#ff7f00"/><stop offset="0.8152" stop-color="#ff0000"/><stop offset="0.8815" stop-color="#dc0000"/><stop offset="0.9218" stop-color="#cb0000"/><stop offset="0.9573" stop-color="#d60000"/><stop offset="1" stop-color="#ef0000"/></linearGradient><linearGradient id="BL36" x2="0" y2="1"><stop offset="0" stop-color="#00009d"/><stop offset="0.0237" stop-color="#0000be"/><stop offset="0.05213" stop-color="#0000e3"/><stop offset="0.0782" stop-color="#0002ff"/><stop offset="0.1256" stop-color="#0040ff"/><stop offset="0.128" stop-color="#0046ff"/><stop offset="0.1422" stop-color="#0082ff"/><stop offset="0.1919" stop-color="#00feff"/><stop offset="0.1943" stop-color="#03fffc"/><stop offset="0.2867" stop-color="#7eff81"/><stop offset="0.3886" stop-color="#ffff00"/><stop offset="0.5829" stop-color="#ff8000"/><stop offset="0.8081" stop-color="#ff0000"/><stop offset="0.8744" stop-color="#dc0000"/><stop offset="0.9194" stop-color="#c90000"/><stop offset="0.955" stop-color="#d30000"/><stop offset="1" stop-color="#ee0000"/></linearGradient><linearGradient id="BL37" x2="0" y2="1"><stop offset="0" stop-color="#00009c"/><stop offset="0.02607" stop-color="#0000c1"/><stop offset="0.0545" stop-color="#0000e4"/><stop offset="0.0782" stop-color="#0000ff"/><stop offset="0.1256" stop-color="#0042ff"/><stop offset="0.1398" stop-color="#007cff"/><stop offset="0.1422" stop-color="#0084ff"/><stop offset="0.1896" stop-color="#00fdff"/><stop offset="0.1919" stop-color="#02fffd"/><stop offset="0.2867" stop-color="#7fff80"/><stop offset="0.3863" stop-color="#ffff00"/><stop offset="0.5782" stop-color="#ff8000"/><stop offset="0.7986" stop-color="#ff0000"/><stop offset="0.8673" stop-color="#dc0000"/><stop offset="0.9171" stop-color="#c70000"/><stop offset="0.955" stop-color="#d20000"/><stop offset="1" stop-color="#ed0000"/></linearGradient><linearGradient id="BL38" x2="0" y2="1"><stop offset="0" stop-color="#00009b"/><stop offset="0.02607" stop-color="#0000c0"/><stop offset="0.0782" stop-color="#0000fe"/><stop offset="0.08057" stop-color="#0002ff"/><stop offset="0.1232" stop-color="#0040ff"/><stop offset="0.1256" stop-color="#0045ff"/><stop offset="0.1398" stop-color="#0080ff"/><stop offset="0.1872" stop-color="#00fbff"/><stop offset="0.1896" stop-color="#01fffe"/><stop offset="0.3839" stop-color="#fffe00"/><stop offset="0.5735" stop-color="#ff8000"/><stop offset="0.7915" stop-color="#ff0000"/><stop offset="0.8602" stop-color="#dc0000"/><stop offset="0.9147" stop-color="#c50000"/><stop offset="0.9526" stop-color="#d00000"/><stop offset="1" stop-color="#ec0000"/></linearGradient><linearGradient id="BL39" x2="0" y2="1"><stop offset="0" stop-color="#00009a"/><stop offset="0.02607" stop-color="#0000c0"/><stop offset="0.08057" stop-color="#0000ff"/><stop offset="0.1232" stop-color="#0042ff"/><stop offset="0.1374" stop-color="#007cff"/><stop offset="0.1398" stop-color="#0083ff"/><stop offset="0.1848" stop-color="#00faff"/><stop offset="0.1872" stop-color="#01fffe"/><stop offset="0.2844" stop-color="#7eff81"/><stop offset="0.3791" stop-color="#fdff02"/><stop offset="0.3815" stop-color="#fffe00"/><stop offset="0.5711" stop-color="#ff7f00"/><stop offset="0.782" stop-color="#ff0000"/><stop offset="0.8531" stop-color="#dc0000"/><stop offset="0.9123" stop-color="#c30000"/><stop offset="0.9502" stop-color="#cd0000"/><stop offset="1" stop-color="#ec0000"/></linearGradient><linearGradient id="BL40" x2="0" y2="1"><stop offset="0" stop-color="#000099"/><stop offset="0.02607" stop-color="#0000c0"/><stop offset="0.08057" stop-color="#0000fd"/><stop offset="0.08294" stop-color="#0002ff"/><stop offset="0.1209" stop-color="#0040ff"/><stop offset="0.1232" stop-color="#0047ff"/><stop offset="0.1374" stop-color="#0081ff"/><stop offset="0.1848" stop-color="#01fffe"/><stop offset="0.2844" stop-color="#7fff80"/><stop offset="0.3791" stop-color="#fffe00"/><stop offset="0.5664" stop-color="#ff7f00"/><stop offset="0.7725" stop-color="#ff0100"/><stop offset="0.846" stop-color="#db0000"/><stop offset="0.91" stop-color="#c10000"/><stop offset="0.9502" stop-color="#cc0000"/><stop offset="1" stop-color="#eb0000"/></linearGradient><linearGradient id="BL41" x2="0" y2="1"><stop offset="0" stop-color="#000099"/><stop offset="0.02607" stop-color="#0000bf"/><stop offset="0.06161" stop-color="#0000e5"/><stop offset="0.08294" stop-color="#0000ff"/><stop offset="0.1209" stop-color="#0043ff"/><stop offset="0.1351" stop-color="#007dff"/><stop offset="0.1374" stop-color="#0084ff"/><stop offset="0.1825" stop-color="#00ffff"/><stop offset="0.2844" stop-color="#80ff7f"/><stop offset="0.3768" stop-color="#fffe00"/><stop offset="0.5616" stop-color="#ff8000"/><stop offset="0.7654" stop-color="#ff0000"/><stop offset="0.8389" stop-color="#db0000"/><stop offset="0.9076" stop-color="#bf0000"/><stop offset="0.9479" stop-color="#ca0000"/><stop offset="1" stop-color="#ea0000"/></linearGradient><linearGradient id="BL42" x2="0" y2="1"><stop offset="0" stop-color="#000098"/><stop offset="0.02607" stop-color="#0000bf"/><stop offset="0.06398" stop-color="#0000e6"/><stop offset="0.08531" stop-color="#0001ff"/><stop offset="0.1185" stop-color="#0041ff"/><stop offset="0.1351" stop-color="#0081ff"/><stop offset="0.1801" stop-color="#00ffff"/><stop offset="0.2844" stop-color="#80ff7f"/><stop offset="0.3744" stop-color="#ffff00"/><stop offset="0.5592" stop-color="#ff7f00"/><stop offset="0.7559" stop-color="#ff0100"/><stop offset="0.8318" stop-color="#dc0000"/><stop offset="0.9028" stop-color="#be0000"/><stop offset="0.9455" stop-color="#c70000"/><stop offset="1" stop-color="#e90000"/></linearGradient><linearGradient id="BL43" x2="0" y2="1"><stop offset="0" stop-color="#000097"/><stop offset="0.02607" stop-color="#0000be"/><stop offset="0.06398" stop-color="#0000e4"/><stop offset="0.08531" stop-color="#0000fe"/><stop offset="0.1161" stop-color="#003fff"/><stop offset="0.1185" stop-color="#0046ff"/><stop offset="0.1327" stop-color="#007eff"/><stop offset="0.1351" stop-color="#0085ff"/><stop offset="0.1777" stop-color="#00feff"/><stop offset="0.1801" stop-color="#03fffc"/><stop offset="0.282" stop-color="#7eff81"/><stop offset="0.372" stop-color="#ffff00"/><stop offset="0.5545" stop-color="#ff8000"/><stop offset="0.7488" stop-color="#ff0000"/><stop offset="0.8246" stop-color="#dc0000"/><stop offset="0.9005" stop-color="#bc0000"/><stop offset="0.9455" stop-color="#c60000"/><stop offset="1" stop-color="#e80000"/></linearGradient><linearGradient id="BL44" x2="0" y2="1"><stop offset="0" stop-color="#000097"/><stop offset="0.02607" stop-color="#0000be"/><stop offset="0.06635" stop-color="#0000e5"/><stop offset="0.08768" stop-color="#0001ff"/><stop offset="0.1161" stop-color="#0043ff"/><stop offset="0.1327" stop-color="#0082ff"/><stop offset="0.1754" stop-color="#00fdff"/><stop offset="0.1777" stop-color="#02fffd"/><stop offset="0.282" stop-color="#7fff80"/><stop offset="0.3697" stop-color="#feff01"/><stop offset="0.372" stop-color="#fffe00"/><stop offset="0.5521" stop-color="#ff8000"/><stop offset="0.7417" stop-color="#ff0000"/><stop offset="0.8981" stop-color="#ba0000"/><stop offset="0.9431" stop-color="#c40000"/><stop offset="1" stop-color="#e70000"/></linearGradient><linearGradient id="BL45" x2="0" y2="1"><stop offset="0" stop-color="#000096"/><stop offset="0.02844" stop-color="#0000c0"/><stop offset="0.06872" stop-color="#0000e6"/><stop offset="0.08768" stop-color="#0000fe"/><stop offset="0.1137" stop-color="#0040ff"/><stop offset="0.1303" stop-color="#007eff"/><stop offset="0.173" stop-color="#00fbff"/><stop offset="0.1754" stop-color="#01fffe"/><stop offset="0.282" stop-color="#7fff80"/><stop offset="0.3697" stop-color="#fffe00"/><stop offset="0.5498" stop-color="#ff7f00"/><stop offset="0.7346" stop-color="#ff0000"/><stop offset="0.8957" stop-color="#b80000"/><stop offset="0.9431" stop-color="#c30000"/><stop offset="1" stop-color="#e70000"/></linearGradient><linearGradient id="BL46" x2="0" y2="1"><stop offset="0" stop-color="#000095"/><stop offset="0.02844" stop-color="#0000c0"/><stop offset="0.06872" stop-color="#0000e5"/><stop offset="0.08768" stop-color="#0000fd"/><stop offset="0.09005" stop-color="#0003ff"/><stop offset="0.1137" stop-color="#0043ff"/><stop offset="0.1303" stop-color="#0082ff"/><stop offset="0.173" stop-color="#00ffff"/><stop offset="0.282" stop-color="#80ff7f"/><stop offset="0.3673" stop-color="#ffff00"/><stop offset="0.7275" stop-color="#ff0100"/><stop offset="0.8957" stop-color="#b60000"/><stop offset="0.9408" stop-color="#c00000"/><stop offset="1" stop-color="#e60000"/></linearGradient><linearGradient id="BL47" x2="0" y2="1"><stop offset="0" stop-color="#000095"/><stop offset="0.02844" stop-color="#0000c0"/><stop offset="0.06872" stop-color="#0000e4"/><stop offset="0.09005" stop-color="#0001ff"/><stop offset="0.1114" stop-color="#003fff"/><stop offset="0.1303" stop-color="#0084ff"/><stop offset="0.1706" stop-color="#00fcff"/><stop offset="0.173" stop-color="#02fffd"/><stop offset="0.2796" stop-color="#7eff81"/><stop offset="0.3649" stop-color="#feff01"/><stop offset="0.3673" stop-color="#fffe00"/><stop offset="0.7227" stop-color="#ff0000"/><stop offset="0.8934" stop-color="#b50000"/><stop offset="0.9408" stop-color="#bf0000"/><stop offset="1" stop-color="#e60000"/></linearGradient><linearGradient id="BL48" x2="0" y2="1"><stop offset="0" stop-color="#000094"/><stop offset="0.02844" stop-color="#0000bf"/><stop offset="0.07109" stop-color="#0000e6"/><stop offset="0.09005" stop-color="#0000ff"/><stop offset="0.1114" stop-color="#0041ff"/><stop offset="0.128" stop-color="#007fff"/><stop offset="0.1706" stop-color="#00feff"/><stop offset="0.173" stop-color="#02fffd"/><stop offset="0.2796" stop-color="#7fff80"/><stop offset="0.3649" stop-color="#fffe00"/><stop offset="0.718" stop-color="#ff0000"/><stop offset="0.891" stop-color="#b30000"/><stop offset="0.9384" stop-color="#bd0000"/><stop offset="1" stop-color="#e60000"/></linearGradient><linearGradient id="BL49" x2="0" y2="1"><stop offset="0" stop-color="#000094"/><stop offset="0.02844" stop-color="#0000bf"/><stop offset="0.07109" stop-color="#0000e5"/><stop offset="0.09005" stop-color="#0000ff"/><stop offset="0.1114" stop-color="#0043ff"/><stop offset="0.128" stop-color="#0080ff"/><stop offset="0.1706" stop-color="#00ffff"/><stop offset="0.2796" stop-color="#80ff7f"/><stop offset="0.3626" stop-color="#ffff00"/><stop offset="0.7133" stop-color="#ff0000"/><stop offset="0.891" stop-color="#b20000"/><stop offset="0.9384" stop-color="#bc0000"/><stop offset="1" stop-color="#e50000"/></linearGradient><linearGradient id="BL50" x2="0" y2="1"><stop offset="0" stop-color="#000093"/><stop offset="0.02844" stop-color="#0000be"/><stop offset="0.07109" stop-color="#0000e5"/><stop offset="0.09005" stop-color="#0000ff"/><stop offset="0.1114" stop-color="#0045ff"/><stop offset="0.128" stop-color="#0081ff"/><stop offset="0.1706" stop-color="#01fffe"/><stop offset="0.2773" stop-color="#7eff81"/><stop offset="0.3602" stop-color="#fdff02"/><stop offset="0.3626" stop-color="#fffe00"/><stop offset="0.7109" stop-color="#ff0000"/><stop offset="0.8886" stop-color="#b10000"/><stop offset="0.9384" stop-color="#bc0000"/><stop offset="1" stop-color="#e50000"/></linearGradient><linearGradient id="BL51" x2="0" y2="1"><stop offset="0" stop-color="#000093"/><stop offset="0.02844" stop-color="#0000be"/><stop offset="0.07109" stop-color="#0000e5"/><stop offset="0.09005" stop-color="#0000ff"/><stop offset="0.109" stop-color="#003eff"/><stop offset="0.128" stop-color="#0082ff"/><stop offset="0.1682" stop-color="#00faff"/><stop offset="0.1706" stop-color="#01fffe"/><stop offset="0.2773" stop-color="#7fff80"/><stop offset="0.3602" stop-color="#ffff00"/><stop offset="0.7062" stop-color="#ff0000"/><stop offset="0.8886" stop-color="#af0000"/><stop offset="0.936" stop-color="#b90000"/><stop offset="1" stop-color="#e50000"/></linearGradient><linearGradient id="BL52" x2="0" y2="1"><stop offset="0" stop-color="#000092"/><stop offset="0.03081" stop-color="#0000c0"/><stop offset="0.07109" stop-color="#0000e4"/><stop offset="0.09005" stop-color="#0000ff"/><stop offset="0.109" stop-color="#003fff"/><stop offset="0.128" stop-color="#0082ff"/><stop offset="0.1682" stop-color="#00fbff"/><stop offset="0.1706" stop-color="#01fffe"/><stop offset="0.2773" stop-color="#81ff7e"/><stop offset="0.3578" stop-color="#fdff02"/><stop offset="0.3602" stop-color="#fffe00"/><stop offset="0.7038" stop-color="#ff0000"/><stop offset="0.8863" stop-color="#af0000"/><stop offset="0.936" stop-color="#b80000"/><stop offset="1" stop-color="#e50000"/></linearGradient><linearGradient id="BL53" x2="0" y2="1"><stop offset="0" stop-color="#000092"/><stop offset="0.03081" stop-color="#0000c0"/><stop offset="0.07109" stop-color="#0000e4"/><stop offset="0.09005" stop-color="#0000ff"/><stop offset="0.128" stop-color="#0083ff"/><stop offset="0.1682" stop-color="#00fcff"/><stop offset="0.1706" stop-color="#02fffd"/><stop offset="0.2749" stop-color="#7fff80"/><stop offset="0.3578" stop-color="#ffff00"/><stop offset="0.5308" stop-color="#ff8000"/><stop offset="0.6991" stop-color="#ff0000"/><stop offset="0.8863" stop-color="#ad0000"/><stop offset="0.936" stop-color="#b80000"/><stop offset="1" stop-color="#e50000"/></linearGradient><linearGradient id="BL54" x2="0" y2="1"><stop offset="0" stop-color="#000091"/><stop offset="0.03081" stop-color="#0000c0"/><stop offset="0.07346" stop-color="#0000e6"/><stop offset="0.09005" stop-color="#0000ff"/><stop offset="0.128" stop-color="#0084ff"/><stop offset="0.1682" stop-color="#00fdff"/><stop offset="0.1706" stop-color="#02fffd"/><stop offset="0.2749" stop-color="#80ff7f"/><stop offset="0.3555" stop-color="#fdff02"/><stop offset="0.3578" stop-color="#fffe00"/><stop offset="0.5308" stop-color="#ff7f00"/><stop offset="0.6967" stop-color="#ff0000"/><stop offset="0.8839" stop-color="#ac0000"/><stop offset="0.9336" stop-color="#b60000"/><stop offset="1" stop-color="#e50000"/></linearGradient><linearGradient id="BL55" x2="0" y2="1"><stop offset="0" stop-color="#000091"/><stop offset="0.03081" stop-color="#0000bf"/><stop offset="0.07346" stop-color="#0000e6"/><stop offset="0.09005" stop-color="#0000ff"/><stop offset="0.1256" stop-color="#007dff"/><stop offset="0.1682" stop-color="#00fdff"/><stop offset="0.1706" stop-color="#02fffd"/><stop offset="0.2725" stop-color="#7eff81"/><stop offset="0.3555" stop-color="#ffff00"/><stop offset="0.5284" stop-color="#ff8000"/><stop offset="0.6943" stop-color="#ff0000"/><stop offset="0.8839" stop-color="#ab0000"/><stop offset="0.9336" stop-color="#b50000"/><stop offset="1" stop-color="#e50000"/></linearGradient><linearGradient id="BL56" x2="0" y2="1"><stop offset="0" stop-color="#000090"/><stop offset="0.03081" stop-color="#0000bf"/><stop offset="0.07346" stop-color="#0000e6"/><stop offset="0.09005" stop-color="#0000ff"/><stop offset="0.1256" stop-color="#007eff"/><stop offset="0.1682" stop-color="#00feff"/><stop offset="0.1706" stop-color="#02fffd"/><stop offset="0.2725" stop-color="#80ff7f"/><stop offset="0.3555" stop-color="#fffe00"/><stop offset="0.5261" stop-color="#ff8000"/><stop offset="0.6896" stop-color="#ff0100"/><stop offset="0.8839" stop-color="#aa0000"/><stop offset="0.9336" stop-color="#b40000"/><stop offset="1" stop-color="#e50000"/></linearGradient><linearGradient id="BL57" x2="0" y2="1"><stop offset="0" stop-color="#000090"/><stop offset="0.03081" stop-color="#0000be"/><stop offset="0.07346" stop-color="#0000e5"/><stop offset="0.09005" stop-color="#0000ff"/><stop offset="0.109" stop-color="#0045ff"/><stop offset="0.1256" stop-color="#007eff"/><stop offset="0.1682" stop-color="#00feff"/><stop offset="0.1706" stop-color="#03fffc"/><stop offset="0.2701" stop-color="#7eff81"/><stop offset="0.3531" stop-color="#feff01"/><stop offset="0.3555" stop-color="#fffe00"/><stop offset="0.5261" stop-color="#ff7f00"/><stop offset="0.6872" stop-color="#ff0100"/><stop offset="0.8626" stop-color="#b30000"/><stop offset="0.8815" stop-color="#a90000"/><stop offset="0.9313" stop-color="#b20000"/><stop offset="1" stop-color="#e50000"/></linearGradient><linearGradient id="BL58" x2="0" y2="1"><stop offset="0" stop-color="#000090"/><stop offset="0.03081" stop-color="#0000be"/><stop offset="0.07346" stop-color="#0000e5"/><stop offset="0.09005" stop-color="#0000ff"/><stop offset="0.109" stop-color="#0046ff"/><stop offset="0.1256" stop-color="#007fff"/><stop offset="0.1682" stop-color="#00ffff"/><stop offset="0.1706" stop-color="#03fffc"/><stop offset="0.2701" stop-color="#80ff7f"/><stop offset="0.3531" stop-color="#ffff00"/><stop offset="0.5237" stop-color="#ff8000"/><stop offset="0.6848" stop-color="#ff0000"/><stop offset="0.8815" stop-color="#a80000"/><stop offset="0.9313" stop-color="#b10000"/><stop offset="1" stop-color="#e50000"/></linearGradient><linearGradient id="BL59" x2="0" y2="1"><stop offset="0" stop-color="#00008f"/><stop offset="0.03081" stop-color="#0000bd"/><stop offset="0.07346" stop-color="#0000e5"/><stop offset="0.09005" stop-color="#0000ff"/><stop offset="0.1066" stop-color="#003eff"/><stop offset="0.1256" stop-color="#007fff"/><stop offset="0.1682" stop-color="#00ffff"/><stop offset="0.2678" stop-color="#7eff81"/><stop offset="0.3507" stop-color="#feff01"/><stop offset="0.3531" stop-color="#fffe00"/><stop offset="0.5237" stop-color="#ff7f00"/><stop offset="0.6825" stop-color="#ff0000"/><stop offset="0.8578" stop-color="#b20000"/><stop offset="0.8791" stop-color="#a70000"/><stop offset="0.9313" stop-color="#b00000"/><stop offset="1" stop-color="#e50000"/></linearGradient><linearGradient id="BL60" x2="0" y2="1"><stop offset="0" stop-color="#00008f"/><stop offset="0.03318" stop-color="#0000c0"/><stop offset="0.07346" stop-color="#0000e5"/><stop offset="0.09005" stop-color="#0000ff"/><stop offset="0.1066" stop-color="#003fff"/><stop offset="0.1256" stop-color="#0080ff"/><stop offset="0.1682" stop-color="#00ffff"/><stop offset="0.2678" stop-color="#7fff80"/><stop offset="0.3507" stop-color="#ffff00"/><stop offset="0.5213" stop-color="#ff8000"/><stop offset="0.6801" stop-color="#ff0000"/><stop offset="0.8555" stop-color="#b20000"/><stop offset="0.8791" stop-color="#a60000"/><stop offset="0.9313" stop-color="#b00000"/><stop offset="1" stop-color="#e50000"/></linearGradient><linearGradient id="BL61" x2="0" y2="1"><stop offset="0" stop-color="#00008e"/><stop offset="0.03318" stop-color="#0000c0"/><stop offset="0.07346" stop-color="#0000e5"/><stop offset="0.09005" stop-color="#0000ff"/><stop offset="0.1066" stop-color="#0040ff"/><stop offset="0.1256" stop-color="#0080ff"/><stop offset="0.1682" stop-color="#01fffe"/><stop offset="0.2654" stop-color="#7eff81"/><stop offset="0.3483" stop-color="#fdff02"/><stop offset="0.3507" stop-color="#fffe00"/><stop offset="0.5213" stop-color="#ff7f00"/><stop offset="0.6777" stop-color="#ff0000"/><stop offset="0.8507" stop-color="#b30000"/><stop offset="0.8791" stop-color="#a50000"/><stop offset="0.9313" stop-color="#af0000"/><stop offset="1" stop-color="#e50000"/></linearGradient><linearGradient id="BL62" x2="0" y2="1"><stop offset="0" stop-color="#00008e"/><stop offset="0.03318" stop-color="#0000bf"/><stop offset="0.07346" stop-color="#0000e4"/><stop offset="0.09005" stop-color="#0000ff"/><stop offset="0.1066" stop-color="#0041ff"/><stop offset="0.1256" stop-color="#0080ff"/><stop offset="0.1659" stop-color="#00faff"/><stop offset="0.1682" stop-color="#01fffe"/><stop offset="0.2654" stop-color="#7fff80"/><stop offset="0.3483" stop-color="#feff01"/><stop offset="0.519" stop-color="#ff8000"/><stop offset="0.6754" stop-color="#ff0000"/><stop offset="0.8483" stop-color="#b30000"/><stop offset="0.8768" stop-color="#a40000"/><stop offset="0.9289" stop-color="#ad0000"/><stop offset="1" stop-color="#e50000"/></linearGradient><linearGradient id="BL63" x2="0" y2="1"><stop offset="0" stop-color="#00008e"/><stop offset="0.03318" stop-color="#0000bf"/><stop offset="0.07346" stop-color="#0000e4"/><stop offset="0.09005" stop-color="#0000ff"/><stop offset="0.1066" stop-color="#0042ff"/><stop offset="0.1256" stop-color="#0081ff"/><stop offset="0.1659" stop-color="#00faff"/><stop offset="0.1682" stop-color="#01fffe"/><stop offset="0.263" stop-color="#7eff81"/><stop offset="0.3483" stop-color="#ffff00"/><stop offset="0.519" stop-color="#ff7f00"/><stop offset="0.673" stop-color="#ff0100"/><stop offset="0.846" stop-color="#b30000"/><stop offset="0.8768" stop-color="#a30000"/><stop offset="0.9289" stop-color="#ac0000"/><stop offset="1" stop-color="#e50000"/></linearGradient><linearGradient id="BL64" x2="0" y2="1"><stop offset="0" stop-color="#00008d"/><stop offset="0.03318" stop-color="#0000be"/><stop offset="0.07346" stop-color="#0000e4"/><stop offset="0.09005" stop-color="#0000ff"/><stop offset="0.1066" stop-color="#0043ff"/><stop offset="0.1232" stop-color="#0079ff"/><stop offset="0.1659" stop-color="#00faff"/><stop offset="0.1682" stop-color="#01fffe"/><stop offset="0.263" stop-color="#7fff80"/><stop offset="0.346" stop-color="#feff01"/><stop offset="0.3483" stop-color="#fffe00"/><stop offset="0.5166" stop-color="#ff8000"/><stop offset="0.6706" stop-color="#ff0100"/><stop offset="0.8436" stop-color="#b30000"/><stop offset="0.8768" stop-color="#a20000"/><stop offset="0.9289" stop-color="#ac0000"/><stop offset="1" stop-color="#e50000"/></linearGradient><linearGradient id="BL65" x2="0" y2="1"><stop offset="0" stop-color="#00008d"/><stop offset="0.03318" stop-color="#0000be"/><stop offset="0.07346" stop-color="#0000e4"/><stop offset="0.09005" stop-color="#0000ff"/><stop offset="0.1066" stop-color="#0043ff"/><stop offset="0.1232" stop-color="#007aff"/><stop offset="0.1659" stop-color="#00fbff"/><stop offset="0.1682" stop-color="#01fffe"/><stop offset="0.2607" stop-color="#7eff81"/><stop offset="0.346" stop-color="#ffff00"/><stop offset="0.5166" stop-color="#ff7f00"/><stop offset="0.6706" stop-color="#fe0000"/><stop offset="0.8412" stop-color="#b30000"/><stop offset="0.8744" stop-color="#a20000"/><stop offset="0.9289" stop-color="#ab0000"/><stop offset="1" stop-color="#e50000"/></linearGradient><linearGradient id="BL66" x2="0" y2="1"><stop offset="0" stop-color="#00008d"/><stop offset="0.03555" stop-color="#0000c0"/><stop offset="0.07583" stop-color="#0000e6"/><stop offset="0.09005" stop-color="#0000ff"/><stop offset="0.1066" stop-color="#0044ff"/><stop offset="0.1232" stop-color="#007aff"/><stop offset="0.1659" stop-color="#00fbff"/><stop offset="0.1682" stop-color="#01fffe"/><stop offset="0.2607" stop-color="#7fff80"/><stop offset="0.346" stop-color="#fffe00"/><stop offset="0.5142" stop-color="#ff8000"/><stop offset="0.6682" stop-color="#ff0000"/><stop offset="0.8389" stop-color="#b30000"/><stop offset="0.8744" stop-color="#a00000"/><stop offset="0.9265" stop-color="#aa0000"/><stop offset="1" stop-color="#e50000"/></linearGradient><linearGradient id="BL67" x2="0" y2="1"><stop offset="0" stop-color="#00008c"/><stop offset="0.03555" stop-color="#0000c0"/><stop offset="0.07583" stop-color="#0000e6"/><stop offset="0.09005" stop-color="#0000ff"/><stop offset="0.1066" stop-color="#0045ff"/><stop offset="0.1232" stop-color="#007bff"/><stop offset="0.1659" stop-color="#00fbff"/><stop offset="0.1682" stop-color="#02fffd"/><stop offset="0.2583" stop-color="#7eff81"/><stop offset="0.3436" stop-color="#feff01"/><stop offset="0.346" stop-color="#fffe00"/><stop offset="0.5142" stop-color="#ff7f00"/><stop offset="0.6659" stop-color="#ff0000"/><stop offset="0.8365" stop-color="#b30000"/><stop offset="0.8744" stop-color="#9f0000"/><stop offset="0.9265" stop-color="#a90000"/><stop offset="1" stop-color="#e50000"/></linearGradient><linearGradient id="BL68" x2="0" y2="1"><stop offset="0" stop-color="#00008c"/><stop offset="0.03555" stop-color="#0000bf"/><stop offset="0.07583" stop-color="#0000e6"/><stop offset="0.09005" stop-color="#0000ff"/><stop offset="0.1066" stop-color="#0045ff"/><stop offset="0.1256" stop-color="#0083ff"/><stop offset="0.1659" stop-color="#00fcff"/><stop offset="0.1682" stop-color="#02fffd"/><stop offset="0.2583" stop-color="#7fff80"/><stop offset="0.3436" stop-color="#ffff00"/><stop offset="0.5118" stop-color="#ff8000"/><stop offset="0.6635" stop-color="#ff0000"/><stop offset="0.8341" stop-color="#b30000"/><stop offset="0.8744" stop-color="#9f0000"/><stop offset="0.9265" stop-color="#a80000"/><stop offset="1" stop-color="#e50000"/></linearGradient><linearGradient id="BL69" x2="0" y2="1"><stop offset="0" stop-color="#00008b"/><stop offset="0.03555" stop-color="#0000bf"/><stop offset="0.07583" stop-color="#0000e6"/><stop offset="0.09005" stop-color="#0000ff"/><stop offset="0.1066" stop-color="#0046ff"/><stop offset="0.1256" stop-color="#0083ff"/><stop offset="0.1659" stop-color="#00fcff"/><stop offset="0.1682" stop-color="#02fffd"/><stop offset="0.2559" stop-color="#7eff81"/><stop offset="0.3412" stop-color="#feff01"/><stop offset="0.3436" stop-color="#fffe00"/><stop offset="0.5095" stop-color="#ff8000"/><stop offset="0.6611" stop-color="#ff0000"/><stop offset="0.8341" stop-color="#b20000"/><stop offset="0.8744" stop-color="#9e0000"/><stop offset="0.9265" stop-color="#a80000"/><stop offset="1" stop-color="#e50000"/></linearGradient><linearGradient id="BL70" x2="0" y2="1"><stop offset="0" stop-color="#00008b"/><stop offset="0.03555" stop-color="#0000be"/><stop offset="0.07583" stop-color="#0000e6"/><stop offset="0.09005" stop-color="#0000ff"/><stop offset="0.1066" stop-color="#0047ff"/><stop offset="0.1256" stop-color="#0084ff"/><stop offset="0.1659" stop-color="#00fdff"/><stop offset="0.1682" stop-color="#02fffd"/><stop offset="0.2559" stop-color="#7fff80"/><stop offset="0.3412" stop-color="#ffff00"/><stop offset="0.5095" stop-color="#ff7f00"/><stop offset="0.6588" stop-color="#ff0000"/><stop offset="0.8318" stop-color="#b30000"/><stop offset="0.872" stop-color="#9d0000"/><stop offset="0.9265" stop-color="#a70000"/><stop offset="1" stop-color="#e50000"/></linearGradient><linearGradient id="BL71" x2="0" y2="1"><stop offset="0" stop-color="#00008b"/><stop offset="0.03555" stop-color="#0000be"/><stop offset="0.07583" stop-color="#0000e6"/><stop offset="0.09005" stop-color="#0000ff"/><stop offset="0.1043" stop-color="#003fff"/><stop offset="0.1066" stop-color="#0047ff"/><stop offset="0.1256" stop-color="#0084ff"/><stop offset="0.1659" stop-color="#00fdff"/><stop offset="0.1682" stop-color="#03fffc"/><stop offset="0.3412" stop-color="#fffe00"/><stop offset="0.5071" stop-color="#ff8000"/><stop offset="0.6564" stop-color="#ff0100"/><stop offset="0.8294" stop-color="#b30000"/><stop offset="0.872" stop-color="#9c0000"/><stop offset="0.9265" stop-color="#a70000"/><stop offset="1" stop-color="#e50000"/></linearGradient><linearGradient id="BL72" x2="0" y2="1"><stop offset="0" stop-color="#00008b"/><stop offset="0.03791" stop-color="#0000c0"/><stop offset="0.07583" stop-color="#0000e6"/><stop offset="0.09005" stop-color="#0000ff"/><stop offset="0.1043" stop-color="#0040ff"/><stop offset="0.1066" stop-color="#0048ff"/><stop offset="0.1232" stop-color="#007eff"/><stop offset="0.1659" stop-color="#00feff"/><stop offset="0.1682" stop-color="#03fffc"/><stop offset="0.2536" stop-color="#7fff80"/><stop offset="0.3389" stop-color="#ffff00"/><stop offset="0.5071" stop-color="#ff7f00"/><stop offset="0.654" stop-color="#ff0100"/><stop offset="0.827" stop-color="#b30000"/><stop offset="0.872" stop-color="#9b0000"/><stop offset="0.9242" stop-color="#a50000"/><stop offset="1" stop-color="#e50000"/></linearGradient><linearGradient id="BL73" x2="0" y2="1"><stop offset="0" stop-color="#00008a"/><stop offset="0.03791" stop-color="#0000c0"/><stop offset="0.07583" stop-color="#0000e6"/><stop offset="0.09005" stop-color="#0000ff"/><stop offset="0.1043" stop-color="#0041ff"/><stop offset="0.1066" stop-color="#0049ff"/><stop offset="0.1232" stop-color="#007eff"/><stop offset="0.1659" stop-color="#00feff"/><stop offset="0.1682" stop-color="#03fffc"/><stop offset="0.3389" stop-color="#fffe00"/><stop offset="0.5047" stop-color="#ff8000"/><stop offset="0.6517" stop-color="#ff0100"/><stop offset="0.827" stop-color="#b20000"/><stop offset="0.872" stop-color="#9a0000"/><stop offset="0.9242" stop-color="#a40000"/><stop offset="1" stop-color="#e50000"/></linearGradient><linearGradient id="BL74" x2="0" y2="1"><stop offset="0" stop-color="#00008a"/><stop offset="0.03791" stop-color="#0000bf"/><stop offset="0.07583" stop-color="#0000e6"/><stop offset="0.09005" stop-color="#0000ff"/><stop offset="0.1043" stop-color="#0042ff"/><stop offset="0.1066" stop-color="#004aff"/><stop offset="0.1232" stop-color="#007fff"/><stop offset="0.1659" stop-color="#00ffff"/><stop offset="0.1682" stop-color="#03fffc"/><stop offset="0.3365" stop-color="#feff01"/><stop offset="0.3389" stop-color="#fffe00"/><stop offset="0.5024" stop-color="#ff8000"/><stop offset="0.6517" stop-color="#fe0000"/><stop offset="0.8246" stop-color="#b30000"/><stop offset="0.872" stop-color="#990000"/><stop offset="0.9242" stop-color="#a40000"/><stop offset="1" stop-color="#e50000"/></linearGradient><linearGradient id="BL75" x2="0" y2="1"><stop offset="0" stop-color="#00008a"/><stop offset="0.03791" stop-color="#0000bf"/><stop offset="0.07583" stop-color="#0000e6"/><stop offset="0.09005" stop-color="#0000ff"/><stop offset="0.1043" stop-color="#0043ff"/><stop offset="0.1232" stop-color="#0080ff"/><stop offset="0.1659" stop-color="#00ffff"/><stop offset="0.3365" stop-color="#ffff00"/><stop offset="0.5024" stop-color="#ff7f00"/><stop offset="0.6493" stop-color="#fe0000"/><stop offset="0.8223" stop-color="#b30000"/><stop offset="0.872" stop-color="#990000"/><stop offset="0.9242" stop-color="#a30000"/><stop offset="1" stop-color="#e50000"/></linearGradient><linearGradient id="BL76" x2="0" y2="1"><stop offset="0" stop-color="#000089"/><stop offset="0.03791" stop-color="#0000be"/><stop offset="0.07583" stop-color="#0000e6"/><stop offset="0.09005" stop-color="#0000ff"/><stop offset="0.1043" stop-color="#0044ff"/><stop offset="0.1232" stop-color="#0081ff"/><stop offset="0.1659" stop-color="#00ffff"/><stop offset="0.3341" stop-color="#feff01"/><stop offset="0.3365" stop-color="#fffe00"/><stop offset="0.5" stop-color="#ff7f00"/><stop offset="0.6469" stop-color="#fe0000"/><stop offset="0.8223" stop-color="#b30000"/><stop offset="0.872" stop-color="#980000"/><stop offset="0.9242" stop-color="#a30000"/><stop offset="1" stop-color="#e50000"/></linearGradient><linearGradient id="BL77" x2="0" y2="1"><stop offset="0" stop-color="#000089"/><stop offset="0.03791" stop-color="#0000be"/><stop offset="0.07583" stop-color="#0000e6"/><stop offset="0.09005" stop-color="#0001ff"/><stop offset="0.1043" stop-color="#0045ff"/><stop offset="0.1232" stop-color="#0082ff"/><stop offset="0.1659" stop-color="#01fffe"/><stop offset="0.2488" stop-color="#80ff7f"/><stop offset="0.3341" stop-color="#fffe00"/><stop offset="0.4976" stop-color="#ff7f00"/><stop offset="0.6422" stop-color="#ff0100"/><stop offset="0.8199" stop-color="#b30000"/><stop offset="0.872" stop-color="#970000"/><stop offset="0.9242" stop-color="#a20000"/><stop offset="1" stop-color="#e50000"/></linearGradient><linearGradient id="BL78" x2="0" y2="1"><stop offset="0" stop-color="#000089"/><stop offset="0.04028" stop-color="#0000c0"/><stop offset="0.07583" stop-color="#0000e6"/><stop offset="0.08768" stop-color="#0000fb"/><stop offset="0.09005" stop-color="#0002ff"/><stop offset="0.1043" stop-color="#0046ff"/><stop offset="0.1232" stop-color="#0084ff"/><stop offset="0.1635" stop-color="#00faff"/><stop offset="0.1659" stop-color="#01fffe"/><stop offset="0.3318" stop-color="#ffff00"/><stop offset="0.4953" stop-color="#ff7f00"/><stop offset="0.6398" stop-color="#ff0100"/><stop offset="0.8199" stop-color="#b30000"/><stop offset="0.872" stop-color="#960000"/><stop offset="0.9242" stop-color="#a20000"/><stop offset="1" stop-color="#e50000"/></linearGradient><linearGradient id="BL79" x2="0" y2="1"><stop offset="0" stop-color="#000088"/><stop offset="0.04028" stop-color="#0000bf"/><stop offset="0.07583" stop-color="#0000e7"/><stop offset="0.08768" stop-color="#0000fc"/><stop offset="0.09005" stop-color="#0003ff"/><stop offset="0.1019" stop-color="#003dff"/><stop offset="0.1043" stop-color="#0047ff"/><stop offset="0.1209" stop-color="#007eff"/><stop offset="0.1635" stop-color="#00fbff"/><stop offset="0.1659" stop-color="#02fffd"/><stop offset="0.2488" stop-color="#83ff7c"/><stop offset="0.3294" stop-color="#fdff02"/><stop offset="0.3318" stop-color="#fffe00"/><stop offset="0.4929" stop-color="#ff7f00"/><stop offset="0.6374" stop-color="#ff0000"/><stop offset="0.8175" stop-color="#b30000"/><stop offset="0.872" stop-color="#950000"/><stop offset="0.9218" stop-color="#a00000"/><stop offset="1" stop-color="#e50000"/></linearGradient><linearGradient id="BL80" x2="0" y2="1"><stop offset="0" stop-color="#000088"/><stop offset="0.04028" stop-color="#0000be"/><stop offset="0.07346" stop-color="#0000e4"/><stop offset="0.08768" stop-color="#0000fc"/><stop offset="0.09005" stop-color="#0004ff"/><stop offset="0.1019" stop-color="#003fff"/><stop offset="0.1043" stop-color="#0048ff"/><stop offset="0.1209" stop-color="#0080ff"/><stop offset="0.1635" stop-color="#00fcff"/><stop offset="0.1659" stop-color="#02fffd"/><stop offset="0.2464" stop-color="#80ff7f"/><stop offset="0.3294" stop-color="#ffff00"/><stop offset="0.4905" stop-color="#ff7f00"/><stop offset="0.6351" stop-color="#ff0000"/><stop offset="0.8175" stop-color="#b30000"/><stop offset="0.872" stop-color="#940000"/><stop offset="0.9218" stop-color="#9f0000"/><stop offset="1" stop-color="#e50000"/></linearGradient><linearGradient id="BL81" x2="0" y2="1"><stop offset="0" stop-color="#000088"/><stop offset="0.04028" stop-color="#0000be"/><stop offset="0.07346" stop-color="#0000e4"/><stop offset="0.08768" stop-color="#0000fd"/><stop offset="0.09005" stop-color="#0006ff"/><stop offset="0.1019" stop-color="#0040ff"/><stop offset="0.1209" stop-color="#0082ff"/><stop offset="0.1635" stop-color="#00fcff"/><stop offset="0.1659" stop-color="#02fffd"/><stop offset="0.327" stop-color="#ffff00"/><stop offset="0.4858" stop-color="#ff8000"/><stop offset="0.6327" stop-color="#ff0000"/><stop offset="0.8152" stop-color="#b30000"/><stop offset="0.872" stop-color="#930000"/><stop offset="0.9218" stop-color="#9f0000"/><stop offset="1" stop-color="#e50000"/></linearGradient><linearGradient id="BL82" x2="0" y2="1"><stop offset="0" stop-color="#000087"/><stop offset="0.04265" stop-color="#0000c0"/><stop offset="0.07346" stop-color="#0000e5"/><stop offset="0.08768" stop-color="#0000fd"/><stop offset="0.09005" stop-color="#0007ff"/><stop offset="0.1019" stop-color="#0042ff"/><stop offset="0.1185" stop-color="#007cff"/><stop offset="0.1635" stop-color="#00fdff"/><stop offset="0.1659" stop-color="#03fffc"/><stop offset="0.2441" stop-color="#80ff7f"/><stop offset="0.3246" stop-color="#fdff02"/><stop offset="0.327" stop-color="#fffe00"/><stop offset="0.4834" stop-color="#ff8000"/><stop offset="0.6303" stop-color="#ff0000"/><stop offset="0.8152" stop-color="#b30000"/><stop offset="0.872" stop-color="#920000"/><stop offset="0.9218" stop-color="#9e0000"/><stop offset="1" stop-color="#e50000"/></linearGradient><linearGradient id="BL83" x2="0" y2="1"><stop offset="0" stop-color="#000087"/><stop offset="0.07346" stop-color="#0000e5"/><stop offset="0.08768" stop-color="#0000fe"/><stop offset="0.09005" stop-color="#0009ff"/><stop offset="0.1019" stop-color="#0043ff"/><stop offset="0.1185" stop-color="#007eff"/><stop offset="0.1635" stop-color="#00feff"/><stop offset="0.1659" stop-color="#03fffc"/><stop offset="0.2441" stop-color="#81ff7e"/><stop offset="0.3246" stop-color="#ffff00"/><stop offset="0.481" stop-color="#ff7f00"/><stop offset="0.628" stop-color="#ff0000"/><stop offset="0.8128" stop-color="#b30000"/><stop offset="0.872" stop-color="#910000"/><stop offset="0.9218" stop-color="#9e0000"/><stop offset="1" stop-color="#e50000"/></linearGradient><linearGradient id="BL84" x2="0" y2="1"><stop offset="0" stop-color="#000087"/><stop offset="0.07346" stop-color="#0000e6"/><stop offset="0.08768" stop-color="#0000ff"/><stop offset="0.1019" stop-color="#0044ff"/><stop offset="0.1185" stop-color="#0080ff"/><stop offset="0.1635" stop-color="#00feff"/><stop offset="0.1659" stop-color="#03fffc"/><stop offset="0.2417" stop-color="#7fff80"/><stop offset="0.3223" stop-color="#feff01"/><stop offset="0.4787" stop-color="#ff7f00"/><stop offset="0.6256" stop-color="#ff0000"/><stop offset="0.8128" stop-color="#b30000"/><stop offset="0.872" stop-color="#900000"/><stop offset="0.9218" stop-color="#9d0000"/><stop offset="1" stop-color="#e50000"/></linearGradient><linearGradient id="BL85" x2="0" y2="1"><stop offset="0" stop-color="#000086"/><stop offset="0.07109" stop-color="#0000e4"/><stop offset="0.08768" stop-color="#0001ff"/><stop offset="0.1019" stop-color="#0045ff"/><stop offset="0.1161" stop-color="#007aff"/><stop offset="0.1635" stop-color="#00ffff"/><stop offset="0.2417" stop-color="#80ff7f"/><stop offset="0.3199" stop-color="#fdff02"/><stop offset="0.3223" stop-color="#fffe00"/><stop offset="0.4739" stop-color="#ff8100"/><stop offset="0.6232" stop-color="#ff0000"/><stop offset="0.8104" stop-color="#b30000"/><stop offset="0.872" stop-color="#8f0000"/><stop offset="0.9218" stop-color="#9d0000"/><stop offset="1" stop-color="#e50000"/></linearGradient><linearGradient id="BL86" x2="0" y2="1"><stop offset="0" stop-color="#000086"/><stop offset="0.04502" stop-color="#0000c0"/><stop offset="0.07109" stop-color="#0000e4"/><stop offset="0.08531" stop-color="#0000fc"/><stop offset="0.08768" stop-color="#0003ff"/><stop offset="0.1019" stop-color="#0046ff"/><stop offset="0.1161" stop-color="#007dff"/><stop offset="0.1635" stop-color="#00ffff"/><stop offset="0.2393" stop-color="#7eff81"/><stop offset="0.3199" stop-color="#ffff00"/><stop offset="0.4716" stop-color="#ff8000"/><stop offset="0.6209" stop-color="#ff0000"/><stop offset="0.7133" stop-color="#db0000"/><stop offset="0.8104" stop-color="#b30000"/><stop offset="0.872" stop-color="#8e0000"/><stop offset="0.9218" stop-color="#9d0000"/><stop offset="1" stop-color="#e50000"/></linearGradient><linearGradient id="BL87" x2="0" y2="1"><stop offset="0" stop-color="#000086"/><stop offset="0.04502" stop-color="#0000bf"/><stop offset="0.07109" stop-color="#0000e5"/><stop offset="0.08531" stop-color="#0000fd"/><stop offset="0.08768" stop-color="#0004ff"/><stop offset="0.09953" stop-color="#003dff"/><stop offset="0.1161" stop-color="#007fff"/><stop offset="0.1635" stop-color="#01fffe"/><stop offset="0.2393" stop-color="#7fff80"/><stop offset="0.3175" stop-color="#feff01"/><stop offset="0.3199" stop-color="#fffe00"/><stop offset="0.6185" stop-color="#ff0000"/><stop offset="0.7133" stop-color="#db0000"/><stop offset="0.8104" stop-color="#b30000"/><stop offset="0.872" stop-color="#8d0000"/><stop offset="0.9218" stop-color="#9c0000"/><stop offset="1" stop-color="#e50000"/></linearGradient><linearGradient id="BL88" x2="0" y2="1"><stop offset="0" stop-color="#000086"/><stop offset="0.04502" stop-color="#0000be"/><stop offset="0.08531" stop-color="#0000fd"/><stop offset="0.08768" stop-color="#0006ff"/><stop offset="0.09953" stop-color="#003eff"/><stop offset="0.1161" stop-color="#0081ff"/><stop offset="0.1611" stop-color="#00fbff"/><stop offset="0.1635" stop-color="#01fffe"/><stop offset="0.2393" stop-color="#81ff7e"/><stop offset="0.3175" stop-color="#ffff00"/><stop offset="0.6161" stop-color="#ff0000"/><stop offset="0.7109" stop-color="#db0000"/><stop offset="0.8081" stop-color="#b30000"/><stop offset="0.872" stop-color="#8c0000"/><stop offset="0.9194" stop-color="#9a0000"/><stop offset="1" stop-color="#e50000"/></linearGradient><linearGradient id="BL89" x2="0" y2="1"><stop offset="0" stop-color="#000085"/><stop offset="0.04502" stop-color="#0000be"/><stop offset="0.08531" stop-color="#0000fe"/><stop offset="0.08768" stop-color="#0007ff"/><stop offset="0.1019" stop-color="#0049ff"/><stop offset="0.1161" stop-color="#0082ff"/><stop offset="0.1611" stop-color="#00fbff"/><stop offset="0.1635" stop-color="#02fffd"/><stop offset="0.237" stop-color="#7fff80"/><stop offset="0.3152" stop-color="#feff01"/><stop offset="0.3175" stop-color="#fffe00"/><stop offset="0.6137" stop-color="#ff0000"/><stop offset="0.7109" stop-color="#db0000"/><stop offset="0.8081" stop-color="#b30000"/><stop offset="0.872" stop-color="#8c0000"/><stop offset="0.9194" stop-color="#9a0000"/><stop offset="1" stop-color="#e50000"/></linearGradient><linearGradient id="BL90" x2="0" y2="1"><stop offset="0" stop-color="#000085"/><stop offset="0.04739" stop-color="#0000c1"/><stop offset="0.08531" stop-color="#0000fe"/><stop offset="0.08768" stop-color="#0008ff"/><stop offset="0.09953" stop-color="#0040ff"/><stop offset="0.1137" stop-color="#007bff"/><stop offset="0.1161" stop-color="#0083ff"/><stop offset="0.1611" stop-color="#00fcff"/><stop offset="0.1635" stop-color="#02fffd"/><stop offset="0.237" stop-color="#80ff7f"/><stop offset="0.3152" stop-color="#ffff00"/><stop offset="0.6114" stop-color="#ff0000"/><stop offset="0.7085" stop-color="#dc0000"/><stop offset="0.8081" stop-color="#b30000"/><stop offset="0.872" stop-color="#8b0000"/><stop offset="0.9194" stop-color="#9a0000"/><stop offset="1" stop-color="#e50000"/></linearGradient><linearGradient id="BL91" x2="0" y2="1"><stop offset="0" stop-color="#000085"/><stop offset="0.04739" stop-color="#0000c0"/><stop offset="0.06872" stop-color="#0000e5"/><stop offset="0.08531" stop-color="#0000fe"/><stop offset="0.08768" stop-color="#0009ff"/><stop offset="0.09953" stop-color="#0041ff"/><stop offset="0.1137" stop-color="#007dff"/><stop offset="0.1611" stop-color="#00fdff"/><stop offset="0.1635" stop-color="#03fffc"/><stop offset="0.237" stop-color="#82ff7d"/><stop offset="0.3128" stop-color="#fdff02"/><stop offset="0.3152" stop-color="#fffe00"/><stop offset="0.6114" stop-color="#ff0000"/><stop offset="0.7085" stop-color="#db0000"/><stop offset="0.8057" stop-color="#b30000"/><stop offset="0.872" stop-color="#8b0000"/><stop offset="0.9194" stop-color="#990000"/><stop offset="1" stop-color="#e50000"/></linearGradient><linearGradient id="BL92" x2="0" y2="1"><stop offset="0" stop-color="#000084"/><stop offset="0.04739" stop-color="#0000c0"/><stop offset="0.06872" stop-color="#0000e6"/><stop offset="0.08531" stop-color="#0000ff"/><stop offset="0.09953" stop-color="#0042ff"/><stop offset="0.1137" stop-color="#007eff"/><stop offset="0.1611" stop-color="#00fdff"/><stop offset="0.1635" stop-color="#03fffc"/><stop offset="0.2346" stop-color="#7fff80"/><stop offset="0.3128" stop-color="#feff01"/><stop offset="0.3152" stop-color="#fffe00"/><stop offset="0.609" stop-color="#ff0000"/><stop offset="0.7085" stop-color="#db0000"/><stop offset="0.8057" stop-color="#b30000"/><stop offset="0.872" stop-color="#8a0000"/><stop offset="0.9194" stop-color="#990000"/><stop offset="1" stop-color="#e50000"/></linearGradient><linearGradient id="BL93" x2="0" y2="1"><stop offset="0" stop-color="#000084"/><stop offset="0.04739" stop-color="#0000bf"/><stop offset="0.06635" stop-color="#0000e3"/><stop offset="0.08531" stop-color="#0000ff"/><stop offset="0.09953" stop-color="#0042ff"/><stop offset="0.1137" stop-color="#007fff"/><stop offset="0.1611" stop-color="#00feff"/><stop offset="0.1635" stop-color="#04fffb"/><stop offset="0.2346" stop-color="#81ff7e"/><stop offset="0.3128" stop-color="#ffff00"/><stop offset="0.609" stop-color="#ff0000"/><stop offset="0.7062" stop-color="#dc0000"/><stop offset="0.8057" stop-color="#b30000"/><stop offset="0.872" stop-color="#8a0000"/><stop offset="0.9194" stop-color="#990000"/><stop offset="1" stop-color="#e50000"/></linearGradient><linearGradient id="BL94" x2="0" y2="1"><stop offset="0" stop-color="#000084"/><stop offset="0.04739" stop-color="#0000bf"/><stop offset="0.06635" stop-color="#0000e5"/><stop offset="0.08531" stop-color="#0000ff"/><stop offset="0.09953" stop-color="#0042ff"/><stop offset="0.1137" stop-color="#007fff"/><stop offset="0.1611" stop-color="#00ffff"/><stop offset="0.1635" stop-color="#04fffb"/><stop offset="0.2322" stop-color="#7fff80"/><stop offset="0.3128" stop-color="#ffff00"/><stop offset="0.6066" stop-color="#ff0000"/><stop offset="0.7062" stop-color="#db0000"/><stop offset="0.8057" stop-color="#b30000"/><stop offset="0.872" stop-color="#8a0000"/><stop offset="0.9194" stop-color="#990000"/><stop offset="1" stop-color="#e50000"/></linearGradient><linearGradient id="BL95" x2="0" y2="1"><stop offset="0" stop-color="#000084"/><stop offset="0.04739" stop-color="#0000bf"/><stop offset="0.06635" stop-color="#0000e6"/><stop offset="0.08531" stop-color="#0000ff"/><stop offset="0.09953" stop-color="#0042ff"/><stop offset="0.1137" stop-color="#0080ff"/><stop offset="0.1611" stop-color="#00ffff"/><stop offset="0.2322" stop-color="#80ff7f"/><stop offset="0.3128" stop-color="#ffff00"/><stop offset="0.6066" stop-color="#ff0000"/><stop offset="0.7062" stop-color="#db0000"/><stop offset="0.8057" stop-color="#b20000"/><stop offset="0.872" stop-color="#8a0000"/><stop offset="0.9194" stop-color="#990000"/><stop offset="1" stop-color="#e50000"/></linearGradient><linearGradient id="BL96" x2="0" y2="1"><stop offset="0" stop-color="#000083"/><stop offset="0.04739" stop-color="#0000c0"/><stop offset="0.06635" stop-color="#0000e7"/><stop offset="0.08531" stop-color="#0000ff"/><stop offset="0.09953" stop-color="#0042ff"/><stop offset="0.1137" stop-color="#0080ff"/><stop offset="0.1611" stop-color="#01fffe"/><stop offset="0.2299" stop-color="#7eff81"/><stop offset="0.3128" stop-color="#ffff00"/><stop offset="0.6066" stop-color="#ff0000"/><stop offset="0.7062" stop-color="#db0000"/><stop offset="0.8033" stop-color="#b30000"/><stop offset="0.872" stop-color="#8a0000"/><stop offset="0.9194" stop-color="#990000"/><stop offset="1" stop-color="#e50000"/></linearGradient><linearGradient id="BL97" x2="0" y2="1"><stop offset="0" stop-color="#000083"/><stop offset="0.04502" stop-color="#0000bd"/><stop offset="0.06398" stop-color="#0000e5"/><stop offset="0.08531" stop-color="#0000ff"/><stop offset="0.09953" stop-color="#0042ff"/><stop offset="0.1137" stop-color="#0080ff"/><stop offset="0.1588" stop-color="#00faff"/><stop offset="0.1611" stop-color="#01fffe"/><stop offset="0.2299" stop-color="#80ff7f"/><stop offset="0.3128" stop-color="#ffff00"/><stop offset="0.6066" stop-color="#ff0000"/><stop offset="0.7062" stop-color="#db0000"/><stop offset="0.8033" stop-color="#b30000"/><stop offset="0.872" stop-color="#8a0000"/><stop offset="0.9194" stop-color="#990000"/><stop offset="1" stop-color="#e50000"/></linearGradient><linearGradient id="BL98" x2="0" y2="1"><stop offset="0" stop-color="#000083"/><stop offset="0.04502" stop-color="#0000be"/><stop offset="0.06398" stop-color="#0000e6"/><stop offset="0.08531" stop-color="#0000fe"/><stop offset="0.08768" stop-color="#0009ff"/><stop offset="0.09953" stop-color="#0041ff"/><stop offset="0.1137" stop-color="#0080ff"/><stop offset="0.1588" stop-color="#00fbff"/><stop offset="0.1611" stop-color="#02fffd"/><stop offset="0.2299" stop-color="#81ff7e"/><stop offset="0.3128" stop-color="#ffff00"/><stop offset="0.6043" stop-color="#ff0100"/><stop offset="0.7038" stop-color="#dc0000"/><stop offset="0.8033" stop-color="#b30000"/><stop offset="0.872" stop-color="#8a0000"/><stop offset="0.9194" stop-color="#990000"/><stop offset="1" stop-color="#e50000"/></linearGradient><linearGradient id="BL99" x2="0" y2="1"><stop offset="0" stop-color="#000083"/><stop offset="0.04502" stop-color="#0000bf"/><stop offset="0.06161" stop-color="#0000e4"/><stop offset="0.08531" stop-color="#0000fe"/><stop offset="0.08768" stop-color="#0008ff"/><stop offset="0.09953" stop-color="#0041ff"/><stop offset="0.1137" stop-color="#0080ff"/><stop offset="0.1588" stop-color="#00fcff"/><stop offset="0.1611" stop-color="#02fffd"/><stop offset="0.2275" stop-color="#7fff80"/><stop offset="0.3128" stop-color="#ffff00"/><stop offset="0.6043" stop-color="#ff0000"/><stop offset="0.7038" stop-color="#db0000"/><stop offset="0.8033" stop-color="#b30000"/><stop offset="0.872" stop-color="#8a0000"/><stop offset="0.9194" stop-color="#990000"/><stop offset="1" stop-color="#e50000"/></linearGradient><linearGradient id="BL100" x2="0" y2="1"><stop offset="0" stop-color="#000082"/><stop offset="0.04502" stop-color="#0000c0"/><stop offset="0.06161" stop-color="#0000e6"/><stop offset="0.08531" stop-color="#0000fe"/><stop offset="0.08768" stop-color="#0006ff"/><stop offset="0.09953" stop-color="#0040ff"/><stop offset="0.1137" stop-color="#0080ff"/><stop offset="0.1588" stop-color="#00fcff"/><stop offset="0.1611" stop-color="#03fffc"/><stop offset="0.2275" stop-color="#81ff7e"/><stop offset="0.3128" stop-color="#ffff00"/><stop offset="0.6043" stop-color="#ff0000"/><stop offset="0.7038" stop-color="#db0000"/><stop offset="0.8033" stop-color="#b30000"/><stop offset="0.872" stop-color="#8a0000"/><stop offset="0.9194" stop-color="#990000"/><stop offset="1" stop-color="#e50000"/></linearGradient><linearGradient id="BL101" x2="0" y2="1"><stop offset="0" stop-color="#000082"/><stop offset="0.04265" stop-color="#0000be"/><stop offset="0.05924" stop-color="#0000e4"/><stop offset="0.08531" stop-color="#0000fe"/><stop offset="0.08768" stop-color="#0004ff"/><stop offset="0.09953" stop-color="#003fff"/><stop offset="0.1137" stop-color="#0080ff"/><stop offset="0.1588" stop-color="#00fdff"/><stop offset="0.1611" stop-color="#03fffc"/><stop offset="0.2251" stop-color="#7fff80"/><stop offset="0.3128" stop-color="#ffff00"/><stop offset="0.6043" stop-color="#ff0000"/><stop offset="0.7038" stop-color="#db0000"/><stop offset="0.8033" stop-color="#b20000"/><stop offset="0.872" stop-color="#8a0000"/><stop offset="0.9194" stop-color="#990000"/><stop offset="1" stop-color="#e50000"/></linearGradient><linearGradient id="BL102" x2="0" y2="1"><stop offset="0" stop-color="#000082"/><stop offset="0.04265" stop-color="#0000c0"/><stop offset="0.05924" stop-color="#0000e6"/><stop offset="0.08531" stop-color="#0000fd"/><stop offset="0.08768" stop-color="#0002ff"/><stop offset="0.09953" stop-color="#003eff"/><stop offset="0.1137" stop-color="#0080ff"/><stop offset="0.1588" stop-color="#00feff"/><stop offset="0.1611" stop-color="#04fffb"/><stop offset="0.2251" stop-color="#80ff7f"/><stop offset="0.3128" stop-color="#ffff00"/><stop offset="0.6043" stop-color="#ff0000"/><stop offset="0.7038" stop-color="#db0000"/><stop offset="0.8009" stop-color="#b30000"/><stop offset="0.872" stop-color="#8a0000"/><stop offset="0.9194" stop-color="#990000"/><stop offset="1" stop-color="#e50000"/></linearGradient><linearGradient id="BL103" x2="0" y2="1"><stop offset="0" stop-color="#000082"/><stop offset="0.04028" stop-color="#0000be"/><stop offset="0.05687" stop-color="#0000e4"/><stop offset="0.08768" stop-color="#0000ff"/><stop offset="0.1019" stop-color="#0048ff"/><stop offset="0.1137" stop-color="#0080ff"/><stop offset="0.1588" stop-color="#00feff"/><stop offset="0.1611" stop-color="#04fffb"/><stop offset="0.2227" stop-color="#7eff81"/><stop offset="0.3128" stop-color="#feff01"/><stop offset="0.3152" stop-color="#fffd00"/><stop offset="0.6043" stop-color="#ff0000"/><stop offset="0.7038" stop-color="#db0000"/><stop offset="0.8009" stop-color="#b30000"/><stop offset="0.872" stop-color="#8a0000"/><stop offset="0.9194" stop-color="#990000"/><stop offset="1" stop-color="#e50000"/></linearGradient><linearGradient id="BL104" x2="0" y2="1"><stop offset="0" stop-color="#000081"/><stop offset="0.04028" stop-color="#0000c1"/><stop offset="0.05687" stop-color="#0000e6"/><stop offset="0.08768" stop-color="#0000fe"/><stop offset="0.09005" stop-color="#0009ff"/><stop offset="0.1019" stop-color="#0047ff"/><stop offset="0.1137" stop-color="#0080ff"/><stop offset="0.1588" stop-color="#00ffff"/><stop offset="0.2227" stop-color="#80ff7f"/><stop offset="0.3128" stop-color="#feff01"/><stop offset="0.3152" stop-color="#fffe00"/><stop offset="0.6043" stop-color="#ff0000"/><stop offset="0.7038" stop-color="#db0000"/><stop offset="0.8009" stop-color="#b30000"/><stop offset="0.872" stop-color="#8a0000"/><stop offset="0.9194" stop-color="#990000"/><stop offset="1" stop-color="#e50000"/></linearGradient><linearGradient id="BL105" x2="0" y2="1"><stop offset="0" stop-color="#000081"/><stop offset="0.03791" stop-color="#0000bf"/><stop offset="0.0545" stop-color="#0000e5"/><stop offset="0.08768" stop-color="#0000fe"/><stop offset="0.09005" stop-color="#0006ff"/><stop offset="0.1019" stop-color="#0046ff"/><stop offset="0.1137" stop-color="#0080ff"/><stop offset="0.1588" stop-color="#01fffe"/><stop offset="0.2227" stop-color="#81ff7e"/><stop offset="0.3128" stop-color="#feff01"/><stop offset="0.3152" stop-color="#fffe00"/><stop offset="0.4597" stop-color="#ff8000"/><stop offset="0.6019" stop-color="#ff0100"/><stop offset="0.7014" stop-color="#dc0000"/><stop offset="0.8009" stop-color="#b30000"/><stop offset="0.872" stop-color="#8a0000"/><stop offset="0.9194" stop-color="#990000"/><stop offset="1" stop-color="#e50000"/></linearGradient><linearGradient id="BL106" x2="0" y2="1"><stop offset="0" stop-color="#000081"/><stop offset="0.03555" stop-color="#0000be"/><stop offset="0.05213" stop-color="#0000e3"/><stop offset="0.0545" stop-color="#0000e6"/><stop offset="0.08768" stop-color="#0000fe"/><stop offset="0.09005" stop-color="#0002ff"/><stop offset="0.1019" stop-color="#0044ff"/><stop offset="0.1137" stop-color="#0080ff"/><stop offset="0.1564" stop-color="#00faff"/><stop offset="0.1588" stop-color="#01fffe"/><stop offset="0.2204" stop-color="#80ff7f"/><stop offset="0.3128" stop-color="#fdff02"/><stop offset="0.3152" stop-color="#fffe00"/><stop offset="0.4621" stop-color="#ff7e00"/><stop offset="0.6019" stop-color="#ff0100"/><stop offset="0.7014" stop-color="#dc0000"/><stop offset="0.8009" stop-color="#b30000"/><stop offset="0.872" stop-color="#8a0000"/><stop offset="0.9194" stop-color="#990000"/><stop offset="1" stop-color="#e50000"/></linearGradient><linearGradient id="BL107" x2="0" y2="1"><stop offset="0" stop-color="#000081"/><stop offset="0.03318" stop-color="#0000bc"/><stop offset="0.05213" stop-color="#0000e6"/><stop offset="0.09005" stop-color="#0000ff"/><stop offset="0.1019" stop-color="#0042ff"/><stop offset="0.1137" stop-color="#0080ff"/><stop offset="0.1564" stop-color="#00fbff"/><stop offset="0.1588" stop-color="#02fffd"/><stop offset="0.2204" stop-color="#81ff7e"/><stop offset="0.3152" stop-color="#fffe00"/><stop offset="0.4621" stop-color="#ff7f00"/><stop offset="0.6019" stop-color="#ff0000"/><stop offset="0.7014" stop-color="#dc0000"/><stop offset="0.8009" stop-color="#b30000"/><stop offset="0.872" stop-color="#8a0000"/><stop offset="0.9194" stop-color="#990000"/><stop offset="1" stop-color="#e50000"/></linearGradient><linearGradient id="BL108" x2="0" y2="1"><stop offset="0" stop-color="#000080"/><stop offset="0.03318" stop-color="#0000c0"/><stop offset="0.04976" stop-color="#0000e5"/><stop offset="0.09005" stop-color="#0000fe"/><stop offset="0.09242" stop-color="#0008ff"/><stop offset="0.1019" stop-color="#0040ff"/><stop offset="0.1137" stop-color="#0080ff"/><stop offset="0.1564" stop-color="#00fbff"/><stop offset="0.1588" stop-color="#02fffd"/><stop offset="0.218" stop-color="#7fff80"/><stop offset="0.3152" stop-color="#ffff00"/><stop offset="0.4621" stop-color="#ff7f00"/><stop offset="0.6019" stop-color="#ff0000"/><stop offset="0.7014" stop-color="#db0000"/><stop offset="0.8009" stop-color="#b30000"/><stop offset="0.872" stop-color="#8a0000"/><stop offset="0.9194" stop-color="#990000"/><stop offset="1" stop-color="#e50000"/></linearGradient><linearGradient id="BL109" x2="0" y2="1"><stop offset="0" stop-color="#000080"/><stop offset="0.03081" stop-color="#0000bf"/><stop offset="0.04739" stop-color="#0000e3"/><stop offset="0.04976" stop-color="#0000e6"/><stop offset="0.09005" stop-color="#0000fe"/><stop offset="0.09242" stop-color="#0004ff"/><stop offset="0.1019" stop-color="#003eff"/><stop offset="0.1137" stop-color="#0080ff"/><stop offset="0.1564" stop-color="#00fcff"/><stop offset="0.1588" stop-color="#03fffc"/><stop offset="0.218" stop-color="#81ff7e"/><stop offset="0.3152" stop-color="#ffff00"/><stop offset="0.4621" stop-color="#ff8000"/><stop offset="0.6019" stop-color="#ff0000"/><stop offset="0.7014" stop-color="#db0000"/><stop offset="0.8009" stop-color="#b30000"/><stop offset="0.872" stop-color="#8a0000"/><stop offset="0.9194" stop-color="#990000"/><stop offset="1" stop-color="#e50000"/></linearGradient><linearGradient id="BL110" x2="0" y2="1"><stop offset="0" stop-color="#000080"/><stop offset="0.04739" stop-color="#0000e6"/><stop offset="0.09242" stop-color="#0000ff"/><stop offset="0.1043" stop-color="#0049ff"/><stop offset="0.1137" stop-color="#0080ff"/><stop offset="0.1564" stop-color="#00fdff"/><stop offset="0.1588" stop-color="#04fffb"/><stop offset="0.2156" stop-color="#7fff80"/><stop offset="0.3152" stop-color="#feff01"/><stop offset="0.3175" stop-color="#fffe00"/><stop offset="0.4621" stop-color="#ff8000"/><stop offset="0.6019" stop-color="#ff0000"/><stop offset="0.7014" stop-color="#db0000"/><stop offset="0.8009" stop-color="#b30000"/><stop offset="0.872" stop-color="#8a0000"/><stop offset="0.9194" stop-color="#990000"/><stop offset="1" stop-color="#e50000"/></linearGradient><linearGradient id="BL111" x2="0" y2="1"><stop offset="0" stop-color="#000080"/><stop offset="0.02607" stop-color="#0000bd"/><stop offset="0.04502" stop-color="#0000e5"/><stop offset="0.09242" stop-color="#0000fe"/><stop offset="0.09479" stop-color="#0009ff"/><stop offset="0.1043" stop-color="#0047ff"/><stop offset="0.1137" stop-color="#0080ff"/><stop offset="0.1564" stop-color="#00feff"/><stop offset="0.1588" stop-color="#04fffb"/><stop offset="0.2156" stop-color="#80ff7f"/><stop offset="0.3175" stop-color="#fffe00"/><stop offset="0.4645" stop-color="#ff7e00"/><stop offset="0.6019" stop-color="#ff0000"/><stop offset="0.7014" stop-color="#db0000"/><stop offset="0.8009" stop-color="#b30000"/><stop offset="0.872" stop-color="#8a0000"/><stop offset="0.9194" stop-color="#990000"/><stop offset="1" stop-color="#e50000"/></linearGradient><linearGradient id="BL112" x2="0" y2="1"><stop offset="0" stop-color="#000080"/><stop offset="0.0237" stop-color="#0000bc"/><stop offset="0.04265" stop-color="#0000e4"/><stop offset="0.09242" stop-color="#0000fe"/><stop offset="0.09479" stop-color="#0003ff"/><stop offset="0.1043" stop-color="#0044ff"/><stop offset="0.1137" stop-color="#0080ff"/><stop offset="0.1564" stop-color="#00ffff"/><stop offset="0.1588" stop-color="#05fffa"/><stop offset="0.2133" stop-color="#7eff81"/><stop offset="0.3175" stop-color="#ffff00"/><stop offset="0.4645" stop-color="#ff7f00"/><stop offset="0.6019" stop-color="#ff0000"/><stop offset="0.7014" stop-color="#db0000"/><stop offset="0.8009" stop-color="#b30000"/><stop offset="0.872" stop-color="#8a0000"/><stop offset="0.9194" stop-color="#990000"/><stop offset="1" stop-color="#e50000"/></linearGradient><linearGradient id="BR0" x2="0" y2="1"><stop offset="0" stop-color="#000094"/><stop offset="0.009479" stop-color="#0000d1"/><stop offset="0.01185" stop-color="#0000f0"/><stop offset="0.01422" stop-color="#000fff"/><stop offset="0.01896" stop-color="#004dff"/><stop offset="0.02844" stop-color="#008aff"/><stop offset="0.1019" stop-color="#00d0ff"/><stop offset="0.1801" stop-color="#00ffff"/><stop offset="0.4171" stop-color="#80ff7f"/><stop offset="0.6303" stop-color="#fffe00"/><stop offset="0.8389" stop-color="#ff8000"/><stop offset="1" stop-color="#ff2d00"/></linearGradient><linearGradient id="BR1" x2="0" y2="1"><stop offset="0" stop-color="#000094"/><stop offset="0.009479" stop-color="#0000d1"/><stop offset="0.01185" stop-color="#0000f0"/><stop offset="0.01422" stop-color="#000fff"/><stop offset="0.01896" stop-color="#004dff"/><stop offset="0.02844" stop-color="#008aff"/><stop offset="0.09953" stop-color="#00d0ff"/><stop offset="0.1801" stop-color="#00ffff"/><stop offset="0.4076" stop-color="#7fff80"/><stop offset="0.6185" stop-color="#ffff00"/><stop offset="0.8318" stop-color="#ff7f00"/><stop offset="1" stop-color="#ff2b00"/></linearGradient><linearGradient id="BR2" x2="0" y2="1"><stop offset="0" stop-color="#000093"/><stop offset="0.009479" stop-color="#0000d1"/><stop offset="0.01185" stop-color="#0000f0"/><stop offset="0.01422" stop-color="#000fff"/><stop offset="0.01896" stop-color="#004dff"/><stop offset="0.02844" stop-color="#008aff"/><stop offset="0.09716" stop-color="#00d0ff"/><stop offset="0.1801" stop-color="#00ffff"/><stop offset="0.3981" stop-color="#7fff80"/><stop offset="0.609" stop-color="#fffe00"/><stop offset="0.8223" stop-color="#ff8000"/><stop offset="1" stop-color="#ff2a00"/></linearGradient><linearGradient id="BR3" x2="0" y2="1"><stop offset="0" stop-color="#000093"/><stop offset="0.009479" stop-color="#0000d1"/><stop offset="0.01185" stop-color="#0000f0"/><stop offset="0.01422" stop-color="#000fff"/><stop offset="0.01896" stop-color="#004dff"/><stop offset="0.02844" stop-color="#008aff"/><stop offset="0.09716" stop-color="#00d2ff"/><stop offset="0.1801" stop-color="#00ffff"/><stop offset="0.391" stop-color="#7fff80"/><stop offset="0.5972" stop-color="#ffff00"/><stop offset="0.8152" stop-color="#ff7f00"/><stop offset="1" stop-color="#ff2800"/></linearGradient><linearGradient id="BR4" x2="0" y2="1"><stop offset="0" stop-color="#000093"/><stop offset="0.009479" stop-color="#0000d1"/><stop offset="0.01185" stop-color="#0000f0"/><stop offset="0.01422" stop-color="#000fff"/><stop offset="0.01896" stop-color="#004dff"/><stop offset="0.02844" stop-color="#008aff"/><stop offset="0.09479" stop-color="#00d2ff"/><stop offset="0.1801" stop-color="#00ffff"/><stop offset="0.5877" stop-color="#ffff00"/><stop offset="0.8057" stop-color="#ff8000"/><stop offset="1" stop-color="#ff2600"/></linearGradient><linearGradient id="BR5" x2="0" y2="1"><stop offset="0" stop-color="#000093"/><stop offset="0.009479" stop-color="#0000d1"/><stop offset="0.01185" stop-color="#0000f0"/><stop offset="0.01422" stop-color="#000fff"/><stop offset="0.01896" stop-color="#004dff"/><stop offset="0.02844" stop-color="#008aff"/><stop offset="0.09242" stop-color="#00d2ff"/><stop offset="0.1777" stop-color="#00ffff"/><stop offset="0.3815" stop-color="#80ff7f"/><stop offset="0.5782" stop-color="#fffe00"/><stop offset="0.7986" stop-color="#ff7f00"/><stop offset="1" stop-color="#ff2400"/></linearGradient><linearGradient id="BR6" x2="0" y2="1"><stop offset="0" stop-color="#000093"/><stop offset="0.009479" stop-color="#0000d1"/><stop offset="0.01185" stop-color="#0000f0"/><stop offset="0.01422" stop-color="#000fff"/><stop offset="0.01896" stop-color="#004dff"/><stop offset="0.02844" stop-color="#008aff"/><stop offset="0.09005" stop-color="#00d2ff"/><stop offset="0.1754" stop-color="#01fffe"/><stop offset="0.3768" stop-color="#80ff7f"/><stop offset="0.5664" stop-color="#feff01"/><stop offset="0.7891" stop-color="#ff7f00"/><stop offset="1" stop-color="#ff2300"/></linearGradient><linearGradient id="BR7" x2="0" y2="1"><stop offset="0" stop-color="#000093"/><stop offset="0.009479" stop-color="#0000d1"/><stop offset="0.01185" stop-color="#0000f0"/><stop offset="0.01422" stop-color="#000fff"/><stop offset="0.01896" stop-color="#004dff"/><stop offset="0.02844" stop-color="#008aff"/><stop offset="0.08768" stop-color="#00d2ff"/><stop offset="0.173" stop-color="#01fffe"/><stop offset="0.372" stop-color="#80ff7f"/><stop offset="0.5569" stop-color="#feff01"/><stop offset="0.7796" stop-color="#ff8000"/><stop offset="1" stop-color="#ff2100"/></linearGradient><linearGradient id="BR8" x2="0" y2="1"><stop offset="0" stop-color="#000092"/><stop offset="0.009479" stop-color="#0000d1"/><stop offset="0.01185" stop-color="#0000f0"/><stop offset="0.01422" stop-color="#000fff"/><stop offset="0.01896" stop-color="#004dff"/><stop offset="0.02844" stop-color="#008aff"/><stop offset="0.08531" stop-color="#00d1ff"/><stop offset="0.1682" stop-color="#01fffe"/><stop offset="0.3673" stop-color="#7fff80"/><stop offset="0.5498" stop-color="#ffff00"/><stop offset="0.7725" stop-color="#ff7f00"/><stop offset="1" stop-color="#ff1f00"/></linearGradient><linearGradient id="BR9" x2="0" y2="1"><stop offset="0" stop-color="#000092"/><stop offset="0.009479" stop-color="#0000d1"/><stop offset="0.01185" stop-color="#0000f0"/><stop offset="0.01422" stop-color="#000fff"/><stop offset="0.01896" stop-color="#004dff"/><stop offset="0.02844" stop-color="#008aff"/><stop offset="0.08531" stop-color="#00d1ff"/><stop offset="0.1659" stop-color="#01fffe"/><stop offset="0.3626" stop-color="#80ff7f"/><stop offset="0.5403" stop-color="#feff01"/><stop offset="0.763" stop-color="#ff8000"/><stop offset="1" stop-color="#ff1e00"/></linearGradient><linearGradient id="BR10" x2="0" y2="1"><stop offset="0" stop-color="#000092"/><stop offset="0.009479" stop-color="#0000d1"/><stop offset="0.01185" stop-color="#0000f0"/><stop offset="0.01422" stop-color="#000fff"/><stop offset="0.01896" stop-color="#004dff"/><stop offset="0.02844" stop-color="#008aff"/><stop offset="0.08531" stop-color="#00d1ff"/><stop offset="0.1635" stop-color="#01fffe"/><stop offset="0.3555" stop-color="#7fff80"/><stop offset="0.5332" stop-color="#feff01"/><stop offset="0.7559" stop-color="#ff7f00"/><stop offset="1" stop-color="#ff1c00"/></linearGradient><linearGradient id="BR11" x2="0" y2="1"><stop offset="0" stop-color="#000092"/><stop offset="0.009479" stop-color="#0000d1"/><stop offset="0.01185" stop-color="#0000f0"/><stop offset="0.01422" stop-color="#000fff"/><stop offset="0.01896" stop-color="#004dff"/><stop offset="0.02844" stop-color="#008aff"/><stop offset="0.08531" stop-color="#00d1ff"/><stop offset="0.1611" stop-color="#01fffe"/><stop offset="0.3507" stop-color="#80ff7f"/><stop offset="0.5284" stop-color="#fffe00"/><stop offset="0.7464" stop-color="#ff8000"/><stop offset="0.9953" stop-color="#ff1a00"/><stop offset="1" stop-color="#ff1b00"/></linearGradient><linearGradient id="BR12" x2="0" y2="1"><stop offset="0" stop-color="#000092"/><stop offset="0.009479" stop-color="#0000d1"/><stop offset="0.01185" stop-color="#0000f0"/><stop offset="0.01422" stop-color="#000fff"/><stop offset="0.01896" stop-color="#004dff"/><stop offset="0.02844" stop-color="#008aff"/><stop offset="0.08531" stop-color="#00d1ff"/><stop offset="0.1588" stop-color="#01fffe"/><stop offset="0.3436" stop-color="#7fff80"/><stop offset="0.5213" stop-color="#ffff00"/><stop offset="0.7393" stop-color="#ff7f00"/><stop offset="0.9929" stop-color="#ff1800"/><stop offset="1" stop-color="#ff1900"/></linearGradient><linearGradient id="BR13" x2="0" y2="1"><stop offset="0" stop-color="#000091"/><stop offset="0.009479" stop-color="#0000d1"/><stop offset="0.01185" stop-color="#0000f0"/><stop offset="0.01422" stop-color="#000fff"/><stop offset="0.01896" stop-color="#004dff"/><stop offset="0.02844" stop-color="#008aff"/><stop offset="0.08531" stop-color="#00d1ff"/><stop offset="0.1564" stop-color="#01fffe"/><stop offset="0.3389" stop-color="#7fff80"/><stop offset="0.5142" stop-color="#ffff00"/><stop offset="0.7299" stop-color="#ff8000"/><stop offset="0.9905" stop-color="#ff1500"/><stop offset="1" stop-color="#ff1800"/></linearGradient><linearGradient id="BR14" x2="0" y2="1"><stop offset="0" stop-color="#000091"/><stop offset="0.009479" stop-color="#0000d1"/><stop offset="0.01185" stop-color="#0000f0"/><stop offset="0.01422" stop-color="#000fff"/><stop offset="0.01896" stop-color="#004dff"/><stop offset="0.02844" stop-color="#008aff"/><stop offset="0.08531" stop-color="#00d1ff"/><stop offset="0.154" stop-color="#00ffff"/><stop offset="0.3341" stop-color="#7fff80"/><stop offset="0.5095" stop-color="#fffe00"/><stop offset="0.7227" stop-color="#ff8000"/><stop offset="0.9882" stop-color="#ff1200"/><stop offset="1" stop-color="#ff1600"/></linearGradient><linearGradient id="BR15" x2="0" y2="1"><stop offset="0" stop-color="#000091"/><stop offset="0.009479" stop-color="#0000d1"/><stop offset="0.01185" stop-color="#0000f0"/><stop offset="0.01422" stop-color="#000fff"/><stop offset="0.01896" stop-color="#004dff"/><stop offset="0.02844" stop-color="#008aff"/><stop offset="0.08531" stop-color="#00d1ff"/><stop offset="0.1517" stop-color="#00ffff"/><stop offset="0.3318" stop-color="#80ff80"/><stop offset="0.5024" stop-color="#ffff00"/><stop offset="0.7156" stop-color="#ff8000"/><stop offset="0.9858" stop-color="#ff0f00"/><stop offset="1" stop-color="#ff1400"/></linearGradient><linearGradient id="BR16" x2="0" y2="1"><stop offset="0" stop-color="#000091"/><stop offset="0.009479" stop-color="#0000d1"/><stop offset="0.01185" stop-color="#0000f0"/><stop offset="0.01422" stop-color="#000fff"/><stop offset="0.01896" stop-color="#004dff"/><stop offset="0.02844" stop-color="#008aff"/><stop offset="0.08531" stop-color="#00d1ff"/><stop offset="0.1517" stop-color="#01fffe"/><stop offset="0.3294" stop-color="#7fff80"/><stop offset="0.4953" stop-color="#feff01"/><stop offset="0.7085" stop-color="#ff8000"/><stop offset="0.981" stop-color="#ff0d00"/><stop offset="1" stop-color="#ff1200"/></linearGradient><linearGradient id="BR17" x2="0" y2="1"><stop offset="0" stop-color="#000091"/><stop offset="0.009479" stop-color="#0000d1"/><stop offset="0.01185" stop-color="#0000f0"/><stop offset="0.01422" stop-color="#000fff"/><stop offset="0.01896" stop-color="#004dff"/><stop offset="0.02844" stop-color="#008aff"/><stop offset="0.08531" stop-color="#00d1ff"/><stop offset="0.1493" stop-color="#01fffe"/><stop offset="0.327" stop-color="#7fff80"/><stop offset="0.4905" stop-color="#ffff00"/><stop offset="0.7014" stop-color="#ff8000"/><stop offset="0.9787" stop-color="#ff0900"/><stop offset="1" stop-color="#ff1000"/></linearGradient><linearGradient id="BR18" x2="0" y2="1"><stop offset="0" stop-color="#000091"/><stop offset="0.009479" stop-color="#0000d1"/><stop offset="0.01185" stop-color="#0000f0"/><stop offset="0.01422" stop-color="#000fff"/><stop offset="0.01896" stop-color="#004dff"/><stop offset="0.02844" stop-color="#008aff"/><stop offset="0.08531" stop-color="#00d1ff"/><stop offset="0.1469" stop-color="#00ffff"/><stop offset="0.327" stop-color="#80ff7f"/><stop offset="0.4834" stop-color="#ffff00"/><stop offset="0.6967" stop-color="#ff7f00"/><stop offset="0.9763" stop-color="#ff0500"/><stop offset="1" stop-color="#ff0e00"/></linearGradient><linearGradient id="BR19" x2="0" y2="1"><stop offset="0" stop-color="#000090"/><stop offset="0.009479" stop-color="#0000d1"/><stop offset="0.01185" stop-color="#0000f0"/><stop offset="0.01422" stop-color="#000fff"/><stop offset="0.01896" stop-color="#004dff"/><stop offset="0.02844" stop-color="#008aff"/><stop offset="0.08531" stop-color="#00d1ff"/><stop offset="0.1445" stop-color="#00ffff"/><stop offset="0.1469" stop-color="#02fffd"/><stop offset="0.3246" stop-color="#7fff80"/><stop offset="0.4787" stop-color="#fffe00"/><stop offset="0.6896" stop-color="#ff7f00"/><stop offset="0.9716" stop-color="#ff0200"/><stop offset="1" stop-color="#ff0c00"/></linearGradient><linearGradient id="BR20" x2="0" y2="1"><stop offset="0" stop-color="#000090"/><stop offset="0.009479" stop-color="#0000d1"/><stop offset="0.01185" stop-color="#0000f0"/><stop offset="0.01422" stop-color="#000fff"/><stop offset="0.01896" stop-color="#004dff"/><stop offset="0.02844" stop-color="#008aff"/><stop offset="0.08531" stop-color="#00d1ff"/><stop offset="0.1445" stop-color="#01fffe"/><stop offset="0.3246" stop-color="#80ff7f"/><stop offset="0.4739" stop-color="#fffe00"/><stop offset="0.6825" stop-color="#ff8000"/><stop offset="0.9692" stop-color="#ff0000"/><stop offset="1" stop-color="#ff0900"/></linearGradient><linearGradient id="BR21" x2="0" y2="1"><stop offset="0" stop-color="#000090"/><stop offset="0.009479" stop-color="#0000d1"/><stop offset="0.01185" stop-color="#0000f0"/><stop offset="0.01422" stop-color="#000fff"/><stop offset="0.01896" stop-color="#004dff"/><stop offset="0.02844" stop-color="#008aff"/><stop offset="0.08531" stop-color="#00d1ff"/><stop offset="0.1422" stop-color="#00ffff"/><stop offset="0.1445" stop-color="#01fffe"/><stop offset="0.3223" stop-color="#7fff80"/><stop offset="0.4692" stop-color="#ffff00"/><stop offset="0.6777" stop-color="#ff7f00"/><stop offset="0.9573" stop-color="#ff0100"/><stop offset="0.9668" stop-color="#fa0000"/><stop offset="0.9763" stop-color="#ff0000"/><stop offset="1" stop-color="#ff0700"/></linearGradient><linearGradient id="BR22" x2="0" y2="1"><stop offset="0" stop-color="#000090"/><stop offset="0.009479" stop-color="#0000d1"/><stop offset="0.01185" stop-color="#0000f0"/><stop offset="0.01422" stop-color="#000fff"/><stop offset="0.01896" stop-color="#004dff"/><stop offset="0.02844" stop-color="#008aff"/><stop offset="0.08531" stop-color="#00d1ff"/><stop offset="0.1422" stop-color="#00ffff"/><stop offset="0.3223" stop-color="#80ff80"/><stop offset="0.4668" stop-color="#ffff00"/><stop offset="0.673" stop-color="#ff7f00"/><stop offset="0.9479" stop-color="#ff0000"/><stop offset="0.9645" stop-color="#f60000"/><stop offset="0.9834" stop-color="#ff0000"/><stop offset="1" stop-color="#ff0500"/></linearGradient><linearGradient id="BR23" x2="0" y2="1"><stop offset="0" stop-color="#000090"/><stop offset="0.009479" stop-color="#0000d1"/><stop offset="0.01185" stop-color="#0000f0"/><stop offset="0.01422" stop-color="#000fff"/><stop offset="0.01896" stop-color="#004dff"/><stop offset="0.02844" stop-color="#008aff"/><stop offset="0.08531" stop-color="#00d1ff"/><stop offset="0.1422" stop-color="#00ffff"/><stop offset="0.1445" stop-color="#02fffd"/><stop offset="0.3199" stop-color="#7fff80"/><stop offset="0.4645" stop-color="#fffe00"/><stop offset="0.6659" stop-color="#ff8000"/><stop offset="0.936" stop-color="#ff0000"/><stop offset="0.9621" stop-color="#f30000"/><stop offset="0.9882" stop-color="#fe0000"/><stop offset="1" stop-color="#ff0300"/></linearGradient><linearGradient id="BR24" x2="0" y2="1"><stop offset="0" stop-color="#00008f"/><stop offset="0.009479" stop-color="#0000d1"/><stop offset="0.01185" stop-color="#0000f0"/><stop offset="0.01422" stop-color="#000fff"/><stop offset="0.01896" stop-color="#004dff"/><stop offset="0.02844" stop-color="#008aff"/><stop offset="0.08294" stop-color="#00d0ff"/><stop offset="0.1445" stop-color="#01fffe"/><stop offset="0.3199" stop-color="#80ff7f"/><stop offset="0.4621" stop-color="#fffe00"/><stop offset="0.6611" stop-color="#ff8000"/><stop offset="0.9242" stop-color="#ff0100"/><stop offset="0.9597" stop-color="#f00000"/><stop offset="0.9739" stop-color="#f70000"/><stop offset="1" stop-color="#ff0200"/></linearGradient><linearGradient id="BR25" x2="0" y2="1"><stop offset="0" stop-color="#00008f"/><stop offset="0.009479" stop-color="#0000d1"/><stop offset="0.01185" stop-color="#0000f0"/><stop offset="0.01422" stop-color="#000fff"/><stop offset="0.01896" stop-color="#004dff"/><stop offset="0.02844" stop-color="#008aff"/><stop offset="0.08294" stop-color="#00d2ff"/><stop offset="0.1445" stop-color="#01fffe"/><stop offset="0.3175" stop-color="#7fff80"/><stop offset="0.4597" stop-color="#ffff00"/><stop offset="0.6564" stop-color="#ff8000"/><stop offset="0.9147" stop-color="#ff0000"/><stop offset="0.955" stop-color="#ec0000"/><stop offset="1" stop-color="#ff0000"/></linearGradient><linearGradient id="BR26" x2="0" y2="1"><stop offset="0" stop-color="#00008f"/><stop offset="0.009479" stop-color="#0000d1"/><stop offset="0.01185" stop-color="#0000f0"/><stop offset="0.01422" stop-color="#000fff"/><stop offset="0.01896" stop-color="#004dff"/><stop offset="0.02844" stop-color="#008aff"/><stop offset="0.08057" stop-color="#00d1ff"/><stop offset="0.1445" stop-color="#00ffff"/><stop offset="0.1469" stop-color="#02fffd"/><stop offset="0.3175" stop-color="#80ff7f"/><stop offset="0.4573" stop-color="#ffff00"/><stop offset="0.6517" stop-color="#ff8000"/><stop offset="0.9028" stop-color="#ff0100"/><stop offset="0.9526" stop-color="#e90000"/><stop offset="1" stop-color="#fd0000"/></linearGradient><linearGradient id="BR27" x2="0" y2="1"><stop offset="0" stop-color="#00008f"/><stop offset="0.009479" stop-color="#0000d1"/><stop offset="0.01185" stop-color="#0000f0"/><stop offset="0.01422" stop-color="#000fff"/><stop offset="0.01896" stop-color="#004dff"/><stop offset="0.02844" stop-color="#008aff"/><stop offset="0.0782" stop-color="#00d1ff"/><stop offset="0.1469" stop-color="#01fffe"/><stop offset="0.3152" stop-color="#7fff80"/><stop offset="0.455" stop-color="#ffff00"/><stop offset="0.6493" stop-color="#ff7f00"/><stop offset="0.891" stop-color="#ff0100"/><stop offset="0.9502" stop-color="#e50000"/><stop offset="1" stop-color="#fc0000"/></linearGradient><linearGradient id="BR28" x2="0" y2="1"><stop offset="0" stop-color="#00008f"/><stop offset="0.009479" stop-color="#0000d1"/><stop offset="0.01185" stop-color="#0000f0"/><stop offset="0.01422" stop-color="#000fff"/><stop offset="0.01896" stop-color="#004dff"/><stop offset="0.02844" stop-color="#008aff"/><stop offset="0.07583" stop-color="#00d1ff"/><stop offset="0.1469" stop-color="#00ffff"/><stop offset="0.1493" stop-color="#02fffd"/><stop offset="0.3152" stop-color="#80ff7f"/><stop offset="0.455" stop-color="#fffe00"/><stop offset="0.6445" stop-color="#ff7f00"/><stop offset="0.8815" stop-color="#ff0000"/><stop offset="0.9479" stop-color="#e20000"/><stop offset="1" stop-color="#fa0000"/></linearGradient><linearGradient id="BR29" x2="0" y2="1"><stop offset="0" stop-color="#00008f"/><stop offset="0.009479" stop-color="#0000d1"/><stop offset="0.01185" stop-color="#0000f0"/><stop offset="0.01422" stop-color="#000fff"/><stop offset="0.01896" stop-color="#004dff"/><stop offset="0.02844" stop-color="#008aff"/><stop offset="0.07346" stop-color="#00d0ff"/><stop offset="0.1493" stop-color="#01fffe"/><stop offset="0.3152" stop-color="#80ff7f"/><stop offset="0.4526" stop-color="#ffff00"/><stop offset="0.6398" stop-color="#ff8000"/><stop offset="0.872" stop-color="#ff0000"/><stop offset="0.9455" stop-color="#df0000"/><stop offset="1" stop-color="#f90000"/></linearGradient><linearGradient id="BR30" x2="0" y2="1"><stop offset="0" stop-color="#00008e"/><stop offset="0.009479" stop-color="#0000d1"/><stop offset="0.01185" stop-color="#0000f0"/><stop offset="0.01422" stop-color="#000fff"/><stop offset="0.01896" stop-color="#004dff"/><stop offset="0.02844" stop-color="#008aff"/><stop offset="0.07346" stop-color="#00d2ff"/><stop offset="0.1517" stop-color="#02fffd"/><stop offset="0.3128" stop-color="#7fff80"/><stop offset="0.4502" stop-color="#feff01"/><stop offset="0.6374" stop-color="#ff7f00"/><stop offset="0.8602" stop-color="#ff0100"/><stop offset="0.9431" stop-color="#dc0000"/><stop offset="1" stop-color="#f70000"/></linearGradient><linearGradient id="BR31" x2="0" y2="1"><stop offset="0" stop-color="#00008e"/><stop offset="0.009479" stop-color="#0000d1"/><stop offset="0.01185" stop-color="#0000f0"/><stop offset="0.01422" stop-color="#000fff"/><stop offset="0.01896" stop-color="#004dff"/><stop offset="0.02844" stop-color="#008aff"/><stop offset="0.07109" stop-color="#00d0ff"/><stop offset="0.1517" stop-color="#01fffe"/><stop offset="0.3128" stop-color="#7fff80"/><stop offset="0.4502" stop-color="#ffff00"/><stop offset="0.6327" stop-color="#ff8000"/><stop offset="0.8507" stop-color="#ff0100"/><stop offset="0.9408" stop-color="#d90000"/><stop offset="1" stop-color="#f60000"/></linearGradient><linearGradient id="BR32" x2="0" y2="1"><stop offset="0" stop-color="#00008e"/><stop offset="0.009479" stop-color="#0000d1"/><stop offset="0.01185" stop-color="#0000f0"/><stop offset="0.01422" stop-color="#000fff"/><stop offset="0.01896" stop-color="#004dff"/><stop offset="0.02844" stop-color="#008aff"/><stop offset="0.07109" stop-color="#00d1ff"/><stop offset="0.1517" stop-color="#00ffff"/><stop offset="0.3128" stop-color="#80ff80"/><stop offset="0.4479" stop-color="#feff01"/><stop offset="0.6303" stop-color="#ff8000"/><stop offset="0.8436" stop-color="#ff0000"/><stop offset="0.9384" stop-color="#d60000"/><stop offset="0.9621" stop-color="#e00000"/><stop offset="1" stop-color="#f50000"/></linearGradient><linearGradient id="BR33" x2="0" y2="1"><stop offset="0" stop-color="#00008e"/><stop offset="0.009479" stop-color="#0000d1"/><stop offset="0.01185" stop-color="#0000f0"/><stop offset="0.01422" stop-color="#000fff"/><stop offset="0.01896" stop-color="#004dff"/><stop offset="0.02844" stop-color="#008aff"/><stop offset="0.07109" stop-color="#00d1ff"/><stop offset="0.154" stop-color="#01fffe"/><stop offset="0.3128" stop-color="#7fff80"/><stop offset="0.4479" stop-color="#ffff00"/><stop offset="0.628" stop-color="#ff7f00"/><stop offset="0.8341" stop-color="#ff0100"/><stop offset="0.936" stop-color="#d40000"/><stop offset="0.9621" stop-color="#df0000"/><stop offset="1" stop-color="#f40000"/></linearGradient><linearGradient id="BR34" x2="0" y2="1"><stop offset="0" stop-color="#00008e"/><stop offset="0.009479" stop-color="#0000d1"/><stop offset="0.01185" stop-color="#0000f0"/><stop offset="0.01422" stop-color="#000fff"/><stop offset="0.01896" stop-color="#004dff"/><stop offset="0.02844" stop-color="#008aff"/><stop offset="0.07109" stop-color="#00d1ff"/><stop offset="0.154" stop-color="#01fffe"/><stop offset="0.3128" stop-color="#7fff80"/><stop offset="0.4455" stop-color="#feff01"/><stop offset="0.6232" stop-color="#ff8000"/><stop offset="0.827" stop-color="#ff0000"/><stop offset="0.9313" stop-color="#db0000"/><stop offset="0.9336" stop-color="#d10000"/><stop offset="0.9597" stop-color="#dc0000"/><stop offset="1" stop-color="#f20000"/></linearGradient><linearGradient id="BR35" x2="0" y2="1"><stop offset="0" stop-color="#00008e"/><stop offset="0.009479" stop-color="#0000d1"/><stop offset="0.01185" stop-color="#0000f0"/><stop offset="0.01422" stop-color="#000fff"/><stop offset="0.01896" stop-color="#004dff"/><stop offset="0.02844" stop-color="#008aff"/><stop offset="0.07109" stop-color="#00d1ff"/><stop offset="0.154" stop-color="#00ffff"/><stop offset="0.3128" stop-color="#7fff80"/><stop offset="0.4455" stop-color="#ffff00"/><stop offset="0.6209" stop-color="#ff8000"/><stop offset="0.8175" stop-color="#ff0000"/><stop offset="0.9194" stop-color="#dc0000"/><stop offset="0.9313" stop-color="#cf0000"/><stop offset="0.9573" stop-color="#d90000"/><stop offset="1" stop-color="#f10000"/></linearGradient><linearGradient id="BR36" x2="0" y2="1"><stop offset="0" stop-color="#00008d"/><stop offset="0.009479" stop-color="#0000d1"/><stop offset="0.01185" stop-color="#0000f0"/><stop offset="0.01422" stop-color="#000fff"/><stop offset="0.01896" stop-color="#004dff"/><stop offset="0.02844" stop-color="#008aff"/><stop offset="0.07109" stop-color="#00d1ff"/><stop offset="0.154" stop-color="#00ffff"/><stop offset="0.1564" stop-color="#02fffd"/><stop offset="0.3128" stop-color="#7fff80"/><stop offset="0.4455" stop-color="#fffe00"/><stop offset="0.6185" stop-color="#ff7f00"/><stop offset="0.8081" stop-color="#ff0100"/><stop offset="0.9076" stop-color="#dc0000"/><stop offset="0.9289" stop-color="#cd0000"/><stop offset="0.9573" stop-color="#d70000"/><stop offset="1" stop-color="#ef0000"/></linearGradient><linearGradient id="BR37" x2="0" y2="1"><stop offset="0" stop-color="#00008d"/><stop offset="0.009479" stop-color="#0000d1"/><stop offset="0.01185" stop-color="#0000f0"/><stop offset="0.01422" stop-color="#000fff"/><stop offset="0.01896" stop-color="#004dff"/><stop offset="0.02844" stop-color="#008aff"/><stop offset="0.07109" stop-color="#00d1ff"/><stop offset="0.1564" stop-color="#01fffe"/><stop offset="0.3128" stop-color="#7fff80"/><stop offset="0.4431" stop-color="#ffff00"/><stop offset="0.6137" stop-color="#ff8000"/><stop offset="0.8009" stop-color="#ff0000"/><stop offset="0.8981" stop-color="#db0000"/><stop offset="0.9265" stop-color="#ca0000"/><stop offset="0.955" stop-color="#d50000"/><stop offset="1" stop-color="#ee0000"/></linearGradient><linearGradient id="BR38" x2="0" y2="1"><stop offset="0" stop-color="#00008d"/><stop offset="0.009479" stop-color="#0000d1"/><stop offset="0.01185" stop-color="#0000f0"/><stop offset="0.01422" stop-color="#000fff"/><stop offset="0.01896" stop-color="#004dff"/><stop offset="0.02844" stop-color="#008aff"/><stop offset="0.07109" stop-color="#00d1ff"/><stop offset="0.1564" stop-color="#01fffe"/><stop offset="0.3128" stop-color="#7fff80"/><stop offset="0.4431" stop-color="#fffe00"/><stop offset="0.6114" stop-color="#ff8000"/><stop offset="0.7938" stop-color="#ff0000"/><stop offset="0.8863" stop-color="#dc0000"/><stop offset="0.9242" stop-color="#c80000"/><stop offset="0.9526" stop-color="#d20000"/><stop offset="1" stop-color="#ed0000"/></linearGradient><linearGradient id="BR39" x2="0" y2="1"><stop offset="0" stop-color="#00008d"/><stop offset="0.009479" stop-color="#0000d1"/><stop offset="0.01185" stop-color="#0000f0"/><stop offset="0.01422" stop-color="#000fff"/><stop offset="0.01896" stop-color="#004dff"/><stop offset="0.02844" stop-color="#008aff"/><stop offset="0.07109" stop-color="#00d1ff"/><stop offset="0.1564" stop-color="#00ffff"/><stop offset="0.3152" stop-color="#81ff7e"/><stop offset="0.4408" stop-color="#feff01"/><stop offset="0.609" stop-color="#ff7f00"/><stop offset="0.7844" stop-color="#ff0100"/><stop offset="0.8768" stop-color="#db0000"/><stop offset="0.9194" stop-color="#c60000"/><stop offset="0.9526" stop-color="#d00000"/><stop offset="1" stop-color="#eb0000"/></linearGradient><linearGradient id="BR40" x2="0" y2="1"><stop offset="0" stop-color="#00008d"/><stop offset="0.009479" stop-color="#0000d1"/><stop offset="0.01185" stop-color="#0000f0"/><stop offset="0.01422" stop-color="#000fff"/><stop offset="0.01896" stop-color="#004dff"/><stop offset="0.02844" stop-color="#008aff"/><stop offset="0.07109" stop-color="#00d1ff"/><stop offset="0.1564" stop-color="#00ffff"/><stop offset="0.1588" stop-color="#02fffd"/><stop offset="0.3152" stop-color="#80ff7f"/><stop offset="0.4408" stop-color="#ffff00"/><stop offset="0.6066" stop-color="#ff7f00"/><stop offset="0.7773" stop-color="#ff0000"/><stop offset="0.8649" stop-color="#dc0000"/><stop offset="0.9171" stop-color="#c40000"/><stop offset="0.9502" stop-color="#ce0000"/><stop offset="1" stop-color="#ea0000"/></linearGradient><linearGradient id="BR41" x2="0" y2="1"><stop offset="0" stop-color="#00008c"/><stop offset="0.009479" stop-color="#0000d1"/><stop offset="0.01185" stop-color="#0000f0"/><stop offset="0.01422" stop-color="#000fff"/><stop offset="0.01896" stop-color="#004dff"/><stop offset="0.02844" stop-color="#008aff"/><stop offset="0.07109" stop-color="#00d1ff"/><stop offset="0.1588" stop-color="#01fffe"/><stop offset="0.3152" stop-color="#80ff7f"/><stop offset="0.4408" stop-color="#fffe00"/><stop offset="0.7701" stop-color="#ff0000"/><stop offset="0.9147" stop-color="#c20000"/><stop offset="0.9502" stop-color="#cc0000"/><stop offset="1" stop-color="#e90000"/></linearGradient><linearGradient id="BR42" x2="0" y2="1"><stop offset="0" stop-color="#00008c"/><stop offset="0.009479" stop-color="#0000d1"/><stop offset="0.01185" stop-color="#0000f0"/><stop offset="0.01422" stop-color="#000fff"/><stop offset="0.01896" stop-color="#004dff"/><stop offset="0.02844" stop-color="#008aff"/><stop offset="0.07109" stop-color="#00d1ff"/><stop offset="0.1588" stop-color="#01fffe"/><stop offset="0.3152" stop-color="#7fff80"/><stop offset="0.4384" stop-color="#feff01"/><stop offset="0.4408" stop-color="#fffe00"/><stop offset="0.763" stop-color="#ff0100"/><stop offset="0.9123" stop-color="#c00000"/><stop offset="0.9479" stop-color="#ca0000"/><stop offset="1" stop-color="#e80000"/></linearGradient><linearGradient id="BR43" x2="0" y2="1"><stop offset="0" stop-color="#00008c"/><stop offset="0.009479" stop-color="#0000d1"/><stop offset="0.01185" stop-color="#0000f0"/><stop offset="0.01422" stop-color="#000fff"/><stop offset="0.01896" stop-color="#004dff"/><stop offset="0.02844" stop-color="#008aff"/><stop offset="0.07109" stop-color="#00d1ff"/><stop offset="0.1588" stop-color="#00ffff"/><stop offset="0.3152" stop-color="#7fff80"/><stop offset="0.4384" stop-color="#ffff00"/><stop offset="0.7583" stop-color="#ff0000"/><stop offset="0.9123" stop-color="#be0000"/><stop offset="0.9479" stop-color="#c80000"/><stop offset="1" stop-color="#e70000"/></linearGradient><linearGradient id="BR44" x2="0" y2="1"><stop offset="0" stop-color="#00008c"/><stop offset="0.009479" stop-color="#0000d1"/><stop offset="0.01185" stop-color="#0000f0"/><stop offset="0.01422" stop-color="#000fff"/><stop offset="0.01896" stop-color="#004dff"/><stop offset="0.02844" stop-color="#008aff"/><stop offset="0.07109" stop-color="#00d1ff"/><stop offset="0.1588" stop-color="#00ffff"/><stop offset="0.1611" stop-color="#02fffd"/><stop offset="0.3152" stop-color="#7fff80"/><stop offset="0.4384" stop-color="#fffe00"/><stop offset="0.5972" stop-color="#ff7f00"/><stop offset="0.7512" stop-color="#ff0100"/><stop offset="0.8318" stop-color="#db0000"/><stop offset="0.91" stop-color="#bc0000"/><stop offset="0.9455" stop-color="#c60000"/><stop offset="1" stop-color="#e60000"/></linearGradient><linearGradient id="BR45" x2="0" y2="1"><stop offset="0" stop-color="#00008c"/><stop offset="0.009479" stop-color="#0000d1"/><stop offset="0.01185" stop-color="#0000f0"/><stop offset="0.01422" stop-color="#000fff"/><stop offset="0.01896" stop-color="#004dff"/><stop offset="0.02844" stop-color="#008aff"/><stop offset="0.07109" stop-color="#00d1ff"/><stop offset="0.1611" stop-color="#01fffe"/><stop offset="0.3175" stop-color="#80ff7f"/><stop offset="0.4384" stop-color="#fffe00"/><stop offset="0.5948" stop-color="#ff8000"/><stop offset="0.7464" stop-color="#ff0100"/><stop offset="0.8246" stop-color="#dc0000"/><stop offset="0.9076" stop-color="#ba0000"/><stop offset="0.9455" stop-color="#c50000"/><stop offset="1" stop-color="#e60000"/></linearGradient><linearGradient id="BR46" x2="0" y2="1"><stop offset="0" stop-color="#00008c"/><stop offset="0.009479" stop-color="#0000d1"/><stop offset="0.01185" stop-color="#0000f0"/><stop offset="0.01422" stop-color="#000fff"/><stop offset="0.01896" stop-color="#004dff"/><stop offset="0.02844" stop-color="#008aff"/><stop offset="0.07109" stop-color="#00d1ff"/><stop offset="0.1611" stop-color="#01fffe"/><stop offset="0.3175" stop-color="#80ff7f"/><stop offset="0.436" stop-color="#feff01"/><stop offset="0.5924" stop-color="#ff8100"/><stop offset="0.7417" stop-color="#ff0100"/><stop offset="0.8199" stop-color="#db0000"/><stop offset="0.9052" stop-color="#b90000"/><stop offset="0.9431" stop-color="#c30000"/><stop offset="1" stop-color="#e60000"/></linearGradient><linearGradient id="BR47" x2="0" y2="1"><stop offset="0" stop-color="#00008b"/><stop offset="0.009479" stop-color="#0000d1"/><stop offset="0.01185" stop-color="#0000f0"/><stop offset="0.01422" stop-color="#000fff"/><stop offset="0.01896" stop-color="#004dff"/><stop offset="0.02844" stop-color="#008aff"/><stop offset="0.07109" stop-color="#00d1ff"/><stop offset="0.1611" stop-color="#00ffff"/><stop offset="0.3175" stop-color="#80ff80"/><stop offset="0.436" stop-color="#ffff00"/><stop offset="0.5924" stop-color="#ff8000"/><stop offset="0.7393" stop-color="#ff0000"/><stop offset="0.8152" stop-color="#db0000"/><stop offset="0.9052" stop-color="#b80000"/><stop offset="0.9431" stop-color="#c20000"/><stop offset="1" stop-color="#e50000"/></linearGradient><linearGradient id="BR48" x2="0" y2="1"><stop offset="0" stop-color="#00008b"/><stop offset="0.009479" stop-color="#0000d1"/><stop offset="0.01185" stop-color="#0000f0"/><stop offset="0.01422" stop-color="#000fff"/><stop offset="0.01896" stop-color="#004dff"/><stop offset="0.02844" stop-color="#008aff"/><stop offset="0.07109" stop-color="#00d1ff"/><stop offset="0.1635" stop-color="#01fffe"/><stop offset="0.3175" stop-color="#7fff80"/><stop offset="0.436" stop-color="#ffff00"/><stop offset="0.59" stop-color="#ff8100"/><stop offset="0.737" stop-color="#ff0000"/><stop offset="0.8104" stop-color="#dc0000"/><stop offset="0.9052" stop-color="#b70000"/><stop offset="0.9431" stop-color="#c10000"/><stop offset="1" stop-color="#e60000"/></linearGradient><linearGradient id="BR49" x2="0" y2="1"><stop offset="0" stop-color="#00008b"/><stop offset="0.009479" stop-color="#0000d1"/><stop offset="0.01185" stop-color="#0000f0"/><stop offset="0.01422" stop-color="#000fff"/><stop offset="0.01896" stop-color="#004dff"/><stop offset="0.02844" stop-color="#008aff"/><stop offset="0.07109" stop-color="#00d1ff"/><stop offset="0.1635" stop-color="#00ffff"/><stop offset="0.3175" stop-color="#7eff81"/><stop offset="0.436" stop-color="#fffe00"/><stop offset="0.59" stop-color="#ff8000"/><stop offset="0.7322" stop-color="#ff0100"/><stop offset="0.8081" stop-color="#db0000"/><stop offset="0.9028" stop-color="#b60000"/><stop offset="0.9431" stop-color="#c00000"/><stop offset="1" stop-color="#e60000"/></linearGradient><linearGradient id="BR50" x2="0" y2="1"><stop offset="0" stop-color="#00008b"/><stop offset="0.009479" stop-color="#0000d1"/><stop offset="0.01185" stop-color="#0000f0"/><stop offset="0.01422" stop-color="#000fff"/><stop offset="0.01896" stop-color="#004dff"/><stop offset="0.02844" stop-color="#008aff"/><stop offset="0.07109" stop-color="#00d0ff"/><stop offset="0.1659" stop-color="#01fffe"/><stop offset="0.3199" stop-color="#80ff7f"/><stop offset="0.4336" stop-color="#feff01"/><stop offset="0.436" stop-color="#fffe00"/><stop offset="0.59" stop-color="#ff7f00"/><stop offset="0.7299" stop-color="#ff0100"/><stop offset="0.8033" stop-color="#dc0000"/><stop offset="0.9028" stop-color="#b50000"/><stop offset="0.9408" stop-color="#be0000"/><stop offset="1" stop-color="#e60000"/></linearGradient><linearGradient id="BR51" x2="0" y2="1"><stop offset="0" stop-color="#00008b"/><stop offset="0.009479" stop-color="#0000d1"/><stop offset="0.01185" stop-color="#0000f0"/><stop offset="0.01422" stop-color="#000fff"/><stop offset="0.01896" stop-color="#004dff"/><stop offset="0.02844" stop-color="#008aff"/><stop offset="0.07109" stop-color="#00cfff"/><stop offset="0.1659" stop-color="#00ffff"/><stop offset="0.3199" stop-color="#7fff80"/><stop offset="0.4336" stop-color="#feff01"/><stop offset="0.5877" stop-color="#ff8000"/><stop offset="0.7275" stop-color="#ff0000"/><stop offset="0.8009" stop-color="#db0000"/><stop offset="0.9005" stop-color="#b40000"/><stop offset="0.9408" stop-color="#be0000"/><stop offset="1" stop-color="#e60000"/></linearGradient><linearGradient id="BR52" x2="0" y2="1"><stop offset="0" stop-color="#00008a"/><stop offset="0.009479" stop-color="#0000d1"/><stop offset="0.01185" stop-color="#0000f0"/><stop offset="0.01422" stop-color="#000fff"/><stop offset="0.01896" stop-color="#004dff"/><stop offset="0.02844" stop-color="#008aff"/><stop offset="0.07109" stop-color="#00ceff"/><stop offset="0.07346" stop-color="#00d1ff"/><stop offset="0.1682" stop-color="#01fffe"/><stop offset="0.3223" stop-color="#80ff7f"/><stop offset="0.4336" stop-color="#ffff00"/><stop offset="0.5877" stop-color="#ff7f00"/><stop offset="0.7251" stop-color="#ff0000"/><stop offset="0.7962" stop-color="#dc0000"/><stop offset="0.9005" stop-color="#b30000"/><stop offset="0.9408" stop-color="#bd0000"/><stop offset="1" stop-color="#e60000"/></linearGradient><linearGradient id="BR53" x2="0" y2="1"><stop offset="0" stop-color="#00008a"/><stop offset="0.009479" stop-color="#0000d1"/><stop offset="0.01185" stop-color="#0000f0"/><stop offset="0.01422" stop-color="#000fff"/><stop offset="0.01896" stop-color="#004dff"/><stop offset="0.02844" stop-color="#008aff"/><stop offset="0.07346" stop-color="#00d0ff"/><stop offset="0.1682" stop-color="#00ffff"/><stop offset="0.1706" stop-color="#02fffd"/><stop offset="0.3223" stop-color="#7fff80"/><stop offset="0.4336" stop-color="#ffff00"/><stop offset="0.5877" stop-color="#ff7f00"/><stop offset="0.7227" stop-color="#ff0000"/><stop offset="0.7938" stop-color="#db0000"/><stop offset="0.8981" stop-color="#b20000"/><stop offset="0.9408" stop-color="#bc0000"/><stop offset="1" stop-color="#e70000"/></linearGradient><linearGradient id="BR54" x2="0" y2="1"><stop offset="0" stop-color="#00008a"/><stop offset="0.009479" stop-color="#0000d1"/><stop offset="0.01185" stop-color="#0000f0"/><stop offset="0.01422" stop-color="#000fff"/><stop offset="0.01896" stop-color="#004dff"/><stop offset="0.02844" stop-color="#008aff"/><stop offset="0.07346" stop-color="#00cfff"/><stop offset="0.1706" stop-color="#01fffe"/><stop offset="0.3246" stop-color="#80ff7f"/><stop offset="0.4336" stop-color="#fffe00"/><stop offset="0.5853" stop-color="#ff8000"/><stop offset="0.7204" stop-color="#ff0000"/><stop offset="0.7915" stop-color="#db0000"/><stop offset="0.8981" stop-color="#b10000"/><stop offset="0.9408" stop-color="#bc0000"/><stop offset="1" stop-color="#e70000"/></linearGradient><linearGradient id="BR55" x2="0" y2="1"><stop offset="0" stop-color="#00008a"/><stop offset="0.009479" stop-color="#0000d1"/><stop offset="0.01185" stop-color="#0000f0"/><stop offset="0.01422" stop-color="#000fff"/><stop offset="0.01896" stop-color="#004dff"/><stop offset="0.02844" stop-color="#008aff"/><stop offset="0.07583" stop-color="#00d1ff"/><stop offset="0.173" stop-color="#01fffe"/><stop offset="0.3246" stop-color="#7fff80"/><stop offset="0.4336" stop-color="#fffe00"/><stop offset="0.5853" stop-color="#ff7f00"/><stop offset="0.718" stop-color="#ff0000"/><stop offset="0.7867" stop-color="#db0000"/><stop offset="0.8981" stop-color="#b00000"/><stop offset="0.9384" stop-color="#ba0000"/><stop offset="1" stop-color="#e70000"/></linearGradient><linearGradient id="BR56" x2="0" y2="1"><stop offset="0" stop-color="#00008a"/><stop offset="0.009479" stop-color="#0000d1"/><stop offset="0.01185" stop-color="#0000f0"/><stop offset="0.01422" stop-color="#000fff"/><stop offset="0.01896" stop-color="#004dff"/><stop offset="0.02844" stop-color="#008aff"/><stop offset="0.0782" stop-color="#00d2ff"/><stop offset="0.173" stop-color="#00ffff"/><stop offset="0.1754" stop-color="#02fffd"/><stop offset="0.327" stop-color="#7fff80"/><stop offset="0.4313" stop-color="#feff01"/><stop offset="0.4336" stop-color="#fffe00"/><stop offset="0.5853" stop-color="#ff7f00"/><stop offset="0.7156" stop-color="#ff0000"/><stop offset="0.7844" stop-color="#db0000"/><stop offset="0.8957" stop-color="#af0000"/><stop offset="0.9384" stop-color="#b90000"/><stop offset="1" stop-color="#e80000"/></linearGradient><linearGradient id="BR57" x2="0" y2="1"><stop offset="0" stop-color="#00008a"/><stop offset="0.009479" stop-color="#0000d1"/><stop offset="0.01185" stop-color="#0000f0"/><stop offset="0.01422" stop-color="#000fff"/><stop offset="0.01896" stop-color="#004dff"/><stop offset="0.02844" stop-color="#008aff"/><stop offset="0.0782" stop-color="#00d1ff"/><stop offset="0.1754" stop-color="#01fffe"/><stop offset="0.3294" stop-color="#80ff7f"/><stop offset="0.4313" stop-color="#feff01"/><stop offset="0.4336" stop-color="#fffe00"/><stop offset="0.5829" stop-color="#ff8000"/><stop offset="0.7133" stop-color="#ff0000"/><stop offset="0.782" stop-color="#db0000"/><stop offset="0.8957" stop-color="#ae0000"/><stop offset="0.9384" stop-color="#b80000"/><stop offset="1" stop-color="#e80000"/></linearGradient><linearGradient id="BR58" x2="0" y2="1"><stop offset="0" stop-color="#000089"/><stop offset="0.009479" stop-color="#0000d1"/><stop offset="0.01185" stop-color="#0000f0"/><stop offset="0.01422" stop-color="#000fff"/><stop offset="0.01896" stop-color="#004cff"/><stop offset="0.02844" stop-color="#008aff"/><stop offset="0.08057" stop-color="#00d2ff"/><stop offset="0.1777" stop-color="#01fffe"/><stop offset="0.3294" stop-color="#7fff80"/><stop offset="0.4313" stop-color="#ffff00"/><stop offset="0.5829" stop-color="#ff8000"/><stop offset="0.7109" stop-color="#ff0000"/><stop offset="0.7796" stop-color="#db0000"/><stop offset="0.8957" stop-color="#ad0000"/><stop offset="0.9384" stop-color="#b80000"/><stop offset="1" stop-color="#e90000"/></linearGradient><linearGradient id="BR59" x2="0" y2="1"><stop offset="0" stop-color="#000089"/><stop offset="0.009479" stop-color="#0000d1"/><stop offset="0.01185" stop-color="#0000ef"/><stop offset="0.01422" stop-color="#000fff"/><stop offset="0.01896" stop-color="#004cff"/><stop offset="0.02844" stop-color="#008aff"/><stop offset="0.08057" stop-color="#00d1ff"/><stop offset="0.1777" stop-color="#00ffff"/><stop offset="0.1801" stop-color="#02fffd"/><stop offset="0.3318" stop-color="#7fff80"/><stop offset="0.4313" stop-color="#ffff00"/><stop offset="0.5829" stop-color="#ff7f00"/><stop offset="0.7085" stop-color="#ff0100"/><stop offset="0.7773" stop-color="#db0000"/><stop offset="0.8934" stop-color="#ad0000"/><stop offset="0.9384" stop-color="#b80000"/><stop offset="1" stop-color="#e90000"/></linearGradient><linearGradient id="BR60" x2="0" y2="1"><stop offset="0" stop-color="#000089"/><stop offset="0.009479" stop-color="#0000d0"/><stop offset="0.01185" stop-color="#0000ee"/><stop offset="0.01422" stop-color="#000eff"/><stop offset="0.01896" stop-color="#004bff"/><stop offset="0.02844" stop-color="#008aff"/><stop offset="0.08294" stop-color="#00d1ff"/><stop offset="0.1801" stop-color="#00ffff"/><stop offset="0.3341" stop-color="#80ff7f"/><stop offset="0.4313" stop-color="#ffff00"/><stop offset="0.5806" stop-color="#ff8000"/><stop offset="0.7085" stop-color="#fe0000"/><stop offset="0.7725" stop-color="#dc0000"/><stop offset="0.8934" stop-color="#ac0000"/><stop offset="0.936" stop-color="#b60000"/><stop offset="1" stop-color="#ea0000"/></linearGradient><linearGradient id="BR61" x2="0" y2="1"><stop offset="0" stop-color="#000089"/><stop offset="0.009479" stop-color="#0000d0"/><stop offset="0.01185" stop-color="#0000ed"/><stop offset="0.01422" stop-color="#000dff"/><stop offset="0.01896" stop-color="#004aff"/><stop offset="0.02844" stop-color="#008aff"/><stop offset="0.08294" stop-color="#00d0ff"/><stop offset="0.1825" stop-color="#01fffe"/><stop offset="0.3341" stop-color="#7eff81"/><stop offset="0.4313" stop-color="#fffe00"/><stop offset="0.5806" stop-color="#ff8000"/><stop offset="0.7062" stop-color="#ff0000"/><stop offset="0.7701" stop-color="#dc0000"/><stop offset="0.8934" stop-color="#ab0000"/><stop offset="0.936" stop-color="#b50000"/><stop offset="1" stop-color="#ea0000"/></linearGradient><linearGradient id="BR62" x2="0" y2="1"><stop offset="0" stop-color="#000089"/><stop offset="0.009479" stop-color="#0000cf"/><stop offset="0.01185" stop-color="#0000ec"/><stop offset="0.01422" stop-color="#000cff"/><stop offset="0.01896" stop-color="#0049ff"/><stop offset="0.02844" stop-color="#008aff"/><stop offset="0.08531" stop-color="#00d1ff"/><stop offset="0.1848" stop-color="#01fffe"/><stop offset="0.3365" stop-color="#7fff80"/><stop offset="0.4313" stop-color="#fffe00"/><stop offset="0.5806" stop-color="#ff8000"/><stop offset="0.7038" stop-color="#ff0000"/><stop offset="0.7678" stop-color="#dc0000"/><stop offset="0.8934" stop-color="#ab0000"/><stop offset="0.936" stop-color="#b50000"/><stop offset="1" stop-color="#eb0000"/></linearGradient><linearGradient id="BR63" x2="0" y2="1"><stop offset="0" stop-color="#000088"/><stop offset="0.009479" stop-color="#0000ce"/><stop offset="0.01185" stop-color="#0000eb"/><stop offset="0.01422" stop-color="#000aff"/><stop offset="0.01896" stop-color="#0047ff"/><stop offset="0.02133" stop-color="#005aff"/><stop offset="0.02844" stop-color="#008aff"/><stop offset="0.08768" stop-color="#00d2ff"/><stop offset="0.1872" stop-color="#01fffe"/><stop offset="0.3389" stop-color="#80ff7f"/><stop offset="0.4289" stop-color="#fdff02"/><stop offset="0.4313" stop-color="#fffe00"/><stop offset="0.5806" stop-color="#ff7f00"/><stop offset="0.7014" stop-color="#ff0100"/><stop offset="0.7678" stop-color="#db0000"/><stop offset="0.891" stop-color="#aa0000"/><stop offset="0.936" stop-color="#b40000"/><stop offset="1" stop-color="#ec0000"/></linearGradient><linearGradient id="BR64" x2="0" y2="1"><stop offset="0" stop-color="#000088"/><stop offset="0.009479" stop-color="#0000ce"/><stop offset="0.01185" stop-color="#0000e9"/><stop offset="0.01422" stop-color="#0009ff"/><stop offset="0.01896" stop-color="#0046ff"/><stop offset="0.02133" stop-color="#0059ff"/><stop offset="0.02844" stop-color="#008aff"/><stop offset="0.08768" stop-color="#00d0ff"/><stop offset="0.1872" stop-color="#00ffff"/><stop offset="0.1896" stop-color="#02fffd"/><stop offset="0.3389" stop-color="#7eff81"/><stop offset="0.4289" stop-color="#feff01"/><stop offset="0.4313" stop-color="#fffe00"/><stop offset="0.5782" stop-color="#ff8100"/><stop offset="0.7014" stop-color="#ff0000"/><stop offset="0.7654" stop-color="#db0000"/><stop offset="0.891" stop-color="#a90000"/><stop offset="0.936" stop-color="#b40000"/><stop offset="1" stop-color="#ec0000"/></linearGradient><linearGradient id="BR65" x2="0" y2="1"><stop offset="0" stop-color="#000088"/><stop offset="0.009479" stop-color="#0000cd"/><stop offset="0.01185" stop-color="#0000e8"/><stop offset="0.01422" stop-color="#0007ff"/><stop offset="0.01896" stop-color="#0044ff"/><stop offset="0.02133" stop-color="#0058ff"/><stop offset="0.02844" stop-color="#008aff"/><stop offset="0.09005" stop-color="#00d1ff"/><stop offset="0.1896" stop-color="#00ffff"/><stop offset="0.3412" stop-color="#7fff80"/><stop offset="0.4289" stop-color="#feff01"/><stop offset="0.4313" stop-color="#fffd00"/><stop offset="0.5782" stop-color="#ff8000"/><stop offset="0.6991" stop-color="#ff0000"/><stop offset="0.763" stop-color="#db0000"/><stop offset="0.891" stop-color="#a90000"/><stop offset="0.936" stop-color="#b30000"/><stop offset="1" stop-color="#ed0000"/></linearGradient><linearGradient id="BR66" x2="0" y2="1"><stop offset="0" stop-color="#000088"/><stop offset="0.009479" stop-color="#0000cc"/><stop offset="0.01185" stop-color="#0000e6"/><stop offset="0.01422" stop-color="#0005ff"/><stop offset="0.01896" stop-color="#0042ff"/><stop offset="0.02133" stop-color="#0058ff"/><stop offset="0.02844" stop-color="#008aff"/><stop offset="0.09242" stop-color="#00d2ff"/><stop offset="0.1919" stop-color="#01fffe"/><stop offset="0.3436" stop-color="#80ff7f"/><stop offset="0.4289" stop-color="#ffff00"/><stop offset="0.5782" stop-color="#ff8000"/><stop offset="0.6967" stop-color="#ff0100"/><stop offset="0.7607" stop-color="#db0000"/><stop offset="0.891" stop-color="#a80000"/><stop offset="0.936" stop-color="#b30000"/><stop offset="1" stop-color="#ed0000"/></linearGradient><linearGradient id="BR67" x2="0" y2="1"><stop offset="0" stop-color="#000088"/><stop offset="0.009479" stop-color="#0000cb"/><stop offset="0.01185" stop-color="#0000e4"/><stop offset="0.01422" stop-color="#0003ff"/><stop offset="0.01896" stop-color="#0040ff"/><stop offset="0.02133" stop-color="#0057ff"/><stop offset="0.02844" stop-color="#008aff"/><stop offset="0.09242" stop-color="#00d1ff"/><stop offset="0.1919" stop-color="#00ffff"/><stop offset="0.1943" stop-color="#02fffd"/><stop offset="0.3436" stop-color="#7fff80"/><stop offset="0.4289" stop-color="#ffff00"/><stop offset="0.5782" stop-color="#ff7f00"/><stop offset="0.6967" stop-color="#ff0000"/><stop offset="0.7583" stop-color="#dc0000"/><stop offset="0.8886" stop-color="#a80000"/><stop offset="0.936" stop-color="#b30000"/><stop offset="1" stop-color="#ee0000"/></linearGradient><linearGradient id="BR68" x2="0" y2="1"><stop offset="0" stop-color="#000088"/><stop offset="0.009479" stop-color="#0000ca"/><stop offset="0.01185" stop-color="#0000e2"/><stop offset="0.01422" stop-color="#0001ff"/><stop offset="0.01896" stop-color="#003eff"/><stop offset="0.02133" stop-color="#0056ff"/><stop offset="0.02844" stop-color="#008aff"/><stop offset="0.09479" stop-color="#00d1ff"/><stop offset="0.1943" stop-color="#00ffff"/><stop offset="0.346" stop-color="#80ff7f"/><stop offset="0.4289" stop-color="#ffff00"/><stop offset="0.5782" stop-color="#ff7f00"/><stop offset="0.6943" stop-color="#ff0100"/><stop offset="0.7583" stop-color="#db0000"/><stop offset="0.8886" stop-color="#a70000"/><stop offset="0.9336" stop-color="#b10000"/><stop offset="1" stop-color="#ee0000"/></linearGradient><linearGradient id="BR69" x2="0" y2="1"><stop offset="0" stop-color="#000087"/><stop offset="0.009479" stop-color="#0000c9"/><stop offset="0.01185" stop-color="#0000e0"/><stop offset="0.01422" stop-color="#0000fe"/><stop offset="0.01896" stop-color="#003cff"/><stop offset="0.02133" stop-color="#0055ff"/><stop offset="0.02844" stop-color="#008aff"/><stop offset="0.09716" stop-color="#00d2ff"/><stop offset="0.1967" stop-color="#01fffe"/><stop offset="0.346" stop-color="#7fff80"/><stop offset="0.4289" stop-color="#ffff00"/><stop offset="0.5758" stop-color="#ff8000"/><stop offset="0.6943" stop-color="#ff0000"/><stop offset="0.7559" stop-color="#db0000"/><stop offset="0.8886" stop-color="#a60000"/><stop offset="0.9336" stop-color="#b00000"/><stop offset="1" stop-color="#ee0000"/></linearGradient><linearGradient id="BR70" x2="0" y2="1"><stop offset="0" stop-color="#000087"/><stop offset="0.009479" stop-color="#0000c7"/><stop offset="0.01185" stop-color="#0000dd"/><stop offset="0.01422" stop-color="#0000fc"/><stop offset="0.01659" stop-color="#001bff"/><stop offset="0.01896" stop-color="#003aff"/><stop offset="0.02133" stop-color="#0053ff"/><stop offset="0.02844" stop-color="#008aff"/><stop offset="0.09716" stop-color="#00d1ff"/><stop offset="0.1967" stop-color="#00ffff"/><stop offset="0.1991" stop-color="#02fffd"/><stop offset="0.3483" stop-color="#80ff7f"/><stop offset="0.4289" stop-color="#fffe00"/><stop offset="0.5758" stop-color="#ff8000"/><stop offset="0.6919" stop-color="#ff0100"/><stop offset="0.7559" stop-color="#db0000"/><stop offset="0.8886" stop-color="#a60000"/><stop offset="0.9336" stop-color="#b00000"/><stop offset="1" stop-color="#ef0000"/></linearGradient><linearGradient id="BR71" x2="0" y2="1"><stop offset="0" stop-color="#000087"/><stop offset="0.009479" stop-color="#0000c6"/><stop offset="0.01185" stop-color="#0000db"/><stop offset="0.01422" stop-color="#0000fa"/><stop offset="0.01659" stop-color="#0019ff"/><stop offset="0.01896" stop-color="#0038ff"/><stop offset="0.02133" stop-color="#0052ff"/><stop offset="0.02844" stop-color="#008aff"/><stop offset="0.09953" stop-color="#00d1ff"/><stop offset="0.1991" stop-color="#00ffff"/><stop offset="0.3483" stop-color="#7fff80"/><stop offset="0.4265" stop-color="#fdff02"/><stop offset="0.4289" stop-color="#fffe00"/><stop offset="0.5758" stop-color="#ff8000"/><stop offset="0.6919" stop-color="#ff0000"/><stop offset="0.7536" stop-color="#db0000"/><stop offset="0.8886" stop-color="#a50000"/><stop offset="0.9336" stop-color="#af0000"/><stop offset="1" stop-color="#ef0000"/></linearGradient><linearGradient id="BR72" x2="0" y2="1"><stop offset="0" stop-color="#000087"/><stop offset="0.009479" stop-color="#0000c5"/><stop offset="0.01185" stop-color="#0000d9"/><stop offset="0.01422" stop-color="#0000f7"/><stop offset="0.01659" stop-color="#0017ff"/><stop offset="0.02133" stop-color="#0051ff"/><stop offset="0.02844" stop-color="#008aff"/><stop offset="0.09953" stop-color="#00d0ff"/><stop offset="0.2014" stop-color="#01fffe"/><stop offset="0.3483" stop-color="#7fff80"/><stop offset="0.4265" stop-color="#fdff02"/><stop offset="0.4289" stop-color="#fffe00"/><stop offset="0.5758" stop-color="#ff7f00"/><stop offset="0.6896" stop-color="#ff0100"/><stop offset="0.7512" stop-color="#dc0000"/><stop offset="0.8863" stop-color="#a50000"/><stop offset="0.9336" stop-color="#af0000"/><stop offset="1" stop-color="#ef0000"/></linearGradient><linearGradient id="BR73" x2="0" y2="1"><stop offset="0" stop-color="#000087"/><stop offset="0.009479" stop-color="#0000c4"/><stop offset="0.01185" stop-color="#0000d7"/><stop offset="0.01422" stop-color="#0000f5"/><stop offset="0.01659" stop-color="#0015ff"/><stop offset="0.02133" stop-color="#0050ff"/><stop offset="0.02844" stop-color="#008aff"/><stop offset="0.1019" stop-color="#00d1ff"/><stop offset="0.2014" stop-color="#00ffff"/><stop offset="0.3507" stop-color="#81ff7e"/><stop offset="0.4265" stop-color="#feff01"/><stop offset="0.4289" stop-color="#fffe00"/><stop offset="0.5758" stop-color="#ff7e00"/><stop offset="0.6896" stop-color="#ff0000"/><stop offset="0.7512" stop-color="#db0000"/><stop offset="0.8863" stop-color="#a50000"/><stop offset="0.9336" stop-color="#ae0000"/><stop offset="1" stop-color="#ef0000"/></linearGradient><linearGradient id="BR74" x2="0" y2="1"><stop offset="0" stop-color="#000087"/><stop offset="0.01185" stop-color="#0000d4"/><stop offset="0.01422" stop-color="#0000f3"/><stop offset="0.01659" stop-color="#0012ff"/><stop offset="0.02133" stop-color="#004eff"/><stop offset="0.02844" stop-color="#008aff"/><stop offset="0.1019" stop-color="#00d0ff"/><stop offset="0.2038" stop-color="#01fffe"/><stop offset="0.3507" stop-color="#80ff7f"/><stop offset="0.4265" stop-color="#feff01"/><stop offset="0.4289" stop-color="#fffd00"/><stop offset="0.5735" stop-color="#ff8000"/><stop offset="0.6896" stop-color="#fe0000"/><stop offset="0.7512" stop-color="#db0000"/><stop offset="0.8863" stop-color="#a40000"/><stop offset="0.9336" stop-color="#ae0000"/><stop offset="1" stop-color="#f00000"/></linearGradient><linearGradient id="BR75" x2="0" y2="1"><stop offset="0" stop-color="#000086"/><stop offset="0.01185" stop-color="#0000d2"/><stop offset="0.01422" stop-color="#0000f1"/><stop offset="0.01659" stop-color="#0010ff"/><stop offset="0.02133" stop-color="#004dff"/><stop offset="0.02844" stop-color="#008aff"/><stop offset="0.1043" stop-color="#00d1ff"/><stop offset="0.2038" stop-color="#00ffff"/><stop offset="0.3507" stop-color="#80ff7f"/><stop offset="0.4265" stop-color="#ffff00"/><stop offset="0.5735" stop-color="#ff8000"/><stop offset="0.6872" stop-color="#ff0000"/><stop offset="0.7488" stop-color="#dc0000"/><stop offset="0.8863" stop-color="#a30000"/><stop offset="0.9336" stop-color="#ae0000"/><stop offset="1" stop-color="#f00000"/></linearGradient><linearGradient id="BR76" x2="0" y2="1"><stop offset="0" stop-color="#000086"/><stop offset="0.01185" stop-color="#0000d1"/><stop offset="0.01422" stop-color="#0000ef"/><stop offset="0.01659" stop-color="#000eff"/><stop offset="0.02133" stop-color="#004cff"/><stop offset="0.02844" stop-color="#008aff"/><stop offset="0.1043" stop-color="#00d1ff"/><stop offset="0.2038" stop-color="#00ffff"/><stop offset="0.2062" stop-color="#02fffd"/><stop offset="0.3507" stop-color="#80ff80"/><stop offset="0.4265" stop-color="#ffff00"/><stop offset="0.5735" stop-color="#ff7f00"/><stop offset="0.6872" stop-color="#ff0000"/><stop offset="0.7488" stop-color="#db0000"/><stop offset="0.8555" stop-color="#b30000"/><stop offset="0.8863" stop-color="#a30000"/><stop offset="0.9336" stop-color="#ad0000"/><stop offset="1" stop-color="#f00000"/></linearGradient><linearGradient id="BR77" x2="0" y2="1"><stop offset="0" stop-color="#000086"/><stop offset="0.01185" stop-color="#0000d0"/><stop offset="0.01422" stop-color="#0000ed"/><stop offset="0.01659" stop-color="#000cff"/><stop offset="0.02133" stop-color="#004aff"/><stop offset="0.02844" stop-color="#0089ff"/><stop offset="0.1066" stop-color="#00d1ff"/><stop offset="0.2062" stop-color="#01fffe"/><stop offset="0.3507" stop-color="#80ff80"/><stop offset="0.4265" stop-color="#ffff00"/><stop offset="0.5735" stop-color="#ff7f00"/><stop offset="0.6872" stop-color="#fe0000"/><stop offset="0.7488" stop-color="#db0000"/><stop offset="0.8555" stop-color="#b30000"/><stop offset="0.8863" stop-color="#a30000"/><stop offset="0.9336" stop-color="#ad0000"/><stop offset="1" stop-color="#f00000"/></linearGradient><linearGradient id="BR78" x2="0" y2="1"><stop offset="0" stop-color="#000086"/><stop offset="0.01185" stop-color="#0000ce"/><stop offset="0.01422" stop-color="#0000ea"/><stop offset="0.01659" stop-color="#000aff"/><stop offset="0.02133" stop-color="#0048ff"/><stop offset="0.02844" stop-color="#0089ff"/><stop offset="0.1066" stop-color="#00d1ff"/><stop offset="0.2062" stop-color="#00ffff"/><stop offset="0.3507" stop-color="#80ff80"/><stop offset="0.4265" stop-color="#fffe00"/><stop offset="0.5711" stop-color="#ff8000"/><stop offset="0.6848" stop-color="#ff0000"/><stop offset="0.7464" stop-color="#dc0000"/><stop offset="0.8531" stop-color="#b30000"/><stop offset="0.8863" stop-color="#a20000"/><stop offset="0.9336" stop-color="#ac0000"/><stop offset="1" stop-color="#f00000"/></linearGradient><linearGradient id="BR79" x2="0" y2="1"><stop offset="0" stop-color="#000086"/><stop offset="0.01185" stop-color="#0000cd"/><stop offset="0.01422" stop-color="#0000e8"/><stop offset="0.01659" stop-color="#0008ff"/><stop offset="0.02133" stop-color="#0046ff"/><stop offset="0.0237" stop-color="#005dff"/><stop offset="0.02844" stop-color="#0088ff"/><stop offset="0.03081" stop-color="#008cff"/><stop offset="0.109" stop-color="#00d2ff"/><stop offset="0.2085" stop-color="#01fffe"/><stop offset="0.3507" stop-color="#80ff80"/><stop offset="0.4242" stop-color="#fdff02"/><stop offset="0.4265" stop-color="#fffe00"/><stop offset="0.5711" stop-color="#ff8000"/><stop offset="0.6848" stop-color="#ff0000"/><stop offset="0.7464" stop-color="#db0000"/><stop offset="0.8531" stop-color="#b30000"/><stop offset="0.8863" stop-color="#a20000"/><stop offset="0.9336" stop-color="#ac0000"/><stop offset="1" stop-color="#f00000"/></linearGradient><linearGradient id="BR80" x2="0" y2="1"><stop offset="0" stop-color="#000085"/><stop offset="0.01185" stop-color="#0000cc"/><stop offset="0.01422" stop-color="#0000e6"/><stop offset="0.01659" stop-color="#0006ff"/><stop offset="0.02133" stop-color="#0043ff"/><stop offset="0.0237" stop-color="#005cff"/><stop offset="0.02844" stop-color="#0088ff"/><stop offset="0.03081" stop-color="#008cff"/><stop offset="0.109" stop-color="#00d1ff"/><stop offset="0.2085" stop-color="#01fffe"/><stop offset="0.3507" stop-color="#80ff80"/><stop offset="0.4242" stop-color="#fdff02"/><stop offset="0.4265" stop-color="#fffe00"/><stop offset="0.5711" stop-color="#ff7f00"/><stop offset="0.6848" stop-color="#fe0000"/><stop offset="0.7464" stop-color="#db0000"/><stop offset="0.8507" stop-color="#b30000"/><stop offset="0.8863" stop-color="#a20000"/><stop offset="0.9336" stop-color="#ac0000"/><stop offset="1" stop-color="#f00000"/></linearGradient><linearGradient id="BR81" x2="0" y2="1"><stop offset="0" stop-color="#000085"/><stop offset="0.01185" stop-color="#0000cb"/><stop offset="0.01422" stop-color="#0000e3"/><stop offset="0.01659" stop-color="#0003ff"/><stop offset="0.02133" stop-color="#0041ff"/><stop offset="0.0237" stop-color="#005bff"/><stop offset="0.02844" stop-color="#0086ff"/><stop offset="0.03081" stop-color="#008bff"/><stop offset="0.109" stop-color="#00d0ff"/><stop offset="0.2085" stop-color="#00ffff"/><stop offset="0.2109" stop-color="#02fffd"/><stop offset="0.3507" stop-color="#80ff80"/><stop offset="0.4242" stop-color="#feff01"/><stop offset="0.4265" stop-color="#fffe00"/><stop offset="0.5711" stop-color="#ff7f00"/><stop offset="0.6825" stop-color="#ff0000"/><stop offset="0.7464" stop-color="#db0000"/><stop offset="0.8507" stop-color="#b30000"/><stop offset="0.8863" stop-color="#a10000"/><stop offset="0.9336" stop-color="#ab0000"/><stop offset="1" stop-color="#f00000"/></linearGradient><linearGradient id="BR82" x2="0" y2="1"><stop offset="0" stop-color="#000085"/><stop offset="0.01185" stop-color="#0000ca"/><stop offset="0.01422" stop-color="#0000e1"/><stop offset="0.01659" stop-color="#0001ff"/><stop offset="0.02133" stop-color="#003fff"/><stop offset="0.0237" stop-color="#0059ff"/><stop offset="0.02844" stop-color="#0085ff"/><stop offset="0.03081" stop-color="#008bff"/><stop offset="0.1114" stop-color="#00d1ff"/><stop offset="0.2109" stop-color="#01fffe"/><stop offset="0.3507" stop-color="#80ff80"/><stop offset="0.4242" stop-color="#feff01"/><stop offset="0.4265" stop-color="#fffd00"/><stop offset="0.5687" stop-color="#ff8000"/><stop offset="0.6825" stop-color="#ff0000"/><stop offset="0.7441" stop-color="#dc0000"/><stop offset="0.8483" stop-color="#b30000"/><stop offset="0.8863" stop-color="#a10000"/><stop offset="0.9336" stop-color="#ab0000"/><stop offset="1" stop-color="#f00000"/></linearGradient><linearGradient id="BR83" x2="0" y2="1"><stop offset="0" stop-color="#000085"/><stop offset="0.01185" stop-color="#0000c9"/><stop offset="0.01422" stop-color="#0000de"/><stop offset="0.01659" stop-color="#0000fe"/><stop offset="0.01896" stop-color="#001eff"/><stop offset="0.02133" stop-color="#003dff"/><stop offset="0.0237" stop-color="#0058ff"/><stop offset="0.02844" stop-color="#0084ff"/><stop offset="0.03081" stop-color="#008bff"/><stop offset="0.1114" stop-color="#00d1ff"/><stop offset="0.2109" stop-color="#00ffff"/><stop offset="0.3507" stop-color="#80ff80"/><stop offset="0.4242" stop-color="#ffff00"/><stop offset="0.5687" stop-color="#ff8000"/><stop offset="0.6825" stop-color="#fe0000"/><stop offset="0.7441" stop-color="#db0000"/><stop offset="0.8483" stop-color="#b30000"/><stop offset="0.8839" stop-color="#a10000"/><stop offset="0.9336" stop-color="#aa0000"/><stop offset="1" stop-color="#f00000"/></linearGradient><linearGradient id="BR84" x2="0" y2="1"><stop offset="0" stop-color="#000085"/><stop offset="0.01185" stop-color="#0000c8"/><stop offset="0.01422" stop-color="#0000dc"/><stop offset="0.01659" stop-color="#0000fb"/><stop offset="0.01896" stop-color="#001bff"/><stop offset="0.02133" stop-color="#003bff"/><stop offset="0.0237" stop-color="#0056ff"/><stop offset="0.02844" stop-color="#0082ff"/><stop offset="0.03081" stop-color="#008bff"/><stop offset="0.1137" stop-color="#00d2ff"/><stop offset="0.2109" stop-color="#00ffff"/><stop offset="0.2133" stop-color="#02fffd"/><stop offset="0.3507" stop-color="#80ff80"/><stop offset="0.4242" stop-color="#ffff00"/><stop offset="0.5687" stop-color="#ff7f00"/><stop offset="0.6801" stop-color="#ff0100"/><stop offset="0.7441" stop-color="#db0000"/><stop offset="0.846" stop-color="#b30000"/><stop offset="0.8839" stop-color="#a00000"/><stop offset="0.9336" stop-color="#aa0000"/><stop offset="1" stop-color="#f00000"/></linearGradient><linearGradient id="BR85" x2="0" y2="1"><stop offset="0" stop-color="#000085"/><stop offset="0.01185" stop-color="#0000c7"/><stop offset="0.01422" stop-color="#0000d9"/><stop offset="0.01659" stop-color="#0000f8"/><stop offset="0.01896" stop-color="#0019ff"/><stop offset="0.02133" stop-color="#0038ff"/><stop offset="0.0237" stop-color="#0054ff"/><stop offset="0.02844" stop-color="#0080ff"/><stop offset="0.03081" stop-color="#008bff"/><stop offset="0.1137" stop-color="#00d1ff"/><stop offset="0.2133" stop-color="#01fffe"/><stop offset="0.3507" stop-color="#80ff80"/><stop offset="0.4242" stop-color="#ffff00"/><stop offset="0.5687" stop-color="#ff7f00"/><stop offset="0.6801" stop-color="#ff0000"/><stop offset="0.7441" stop-color="#db0000"/><stop offset="0.846" stop-color="#b20000"/><stop offset="0.8839" stop-color="#a00000"/><stop offset="0.9336" stop-color="#aa0000"/><stop offset="1" stop-color="#f00000"/></linearGradient><linearGradient id="BR86" x2="0" y2="1"><stop offset="0" stop-color="#000084"/><stop offset="0.01185" stop-color="#0000c6"/><stop offset="0.01422" stop-color="#0000d6"/><stop offset="0.01659" stop-color="#0000f6"/><stop offset="0.01896" stop-color="#0016ff"/><stop offset="0.0237" stop-color="#0053ff"/><stop offset="0.02844" stop-color="#007eff"/><stop offset="0.03081" stop-color="#008bff"/><stop offset="0.1137" stop-color="#00d0ff"/><stop offset="0.2133" stop-color="#00ffff"/><stop offset="0.3507" stop-color="#80ff80"/><stop offset="0.4242" stop-color="#fffe00"/><stop offset="0.5664" stop-color="#ff8100"/><stop offset="0.6801" stop-color="#fe0000"/><stop offset="0.7417" stop-color="#dc0000"/><stop offset="0.8436" stop-color="#b30000"/><stop offset="0.8839" stop-color="#9f0000"/><stop offset="0.9336" stop-color="#a90000"/><stop offset="1" stop-color="#f00000"/></linearGradient><linearGradient id="BR87" x2="0" y2="1"><stop offset="0" stop-color="#000084"/><stop offset="0.01422" stop-color="#0000d3"/><stop offset="0.01659" stop-color="#0000f3"/><stop offset="0.01896" stop-color="#0014ff"/><stop offset="0.0237" stop-color="#0051ff"/><stop offset="0.02844" stop-color="#007cff"/><stop offset="0.03081" stop-color="#008aff"/><stop offset="0.1161" stop-color="#00d1ff"/><stop offset="0.2133" stop-color="#00ffff"/><stop offset="0.2156" stop-color="#02fffd"/><stop offset="0.3507" stop-color="#80ff80"/><stop offset="0.4242" stop-color="#fffe00"/><stop offset="0.5664" stop-color="#ff8000"/><stop offset="0.6777" stop-color="#ff0100"/><stop offset="0.7417" stop-color="#db0000"/><stop offset="0.8436" stop-color="#b20000"/><stop offset="0.8839" stop-color="#9f0000"/><stop offset="0.9336" stop-color="#a90000"/><stop offset="1" stop-color="#f00000"/></linearGradient><linearGradient id="BR88" x2="0" y2="1"><stop offset="0" stop-color="#000084"/><stop offset="0.01422" stop-color="#0000d1"/><stop offset="0.01659" stop-color="#0000f0"/><stop offset="0.01896" stop-color="#0011ff"/><stop offset="0.0237" stop-color="#0050ff"/><stop offset="0.02844" stop-color="#007aff"/><stop offset="0.03081" stop-color="#008aff"/><stop offset="0.1161" stop-color="#00d1ff"/><stop offset="0.2156" stop-color="#01fffe"/><stop offset="0.3507" stop-color="#80ff80"/><stop offset="0.4218" stop-color="#fdff02"/><stop offset="0.4242" stop-color="#fffe00"/><stop offset="0.5664" stop-color="#ff8000"/><stop offset="0.6777" stop-color="#ff0000"/><stop offset="0.7417" stop-color="#db0000"/><stop offset="0.8412" stop-color="#b30000"/><stop offset="0.8839" stop-color="#9e0000"/><stop offset="0.9336" stop-color="#a90000"/><stop offset="1" stop-color="#f00000"/></linearGradient><linearGradient id="BR89" x2="0" y2="1"><stop offset="0" stop-color="#000084"/><stop offset="0.01422" stop-color="#0000d0"/><stop offset="0.01659" stop-color="#0000ed"/><stop offset="0.01896" stop-color="#000eff"/><stop offset="0.0237" stop-color="#004eff"/><stop offset="0.02844" stop-color="#0078ff"/><stop offset="0.03081" stop-color="#008aff"/><stop offset="0.1185" stop-color="#00d2ff"/><stop offset="0.2156" stop-color="#00ffff"/><stop offset="0.3507" stop-color="#80ff80"/><stop offset="0.4218" stop-color="#fdff02"/><stop offset="0.4242" stop-color="#fffe00"/><stop offset="0.5664" stop-color="#ff7f00"/><stop offset="0.6777" stop-color="#ff0000"/><stop offset="0.7417" stop-color="#db0000"/><stop offset="0.8412" stop-color="#b20000"/><stop offset="0.8839" stop-color="#9e0000"/><stop offset="0.9336" stop-color="#a80000"/><stop offset="1" stop-color="#f00000"/></linearGradient><linearGradient id="BR90" x2="0" y2="1"><stop offset="0" stop-color="#000084"/><stop offset="0.01422" stop-color="#0000ce"/><stop offset="0.01659" stop-color="#0000ea"/><stop offset="0.01896" stop-color="#000cff"/><stop offset="0.0237" stop-color="#004cff"/><stop offset="0.03081" stop-color="#008aff"/><stop offset="0.1185" stop-color="#00d1ff"/><stop offset="0.2156" stop-color="#00ffff"/><stop offset="0.218" stop-color="#02fffd"/><stop offset="0.3507" stop-color="#80ff80"/><stop offset="0.4218" stop-color="#feff01"/><stop offset="0.4242" stop-color="#fffe00"/><stop offset="0.5664" stop-color="#ff7e00"/><stop offset="0.6777" stop-color="#fe0000"/><stop offset="0.7417" stop-color="#db0000"/><stop offset="0.8389" stop-color="#b30000"/><stop offset="0.8839" stop-color="#9e0000"/><stop offset="0.9336" stop-color="#a80000"/><stop offset="1" stop-color="#f00000"/></linearGradient><linearGradient id="BR91" x2="0" y2="1"><stop offset="0" stop-color="#000083"/><stop offset="0.01422" stop-color="#0000cd"/><stop offset="0.01659" stop-color="#0000e7"/><stop offset="0.01896" stop-color="#0009ff"/><stop offset="0.0237" stop-color="#004aff"/><stop offset="0.03081" stop-color="#0088ff"/><stop offset="0.03318" stop-color="#008bff"/><stop offset="0.1185" stop-color="#00d0ff"/><stop offset="0.218" stop-color="#01fffe"/><stop offset="0.3507" stop-color="#80ff80"/><stop offset="0.4218" stop-color="#feff01"/><stop offset="0.4242" stop-color="#fffd00"/><stop offset="0.564" stop-color="#ff8000"/><stop offset="0.6754" stop-color="#ff0100"/><stop offset="0.7393" stop-color="#dc0000"/><stop offset="0.8839" stop-color="#9d0000"/><stop offset="0.9336" stop-color="#a80000"/><stop offset="1" stop-color="#f00000"/></linearGradient><linearGradient id="BR92" x2="0" y2="1"><stop offset="0" stop-color="#000083"/><stop offset="0.01422" stop-color="#0000cc"/><stop offset="0.01659" stop-color="#0000e4"/><stop offset="0.01896" stop-color="#0006ff"/><stop offset="0.0237" stop-color="#0047ff"/><stop offset="0.03081" stop-color="#0086ff"/><stop offset="0.03318" stop-color="#008bff"/><stop offset="0.1209" stop-color="#00d1ff"/><stop offset="0.218" stop-color="#00ffff"/><stop offset="0.3507" stop-color="#80ff80"/><stop offset="0.4218" stop-color="#ffff00"/><stop offset="0.564" stop-color="#ff8000"/><stop offset="0.6754" stop-color="#ff0000"/><stop offset="0.7393" stop-color="#db0000"/><stop offset="0.8839" stop-color="#9d0000"/><stop offset="0.9336" stop-color="#a70000"/><stop offset="1" stop-color="#f00000"/></linearGradient><linearGradient id="BR93" x2="0" y2="1"><stop offset="0" stop-color="#000083"/><stop offset="0.01422" stop-color="#0000cb"/><stop offset="0.01659" stop-color="#0000e1"/><stop offset="0.01896" stop-color="#0003ff"/><stop offset="0.0237" stop-color="#0045ff"/><stop offset="0.02607" stop-color="#005bff"/><stop offset="0.03081" stop-color="#0083ff"/><stop offset="0.03318" stop-color="#008bff"/><stop offset="0.1209" stop-color="#00d1ff"/><stop offset="0.218" stop-color="#00ffff"/><stop offset="0.2204" stop-color="#02fffd"/><stop offset="0.3507" stop-color="#80ff80"/><stop offset="0.4218" stop-color="#ffff00"/><stop offset="0.564" stop-color="#ff7f00"/><stop offset="0.6754" stop-color="#ff0000"/><stop offset="0.7393" stop-color="#db0000"/><stop offset="0.8839" stop-color="#9d0000"/><stop offset="0.9336" stop-color="#a70000"/><stop offset="1" stop-color="#f00000"/></linearGradient><linearGradient id="BR94" x2="0" y2="1"><stop offset="0" stop-color="#000083"/><stop offset="0.01422" stop-color="#0000ca"/><stop offset="0.01659" stop-color="#0000dd"/><stop offset="0.01896" stop-color="#0000fe"/><stop offset="0.0237" stop-color="#0042ff"/><stop offset="0.02607" stop-color="#005aff"/><stop offset="0.03081" stop-color="#0080ff"/><stop offset="0.03318" stop-color="#008bff"/><stop offset="0.1232" stop-color="#00d2ff"/><stop offset="0.2204" stop-color="#01fffe"/><stop offset="0.3507" stop-color="#80ff80"/><stop offset="0.4218" stop-color="#ffff00"/><stop offset="0.564" stop-color="#ff7f00"/><stop offset="0.6754" stop-color="#fe0000"/><stop offset="0.7393" stop-color="#db0000"/><stop offset="0.8839" stop-color="#9d0000"/><stop offset="0.9336" stop-color="#a70000"/><stop offset="1" stop-color="#f00000"/></linearGradient><linearGradient id="BR95" x2="0" y2="1"><stop offset="0" stop-color="#000083"/><stop offset="0.01422" stop-color="#0000c8"/><stop offset="0.01659" stop-color="#0000da"/><stop offset="0.01896" stop-color="#0000fb"/><stop offset="0.02133" stop-color="#001eff"/><stop offset="0.0237" stop-color="#003fff"/><stop offset="0.02607" stop-color="#0058ff"/><stop offset="0.03081" stop-color="#007eff"/><stop offset="0.03318" stop-color="#008aff"/><stop offset="0.1232" stop-color="#00d1ff"/><stop offset="0.2204" stop-color="#01fffe"/><stop offset="0.3507" stop-color="#80ff80"/><stop offset="0.4218" stop-color="#fffe00"/><stop offset="0.5616" stop-color="#ff8100"/><stop offset="0.673" stop-color="#ff0100"/><stop offset="0.7393" stop-color="#db0000"/><stop offset="0.8839" stop-color="#9c0000"/><stop offset="0.9336" stop-color="#a60000"/><stop offset="1" stop-color="#f00000"/></linearGradient><linearGradient id="BR96" x2="0" y2="1"><stop offset="0" stop-color="#000083"/><stop offset="0.01422" stop-color="#0000c7"/><stop offset="0.01659" stop-color="#0000d6"/><stop offset="0.01896" stop-color="#0000f8"/><stop offset="0.02133" stop-color="#001bff"/><stop offset="0.0237" stop-color="#003cff"/><stop offset="0.02607" stop-color="#0056ff"/><stop offset="0.03081" stop-color="#007bff"/><stop offset="0.03318" stop-color="#008aff"/><stop offset="0.1232" stop-color="#00d1ff"/><stop offset="0.2204" stop-color="#00ffff"/><stop offset="0.2227" stop-color="#02fffd"/><stop offset="0.3507" stop-color="#80ff80"/><stop offset="0.4218" stop-color="#fffe00"/><stop offset="0.5616" stop-color="#ff8000"/><stop offset="0.673" stop-color="#ff0000"/><stop offset="0.7393" stop-color="#db0000"/><stop offset="0.8839" stop-color="#9c0000"/><stop offset="0.9336" stop-color="#a60000"/><stop offset="1" stop-color="#f00000"/></linearGradient><linearGradient id="BR97" x2="0" y2="1"><stop offset="0" stop-color="#000082"/><stop offset="0.01659" stop-color="#0000d2"/><stop offset="0.01896" stop-color="#0000f4"/><stop offset="0.02133" stop-color="#0017ff"/><stop offset="0.0237" stop-color="#0039ff"/><stop offset="0.02607" stop-color="#0054ff"/><stop offset="0.03318" stop-color="#008aff"/><stop offset="0.1256" stop-color="#00d2ff"/><stop offset="0.2204" stop-color="#00ffff"/><stop offset="0.2227" stop-color="#02fffd"/><stop offset="0.3507" stop-color="#80ff80"/><stop offset="0.4194" stop-color="#fdff02"/><stop offset="0.4218" stop-color="#fffe00"/><stop offset="0.5616" stop-color="#ff8000"/><stop offset="0.673" stop-color="#ff0000"/><stop offset="0.737" stop-color="#dc0000"/><stop offset="0.8839" stop-color="#9c0000"/><stop offset="0.9336" stop-color="#a60000"/><stop offset="1" stop-color="#f00000"/></linearGradient><linearGradient id="BR98" x2="0" y2="1"><stop offset="0" stop-color="#000082"/><stop offset="0.01659" stop-color="#0000d0"/><stop offset="0.01896" stop-color="#0000f1"/><stop offset="0.02133" stop-color="#0014ff"/><stop offset="0.0237" stop-color="#0036ff"/><stop offset="0.02607" stop-color="#0053ff"/><stop offset="0.03318" stop-color="#0088ff"/><stop offset="0.03555" stop-color="#008bff"/><stop offset="0.1256" stop-color="#00d1ff"/><stop offset="0.2227" stop-color="#01fffe"/><stop offset="0.3507" stop-color="#80ff80"/><stop offset="0.4194" stop-color="#fdff02"/><stop offset="0.4218" stop-color="#fffe00"/><stop offset="0.5616" stop-color="#ff7f00"/><stop offset="0.673" stop-color="#fe0000"/><stop offset="0.737" stop-color="#db0000"/><stop offset="0.8815" stop-color="#9c0000"/><stop offset="0.9336" stop-color="#a50000"/><stop offset="1" stop-color="#f00000"/></linearGradient><linearGradient id="BR99" x2="0" y2="1"><stop offset="0" stop-color="#000082"/><stop offset="0.01659" stop-color="#0000cf"/><stop offset="0.01896" stop-color="#0000ed"/><stop offset="0.02133" stop-color="#0011ff"/><stop offset="0.0237" stop-color="#0033ff"/><stop offset="0.02607" stop-color="#0051ff"/><stop offset="0.03318" stop-color="#0085ff"/><stop offset="0.03555" stop-color="#008bff"/><stop offset="0.1256" stop-color="#00d1ff"/><stop offset="0.2227" stop-color="#01fffe"/><stop offset="0.3507" stop-color="#80ff80"/><stop offset="0.4194" stop-color="#feff01"/><stop offset="0.4218" stop-color="#fffe00"/><stop offset="0.5616" stop-color="#ff7f00"/><stop offset="0.6706" stop-color="#ff0100"/><stop offset="0.673" stop-color="#fe0000"/><stop offset="0.737" stop-color="#db0000"/><stop offset="0.8815" stop-color="#9b0000"/><stop offset="0.9336" stop-color="#a50000"/><stop offset="1" stop-color="#f00000"/></linearGradient><linearGradient id="BR100" x2="0" y2="1"><stop offset="0" stop-color="#000082"/><stop offset="0.01659" stop-color="#0000ce"/><stop offset="0.01896" stop-color="#0000e9"/><stop offset="0.02133" stop-color="#000dff"/><stop offset="0.0237" stop-color="#0030ff"/><stop offset="0.02607" stop-color="#0050ff"/><stop offset="0.03318" stop-color="#0082ff"/><stop offset="0.03555" stop-color="#008bff"/><stop offset="0.128" stop-color="#00d1ff"/><stop offset="0.2227" stop-color="#00ffff"/><stop offset="0.2251" stop-color="#02fffd"/><stop offset="0.3507" stop-color="#80ff80"/><stop offset="0.4194" stop-color="#feff01"/><stop offset="0.4218" stop-color="#fffd00"/><stop offset="0.5592" stop-color="#ff8100"/><stop offset="0.6706" stop-color="#ff0100"/><stop offset="0.737" stop-color="#db0000"/><stop offset="0.8815" stop-color="#9b0000"/><stop offset="0.9336" stop-color="#a50000"/><stop offset="1" stop-color="#f00000"/></linearGradient><linearGradient id="BR101" x2="0" y2="1"><stop offset="0" stop-color="#000082"/><stop offset="0.01659" stop-color="#0000cd"/><stop offset="0.01896" stop-color="#0000e5"/><stop offset="0.02133" stop-color="#000aff"/><stop offset="0.02607" stop-color="#004eff"/><stop offset="0.03318" stop-color="#007fff"/><stop offset="0.03555" stop-color="#008aff"/><stop offset="0.128" stop-color="#00d1ff"/><stop offset="0.2227" stop-color="#00ffff"/><stop offset="0.2251" stop-color="#02fffd"/><stop offset="0.3507" stop-color="#80ff80"/><stop offset="0.4194" stop-color="#feff01"/><stop offset="0.5592" stop-color="#ff8000"/><stop offset="0.6706" stop-color="#ff0000"/><stop offset="0.737" stop-color="#db0000"/><stop offset="0.8815" stop-color="#9b0000"/><stop offset="0.9336" stop-color="#a50000"/><stop offset="1" stop-color="#f00000"/></linearGradient><linearGradient id="BR102" x2="0" y2="1"><stop offset="0" stop-color="#000081"/><stop offset="0.01659" stop-color="#0000cb"/><stop offset="0.01896" stop-color="#0000e1"/><stop offset="0.02133" stop-color="#0006ff"/><stop offset="0.02607" stop-color="#004dff"/><stop offset="0.03318" stop-color="#007dff"/><stop offset="0.03555" stop-color="#008aff"/><stop offset="0.128" stop-color="#00d0ff"/><stop offset="0.2251" stop-color="#01fffe"/><stop offset="0.3507" stop-color="#80ff80"/><stop offset="0.4194" stop-color="#ffff00"/><stop offset="0.5592" stop-color="#ff8000"/><stop offset="0.6706" stop-color="#ff0000"/><stop offset="0.737" stop-color="#db0000"/><stop offset="0.8815" stop-color="#9b0000"/><stop offset="0.9336" stop-color="#a50000"/><stop offset="1" stop-color="#f00000"/></linearGradient><linearGradient id="BR103" x2="0" y2="1"><stop offset="0" stop-color="#000081"/><stop offset="0.01659" stop-color="#0000ca"/><stop offset="0.01896" stop-color="#0000dd"/><stop offset="0.02133" stop-color="#0002ff"/><stop offset="0.02607" stop-color="#004aff"/><stop offset="0.03555" stop-color="#008aff"/><stop offset="0.1303" stop-color="#00d1ff"/><stop offset="0.2251" stop-color="#01fffe"/><stop offset="0.3507" stop-color="#80ff80"/><stop offset="0.4194" stop-color="#ffff00"/><stop offset="0.5592" stop-color="#ff7f00"/><stop offset="0.6706" stop-color="#ff0000"/><stop offset="0.737" stop-color="#db0000"/><stop offset="0.8223" stop-color="#b30000"/><stop offset="0.8815" stop-color="#9a0000"/><stop offset="0.9336" stop-color="#a40000"/><stop offset="1" stop-color="#f00000"/></linearGradient><linearGradient id="BR104" x2="0" y2="1"><stop offset="0" stop-color="#000081"/><stop offset="0.01659" stop-color="#0000c9"/><stop offset="0.01896" stop-color="#0000d9"/><stop offset="0.02133" stop-color="#0000fd"/><stop offset="0.0237" stop-color="#0022ff"/><stop offset="0.02607" stop-color="#0047ff"/><stop offset="0.02844" stop-color="#0059ff"/><stop offset="0.03555" stop-color="#0087ff"/><stop offset="0.03791" stop-color="#008bff"/><stop offset="0.1303" stop-color="#00d1ff"/><stop offset="0.2251" stop-color="#00ffff"/><stop offset="0.3507" stop-color="#80ff80"/><stop offset="0.4194" stop-color="#ffff00"/><stop offset="0.5592" stop-color="#ff7f00"/><stop offset="0.6706" stop-color="#fe0000"/><stop offset="0.737" stop-color="#db0000"/><stop offset="0.8223" stop-color="#b20000"/><stop offset="0.8815" stop-color="#9a0000"/><stop offset="0.9336" stop-color="#a40000"/><stop offset="1" stop-color="#f00000"/></linearGradient><linearGradient id="BR105" x2="0" y2="1"><stop offset="0" stop-color="#000081"/><stop offset="0.01659" stop-color="#0000c8"/><stop offset="0.01896" stop-color="#0000d4"/><stop offset="0.02133" stop-color="#0000f9"/><stop offset="0.0237" stop-color="#001eff"/><stop offset="0.02607" stop-color="#0043ff"/><stop offset="0.02844" stop-color="#0058ff"/><stop offset="0.03555" stop-color="#0084ff"/><stop offset="0.03791" stop-color="#008bff"/><stop offset="0.1303" stop-color="#00d0ff"/><stop offset="0.2251" stop-color="#00ffff"/><stop offset="0.2275" stop-color="#02fffd"/><stop offset="0.3507" stop-color="#80ff80"/><stop offset="0.4194" stop-color="#fffe00"/><stop offset="0.5569" stop-color="#ff8100"/><stop offset="0.6706" stop-color="#fe0000"/><stop offset="0.7346" stop-color="#dc0000"/><stop offset="0.8199" stop-color="#b30000"/><stop offset="0.8815" stop-color="#9a0000"/><stop offset="0.9336" stop-color="#a40000"/><stop offset="1" stop-color="#f00000"/></linearGradient><linearGradient id="BR106" x2="0" y2="1"><stop offset="0" stop-color="#000081"/><stop offset="0.01896" stop-color="#0000d1"/><stop offset="0.02133" stop-color="#0000f4"/><stop offset="0.0237" stop-color="#001bff"/><stop offset="0.02607" stop-color="#0040ff"/><stop offset="0.02844" stop-color="#0056ff"/><stop offset="0.03555" stop-color="#0081ff"/><stop offset="0.03791" stop-color="#008aff"/><stop offset="0.1327" stop-color="#00d1ff"/><stop offset="0.2251" stop-color="#00ffff"/><stop offset="0.2275" stop-color="#02fffd"/><stop offset="0.3507" stop-color="#80ff80"/><stop offset="0.4171" stop-color="#fcff03"/><stop offset="0.4194" stop-color="#fffe00"/><stop offset="0.5569" stop-color="#ff8000"/><stop offset="0.6682" stop-color="#ff0100"/><stop offset="0.7346" stop-color="#dc0000"/><stop offset="0.8175" stop-color="#b30000"/><stop offset="0.8815" stop-color="#9a0000"/><stop offset="0.9336" stop-color="#a40000"/><stop offset="1" stop-color="#f00000"/></linearGradient><linearGradient id="BR107" x2="0" y2="1"><stop offset="0" stop-color="#000081"/><stop offset="0.01896" stop-color="#0000cf"/><stop offset="0.02133" stop-color="#0000f0"/><stop offset="0.0237" stop-color="#0017ff"/><stop offset="0.02607" stop-color="#003cff"/><stop offset="0.02844" stop-color="#0054ff"/><stop offset="0.03555" stop-color="#007fff"/><stop offset="0.03791" stop-color="#008aff"/><stop offset="0.1327" stop-color="#00d1ff"/><stop offset="0.2275" stop-color="#02fffd"/><stop offset="0.3507" stop-color="#80ff80"/><stop offset="0.4171" stop-color="#fdff02"/><stop offset="0.4194" stop-color="#fffe00"/><stop offset="0.5569" stop-color="#ff8000"/><stop offset="0.6682" stop-color="#ff0100"/><stop offset="0.7346" stop-color="#dc0000"/><stop offset="0.8175" stop-color="#b30000"/><stop offset="0.8815" stop-color="#9a0000"/><stop offset="0.9336" stop-color="#a40000"/><stop offset="1" stop-color="#f00000"/></linearGradient><linearGradient id="BR108" x2="0" y2="1"><stop offset="0" stop-color="#000080"/><stop offset="0.01896" stop-color="#0000ce"/><stop offset="0.02133" stop-color="#0000eb"/><stop offset="0.0237" stop-color="#0012ff"/><stop offset="0.02607" stop-color="#0038ff"/><stop offset="0.02844" stop-color="#0053ff"/><stop offset="0.03791" stop-color="#008aff"/><stop offset="0.1327" stop-color="#00d0ff"/><stop offset="0.2275" stop-color="#01fffe"/><stop offset="0.3507" stop-color="#80ff80"/><stop offset="0.4171" stop-color="#fdff02"/><stop offset="0.4194" stop-color="#fffe00"/><stop offset="0.5569" stop-color="#ff7f00"/><stop offset="0.6682" stop-color="#ff0100"/><stop offset="0.8152" stop-color="#b30000"/><stop offset="0.8815" stop-color="#990000"/><stop offset="0.9336" stop-color="#a40000"/><stop offset="1" stop-color="#f00000"/></linearGradient><linearGradient id="BR109" x2="0" y2="1"><stop offset="0" stop-color="#000080"/><stop offset="0.01896" stop-color="#0000cd"/><stop offset="0.02133" stop-color="#0000e6"/><stop offset="0.0237" stop-color="#000eff"/><stop offset="0.02607" stop-color="#0035ff"/><stop offset="0.02844" stop-color="#0052ff"/><stop offset="0.03791" stop-color="#0087ff"/><stop offset="0.04028" stop-color="#008bff"/><stop offset="0.1351" stop-color="#00d1ff"/><stop offset="0.2275" stop-color="#01fffe"/><stop offset="0.3507" stop-color="#80ff80"/><stop offset="0.4171" stop-color="#fdff02"/><stop offset="0.4194" stop-color="#fffe00"/><stop offset="0.5569" stop-color="#ff7f00"/><stop offset="0.6682" stop-color="#ff0000"/><stop offset="0.8152" stop-color="#b30000"/><stop offset="0.8815" stop-color="#990000"/><stop offset="0.9336" stop-color="#a30000"/><stop offset="1" stop-color="#f00000"/></linearGradient><linearGradient id="BR110" x2="0" y2="1"><stop offset="0" stop-color="#000080"/><stop offset="0.01896" stop-color="#0000cc"/><stop offset="0.02133" stop-color="#0000e1"/><stop offset="0.0237" stop-color="#000aff"/><stop offset="0.02607" stop-color="#0031ff"/><stop offset="0.02844" stop-color="#0050ff"/><stop offset="0.03791" stop-color="#0085ff"/><stop offset="0.04028" stop-color="#008bff"/><stop offset="0.1351" stop-color="#00d1ff"/><stop offset="0.2275" stop-color="#01fffe"/><stop offset="0.3507" stop-color="#80ff80"/><stop offset="0.4171" stop-color="#feff01"/><stop offset="0.4194" stop-color="#fffd00"/><stop offset="0.5545" stop-color="#ff8100"/><stop offset="0.6682" stop-color="#ff0000"/><stop offset="0.8128" stop-color="#b30000"/><stop offset="0.8815" stop-color="#990000"/><stop offset="0.9336" stop-color="#a30000"/><stop offset="1" stop-color="#f00000"/></linearGradient><linearGradient id="BR111" x2="0" y2="1"><stop offset="0" stop-color="#000080"/><stop offset="0.01896" stop-color="#0000ca"/><stop offset="0.02133" stop-color="#0000dc"/><stop offset="0.0237" stop-color="#0005ff"/><stop offset="0.02607" stop-color="#002dff"/><stop offset="0.02844" stop-color="#004fff"/><stop offset="0.03791" stop-color="#0082ff"/><stop offset="0.04028" stop-color="#008aff"/><stop offset="0.1351" stop-color="#00d0ff"/><stop offset="0.2275" stop-color="#00ffff"/><stop offset="0.3507" stop-color="#80ff80"/><stop offset="0.4171" stop-color="#feff01"/><stop offset="0.4194" stop-color="#fffd00"/><stop offset="0.5545" stop-color="#ff8000"/><stop offset="0.6682" stop-color="#ff0000"/><stop offset="0.8128" stop-color="#b30000"/><stop offset="0.8815" stop-color="#990000"/><stop offset="0.9336" stop-color="#a30000"/><stop offset="1" stop-color="#f00000"/></linearGradient><linearGradient id="BR112" x2="0" y2="1"><stop offset="0" stop-color="#000080"/><stop offset="0.01896" stop-color="#0000c9"/><stop offset="0.02133" stop-color="#0000d7"/><stop offset="0.0237" stop-color="#0000ff"/><stop offset="0.02844" stop-color="#004eff"/><stop offset="0.03791" stop-color="#0080ff"/><stop offset="0.04028" stop-color="#008aff"/><stop offset="0.1374" stop-color="#00d1ff"/><stop offset="0.2275" stop-color="#00ffff"/><stop offset="0.3507" stop-color="#80ff80"/><stop offset="0.4171" stop-color="#ffff00"/><stop offset="0.5545" stop-color="#ff8000"/><stop offset="0.6682" stop-color="#ff0000"/><stop offset="0.8104" stop-color="#b30000"/><stop offset="0.8815" stop-color="#990000"/><stop offset="0.9336" stop-color="#a30000"/><stop offset="1" stop-color="#f00000"/></linearGradient><linearGradient id="BR113" x2="0" y2="1"><stop offset="0" stop-color="#000080"/><stop offset="0.02133" stop-color="#0000d3"/><stop offset="0.0237" stop-color="#0000fb"/><stop offset="0.02607" stop-color="#0025ff"/><stop offset="0.02844" stop-color="#004dff"/><stop offset="0.04028" stop-color="#008aff"/><stop offset="0.1374" stop-color="#00d1ff"/><stop offset="0.2275" stop-color="#00ffff"/><stop offset="0.3507" stop-color="#80ff80"/><stop offset="0.4171" stop-color="#ffff00"/><stop offset="0.5545" stop-color="#ff8000"/><stop offset="0.6682" stop-color="#ff0000"/><stop offset="0.8104" stop-color="#b30000"/><stop offset="0.8815" stop-color="#990000"/><stop offset="0.9336" stop-color="#a30000"/><stop offset="1" stop-color="#f00000"/></linearGradient><linearGradient id="cb" x1="0" y1="0" x2="0" y2="1"><stop offset="0.000" stop-color="#800000"/><stop offset="0.125" stop-color="#ff0000"/><stop offset="0.375" stop-color="#ffff00"/><stop offset="0.625" stop-color="#00ffff"/><stop offset="0.875" stop-color="#0000ff"/><stop offset="1.000" stop-color="#000080"/></linearGradient></defs><rect x="74" y="77" width="2" height="206" fill="url(#TL0)"/><rect x="76" y="77" width="2" height="206" fill="url(#TL1)"/><rect x="78" y="77" width="2" height="206" fill="url(#TL2)"/><rect x="80" y="77" width="2" height="206" fill="url(#TL3)"/><rect x="82" y="77" width="2" height="206" fill="url(#TL4)"/><rect x="84" y="77" width="2" height="206" fill="url(#TL5)"/><rect x="86" y="77" width="2" height="206" fill="url(#TL6)"/><rect x="88" y="77" width="2" height="206" fill="url(#TL7)"/><rect x="90" y="77" width="2" height="206" fill="url(#TL8)"/><rect x="92" y="77" width="2" height="206" fill="url(#TL9)"/><rect x="94" y="77" width="2" height="206" fill="url(#TL10)"/><rect x="96" y="77" width="2" height="206" fill="url(#TL11)"/><rect x="98" y="77" width="2" height="206" fill="url(#TL12)"/><rect x="100" y="77" width="2" height="206" fill="url(#TL13)"/><rect x="102" y="77" width="2" height="206" fill="url(#TL14)"/><rect x="104" y="77" width="2" height="206" fill="url(#TL15)"/><rect x="106" y="77" width="2" height="206" fill="url(#TL16)"/><rect x="108" y="77" width="2" height="206" fill="url(#TL17)"/><rect x="110" y="77" width="2" height="206" fill="url(#TL18)"/><rect x="112" y="77" width="2" height="206" fill="url(#TL19)"/><rect x="114" y="77" width="2" height="206" fill="url(#TL20)"/><rect x="116" y="77" width="2" height="206" fill="url(#TL21)"/><rect x="118" y="77" width="2" height="206" fill="url(#TL22)"/><rect x="120" y="77" width="2" height="206" fill="url(#TL23)"/><rect x="122" y="77" width="2" height="206" fill="url(#TL24)"/><rect x="124" y="77" width="2" height="206" fill="url(#TL25)"/><rect x="126" y="77" width="2" height="206" fill="url(#TL26)"/><rect x="128" y="77" width="2" height="206" fill="url(#TL27)"/><rect x="130" y="77" width="2" height="206" fill="url(#TL28)"/><rect x="132" y="77" width="2" height="206" fill="url(#TL29)"/><rect x="134" y="77" width="2" height="206" fill="url(#TL30)"/><rect x="136" y="77" width="2" height="206" fill="url(#TL31)"/><rect x="138" y="77" width="2" height="206" fill="url(#TL32)"/><rect x="140" y="77" width="2" height="206" fill="url(#TL33)"/><rect x="142" y="77" width="2" height="206" fill="url(#TL34)"/><rect x="144" y="77" width="2" height="206" fill="url(#TL35)"/><rect x="146" y="77" width="2" height="206" fill="url(#TL36)"/><rect x="148" y="77" width="2" height="206" fill="url(#TL37)"/><rect x="150" y="77" width="2" height="206" fill="url(#TL38)"/><rect x="152" y="77" width="2" height="206" fill="url(#TL39)"/><rect x="154" y="77" width="2" height="206" fill="url(#TL40)"/><rect x="156" y="77" width="2" height="206" fill="url(#TL41)"/><rect x="158" y="77" width="2" height="206" fill="url(#TL42)"/><rect x="160" y="77" width="2" height="206" fill="url(#TL43)"/><rect x="162" y="77" width="2" height="206" fill="url(#TL44)"/><rect x="164" y="77" width="2" height="206" fill="url(#TL45)"/><rect x="166" y="77" width="2" height="206" fill="url(#TL46)"/><rect x="168" y="77" width="2" height="206" fill="url(#TL47)"/><rect x="170" y="77" width="2" height="206" fill="url(#TL48)"/><rect x="172" y="77" width="2" height="206" fill="url(#TL49)"/><rect x="174" y="77" width="2" height="206" fill="url(#TL50)"/><rect x="176" y="77" width="2" height="206" fill="url(#TL51)"/><rect x="178" y="77" width="2" height="206" fill="url(#TL52)"/><rect x="180" y="77" width="2" height="206" fill="url(#TL53)"/><rect x="182" y="77" width="2" height="206" fill="url(#TL54)"/><rect x="184" y="77" width="2" height="206" fill="url(#TL55)"/><rect x="186" y="77" width="2" height="206" fill="url(#TL56)"/><rect x="188" y="77" width="2" height="206" fill="url(#TL57)"/><rect x="190" y="77" width="2" height="206" fill="url(#TL58)"/><rect x="192" y="77" width="2" height="206" fill="url(#TL59)"/><rect x="194" y="77" width="2" height="206" fill="url(#TL60)"/><rect x="196" y="77" width="2" height="206" fill="url(#TL61)"/><rect x="198" y="77" width="2" height="206" fill="url(#TL62)"/><rect x="200" y="77" width="2" height="206" fill="url(#TL63)"/><rect x="202" y="77" width="2" height="206" fill="url(#TL64)"/><rect x="204" y="77" width="2" height="206" fill="url(#TL65)"/><rect x="206" y="77" width="2" height="206" fill="url(#TL66)"/><rect x="208" y="77" width="2" height="206" fill="url(#TL67)"/><rect x="210" y="77" width="2" height="206" fill="url(#TL68)"/><rect x="212" y="77" width="2" height="206" fill="url(#TL69)"/><rect x="214" y="77" width="2" height="206" fill="url(#TL70)"/><rect x="216" y="77" width="2" height="206" fill="url(#TL71)"/><rect x="218" y="77" width="2" height="206" fill="url(#TL72)"/><rect x="220" y="77" width="2" height="206" fill="url(#TL73)"/><rect x="222" y="77" width="2" height="206" fill="url(#TL74)"/><rect x="224" y="77" width="2" height="206" fill="url(#TL75)"/><rect x="226" y="77" width="2" height="206" fill="url(#TL76)"/><rect x="228" y="77" width="2" height="206" fill="url(#TL77)"/><rect x="230" y="77" width="2" height="206" fill="url(#TL78)"/><rect x="232" y="77" width="2" height="206" fill="url(#TL79)"/><rect x="234" y="77" width="2" height="206" fill="url(#TL80)"/><rect x="236" y="77" width="2" height="206" fill="url(#TL81)"/><rect x="238" y="77" width="2" height="206" fill="url(#TL82)"/><rect x="240" y="77" width="2" height="206" fill="url(#TL83)"/><rect x="242" y="77" width="2" height="206" fill="url(#TL84)"/><rect x="244" y="77" width="2" height="206" fill="url(#TL85)"/><rect x="246" y="77" width="2" height="206" fill="url(#TL86)"/><rect x="248" y="77" width="2" height="206" fill="url(#TL87)"/><rect x="250" y="77" width="2" height="206" fill="url(#TL88)"/><rect x="252" y="77" width="2" height="206" fill="url(#TL89)"/><rect x="254" y="77" width="2" height="206" fill="url(#TL90)"/><rect x="256" y="77" width="2" height="206" fill="url(#TL91)"/><rect x="258" y="77" width="2" height="206" fill="url(#TL92)"/><rect x="260" y="77" width="2" height="206" fill="url(#TL93)"/><rect x="262" y="77" width="2" height="206" fill="url(#TL94)"/><rect x="264" y="77" width="2" height="206" fill="url(#TL95)"/><rect x="266" y="77" width="2" height="206" fill="url(#TL96)"/><rect x="268" y="77" width="2" height="206" fill="url(#TL97)"/><rect x="270" y="77" width="2" height="206" fill="url(#TL98)"/><rect x="272" y="77" width="2" height="206" fill="url(#TL99)"/><rect x="274" y="77" width="2" height="206" fill="url(#TL100)"/><rect x="276" y="77" width="2" height="206" fill="url(#TL101)"/><rect x="278" y="77" width="2" height="206" fill="url(#TL102)"/><rect x="280" y="77" width="2" height="206" fill="url(#TL103)"/><rect x="282" y="77" width="2" height="206" fill="url(#TL104)"/><rect x="284" y="77" width="2" height="206" fill="url(#TL105)"/><rect x="286" y="77" width="2" height="206" fill="url(#TL106)"/><rect x="288" y="77" width="2" height="206" fill="url(#TL107)"/><rect x="290" y="77" width="2" height="206" fill="url(#TL108)"/><rect x="292" y="77" width="2" height="206" fill="url(#TL109)"/><rect x="294" y="77" width="2" height="206" fill="url(#TL110)"/><rect x="296" y="77" width="2" height="206" fill="url(#TL111)"/><rect x="298" y="77" width="1" height="206" fill="url(#TL112)"/><rect x="309" y="76" width="2" height="207" fill="url(#TR0)"/><rect x="311" y="76" width="2" height="207" fill="url(#TR1)"/><rect x="313" y="76" width="2" height="207" fill="url(#TR2)"/><rect x="315" y="76" width="2" height="207" fill="url(#TR3)"/><rect x="317" y="76" width="2" height="207" fill="url(#TR4)"/><rect x="319" y="76" width="2" height="207" fill="url(#TR5)"/><rect x="321" y="76" width="2" height="207" fill="url(#TR6)"/><rect x="323" y="76" width="2" height="207" fill="url(#TR7)"/><rect x="325" y="76" width="2" height="207" fill="url(#TR8)"/><rect x="327" y="76" width="2" height="207" fill="url(#TR9)"/><rect x="329" y="76" width="2" height="207" fill="url(#TR10)"/><rect x="331" y="76" width="2" height="207" fill="url(#TR11)"/><rect x="333" y="76" width="2" height="207" fill="url(#TR12)"/><rect x="335" y="76" width="2" height="207" fill="url(#TR13)"/><rect x="337" y="76" width="2" height="207" fill="url(#TR14)"/><rect x="339" y="76" width="2" height="207" fill="url(#TR15)"/><rect x="341" y="76" width="2" height="207" fill="url(#TR16)"/><rect x="343" y="76" width="2" height="207" fill="url(#TR17)"/><rect x="345" y="76" width="2" height="207" fill="url(#TR18)"/><rect x="347" y="76" width="2" height="207" fill="url(#TR19)"/><rect x="349" y="76" width="2" height="207" fill="url(#TR20)"/><rect x="351" y="76" width="2" height="207" fill="url(#TR21)"/><rect x="353" y="76" width="2" height="207" fill="url(#TR22)"/><rect x="355" y="76" width="2" height="207" fill="url(#TR23)"/><rect x="357" y="76" width="2" height="207" fill="url(#TR24)"/><rect x="359" y="76" width="2" height="207" fill="url(#TR25)"/><rect x="361" y="76" width="2" height="207" fill="url(#TR26)"/><rect x="363" y="76" width="2" height="207" fill="url(#TR27)"/><rect x="365" y="76" width="2" height="207" fill="url(#TR28)"/><rect x="367" y="76" width="2" height="207" fill="url(#TR29)"/><rect x="369" y="76" width="2" height="207" fill="url(#TR30)"/><rect x="371" y="76" width="2" height="207" fill="url(#TR31)"/><rect x="373" y="76" width="2" height="207" fill="url(#TR32)"/><rect x="375" y="76" width="2" height="207" fill="url(#TR33)"/><rect x="377" y="76" width="2" height="207" fill="url(#TR34)"/><rect x="379" y="76" width="2" height="207" fill="url(#TR35)"/><rect x="381" y="76" width="2" height="207" fill="url(#TR36)"/><rect x="383" y="76" width="2" height="207" fill="url(#TR37)"/><rect x="385" y="76" width="2" height="207" fill="url(#TR38)"/><rect x="387" y="76" width="2" height="207" fill="url(#TR39)"/><rect x="389" y="76" width="2" height="207" fill="url(#TR40)"/><rect x="391" y="76" width="2" height="207" fill="url(#TR41)"/><rect x="393" y="76" width="2" height="207" fill="url(#TR42)"/><rect x="395" y="76" width="2" height="207" fill="url(#TR43)"/><rect x="397" y="76" width="2" height="207" fill="url(#TR44)"/><rect x="399" y="76" width="2" height="207" fill="url(#TR45)"/><rect x="401" y="76" width="2" height="207" fill="url(#TR46)"/><rect x="403" y="76" width="2" height="207" fill="url(#TR47)"/><rect x="405" y="76" width="2" height="207" fill="url(#TR48)"/><rect x="407" y="76" width="2" height="207" fill="url(#TR49)"/><rect x="409" y="76" width="2" height="207" fill="url(#TR50)"/><rect x="411" y="76" width="2" height="207" fill="url(#TR51)"/><rect x="413" y="76" width="2" height="207" fill="url(#TR52)"/><rect x="415" y="76" width="2" height="207" fill="url(#TR53)"/><rect x="417" y="76" width="2" height="207" fill="url(#TR54)"/><rect x="419" y="76" width="2" height="207" fill="url(#TR55)"/><rect x="421" y="76" width="2" height="207" fill="url(#TR56)"/><rect x="423" y="76" width="2" height="207" fill="url(#TR57)"/><rect x="425" y="76" width="2" height="207" fill="url(#TR58)"/><rect x="427" y="76" width="2" height="207" fill="url(#TR59)"/><rect x="429" y="76" width="2" height="207" fill="url(#TR60)"/><rect x="431" y="76" width="2" height="207" fill="url(#TR61)"/><rect x="433" y="76" width="2" height="207" fill="url(#TR62)"/><rect x="435" y="76" width="2" height="207" fill="url(#TR63)"/><rect x="437" y="76" width="2" height="207" fill="url(#TR64)"/><rect x="439" y="76" width="2" height="207" fill="url(#TR65)"/><rect x="441" y="76" width="2" height="207" fill="url(#TR66)"/><rect x="443" y="76" width="2" height="207" fill="url(#TR67)"/><rect x="445" y="76" width="2" height="207" fill="url(#TR68)"/><rect x="447" y="76" width="2" height="207" fill="url(#TR69)"/><rect x="449" y="76" width="2" height="207" fill="url(#TR70)"/><rect x="451" y="76" width="2" height="207" fill="url(#TR71)"/><rect x="453" y="76" width="2" height="207" fill="url(#TR72)"/><rect x="455" y="76" width="2" height="207" fill="url(#TR73)"/><rect x="457" y="76" width="2" height="207" fill="url(#TR74)"/><rect x="459" y="76" width="2" height="207" fill="url(#TR75)"/><rect x="461" y="76" width="2" height="207" fill="url(#TR76)"/><rect x="463" y="76" width="2" height="207" fill="url(#TR77)"/><rect x="465" y="76" width="2" height="207" fill="url(#TR78)"/><rect x="467" y="76" width="2" height="207" fill="url(#TR79)"/><rect x="469" y="76" width="2" height="207" fill="url(#TR80)"/><rect x="471" y="76" width="2" height="207" fill="url(#TR81)"/><rect x="473" y="76" width="2" height="207" fill="url(#TR82)"/><rect x="475" y="76" width="2" height="207" fill="url(#TR83)"/><rect x="477" y="76" width="2" height="207" fill="url(#TR84)"/><rect x="479" y="76" width="2" height="207" fill="url(#TR85)"/><rect x="481" y="76" width="2" height="207" fill="url(#TR86)"/><rect x="483" y="76" width="2" height="207" fill="url(#TR87)"/><rect x="485" y="76" width="2" height="207" fill="url(#TR88)"/><rect x="487" y="76" width="2" height="207" fill="url(#TR89)"/><rect x="489" y="76" width="2" height="207" fill="url(#TR90)"/><rect x="491" y="76" width="2" height="207" fill="url(#TR91)"/><rect x="493" y="76" width="2" height="207" fill="url(#TR92)"/><rect x="495" y="76" width="2" height="207" fill="url(#TR93)"/><rect x="497" y="76" width="2" height="207" fill="url(#TR94)"/><rect x="499" y="76" width="2" height="207" fill="url(#TR95)"/><rect x="501" y="76" width="2" height="207" fill="url(#TR96)"/><rect x="503" y="76" width="2" height="207" fill="url(#TR97)"/><rect x="505" y="76" width="2" height="207" fill="url(#TR98)"/><rect x="507" y="76" width="2" height="207" fill="url(#TR99)"/><rect x="509" y="76" width="2" height="207" fill="url(#TR100)"/><rect x="511" y="76" width="2" height="207" fill="url(#TR101)"/><rect x="513" y="76" width="2" height="207" fill="url(#TR102)"/><rect x="515" y="76" width="2" height="207" fill="url(#TR103)"/><rect x="517" y="76" width="2" height="207" fill="url(#TR104)"/><rect x="519" y="76" width="2" height="207" fill="url(#TR105)"/><rect x="521" y="76" width="2" height="207" fill="url(#TR106)"/><rect x="523" y="76" width="2" height="207" fill="url(#TR107)"/><rect x="525" y="76" width="2" height="207" fill="url(#TR108)"/><rect x="527" y="76" width="2" height="207" fill="url(#TR109)"/><rect x="529" y="76" width="2" height="207" fill="url(#TR110)"/><rect x="531" y="76" width="2" height="207" fill="url(#TR111)"/><rect x="533" y="76" width="1" height="207" fill="url(#TR112)"/><rect x="70" y="375" width="2" height="211" fill="url(#BL0)"/><rect x="72" y="375" width="2" height="211" fill="url(#BL1)"/><rect x="74" y="375" width="2" height="211" fill="url(#BL2)"/><rect x="76" y="375" width="2" height="211" fill="url(#BL3)"/><rect x="78" y="375" width="2" height="211" fill="url(#BL4)"/><rect x="80" y="375" width="2" height="211" fill="url(#BL5)"/><rect x="82" y="375" width="2" height="211" fill="url(#BL6)"/><rect x="84" y="375" width="2" height="211" fill="url(#BL7)"/><rect x="86" y="375" width="2" height="211" fill="url(#BL8)"/><rect x="88" y="375" width="2" height="211" fill="url(#BL9)"/><rect x="90" y="375" width="2" height="211" fill="url(#BL10)"/><rect x="92" y="375" width="2" height="211" fill="url(#BL11)"/><rect x="94" y="375" width="2" height="211" fill="url(#BL12)"/><rect x="96" y="375" width="2" height="211" fill="url(#BL13)"/><rect x="98" y="375" width="2" height="211" fill="url(#BL14)"/><rect x="100" y="375" width="2" height="211" fill="url(#BL15)"/><rect x="102" y="375" width="2" height="211" fill="url(#BL16)"/><rect x="104" y="375" width="2" height="211" fill="url(#BL17)"/><rect x="106" y="375" width="2" height="211" fill="url(#BL18)"/><rect x="108" y="375" width="2" height="211" fill="url(#BL19)"/><rect x="110" y="375" width="2" height="211" fill="url(#BL20)"/><rect x="112" y="375" width="2" height="211" fill="url(#BL21)"/><rect x="114" y="375" width="2" height="211" fill="url(#BL22)"/><rect x="116" y="375" width="2" height="211" fill="url(#BL23)"/><rect x="118" y="375" width="2" height="211" fill="url(#BL24)"/><rect x="120" y="375" width="2" height="211" fill="url(#BL25)"/><rect x="122" y="375" width="2" height="211" fill="url(#BL26)"/><rect x="124" y="375" width="2" height="211" fill="url(#BL27)"/><rect x="126" y="375" width="2" height="211" fill="url(#BL28)"/><rect x="128" y="375" width="2" height="211" fill="url(#BL29)"/><rect x="130" y="375" width="2" height="211" fill="url(#BL30)"/><rect x="132" y="375" width="2" height="211" fill="url(#BL31)"/><rect x="134" y="375" width="2" height="211" fill="url(#BL32)"/><rect x="136" y="375" width="2" height="211" fill="url(#BL33)"/><rect x="138" y="375" width="2" height="211" fill="url(#BL34)"/><rect x="140" y="375" width="2" height="211" fill="url(#BL35)"/><rect x="142" y="375" width="2" height="211" fill="url(#BL36)"/><rect x="144" y="375" width="2" height="211" fill="url(#BL37)"/><rect x="146" y="375" width="2" height="211" fill="url(#BL38)"/><rect x="148" y="375" width="2" height="211" fill="url(#BL39)"/><rect x="150" y="375" width="2" height="211" fill="url(#BL40)"/><rect x="152" y="375" width="2" height="211" fill="url(#BL41)"/><rect x="154" y="375" width="2" height="211" fill="url(#BL42)"/><rect x="156" y="375" width="2" height="211" fill="url(#BL43)"/><rect x="158" y="375" width="2" height="211" fill="url(#BL44)"/><rect x="160" y="375" width="2" height="211" fill="url(#BL45)"/><rect x="162" y="375" width="2" height="211" fill="url(#BL46)"/><rect x="164" y="375" width="2" height="211" fill="url(#BL47)"/><rect x="166" y="375" width="2" height="211" fill="url(#BL48)"/><rect x="168" y="375" width="2" height="211" fill="url(#BL49)"/><rect x="170" y="375" width="2" height="211" fill="url(#BL50)"/><rect x="172" y="375" width="2" height="211" fill="url(#BL51)"/><rect x="174" y="375" width="2" height="211" fill="url(#BL52)"/><rect x="176" y="375" width="2" height="211" fill="url(#BL53)"/><rect x="178" y="375" width="2" height="211" fill="url(#BL54)"/><rect x="180" y="375" width="2" height="211" fill="url(#BL55)"/><rect x="182" y="375" width="2" height="211" fill="url(#BL56)"/><rect x="184" y="375" width="2" height="211" fill="url(#BL57)"/><rect x="186" y="375" width="2" height="211" fill="url(#BL58)"/><rect x="188" y="375" width="2" height="211" fill="url(#BL59)"/><rect x="190" y="375" width="2" height="211" fill="url(#BL60)"/><rect x="192" y="375" width="2" height="211" fill="url(#BL61)"/><rect x="194" y="375" width="2" height="211" fill="url(#BL62)"/><rect x="196" y="375" width="2" height="211" fill="url(#BL63)"/><rect x="198" y="375" width="2" height="211" fill="url(#BL64)"/><rect x="200" y="375" width="2" height="211" fill="url(#BL65)"/><rect x="202" y="375" width="2" height="211" fill="url(#BL66)"/><rect x="204" y="375" width="2" height="211" fill="url(#BL67)"/><rect x="206" y="375" width="2" height="211" fill="url(#BL68)"/><rect x="208" y="375" width="2" height="211" fill="url(#BL69)"/><rect x="210" y="375" width="2" height="211" fill="url(#BL70)"/><rect x="212" y="375" width="2" height="211" fill="url(#BL71)"/><rect x="214" y="375" width="2" height="211" fill="url(#BL72)"/><rect x="216" y="375" width="2" height="211" fill="url(#BL73)"/><rect x="218" y="375" width="2" height="211" fill="url(#BL74)"/><rect x="220" y="375" width="2" height="211" fill="url(#BL75)"/><rect x="222" y="375" width="2" height="211" fill="url(#BL76)"/><rect x="224" y="375" width="2" height="211" fill="url(#BL77)"/><rect x="226" y="375" width="2" height="211" fill="url(#BL78)"/><rect x="228" y="375" width="2" height="211" fill="url(#BL79)"/><rect x="230" y="375" width="2" height="211" fill="url(#BL80)"/><rect x="232" y="375" width="2" height="211" fill="url(#BL81)"/><rect x="234" y="375" width="2" height="211" fill="url(#BL82)"/><rect x="236" y="375" width="2" height="211" fill="url(#BL83)"/><rect x="238" y="375" width="2" height="211" fill="url(#BL84)"/><rect x="240" y="375" width="2" height="211" fill="url(#BL85)"/><rect x="242" y="375" width="2" height="211" fill="url(#BL86)"/><rect x="244" y="375" width="2" height="211" fill="url(#BL87)"/><rect x="246" y="375" width="2" height="211" fill="url(#BL88)"/><rect x="248" y="375" width="2" height="211" fill="url(#BL89)"/><rect x="250" y="375" width="2" height="211" fill="url(#BL90)"/><rect x="252" y="375" width="2" height="211" fill="url(#BL91)"/><rect x="254" y="375" width="2" height="211" fill="url(#BL92)"/><rect x="256" y="375" width="2" height="211" fill="url(#BL93)"/><rect x="258" y="375" width="2" height="211" fill="url(#BL94)"/><rect x="260" y="375" width="2" height="211" fill="url(#BL95)"/><rect x="262" y="375" width="2" height="211" fill="url(#BL96)"/><rect x="264" y="375" width="2" height="211" fill="url(#BL97)"/><rect x="266" y="375" width="2" height="211" fill="url(#BL98)"/><rect x="268" y="375" width="2" height="211" fill="url(#BL99)"/><rect x="270" y="375" width="2" height="211" fill="url(#BL100)"/><rect x="272" y="375" width="2" height="211" fill="url(#BL101)"/><rect x="274" y="375" width="2" height="211" fill="url(#BL102)"/><rect x="276" y="375" width="2" height="211" fill="url(#BL103)"/><rect x="278" y="375" width="2" height="211" fill="url(#BL104)"/><rect x="280" y="375" width="2" height="211" fill="url(#BL105)"/><rect x="282" y="375" width="2" height="211" fill="url(#BL106)"/><rect x="284" y="375" width="2" height="211" fill="url(#BL107)"/><rect x="286" y="375" width="2" height="211" fill="url(#BL108)"/><rect x="288" y="375" width="2" height="211" fill="url(#BL109)"/><rect x="290" y="375" width="2" height="211" fill="url(#BL110)"/><rect x="292" y="375" width="2" height="211" fill="url(#BL111)"/><rect x="294" y="375" width="2" height="211" fill="url(#BL112)"/><rect x="305" y="375" width="2" height="211" fill="url(#BR0)"/><rect x="307" y="375" width="2" height="211" fill="url(#BR1)"/><rect x="309" y="375" width="2" height="211" fill="url(#BR2)"/><rect x="311" y="375" width="2" height="211" fill="url(#BR3)"/><rect x="313" y="375" width="2" height="211" fill="url(#BR4)"/><rect x="315" y="375" width="2" height="211" fill="url(#BR5)"/><rect x="317" y="375" width="2" height="211" fill="url(#BR6)"/><rect x="319" y="375" width="2" height="211" fill="url(#BR7)"/><rect x="321" y="375" width="2" height="211" fill="url(#BR8)"/><rect x="323" y="375" width="2" height="211" fill="url(#BR9)"/><rect x="325" y="375" width="2" height="211" fill="url(#BR10)"/><rect x="327" y="375" width="2" height="211" fill="url(#BR11)"/><rect x="329" y="375" width="2" height="211" fill="url(#BR12)"/><rect x="331" y="375" width="2" height="211" fill="url(#BR13)"/><rect x="333" y="375" width="2" height="211" fill="url(#BR14)"/><rect x="335" y="375" width="2" height="211" fill="url(#BR15)"/><rect x="337" y="375" width="2" height="211" fill="url(#BR16)"/><rect x="339" y="375" width="2" height="211" fill="url(#BR17)"/><rect x="341" y="375" width="2" height="211" fill="url(#BR18)"/><rect x="343" y="375" width="2" height="211" fill="url(#BR19)"/><rect x="345" y="375" width="2" height="211" fill="url(#BR20)"/><rect x="347" y="375" width="2" height="211" fill="url(#BR21)"/><rect x="349" y="375" width="2" height="211" fill="url(#BR22)"/><rect x="351" y="375" width="2" height="211" fill="url(#BR23)"/><rect x="353" y="375" width="2" height="211" fill="url(#BR24)"/><rect x="355" y="375" width="2" height="211" fill="url(#BR25)"/><rect x="357" y="375" width="2" height="211" fill="url(#BR26)"/><rect x="359" y="375" width="2" height="211" fill="url(#BR27)"/><rect x="361" y="375" width="2" height="211" fill="url(#BR28)"/><rect x="363" y="375" width="2" height="211" fill="url(#BR29)"/><rect x="365" y="375" width="2" height="211" fill="url(#BR30)"/><rect x="367" y="375" width="2" height="211" fill="url(#BR31)"/><rect x="369" y="375" width="2" height="211" fill="url(#BR32)"/><rect x="371" y="375" width="2" height="211" fill="url(#BR33)"/><rect x="373" y="375" width="2" height="211" fill="url(#BR34)"/><rect x="375" y="375" width="2" height="211" fill="url(#BR35)"/><rect x="377" y="375" width="2" height="211" fill="url(#BR36)"/><rect x="379" y="375" width="2" height="211" fill="url(#BR37)"/><rect x="381" y="375" width="2" height="211" fill="url(#BR38)"/><rect x="383" y="375" width="2" height="211" fill="url(#BR39)"/><rect x="385" y="375" width="2" height="211" fill="url(#BR40)"/><rect x="387" y="375" width="2" height="211" fill="url(#BR41)"/><rect x="389" y="375" width="2" height="211" fill="url(#BR42)"/><rect x="391" y="375" width="2" height="211" fill="url(#BR43)"/><rect x="393" y="375" width="2" height="211" fill="url(#BR44)"/><rect x="395" y="375" width="2" height="211" fill="url(#BR45)"/><rect x="397" y="375" width="2" height="211" fill="url(#BR46)"/><rect x="399" y="375" width="2" height="211" fill="url(#BR47)"/><rect x="401" y="375" width="2" height="211" fill="url(#BR48)"/><rect x="403" y="375" width="2" height="211" fill="url(#BR49)"/><rect x="405" y="375" width="2" height="211" fill="url(#BR50)"/><rect x="407" y="375" width="2" height="211" fill="url(#BR51)"/><rect x="409" y="375" width="2" height="211" fill="url(#BR52)"/><rect x="411" y="375" width="2" height="211" fill="url(#BR53)"/><rect x="413" y="375" width="2" height="211" fill="url(#BR54)"/><rect x="415" y="375" width="2" height="211" fill="url(#BR55)"/><rect x="417" y="375" width="2" height="211" fill="url(#BR56)"/><rect x="419" y="375" width="2" height="211" fill="url(#BR57)"/><rect x="421" y="375" width="2" height="211" fill="url(#BR58)"/><rect x="423" y="375" width="2" height="211" fill="url(#BR59)"/><rect x="425" y="375" width="2" height="211" fill="url(#BR60)"/><rect x="427" y="375" width="2" height="211" fill="url(#BR61)"/><rect x="429" y="375" width="2" height="211" fill="url(#BR62)"/><rect x="431" y="375" width="2" height="211" fill="url(#BR63)"/><rect x="433" y="375" width="2" height="211" fill="url(#BR64)"/><rect x="435" y="375" width="2" height="211" fill="url(#BR65)"/><rect x="437" y="375" width="2" height="211" fill="url(#BR66)"/><rect x="439" y="375" width="2" height="211" fill="url(#BR67)"/><rect x="441" y="375" width="2" height="211" fill="url(#BR68)"/><rect x="443" y="375" width="2" height="211" fill="url(#BR69)"/><rect x="445" y="375" width="2" height="211" fill="url(#BR70)"/><rect x="447" y="375" width="2" height="211" fill="url(#BR71)"/><rect x="449" y="375" width="2" height="211" fill="url(#BR72)"/><rect x="451" y="375" width="2" height="211" fill="url(#BR73)"/><rect x="453" y="375" width="2" height="211" fill="url(#BR74)"/><rect x="455" y="375" width="2" height="211" fill="url(#BR75)"/><rect x="457" y="375" width="2" height="211" fill="url(#BR76)"/><rect x="459" y="375" width="2" height="211" fill="url(#BR77)"/><rect x="461" y="375" width="2" height="211" fill="url(#BR78)"/><rect x="463" y="375" width="2" height="211" fill="url(#BR79)"/><rect x="465" y="375" width="2" height="211" fill="url(#BR80)"/><rect x="467" y="375" width="2" height="211" fill="url(#BR81)"/><rect x="469" y="375" width="2" height="211" fill="url(#BR82)"/><rect x="471" y="375" width="2" height="211" fill="url(#BR83)"/><rect x="473" y="375" width="2" height="211" fill="url(#BR84)"/><rect x="475" y="375" width="2" height="211" fill="url(#BR85)"/><rect x="477" y="375" width="2" height="211" fill="url(#BR86)"/><rect x="479" y="375" width="2" height="211" fill="url(#BR87)"/><rect x="481" y="375" width="2" height="211" fill="url(#BR88)"/><rect x="483" y="375" width="2" height="211" fill="url(#BR89)"/><rect x="485" y="375" width="2" height="211" fill="url(#BR90)"/><rect x="487" y="375" width="2" height="211" fill="url(#BR91)"/><rect x="489" y="375" width="2" height="211" fill="url(#BR92)"/><rect x="491" y="375" width="2" height="211" fill="url(#BR93)"/><rect x="493" y="375" width="2" height="211" fill="url(#BR94)"/><rect x="495" y="375" width="2" height="211" fill="url(#BR95)"/><rect x="497" y="375" width="2" height="211" fill="url(#BR96)"/><rect x="499" y="375" width="2" height="211" fill="url(#BR97)"/><rect x="501" y="375" width="2" height="211" fill="url(#BR98)"/><rect x="503" y="375" width="2" height="211" fill="url(#BR99)"/><rect x="505" y="375" width="2" height="211" fill="url(#BR100)"/><rect x="507" y="375" width="2" height="211" fill="url(#BR101)"/><rect x="509" y="375" width="2" height="211" fill="url(#BR102)"/><rect x="511" y="375" width="2" height="211" fill="url(#BR103)"/><rect x="513" y="375" width="2" height="211" fill="url(#BR104)"/><rect x="515" y="375" width="2" height="211" fill="url(#BR105)"/><rect x="517" y="375" width="2" height="211" fill="url(#BR106)"/><rect x="519" y="375" width="2" height="211" fill="url(#BR107)"/><rect x="521" y="375" width="2" height="211" fill="url(#BR108)"/><rect x="523" y="375" width="2" height="211" fill="url(#BR109)"/><rect x="525" y="375" width="2" height="211" fill="url(#BR110)"/><rect x="527" y="375" width="2" height="211" fill="url(#BR111)"/><rect x="529" y="375" width="2" height="211" fill="url(#BR112)"/><rect x="531" y="375" width="1" height="211" fill="url(#BR113)"/><rect x="546" y="76" width="15" height="208" fill="url(#cb)"/><rect x="544" y="376" width="14.5" height="211" fill="url(#cb)"/><rect x="74.50" y="77.50" width="224.00" height="205.00" fill="none" stroke="#000" stroke-width="1" stroke-opacity="0.5"/><path d="M74.20 283.00v-2.5M74.20 77.00v2.5M124.20 283.00v-2.5M124.20 77.00v2.5M174.20 283.00v-2.5M174.20 77.00v2.5M224.20 283.00v-2.5M224.20 77.00v2.5M274.20 283.00v-2.5M274.20 77.00v2.5M74.00 108.40h2.5M299.00 108.40h-2.5M74.00 144.47h2.5M299.00 144.47h-2.5M74.00 180.54h2.5M299.00 180.54h-2.5M74.00 216.61h2.5M299.00 216.61h-2.5M74.00 252.68h2.5M299.00 252.68h-2.5" stroke="#000" stroke-width="0.9" stroke-opacity="0.85" fill="none"/><rect x="309.50" y="76.50" width="224.00" height="206.00" fill="none" stroke="#000" stroke-width="1" stroke-opacity="0.5"/><path d="M309.60 283.00v-2.5M309.60 76.00v2.5M359.60 283.00v-2.5M359.60 76.00v2.5M409.60 283.00v-2.5M409.60 76.00v2.5M459.60 283.00v-2.5M459.60 76.00v2.5M509.60 283.00v-2.5M509.60 76.00v2.5M309.00 108.40h2.5M534.00 108.40h-2.5M309.00 144.47h2.5M534.00 144.47h-2.5M309.00 180.54h2.5M534.00 180.54h-2.5M309.00 216.61h2.5M534.00 216.61h-2.5M309.00 252.68h2.5M534.00 252.68h-2.5" stroke="#000" stroke-width="0.9" stroke-opacity="0.85" fill="none"/><rect x="70.50" y="375.50" width="225.00" height="210.00" fill="none" stroke="#000" stroke-width="1" stroke-opacity="0.5"/><path d="M70.00 586.00v-2.5M70.00 375.00v2.5M120.33 586.00v-2.5M120.33 375.00v2.5M170.66 586.00v-2.5M170.66 375.00v2.5M220.99 586.00v-2.5M220.99 375.00v2.5M271.32 586.00v-2.5M271.32 375.00v2.5M70.00 407.20h2.5M296.00 407.20h-2.5M70.00 444.15h2.5M296.00 444.15h-2.5M70.00 481.10h2.5M296.00 481.10h-2.5M70.00 518.05h2.5M296.00 518.05h-2.5M70.00 555.00h2.5M296.00 555.00h-2.5" stroke="#000" stroke-width="0.9" stroke-opacity="0.85" fill="none"/><rect x="305.50" y="375.50" width="226.00" height="210.00" fill="none" stroke="#000" stroke-width="1" stroke-opacity="0.5"/><path d="M305.50 586.00v-2.5M305.50 375.00v2.5M355.75 586.00v-2.5M355.75 375.00v2.5M406.00 586.00v-2.5M406.00 375.00v2.5M456.25 586.00v-2.5M456.25 375.00v2.5M506.50 586.00v-2.5M506.50 375.00v2.5M305.00 407.20h2.5M532.00 407.20h-2.5M305.00 444.15h2.5M532.00 444.15h-2.5M305.00 481.10h2.5M532.00 481.10h-2.5M305.00 518.05h2.5M532.00 518.05h-2.5M305.00 555.00h2.5M532.00 555.00h-2.5" stroke="#000" stroke-width="0.9" stroke-opacity="0.85" fill="none"/><rect x="546.50" y="76.50" width="14.00" height="207.00" fill="none" stroke="#000" stroke-width="1" stroke-opacity="0.5"/><path d="M546.00 105.00h1.6M561.00 105.00h-1.6M546.00 136.00h1.6M561.00 136.00h-1.6M546.00 167.00h1.6M561.00 167.00h-1.6M546.00 198.00h1.6M561.00 198.00h-1.6M546.00 229.00h1.6M561.00 229.00h-1.6M546.00 260.00h1.6M561.00 260.00h-1.6" stroke="#000" stroke-width="0.9" stroke-opacity="0.85" fill="none"/><rect x="544.50" y="376.50" width="13.50" height="210.00" fill="none" stroke="#000" stroke-width="1" stroke-opacity="0.5"/><path d="M544.00 380.50h1.6M558.50 380.50h-1.6M544.00 411.10h1.6M558.50 411.10h-1.6M544.00 441.70h1.6M558.50 441.70h-1.6M544.00 472.30h1.6M558.50 472.30h-1.6M544.00 502.90h1.6M558.50 502.90h-1.6M544.00 533.50h1.6M558.50 533.50h-1.6M544.00 564.10h1.6M558.50 564.10h-1.6" stroke="#000" stroke-width="0.9" stroke-opacity="0.85" fill="none"/><rect x="160" y="40" width="41.0" height="32.0" fill="#FFC800"/><rect x="402.2" y="40" width="39.6" height="32.0" fill="#A8A8DF"/><rect x="155.6" y="338" width="40.4" height="32.4" fill="#FFC800"/><rect x="397.7" y="338.2" width="39.1" height="32.1" fill="#A8A8DF"/><g font-family="'Liberation Sans', sans-serif" fill="#000"><text x="24.33" y="114.52" font-size="17.8" textLength="48.18" lengthAdjust="spacingAndGlyphs">11000</text><text x="19.73" y="413.32" font-size="17.8" textLength="48.18" lengthAdjust="spacingAndGlyphs">11000</text><text x="22.99" y="150.59" font-size="17.8" textLength="49.50" lengthAdjust="spacingAndGlyphs">10000</text><text x="18.39" y="450.27" font-size="17.8" textLength="49.50" lengthAdjust="spacingAndGlyphs">10000</text><text x="32.91" y="186.66" font-size="17.8" textLength="39.60" lengthAdjust="spacingAndGlyphs">9000</text><text x="28.31" y="487.22" font-size="17.8" textLength="39.60" lengthAdjust="spacingAndGlyphs">9000</text><text x="32.91" y="222.73" font-size="17.8" textLength="39.60" lengthAdjust="spacingAndGlyphs">8000</text><text x="28.31" y="524.17" font-size="17.8" textLength="39.60" lengthAdjust="spacingAndGlyphs">8000</text><text x="32.91" y="258.80" font-size="17.8" textLength="39.60" lengthAdjust="spacingAndGlyphs">7000</text><text x="28.31" y="561.12" font-size="17.8" textLength="39.60" lengthAdjust="spacingAndGlyphs">7000</text><text x="69.25" y="301.10" font-size="17.8" textLength="9.90" lengthAdjust="spacingAndGlyphs">0</text><text x="304.65" y="301.10" font-size="17.8" textLength="9.90" lengthAdjust="spacingAndGlyphs">0</text><text x="65.05" y="603.90" font-size="17.8" textLength="9.90" lengthAdjust="spacingAndGlyphs">0</text><text x="300.55" y="603.90" font-size="17.8" textLength="9.90" lengthAdjust="spacingAndGlyphs">0</text><text x="104.31" y="301.10" font-size="17.8" textLength="39.60" lengthAdjust="spacingAndGlyphs">2000</text><text x="339.71" y="301.10" font-size="17.8" textLength="39.60" lengthAdjust="spacingAndGlyphs">2000</text><text x="100.44" y="603.90" font-size="17.8" textLength="39.60" lengthAdjust="spacingAndGlyphs">2000</text><text x="335.86" y="603.90" font-size="17.8" textLength="39.60" lengthAdjust="spacingAndGlyphs">2000</text><text x="154.55" y="301.10" font-size="17.8" textLength="39.60" lengthAdjust="spacingAndGlyphs">4000</text><text x="389.95" y="301.10" font-size="17.8" textLength="39.60" lengthAdjust="spacingAndGlyphs">4000</text><text x="151.01" y="603.90" font-size="17.8" textLength="39.60" lengthAdjust="spacingAndGlyphs">4000</text><text x="386.35" y="603.90" font-size="17.8" textLength="39.60" lengthAdjust="spacingAndGlyphs">4000</text><text x="204.30" y="301.10" font-size="17.8" textLength="39.60" lengthAdjust="spacingAndGlyphs">6000</text><text x="439.70" y="301.10" font-size="17.8" textLength="39.60" lengthAdjust="spacingAndGlyphs">6000</text><text x="201.09" y="603.90" font-size="17.8" textLength="39.60" lengthAdjust="spacingAndGlyphs">6000</text><text x="436.35" y="603.90" font-size="17.8" textLength="39.60" lengthAdjust="spacingAndGlyphs">6000</text><text x="254.37" y="301.10" font-size="17.8" textLength="39.60" lengthAdjust="spacingAndGlyphs">8000</text><text x="489.77" y="301.10" font-size="17.8" textLength="39.60" lengthAdjust="spacingAndGlyphs">8000</text><text x="251.49" y="603.90" font-size="17.8" textLength="39.60" lengthAdjust="spacingAndGlyphs">8000</text><text x="486.67" y="603.90" font-size="17.8" textLength="39.60" lengthAdjust="spacingAndGlyphs">8000</text><text x="561.49" y="111.12" font-size="17.8" textLength="39.60" lengthAdjust="spacingAndGlyphs">6000</text><text x="561.69" y="142.12" font-size="17.8" textLength="39.60" lengthAdjust="spacingAndGlyphs">5000</text><text x="561.99" y="173.12" font-size="17.8" textLength="39.60" lengthAdjust="spacingAndGlyphs">4000</text><text x="561.72" y="204.12" font-size="17.8" textLength="39.60" lengthAdjust="spacingAndGlyphs">3000</text><text x="561.51" y="235.12" font-size="17.8" textLength="39.60" lengthAdjust="spacingAndGlyphs">2000</text><text x="561.05" y="266.12" font-size="17.8" textLength="39.60" lengthAdjust="spacingAndGlyphs">1000</text><text x="560.09" y="386.62" font-size="17.8" textLength="39.60" lengthAdjust="spacingAndGlyphs">7000</text><text x="560.09" y="417.22" font-size="17.8" textLength="39.60" lengthAdjust="spacingAndGlyphs">6000</text><text x="560.29" y="447.82" font-size="17.8" textLength="39.60" lengthAdjust="spacingAndGlyphs">5000</text><text x="560.59" y="478.42" font-size="17.8" textLength="39.60" lengthAdjust="spacingAndGlyphs">4000</text><text x="560.32" y="509.02" font-size="17.8" textLength="39.60" lengthAdjust="spacingAndGlyphs">3000</text><text x="560.11" y="539.62" font-size="17.8" textLength="39.60" lengthAdjust="spacingAndGlyphs">2000</text><text x="559.65" y="570.22" font-size="17.8" textLength="39.60" lengthAdjust="spacingAndGlyphs">1000</text><text x="141.42" y="620.00" font-size="15.8" textLength="80.59" lengthAdjust="spacingAndGlyphs">Time [Myr]</text><text x="376.82" y="620.00" font-size="15.8" textLength="80.59" lengthAdjust="spacingAndGlyphs">Time [Myr]</text><text transform="rotate(-90)" x="-225.21" y="16.25" font-size="15.8" textLength="91.04" lengthAdjust="spacingAndGlyphs">Radius [km]</text><text transform="rotate(-90)" x="-525.81" y="16.25" font-size="15.8" textLength="91.04" lengthAdjust="spacingAndGlyphs">Radius [km]</text><text x="537.91" y="65.50" font-size="16.5" textLength="37.16" lengthAdjust="spacingAndGlyphs">T [K]</text><text x="538.11" y="365.50" font-size="16.5" textLength="37.16" lengthAdjust="spacingAndGlyphs">T [K]</text><text x="212.19" y="14.50" font-size="19.8" font-weight="bold" textLength="77.84" lengthAdjust="spacingAndGlyphs">M=10, T</text><text x="288.67" y="20.60" font-size="14" textLength="7.52" lengthAdjust="spacingAndGlyphs">c</text><text x="296.87" y="14.50" font-size="19.8" font-weight="bold" textLength="98.14" lengthAdjust="spacingAndGlyphs">(0)=6100K</text><text x="269.91" y="46.30" font-size="20.5" textLength="12.18" lengthAdjust="spacingAndGlyphs">V</text><text x="284.81" y="41.00" font-size="14.5" textLength="4.69" lengthAdjust="spacingAndGlyphs">*</text><text x="290.40" y="51.00" font-size="14" textLength="15.68" lengthAdjust="spacingAndGlyphs">eff</text><text x="306.32" y="46.30" font-size="20.5" textLength="22.87" lengthAdjust="spacingAndGlyphs">=0</text><text x="217.30" y="344.60" font-size="20.5" textLength="13.81" lengthAdjust="spacingAndGlyphs">V</text><text x="232.69" y="339.20" font-size="14.5" textLength="5.01" lengthAdjust="spacingAndGlyphs">*</text><text x="238.10" y="349.30" font-size="14" textLength="15.58" lengthAdjust="spacingAndGlyphs">eff</text><text x="254.54" y="344.60" font-size="20.5" textLength="71.59" lengthAdjust="spacingAndGlyphs">=1.7cm</text><text x="325.45" y="339.40" font-size="13.5" textLength="8.10" lengthAdjust="spacingAndGlyphs">3</text><text x="333.45" y="344.60" font-size="20.5" textLength="37.83" lengthAdjust="spacingAndGlyphs">mol</text><text x="371.19" y="338.30" font-size="13.5" textLength="10.39" lengthAdjust="spacingAndGlyphs">-1</text><text x="166.54" y="64.20" font-size="21.5" textLength="27.45" lengthAdjust="spacingAndGlyphs">PT</text><text x="409.16" y="64.40" font-size="21.5" textLength="25.13" lengthAdjust="spacingAndGlyphs">SL</text><text x="161.52" y="362.20" font-size="21.5" textLength="27.67" lengthAdjust="spacingAndGlyphs">PT</text><text x="404.36" y="362.60" font-size="21.5" textLength="25.02" lengthAdjust="spacingAndGlyphs">SL</text></g></svg></body></html>
